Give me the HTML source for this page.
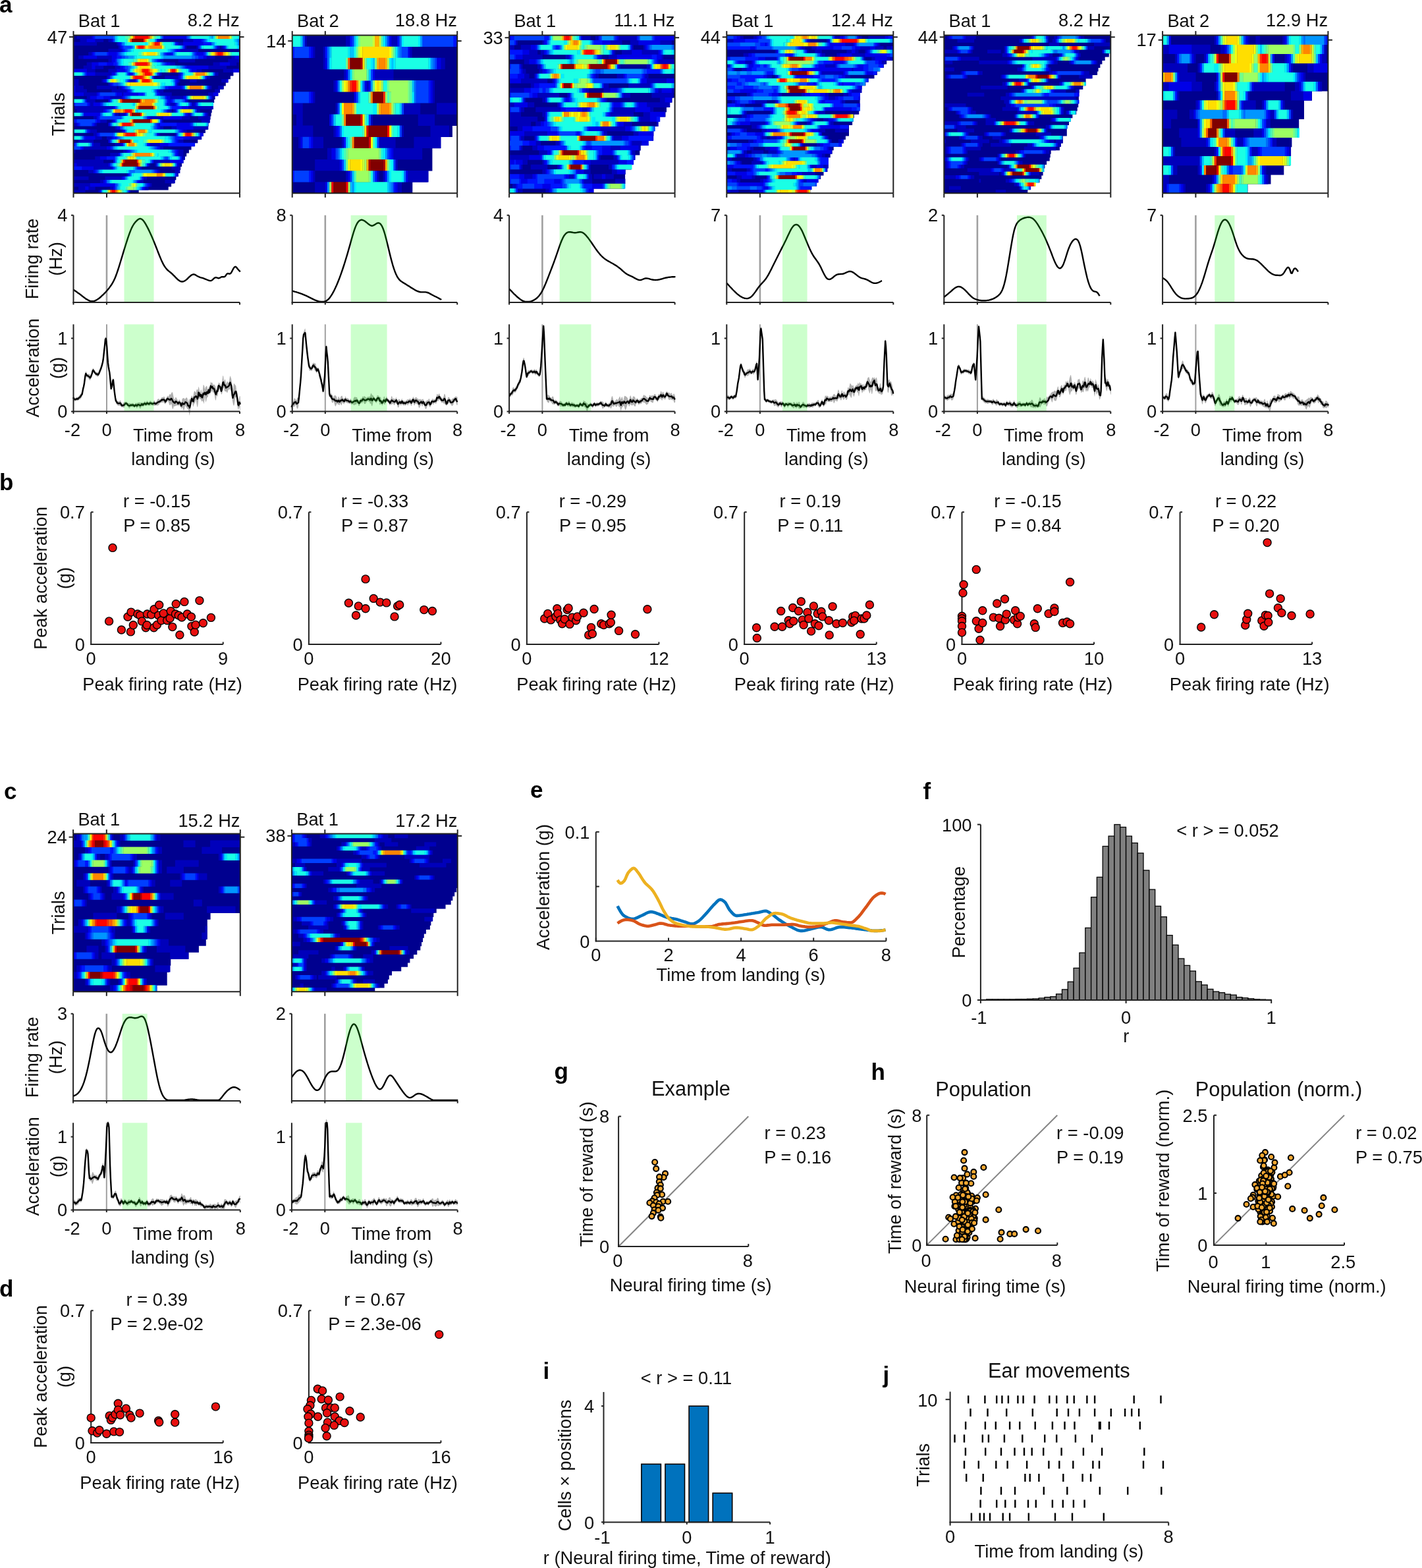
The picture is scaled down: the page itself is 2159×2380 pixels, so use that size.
<!DOCTYPE html>
<html><head><meta charset="utf-8"><title>Figure</title>
<style>
html,body{margin:0;padding:0;background:#fff;}
svg{display:block;}
text{font-family:"Liberation Sans",Arial,Helvetica,sans-serif;font-size:27.3px;fill:#111;}
</style></head>
<body>
<svg xmlns="http://www.w3.org/2000/svg" width="2159" height="2380" viewBox="0 0 2159 2380">
<rect width="2159" height="2380" fill="#fff"/>
<path d="M111.5 53.6H364v5.5H111.5zM111.5 58.7H364v5.5H111.5zM111.5 63.8H364v5.5H111.5zM111.5 68.9H364v5.5H111.5zM111.5 74H364v5.5H111.5zM111.5 79.1H364v5.5H111.5zM111.5 84.2H364v5.5H111.5zM111.5 89.3H364v5.5H111.5zM111.5 94.4H364v5.5H111.5zM111.5 99.5H364v5.5H111.5zM111.5 104.6H364v5.5H111.5zM111.5 109.7H354.4v5.5H111.5zM111.5 114.8H349.9v5.5H111.5zM111.5 119.9H346.3v5.5H111.5zM111.5 125H342.8v5.5H111.5zM111.5 130.1H339.8v5.5H111.5zM111.5 135.2H334v5.5H111.5zM111.5 140.3H330.3v5.5H111.5zM111.5 145.4H326.6v5.5H111.5zM111.5 150.5H325.2v5.5H111.5zM111.5 155.6H323.9v5.5H111.5zM111.5 160.7H322.8v5.5H111.5zM111.5 165.8H321.7v5.5H111.5zM111.5 170.9H320.6v5.5H111.5zM111.5 176H319.6v5.5H111.5zM111.5 181.1H318.1v5.5H111.5zM111.5 186.2H316.7v5.5H111.5zM111.5 191.3H315.3v5.5H111.5zM111.5 196.4H311.9v5.5H111.5zM111.5 201.5H308.5v5.5H111.5zM111.5 206.6H305.2v5.5H111.5zM111.5 211.7H300.3v5.5H111.5zM111.5 216.8H295.4v5.5H111.5zM111.5 221.9H290.5v5.5H111.5zM111.5 227H286.9v5.5H111.5zM111.5 232.1H283.2v5.5H111.5zM111.5 237.2H280.8v5.5H111.5zM111.5 242.3H278.5v5.5H111.5zM111.5 247.4H276.1v5.5H111.5zM111.5 252.5H274.2v5.5H111.5zM111.5 257.6H272.3v5.5H111.5zM111.5 262.7H270.3v5.5H111.5zM111.5 267.8H267.4v5.5H111.5zM111.5 272.9H264.5v5.5H111.5zM111.5 278H260.1v5.5H111.5zM111.5 283.1H255.7v5.5H111.5zM111.5 288.2H210.7v5.5H111.5z" fill="#00008f"/>
<path d="M116.5 53.6h23v5.4h-23zM121.6 58.7h10.4v5.4h-10.4zM144.3 58.7h12.9v5.4h-12.9zM164.5 58.7h5.4v5.4h-5.4zM240.3 58.7h2.8v5.4h-2.8zM278.1 58.7h15.5v5.4h-15.5zM111.5 63.8h35.6v5.4h-35.6zM177.2 63.8h2.8v5.4h-2.8zM270.6 63.8h7.9v5.4h-7.9zM179.7 68.9h2.8v5.4h-2.8zM280.7 68.9h2.8v5.4h-2.8zM298.4 68.9h2.8v5.4h-2.8zM331.2 68.9h2.8v5.4h-2.8zM336.2 68.9h2.8v5.4h-2.8zM164.5 74h20.5v5.4h-20.5zM273.1 74h28.1v5.4h-28.1zM134.2 79.1h5.4v5.4h-5.4zM119.1 84.2h7.9v5.4h-7.9zM146.8 84.2h23v5.4h-23zM313.5 84.2h12.9v5.4h-12.9zM351.4 84.2h5.4v5.4h-5.4zM164.5 89.3h5.4v5.4h-5.4zM242.8 89.3h5.4v5.4h-5.4zM270.6 89.3h25.6v5.4h-25.6zM346.3 89.3h18v5.4h-18zM131.7 94.4h7.9v5.4h-7.9zM258 94.4h7.9v5.4h-7.9zM323.6 94.4h10.4v5.4h-10.4zM348.9 94.4h10.4v5.4h-10.4zM126.7 99.5h12.9v5.4h-12.9zM144.3 99.5h12.9v5.4h-12.9zM174.6 99.5h7.9v5.4h-7.9zM316 99.5h28.1v5.4h-28.1zM131.7 104.6h12.9v5.4h-12.9zM164.5 104.6h12.9v5.4h-12.9zM298.4 104.6h7.9v5.4h-7.9zM338.8 104.6h15.5v5.4h-15.5zM144.3 109.7h25.6v5.4h-25.6zM242.8 109.7h2.8v5.4h-2.8zM270.6 109.7h2.8v5.4h-2.8zM326.1 109.7h5.4v5.4h-5.4zM162 114.8h2.8v5.4h-2.8zM232.7 114.8h2.8v5.4h-2.8zM250.4 114.8h20.5v5.4h-20.5zM313.5 114.8h5.4v5.4h-5.4zM111.5 119.9h7.9v5.4h-7.9zM154.4 119.9h2.8v5.4h-2.8zM197.4 119.9h7.9v5.4h-7.9zM270.6 119.9h2.8v5.4h-2.8zM288.2 119.9h10.4v5.4h-10.4zM336.2 119.9h7.9v5.4h-7.9zM111.5 125h7.9v5.4h-7.9zM164.5 125h2.8v5.4h-2.8zM268.1 125h2.8v5.4h-2.8zM114 130.1h12.9v5.4h-12.9zM146.8 130.1h30.6v5.4h-30.6zM179.7 130.1h5.4v5.4h-5.4zM318.6 130.1h2.8v5.4h-2.8zM331.2 130.1h7.9v5.4h-7.9zM114 135.2h18v5.4h-18zM169.6 135.2h23v5.4h-23zM240.3 135.2h7.9v5.4h-7.9zM326.1 135.2h7.9v5.4h-7.9zM126.7 140.3h20.5v5.4h-20.5zM184.7 140.3h2.8v5.4h-2.8zM242.8 140.3h18v5.4h-18zM316 140.3h7.9v5.4h-7.9zM131.7 145.4h5.4v5.4h-5.4zM167.1 145.4h18v5.4h-18zM258 145.4h20.5v5.4h-20.5zM321.1 145.4h2.8v5.4h-2.8zM131.7 150.5h12.9v5.4h-12.9zM283.2 150.5h2.8v5.4h-2.8zM136.8 155.6h5.4v5.4h-5.4zM258 155.6h7.9v5.4h-7.9zM290.8 155.6h5.4v5.4h-5.4zM114 160.7h58.4v5.4h-58.4zM285.7 160.7h38.2v5.4h-38.2zM116.5 165.8h40.7v5.4h-40.7zM255.4 165.8h5.4v5.4h-5.4zM263 165.8h2.8v5.4h-2.8zM298.4 165.8h5.3v5.4h-5.3zM174.6 170.9h5.4v5.4h-5.4zM182.2 170.9h7.9v5.4h-7.9zM285.7 170.9h2.8v5.4h-2.8zM313.5 170.9h2.8v5.4h-2.8zM141.8 176h5.3v5.4h-5.3zM227.7 176h20.5v5.4h-20.5zM275.6 176h12.9v5.4h-12.9zM300.9 176h18v5.4h-18zM151.9 181.1h10.4v5.4h-10.4zM169.6 181.1h2.8v5.4h-2.8zM245.3 181.1h2.8v5.4h-2.8zM305.9 181.1h12.9v5.4h-12.9zM111.5 186.2h5.3v5.4h-5.3zM144.3 186.2h2.8v5.4h-2.8zM174.6 191.3h2.8v5.4h-2.8zM242.8 191.3h5.4v5.4h-5.4zM260.5 191.3h7.9v5.4h-7.9zM293.3 191.3h23v5.4h-23zM136.8 196.4h10.4v5.4h-10.4zM184.7 196.4h2.8v5.4h-2.8zM278.1 196.4h5.4v5.4h-5.4zM141.8 201.5h5.3v5.4h-5.3zM240.3 201.5h2.8v5.4h-2.8zM265.5 201.5h2.8v5.4h-2.8zM144.3 206.6h10.4v5.4h-10.4zM162 206.6h7.9v5.4h-7.9zM288.2 206.6h18v5.4h-18zM119.1 211.7h23v5.4h-23zM270.6 211.7h7.9v5.4h-7.9zM141.8 216.8h10.4v5.4h-10.4zM174.6 216.8h10.4v5.4h-10.4zM227.7 216.8h15.4v5.4h-15.4zM126.7 221.9h35.6v5.4h-35.6zM242.8 221.9h5.4v5.4h-5.4zM111.5 227h2.8v5.4h-2.8zM187.2 227h5.4v5.4h-5.4zM270.6 227h7.9v5.4h-7.9zM167.1 232.1h12.9v5.4h-12.9zM270.6 232.1h7.9v5.4h-7.9zM144.3 237.2h7.9v5.4h-7.9zM275.6 237.2h5.4v5.4h-5.4zM111.5 242.3h45.7v5.4h-45.7zM232.7 242.3h25.6v5.4h-25.6zM116.5 247.4h48.3v5.4h-48.3zM225.1 247.4h2.8v5.4h-2.8zM235.2 247.4h2.8v5.4h-2.8zM270.6 247.4h2.8v5.4h-2.8zM141.8 252.5h28.1v5.4h-28.1zM212.5 252.5h2.8v5.4h-2.8zM260.5 252.5h12.9v5.4h-12.9zM134.2 257.6h7.9v5.4h-7.9zM240.3 257.6h2.8v5.4h-2.8zM265.5 257.6h7.9v5.4h-7.9zM192.3 262.7h2.8v5.4h-2.8zM268.1 262.7h2.8v5.4h-2.8zM111.5 267.8h23v5.4h-23zM159.5 267.8h25.6v5.4h-25.6zM217.6 267.8h5.4v5.4h-5.4zM151.9 272.9h5.3v5.4h-5.3zM212.5 272.9h5.4v5.4h-5.4zM250.4 272.9h15.4v5.4h-15.4zM111.5 278h25.6v5.4h-25.6zM227.7 278h2.8v5.4h-2.8zM119.1 283.1h10.4v5.4h-10.4zM134.2 283.1h10.4v5.4h-10.4zM167.1 283.1h5.4v5.4h-5.4zM220.1 283.1h5.4v5.4h-5.4zM111.5 288.2h18v5.4h-18zM149.4 288.2h2.8v5.4h-2.8z" fill="#0000bb"/>
<path d="M139.3 53.6h2.8v5.4h-2.8zM247.9 53.6h35.7v5.4h-35.7zM131.7 58.7h12.9v5.4h-12.9zM169.6 58.7h2.8v5.4h-2.8zM237.8 58.7h2.8v5.4h-2.8zM293.3 58.7h12.9v5.4h-12.9zM179.7 63.8h2.8v5.4h-2.8zM268.1 63.8h2.8v5.4h-2.8zM278.1 63.8h30.6v5.4h-30.6zM182.2 68.9h2.8v5.4h-2.8zM328.6 68.9h2.8v5.4h-2.8zM338.8 68.9h2.8v5.4h-2.8zM184.7 74h2.8v5.4h-2.8zM268.1 74h5.4v5.4h-5.4zM139.3 79.1h2.8v5.4h-2.8zM164.5 79.1h12.9v5.4h-12.9zM252.9 79.1h7.9v5.4h-7.9zM298.4 79.1h10.4v5.4h-10.4zM126.7 84.2h20.5v5.4h-20.5zM169.6 84.2h7.9v5.4h-7.9zM308.5 84.2h5.3v5.4h-5.3zM356.4 84.2h7.9v5.4h-7.9zM169.6 89.3h5.3v5.4h-5.3zM240.3 89.3h2.8v5.4h-2.8zM139.3 94.4h10.4v5.4h-10.4zM162 94.4h10.4v5.4h-10.4zM252.9 94.4h5.4v5.4h-5.4zM333.7 94.4h15.4v5.4h-15.4zM139.3 99.5h5.3v5.4h-5.3zM182.2 99.5h5.4v5.4h-5.4zM283.2 99.5h33.1v5.4h-33.1zM111.5 104.6h20.5v5.4h-20.5zM177.2 104.6h12.9v5.4h-12.9zM290.8 104.6h7.9v5.4h-7.9zM353.9 104.6h10.4v5.4h-10.4zM131.7 109.7h12.9v5.4h-12.9zM169.6 109.7h5.3v5.4h-5.3zM194.8 109.7h5.4v5.4h-5.4zM240.3 109.7h2.8v5.4h-2.8zM273.1 109.7h2.8v5.4h-2.8zM164.5 114.8h2.8v5.4h-2.8zM270.6 114.8h2.8v5.4h-2.8zM156.9 119.9h2.8v5.4h-2.8zM194.8 119.9h2.8v5.4h-2.8zM204.9 119.9h2.8v5.4h-2.8zM268.1 119.9h2.8v5.4h-2.8zM343.8 119.9h2.8v5.4h-2.8zM167.1 125h2.8v5.4h-2.8zM111.5 130.1h2.8v5.4h-2.8zM184.7 130.1h2.8v5.4h-2.8zM255.4 130.1h20.5v5.4h-20.5zM316 130.1h2.8v5.4h-2.8zM111.5 135.2h2.8v5.4h-2.8zM192.3 135.2h2.8v5.4h-2.8zM237.8 135.2h2.8v5.4h-2.8zM111.5 140.3h15.5v5.4h-15.5zM146.8 140.3h2.8v5.4h-2.8zM177.2 140.3h7.9v5.4h-7.9zM187.2 140.3h23v5.4h-23zM240.3 140.3h2.8v5.4h-2.8zM323.6 140.3h7.9v5.4h-7.9zM136.8 145.4h10.4v5.4h-10.4zM156.9 145.4h10.4v5.4h-10.4zM184.7 145.4h2.8v5.4h-2.8zM252.9 145.4h5.4v5.4h-5.4zM278.1 145.4h2.8v5.4h-2.8zM129.2 150.5h2.8v5.4h-2.8zM164.5 150.5h2.8v5.4h-2.8zM255.4 150.5h5.4v5.4h-5.4zM280.7 150.5h2.8v5.4h-2.8zM134.2 155.6h2.8v5.4h-2.8zM141.8 155.6h10.4v5.4h-10.4zM252.9 155.6h5.4v5.4h-5.4zM265.5 155.6h2.8v5.4h-2.8zM295.8 155.6h2.8v5.4h-2.8zM172.1 160.7h2.8v5.4h-2.8zM275.6 160.7h10.4v5.4h-10.4zM156.9 165.8h2.8v5.4h-2.8zM252.9 165.8h2.8v5.4h-2.8zM265.5 165.8h2.8v5.4h-2.8zM126.7 170.9h25.6v5.4h-25.6zM189.8 170.9h2.8v5.4h-2.8zM283.2 170.9h2.8v5.4h-2.8zM288.2 170.9h2.8v5.4h-2.8zM311 170.9h2.8v5.4h-2.8zM146.8 176h2.8v5.4h-2.8zM225.1 176h2.8v5.4h-2.8zM247.9 176h28.1v5.4h-28.1zM146.8 181.1h5.4v5.4h-5.4zM172.1 181.1h2.8v5.4h-2.8zM116.5 186.2h2.8v5.4h-2.8zM141.8 186.2h2.8v5.4h-2.8zM164.5 186.2h2.8v5.4h-2.8zM240.3 186.2h2.8v5.4h-2.8zM268.1 186.2h20.5v5.4h-20.5zM177.2 191.3h5.3v5.4h-5.3zM240.3 191.3h2.8v5.4h-2.8zM268.1 191.3h25.6v5.4h-25.6zM134.2 196.4h2.8v5.4h-2.8zM187.2 196.4h2.8v5.4h-2.8zM275.6 196.4h2.8v5.4h-2.8zM146.8 201.5h2.8v5.4h-2.8zM237.8 201.5h2.8v5.4h-2.8zM303.4 201.5h5.4v5.4h-5.4zM129.2 206.6h15.4v5.4h-15.4zM169.6 206.6h2.8v5.4h-2.8zM278.1 206.6h10.4v5.4h-10.4zM164.5 211.7h2.8v5.4h-2.8zM268.1 211.7h2.8v5.4h-2.8zM139.3 216.8h2.8v5.4h-2.8zM184.7 216.8h2.8v5.4h-2.8zM225.1 216.8h2.8v5.4h-2.8zM242.8 216.8h12.9v5.4h-12.9zM124.1 221.9h2.8v5.4h-2.8zM162 221.9h5.4v5.4h-5.4zM240.3 221.9h2.8v5.4h-2.8zM192.3 227h2.8v5.4h-2.8zM268.1 227h2.8v5.4h-2.8zM179.7 232.1h2.8v5.4h-2.8zM268.1 232.1h2.8v5.4h-2.8zM151.9 237.2h10.4v5.4h-10.4zM172.1 242.3h2.8v5.4h-2.8zM258 242.3h20.5v5.4h-20.5zM111.5 247.4h5.3v5.4h-5.3zM164.5 247.4h2.8v5.4h-2.8zM268.1 247.4h2.8v5.4h-2.8zM124.1 252.5h18v5.4h-18zM169.6 252.5h2.8v5.4h-2.8zM210 252.5h2.8v5.4h-2.8zM141.8 257.6h2.8v5.4h-2.8zM237.8 257.6h2.8v5.4h-2.8zM184.7 267.8h2.8v5.4h-2.8zM156.9 272.9h2.8v5.4h-2.8zM210 272.9h2.8v5.4h-2.8zM136.8 278h38.2v5.4h-38.2zM225.1 278h2.8v5.4h-2.8zM129.2 283.1h5.3v5.4h-5.3zM172.1 283.1h2.8v5.4h-2.8zM217.6 283.1h2.8v5.4h-2.8zM194.8 288.2h2.8v5.4h-2.8z" fill="#0000e7"/>
<path d="M141.8 53.6h2.8v5.4h-2.8zM305.9 58.7h2.8v5.4h-2.8zM182.2 63.8h2.8v5.4h-2.8zM265.5 63.8h2.8v5.4h-2.8zM308.5 63.8h12.9v5.4h-12.9zM184.7 68.9h2.8v5.4h-2.8zM278.1 68.9h2.8v5.4h-2.8zM300.9 68.9h2.8v5.4h-2.8zM187.2 74h2.8v5.4h-2.8zM265.5 74h2.8v5.4h-2.8zM141.8 79.1h2.8v5.4h-2.8zM162 79.1h2.8v5.4h-2.8zM177.2 79.1h2.8v5.4h-2.8zM250.4 79.1h2.8v5.4h-2.8zM260.5 79.1h2.8v5.4h-2.8zM295.8 79.1h2.8v5.4h-2.8zM308.5 79.1h2.8v5.4h-2.8zM177.2 84.2h7.9v5.4h-7.9zM300.9 84.2h7.9v5.4h-7.9zM174.6 89.3h2.8v5.4h-2.8zM237.8 89.3h2.8v5.4h-2.8zM149.4 94.4h12.9v5.4h-12.9zM172.1 94.4h5.3v5.4h-5.3zM250.4 94.4h2.8v5.4h-2.8zM187.2 99.5h2.8v5.4h-2.8zM280.7 99.5h2.8v5.4h-2.8zM189.8 104.6h2.8v5.4h-2.8zM288.2 104.6h2.8v5.4h-2.8zM129.2 109.7h2.8v5.4h-2.8zM199.9 109.7h2.8v5.4h-2.8zM273.1 114.8h2.8v5.4h-2.8zM311 114.8h2.8v5.4h-2.8zM159.5 119.9h2.8v5.4h-2.8zM265.5 119.9h2.8v5.4h-2.8zM169.6 125h2.8v5.4h-2.8zM265.5 125h2.8v5.4h-2.8zM187.2 130.1h2.8v5.4h-2.8zM250.4 130.1h5.4v5.4h-5.4zM275.6 130.1h2.8v5.4h-2.8zM194.8 135.2h2.8v5.4h-2.8zM149.4 140.3h2.8v5.4h-2.8zM174.6 140.3h2.8v5.4h-2.8zM210 140.3h7.9v5.4h-7.9zM237.8 140.3h2.8v5.4h-2.8zM146.8 145.4h10.4v5.4h-10.4zM187.2 145.4h2.8v5.4h-2.8zM250.4 145.4h2.8v5.4h-2.8zM280.7 145.4h2.8v5.4h-2.8zM318.6 145.4h2.8v5.4h-2.8zM252.9 150.5h2.8v5.4h-2.8zM260.5 150.5h2.8v5.4h-2.8zM111.5 155.6h2.8v5.4h-2.8zM131.7 155.6h2.8v5.4h-2.8zM151.9 155.6h2.8v5.4h-2.8zM288.2 155.6h2.8v5.4h-2.8zM260.5 160.7h15.4v5.4h-15.4zM159.5 165.8h2.8v5.4h-2.8zM172.1 170.9h2.8v5.4h-2.8zM280.7 170.9h2.8v5.4h-2.8zM149.4 176h2.8v5.4h-2.8zM222.6 176h2.8v5.4h-2.8zM111.5 181.1h5.3v5.4h-5.3zM144.3 181.1h2.8v5.4h-2.8zM242.8 181.1h2.8v5.4h-2.8zM119.1 186.2h2.8v5.4h-2.8zM139.3 186.2h2.8v5.4h-2.8zM237.8 186.2h2.8v5.4h-2.8zM242.8 186.2h25.6v5.4h-25.6zM288.2 186.2h2.8v5.4h-2.8zM237.8 191.3h2.8v5.4h-2.8zM131.7 196.4h2.8v5.4h-2.8zM273.1 196.4h2.8v5.4h-2.8zM149.4 201.5h2.8v5.4h-2.8zM126.7 206.6h2.8v5.4h-2.8zM172.1 206.6h5.3v5.4h-5.3zM265.5 206.6h12.9v5.4h-12.9zM265.5 211.7h2.8v5.4h-2.8zM111.5 216.8h2.8v5.4h-2.8zM222.6 216.8h2.8v5.4h-2.8zM255.4 216.8h40.7v5.4h-40.7zM121.6 221.9h2.8v5.4h-2.8zM167.1 221.9h2.8v5.4h-2.8zM237.8 221.9h2.8v5.4h-2.8zM194.8 227h2.8v5.4h-2.8zM265.5 227h2.8v5.4h-2.8zM265.5 232.1h2.8v5.4h-2.8zM162 237.2h12.9v5.4h-12.9zM273.1 237.2h2.8v5.4h-2.8zM230.2 242.3h2.8v5.4h-2.8zM222.6 247.4h2.8v5.4h-2.8zM111.5 252.5h12.9v5.4h-12.9zM207.4 252.5h2.8v5.4h-2.8zM144.3 257.6h2.8v5.4h-2.8zM235.2 257.6h2.8v5.4h-2.8zM194.8 262.7h2.8v5.4h-2.8zM265.5 262.7h2.8v5.4h-2.8zM187.2 267.8h2.8v5.4h-2.8zM215 267.8h2.8v5.4h-2.8zM159.5 272.9h2.8v5.4h-2.8zM207.4 272.9h2.8v5.4h-2.8zM222.6 278h2.8v5.4h-2.8zM215 283.1h2.8v5.4h-2.8zM151.9 288.2h2.8v5.4h-2.8z" fill="#0013ff"/>
<path d="M144.3 53.6h28.1v5.4h-28.1zM245.3 53.6h2.8v5.4h-2.8zM283.2 53.6h2.8v5.4h-2.8zM172.1 58.7h2.8v5.4h-2.8zM308.5 58.7h2.8v5.4h-2.8zM187.2 68.9h12.9v5.4h-12.9zM326.1 68.9h2.8v5.4h-2.8zM341.3 68.9h2.8v5.4h-2.8zM189.8 74h2.8v5.4h-2.8zM263 74h2.8v5.4h-2.8zM144.3 79.1h18v5.4h-18zM179.7 79.1h2.8v5.4h-2.8zM247.9 79.1h2.8v5.4h-2.8zM293.3 79.1h2.8v5.4h-2.8zM311 79.1h2.8v5.4h-2.8zM184.7 84.2h5.3v5.4h-5.3zM295.8 84.2h5.3v5.4h-5.3zM235.2 89.3h2.8v5.4h-2.8zM177.2 94.4h2.8v5.4h-2.8zM247.9 94.4h2.8v5.4h-2.8zM189.8 99.5h5.3v5.4h-5.3zM278.1 99.5h2.8v5.4h-2.8zM192.3 104.6h2.8v5.4h-2.8zM174.6 109.7h2.8v5.4h-2.8zM192.3 109.7h2.8v5.4h-2.8zM237.8 109.7h2.8v5.4h-2.8zM275.6 109.7h2.8v5.4h-2.8zM323.6 109.7h2.8v5.4h-2.8zM167.1 114.8h2.8v5.4h-2.8zM230.2 114.8h2.8v5.4h-2.8zM192.3 119.9h2.8v5.4h-2.8zM172.1 125h7.9v5.4h-7.9zM189.8 130.1h2.8v5.4h-2.8zM278.1 130.1h2.8v5.4h-2.8zM313.5 130.1h2.8v5.4h-2.8zM197.4 135.2h2.8v5.4h-2.8zM235.2 135.2h2.8v5.4h-2.8zM151.9 140.3h23v5.4h-23zM217.6 140.3h2.8v5.4h-2.8zM189.8 145.4h2.8v5.4h-2.8zM167.1 150.5h2.8v5.4h-2.8zM263 150.5h2.8v5.4h-2.8zM278.1 150.5h2.8v5.4h-2.8zM114 155.6h18v5.4h-18zM154.4 155.6h2.8v5.4h-2.8zM250.4 155.6h2.8v5.4h-2.8zM268.1 155.6h2.8v5.4h-2.8zM298.4 155.6h2.8v5.4h-2.8zM174.6 160.7h2.8v5.4h-2.8zM258 160.7h2.8v5.4h-2.8zM162 165.8h2.8v5.4h-2.8zM250.4 165.8h2.8v5.4h-2.8zM295.8 165.8h2.8v5.4h-2.8zM151.9 170.9h2.8v5.4h-2.8zM308.5 170.9h2.8v5.4h-2.8zM151.9 176h33.1v5.4h-33.1zM116.5 181.1h28.1v5.4h-28.1zM174.6 181.1h2.8v5.4h-2.8zM121.6 186.2h18v5.4h-18zM167.1 186.2h2.8v5.4h-2.8zM235.2 186.2h2.8v5.4h-2.8zM290.8 186.2h2.8v5.4h-2.8zM182.2 191.3h2.8v5.4h-2.8zM235.2 191.3h2.8v5.4h-2.8zM270.6 196.4h2.8v5.4h-2.8zM151.9 201.5h20.5v5.4h-20.5zM268.1 201.5h2.8v5.4h-2.8zM177.2 206.6h2.8v5.4h-2.8zM263 206.6h2.8v5.4h-2.8zM167.1 211.7h2.8v5.4h-2.8zM263 211.7h2.8v5.4h-2.8zM114 216.8h2.8v5.4h-2.8zM111.5 221.9h10.4v5.4h-10.4zM169.6 221.9h2.8v5.4h-2.8zM235.2 221.9h2.8v5.4h-2.8zM197.4 227h2.8v5.4h-2.8zM263 227h2.8v5.4h-2.8zM250.4 237.2h5.4v5.4h-5.4zM167.1 247.4h2.8v5.4h-2.8zM237.8 247.4h2.8v5.4h-2.8zM172.1 252.5h2.8v5.4h-2.8zM146.8 257.6h2.8v5.4h-2.8zM232.7 257.6h2.8v5.4h-2.8zM174.6 278h2.8v5.4h-2.8zM220.1 278h2.8v5.4h-2.8zM174.6 283.1h2.8v5.4h-2.8z" fill="#003fff"/>
<path d="M172.1 53.6h2.8v5.4h-2.8zM285.7 53.6h2.8v5.4h-2.8zM235.2 58.7h2.8v5.4h-2.8zM311 58.7h2.8v5.4h-2.8zM361.5 58.7h2.8v5.4h-2.8zM184.7 63.8h2.8v5.4h-2.8zM321.1 63.8h2.8v5.4h-2.8zM361.5 63.8h2.8v5.4h-2.8zM199.9 68.9h2.8v5.4h-2.8zM275.6 68.9h2.8v5.4h-2.8zM303.4 68.9h2.8v5.4h-2.8zM192.3 74h2.8v5.4h-2.8zM260.5 74h2.8v5.4h-2.8zM182.2 79.1h2.8v5.4h-2.8zM263 79.1h2.8v5.4h-2.8zM189.8 84.2h5.3v5.4h-5.3zM290.8 84.2h5.4v5.4h-5.4zM177.2 89.3h2.8v5.4h-2.8zM232.7 89.3h2.8v5.4h-2.8zM245.3 94.4h2.8v5.4h-2.8zM194.8 99.5h2.8v5.4h-2.8zM275.6 99.5h2.8v5.4h-2.8zM194.8 104.6h2.8v5.4h-2.8zM285.7 104.6h2.8v5.4h-2.8zM126.7 109.7h2.8v5.4h-2.8zM202.4 109.7h2.8v5.4h-2.8zM275.6 114.8h2.8v5.4h-2.8zM207.4 119.9h2.8v5.4h-2.8zM263 119.9h2.8v5.4h-2.8zM179.7 125h2.8v5.4h-2.8zM192.3 130.1h2.8v5.4h-2.8zM247.9 130.1h2.8v5.4h-2.8zM235.2 140.3h2.8v5.4h-2.8zM192.3 145.4h2.8v5.4h-2.8zM247.9 145.4h2.8v5.4h-2.8zM316 145.4h2.8v5.4h-2.8zM126.7 150.5h2.8v5.4h-2.8zM250.4 150.5h2.8v5.4h-2.8zM275.6 150.5h2.8v5.4h-2.8zM285.7 155.6h2.8v5.4h-2.8zM164.5 165.8h2.8v5.4h-2.8zM247.9 165.8h2.8v5.4h-2.8zM268.1 165.8h2.8v5.4h-2.8zM124.1 170.9h2.8v5.4h-2.8zM169.6 170.9h2.8v5.4h-2.8zM192.3 170.9h2.8v5.4h-2.8zM278.1 170.9h2.8v5.4h-2.8zM290.8 170.9h2.8v5.4h-2.8zM220.1 176h2.8v5.4h-2.8zM184.7 191.3h2.8v5.4h-2.8zM232.7 191.3h2.8v5.4h-2.8zM129.2 196.4h2.8v5.4h-2.8zM189.8 196.4h2.8v5.4h-2.8zM172.1 201.5h2.8v5.4h-2.8zM235.2 201.5h2.8v5.4h-2.8zM300.9 201.5h2.8v5.4h-2.8zM124.1 206.6h2.8v5.4h-2.8zM179.7 206.6h2.8v5.4h-2.8zM260.5 206.6h2.8v5.4h-2.8zM260.5 211.7h2.8v5.4h-2.8zM136.8 216.8h2.8v5.4h-2.8zM187.2 216.8h2.8v5.4h-2.8zM232.7 221.9h2.8v5.4h-2.8zM199.9 227h2.8v5.4h-2.8zM260.5 227h2.8v5.4h-2.8zM182.2 232.1h2.8v5.4h-2.8zM263 232.1h2.8v5.4h-2.8zM174.6 237.2h2.8v5.4h-2.8zM247.9 237.2h2.8v5.4h-2.8zM174.6 242.3h2.8v5.4h-2.8zM227.7 242.3h2.8v5.4h-2.8zM265.5 247.4h2.8v5.4h-2.8zM204.9 252.5h2.8v5.4h-2.8zM197.4 257.6h7.9v5.4h-7.9zM230.2 257.6h2.8v5.4h-2.8zM197.4 262.7h2.8v5.4h-2.8zM189.8 267.8h2.8v5.4h-2.8zM212.5 267.8h2.8v5.4h-2.8zM162 272.9h2.8v5.4h-2.8zM204.9 272.9h2.8v5.4h-2.8zM177.2 278h2.8v5.4h-2.8zM212.5 283.1h2.8v5.4h-2.8zM192.3 288.2h2.8v5.4h-2.8z" fill="#006bff"/>
<path d="M242.8 53.6h2.8v5.4h-2.8zM321.1 53.6h2.8v5.4h-2.8zM359 58.7h2.8v5.4h-2.8zM187.2 63.8h2.8v5.4h-2.8zM263 63.8h2.8v5.4h-2.8zM323.6 63.8h2.8v5.4h-2.8zM323.6 68.9h2.8v5.4h-2.8zM194.8 74h2.8v5.4h-2.8zM258 74h2.8v5.4h-2.8zM184.7 79.1h2.8v5.4h-2.8zM245.3 79.1h2.8v5.4h-2.8zM290.8 79.1h2.8v5.4h-2.8zM194.8 84.2h7.9v5.4h-7.9zM247.9 84.2h43.2v5.4h-43.2zM179.7 89.3h2.8v5.4h-2.8zM230.2 89.3h2.8v5.4h-2.8zM179.7 94.4h2.8v5.4h-2.8zM197.4 99.5h2.8v5.4h-2.8zM273.1 99.5h2.8v5.4h-2.8zM169.6 114.8h2.8v5.4h-2.8zM308.5 114.8h2.8v5.4h-2.8zM162 119.9h2.8v5.4h-2.8zM189.8 119.9h2.8v5.4h-2.8zM182.2 125h2.8v5.4h-2.8zM263 125h2.8v5.4h-2.8zM194.8 130.1h2.8v5.4h-2.8zM245.3 130.1h2.8v5.4h-2.8zM199.9 135.2h2.8v5.4h-2.8zM232.7 135.2h2.8v5.4h-2.8zM194.8 145.4h2.8v5.4h-2.8zM245.3 145.4h2.8v5.4h-2.8zM283.2 145.4h2.8v5.4h-2.8zM265.5 150.5h10.4v5.4h-10.4zM156.9 155.6h2.8v5.4h-2.8zM270.6 155.6h2.8v5.4h-2.8zM177.2 160.7h2.8v5.4h-2.8zM255.4 160.7h2.8v5.4h-2.8zM167.1 165.8h2.8v5.4h-2.8zM154.4 170.9h2.8v5.4h-2.8zM184.7 176h2.8v5.4h-2.8zM217.6 176h2.8v5.4h-2.8zM232.7 186.2h2.8v5.4h-2.8zM313.5 186.2h2.8v5.4h-2.8zM268.1 196.4h2.8v5.4h-2.8zM182.2 206.6h2.8v5.4h-2.8zM258 206.6h2.8v5.4h-2.8zM220.1 216.8h2.8v5.4h-2.8zM172.1 221.9h2.8v5.4h-2.8zM230.2 221.9h2.8v5.4h-2.8zM202.4 227h2.8v5.4h-2.8zM255.4 237.2h2.8v5.4h-2.8zM270.6 237.2h2.8v5.4h-2.8zM169.6 247.4h2.8v5.4h-2.8zM220.1 247.4h2.8v5.4h-2.8zM174.6 252.5h2.8v5.4h-2.8zM149.4 257.6h2.8v5.4h-2.8zM194.8 257.6h2.8v5.4h-2.8zM204.9 257.6h25.6v5.4h-25.6zM263 262.7h2.8v5.4h-2.8zM164.5 272.9h2.8v5.4h-2.8zM202.4 272.9h2.8v5.4h-2.8zM217.6 278h2.8v5.4h-2.8zM177.2 283.1h2.8v5.4h-2.8z" fill="#0096ff"/>
<path d="M174.6 53.6h2.8v5.4h-2.8zM288.2 53.6h2.8v5.4h-2.8zM318.6 53.6h2.8v5.4h-2.8zM174.6 58.7h2.8v5.4h-2.8zM313.5 58.7h2.8v5.4h-2.8zM356.4 58.7h2.8v5.4h-2.8zM359 63.8h2.8v5.4h-2.8zM202.4 68.9h2.8v5.4h-2.8zM273.1 68.9h2.8v5.4h-2.8zM343.8 68.9h2.8v5.4h-2.8zM361.5 68.9h2.8v5.4h-2.8zM197.4 74h2.8v5.4h-2.8zM255.4 74h2.8v5.4h-2.8zM187.2 79.1h2.8v5.4h-2.8zM242.8 79.1h2.8v5.4h-2.8zM265.5 79.1h2.8v5.4h-2.8zM313.5 79.1h2.8v5.4h-2.8zM202.4 84.2h2.8v5.4h-2.8zM245.3 84.2h2.8v5.4h-2.8zM182.2 89.3h2.8v5.4h-2.8zM182.2 94.4h2.8v5.4h-2.8zM242.8 94.4h2.8v5.4h-2.8zM199.9 99.5h2.8v5.4h-2.8zM268.1 99.5h5.4v5.4h-5.4zM124.1 109.7h2.8v5.4h-2.8zM177.2 109.7h2.8v5.4h-2.8zM189.8 109.7h2.8v5.4h-2.8zM235.2 109.7h2.8v5.4h-2.8zM278.1 109.7h2.8v5.4h-2.8zM321.1 109.7h2.8v5.4h-2.8zM260.5 119.9h2.8v5.4h-2.8zM184.7 125h2.8v5.4h-2.8zM242.8 130.1h2.8v5.4h-2.8zM311 130.1h2.8v5.4h-2.8zM220.1 140.3h2.8v5.4h-2.8zM242.8 145.4h2.8v5.4h-2.8zM124.1 150.5h2.8v5.4h-2.8zM169.6 150.5h2.8v5.4h-2.8zM247.9 150.5h2.8v5.4h-2.8zM159.5 155.6h2.8v5.4h-2.8zM202.4 155.6h2.8v5.4h-2.8zM247.9 155.6h2.8v5.4h-2.8zM300.9 155.6h2.8v5.4h-2.8zM207.4 165.8h2.8v5.4h-2.8zM245.3 165.8h2.8v5.4h-2.8zM293.3 165.8h2.8v5.4h-2.8zM121.6 170.9h2.8v5.4h-2.8zM293.3 170.9h2.8v5.4h-2.8zM305.9 170.9h2.8v5.4h-2.8zM177.2 181.1h2.8v5.4h-2.8zM240.3 181.1h2.8v5.4h-2.8zM169.6 186.2h2.8v5.4h-2.8zM293.3 186.2h2.8v5.4h-2.8zM187.2 191.3h2.8v5.4h-2.8zM230.2 191.3h2.8v5.4h-2.8zM111.5 196.4h2.8v5.4h-2.8zM265.5 196.4h2.8v5.4h-2.8zM232.7 201.5h2.8v5.4h-2.8zM270.6 201.5h2.8v5.4h-2.8zM121.6 206.6h2.8v5.4h-2.8zM184.7 206.6h2.8v5.4h-2.8zM255.4 206.6h2.8v5.4h-2.8zM169.6 211.7h2.8v5.4h-2.8zM258 211.7h2.8v5.4h-2.8zM116.5 216.8h2.8v5.4h-2.8zM134.2 216.8h2.8v5.4h-2.8zM174.6 221.9h2.8v5.4h-2.8zM227.7 221.9h2.8v5.4h-2.8zM204.9 227h2.8v5.4h-2.8zM258 227h2.8v5.4h-2.8zM184.7 232.1h2.8v5.4h-2.8zM260.5 232.1h2.8v5.4h-2.8zM177.2 237.2h2.8v5.4h-2.8zM245.3 237.2h2.8v5.4h-2.8zM240.3 247.4h2.8v5.4h-2.8zM202.4 252.5h2.8v5.4h-2.8zM151.9 257.6h2.8v5.4h-2.8zM192.3 267.8h2.8v5.4h-2.8zM179.7 278h2.8v5.4h-2.8zM179.7 283.1h2.8v5.4h-2.8zM210 283.1h2.8v5.4h-2.8zM154.4 288.2h2.8v5.4h-2.8z" fill="#00c2ff"/>
<path d="M177.2 53.6h2.8v5.4h-2.8zM316 53.6h2.8v5.4h-2.8zM323.6 53.6h2.8v5.4h-2.8zM361.5 53.6h2.8v5.4h-2.8zM177.2 58.7h2.8v5.4h-2.8zM232.7 58.7h2.8v5.4h-2.8zM316 58.7h2.8v5.4h-2.8zM353.9 58.7h2.8v5.4h-2.8zM189.8 63.8h2.8v5.4h-2.8zM220.1 63.8h2.8v5.4h-2.8zM260.5 63.8h2.8v5.4h-2.8zM326.1 63.8h2.8v5.4h-2.8zM356.4 63.8h2.8v5.4h-2.8zM270.6 68.9h2.8v5.4h-2.8zM305.9 68.9h2.8v5.4h-2.8zM321.1 68.9h2.8v5.4h-2.8zM359 68.9h2.8v5.4h-2.8zM199.9 74h2.8v5.4h-2.8zM252.9 74h2.8v5.4h-2.8zM189.8 79.1h2.8v5.4h-2.8zM288.2 79.1h2.8v5.4h-2.8zM361.5 79.1h2.8v5.4h-2.8zM204.9 84.2h2.8v5.4h-2.8zM242.8 84.2h2.8v5.4h-2.8zM184.7 89.3h2.8v5.4h-2.8zM184.7 94.4h2.8v5.4h-2.8zM237.8 94.4h5.4v5.4h-5.4zM202.4 99.5h2.8v5.4h-2.8zM265.5 99.5h2.8v5.4h-2.8zM197.4 104.6h2.8v5.4h-2.8zM242.8 104.6h2.8v5.4h-2.8zM283.2 104.6h2.8v5.4h-2.8zM204.9 109.7h2.8v5.4h-2.8zM172.1 114.8h2.8v5.4h-2.8zM187.2 119.9h2.8v5.4h-2.8zM258 119.9h2.8v5.4h-2.8zM245.3 125h5.3v5.4h-5.3zM260.5 125h2.8v5.4h-2.8zM197.4 130.1h2.8v5.4h-2.8zM240.3 130.1h2.8v5.4h-2.8zM280.7 130.1h2.8v5.4h-2.8zM202.4 135.2h2.8v5.4h-2.8zM230.2 135.2h2.8v5.4h-2.8zM232.7 140.3h2.8v5.4h-2.8zM197.4 145.4h2.8v5.4h-2.8zM240.3 145.4h2.8v5.4h-2.8zM111.5 150.5h2.8v5.4h-2.8zM162 155.6h2.8v5.4h-2.8zM199.9 155.6h2.8v5.4h-2.8zM273.1 155.6h2.8v5.4h-2.8zM283.2 155.6h2.8v5.4h-2.8zM303.4 155.6h2.8v5.4h-2.8zM321.1 155.6h2.8v5.4h-2.8zM179.7 160.7h2.8v5.4h-2.8zM252.9 160.7h2.8v5.4h-2.8zM204.9 165.8h2.8v5.4h-2.8zM210 165.8h2.8v5.4h-2.8zM242.8 165.8h2.8v5.4h-2.8zM111.5 170.9h2.8v5.4h-2.8zM156.9 170.9h2.8v5.4h-2.8zM167.1 170.9h2.8v5.4h-2.8zM275.6 170.9h2.8v5.4h-2.8zM187.2 176h2.8v5.4h-2.8zM215 176h2.8v5.4h-2.8zM179.7 181.1h2.8v5.4h-2.8zM230.2 186.2h2.8v5.4h-2.8zM295.8 186.2h2.8v5.4h-2.8zM311 186.2h2.8v5.4h-2.8zM189.8 191.3h2.8v5.4h-2.8zM227.7 191.3h2.8v5.4h-2.8zM126.7 196.4h2.8v5.4h-2.8zM192.3 196.4h2.8v5.4h-2.8zM225.1 196.4h5.4v5.4h-5.4zM174.6 201.5h2.8v5.4h-2.8zM298.4 201.5h2.8v5.4h-2.8zM111.5 206.6h2.8v5.4h-2.8zM187.2 206.6h2.8v5.4h-2.8zM250.4 206.6h5.4v5.4h-5.4zM202.4 211.7h7.9v5.4h-7.9zM255.4 211.7h2.8v5.4h-2.8zM217.6 216.8h2.8v5.4h-2.8zM177.2 221.9h2.8v5.4h-2.8zM225.1 221.9h2.8v5.4h-2.8zM207.4 227h2.8v5.4h-2.8zM255.4 227h2.8v5.4h-2.8zM237.8 232.1h2.8v5.4h-2.8zM207.4 237.2h5.4v5.4h-5.4zM242.8 237.2h2.8v5.4h-2.8zM258 237.2h2.8v5.4h-2.8zM268.1 237.2h2.8v5.4h-2.8zM177.2 242.3h2.8v5.4h-2.8zM225.1 242.3h2.8v5.4h-2.8zM172.1 247.4h2.8v5.4h-2.8zM177.2 252.5h2.8v5.4h-2.8zM154.4 257.6h2.8v5.4h-2.8zM192.3 257.6h2.8v5.4h-2.8zM199.9 262.7h2.8v5.4h-2.8zM260.5 262.7h2.8v5.4h-2.8zM210 267.8h2.8v5.4h-2.8zM167.1 272.9h2.8v5.4h-2.8zM199.9 272.9h2.8v5.4h-2.8zM182.2 278h2.8v5.4h-2.8zM215 278h2.8v5.4h-2.8zM207.4 283.1h2.8v5.4h-2.8zM189.8 288.2h2.8v5.4h-2.8z" fill="#00eeff"/>
<path d="M179.7 53.6h10.4v5.4h-10.4zM237.8 53.6h5.4v5.4h-5.4zM290.8 53.6h25.6v5.4h-25.6zM353.9 53.6h7.9v5.4h-7.9zM179.7 58.7h12.9v5.4h-12.9zM227.7 58.7h5.3v5.4h-5.3zM318.6 58.7h35.6v5.4h-35.6zM192.3 63.8h28.1v5.4h-28.1zM222.6 63.8h2.8v5.4h-2.8zM247.9 63.8h12.9v5.4h-12.9zM328.6 63.8h28.1v5.4h-28.1zM250.4 68.9h20.5v5.4h-20.5zM308.5 68.9h12.9v5.4h-12.9zM346.3 68.9h12.9v5.4h-12.9zM202.4 74h50.8v5.4h-50.8zM192.3 79.1h18v5.4h-18zM268.1 79.1h20.5v5.4h-20.5zM351.4 79.1h10.4v5.4h-10.4zM207.4 84.2h35.7v5.4h-35.7zM187.2 89.3h15.5v5.4h-15.5zM227.7 89.3h2.8v5.4h-2.8zM187.2 94.4h7.9v5.4h-7.9zM232.7 94.4h5.3v5.4h-5.3zM235.2 99.5h30.6v5.4h-30.6zM245.3 104.6h5.3v5.4h-5.3zM275.6 104.6h7.9v5.4h-7.9zM111.5 109.7h12.9v5.4h-12.9zM179.7 109.7h10.4v5.4h-10.4zM280.7 109.7h10.4v5.4h-10.4zM318.6 109.7h2.8v5.4h-2.8zM174.6 114.8h23v5.4h-23zM227.7 114.8h2.8v5.4h-2.8zM278.1 114.8h2.8v5.4h-2.8zM305.9 114.8h2.8v5.4h-2.8zM182.2 119.9h5.4v5.4h-5.4zM232.7 119.9h25.6v5.4h-25.6zM187.2 125h2.8v5.4h-2.8zM242.8 125h2.8v5.4h-2.8zM250.4 125h10.4v5.4h-10.4zM199.9 130.1h40.7v5.4h-40.7zM204.9 135.2h25.6v5.4h-25.6zM222.6 140.3h10.4v5.4h-10.4zM199.9 145.4h40.7v5.4h-40.7zM285.7 145.4h2.8v5.4h-2.8zM313.5 145.4h2.8v5.4h-2.8zM114 150.5h10.4v5.4h-10.4zM172.1 150.5h5.3v5.4h-5.3zM240.3 150.5h7.9v5.4h-7.9zM164.5 155.6h35.6v5.4h-35.6zM237.8 155.6h10.4v5.4h-10.4zM275.6 155.6h7.9v5.4h-7.9zM305.9 155.6h15.5v5.4h-15.5zM182.2 160.7h23v5.4h-23zM240.3 160.7h12.9v5.4h-12.9zM212.5 165.8h30.6v5.4h-30.6zM270.6 165.8h2.8v5.4h-2.8zM114 170.9h7.9v5.4h-7.9zM159.5 170.9h7.9v5.4h-7.9zM222.6 170.9h12.9v5.4h-12.9zM260.5 170.9h15.4v5.4h-15.4zM295.8 170.9h10.4v5.4h-10.4zM189.8 176h25.6v5.4h-25.6zM182.2 181.1h12.9v5.4h-12.9zM172.1 186.2h5.3v5.4h-5.3zM204.9 186.2h25.6v5.4h-25.6zM298.4 186.2h12.9v5.4h-12.9zM192.3 191.3h35.7v5.4h-35.7zM114 196.4h12.9v5.4h-12.9zM194.8 196.4h7.9v5.4h-7.9zM230.2 196.4h35.6v5.4h-35.6zM222.6 201.5h10.4v5.4h-10.4zM273.1 201.5h2.8v5.4h-2.8zM114 206.6h7.9v5.4h-7.9zM189.8 206.6h60.9v5.4h-60.9zM172.1 211.7h2.8v5.4h-2.8zM210 211.7h7.9v5.4h-7.9zM250.4 211.7h5.4v5.4h-5.4zM119.1 216.8h15.4v5.4h-15.4zM189.8 216.8h2.8v5.4h-2.8zM210 216.8h7.9v5.4h-7.9zM179.7 221.9h45.7v5.4h-45.7zM210 227h45.7v5.4h-45.7zM187.2 232.1h10.4v5.4h-10.4zM235.2 232.1h2.8v5.4h-2.8zM240.3 232.1h20.5v5.4h-20.5zM179.7 237.2h10.4v5.4h-10.4zM212.5 237.2h30.6v5.4h-30.6zM260.5 237.2h7.9v5.4h-7.9zM179.7 242.3h2.8v5.4h-2.8zM220.1 242.3h5.4v5.4h-5.4zM174.6 247.4h2.8v5.4h-2.8zM217.6 247.4h2.8v5.4h-2.8zM263 247.4h2.8v5.4h-2.8zM179.7 252.5h23v5.4h-23zM156.9 257.6h35.7v5.4h-35.7zM202.4 262.7h12.9v5.4h-12.9zM252.9 262.7h7.9v5.4h-7.9zM194.8 267.8h15.5v5.4h-15.5zM169.6 272.9h30.6v5.4h-30.6zM184.7 278h10.4v5.4h-10.4zM210 278h5.4v5.4h-5.4zM182.2 283.1h7.9v5.4h-7.9zM156.9 288.2h5.4v5.4h-5.4zM187.2 288.2h2.8v5.4h-2.8z" fill="#1affe5"/>
<path d="M189.8 53.6h5.3v5.4h-5.3zM235.2 53.6h2.8v5.4h-2.8zM351.4 53.6h2.8v5.4h-2.8zM192.3 58.7h2.8v5.4h-2.8zM210 79.1h5.4v5.4h-5.4zM240.3 79.1h2.8v5.4h-2.8zM316 79.1h2.8v5.4h-2.8zM348.9 79.1h2.8v5.4h-2.8zM202.4 89.3h5.3v5.4h-5.3zM194.8 94.4h5.4v5.4h-5.4zM230.2 94.4h2.8v5.4h-2.8zM204.9 99.5h2.8v5.4h-2.8zM230.2 99.5h5.4v5.4h-5.4zM199.9 104.6h2.8v5.4h-2.8zM240.3 104.6h2.8v5.4h-2.8zM250.4 104.6h2.8v5.4h-2.8zM273.1 104.6h2.8v5.4h-2.8zM290.8 109.7h2.8v5.4h-2.8zM316 109.7h2.8v5.4h-2.8zM164.5 119.9h2.8v5.4h-2.8zM179.7 119.9h2.8v5.4h-2.8zM210 119.9h2.8v5.4h-2.8zM177.2 150.5h2.8v5.4h-2.8zM204.9 155.6h2.8v5.4h-2.8zM235.2 155.6h2.8v5.4h-2.8zM237.8 160.7h2.8v5.4h-2.8zM169.6 165.8h2.8v5.4h-2.8zM220.1 170.9h2.8v5.4h-2.8zM235.2 170.9h2.8v5.4h-2.8zM194.8 181.1h2.8v5.4h-2.8zM177.2 186.2h2.8v5.4h-2.8zM202.4 196.4h2.8v5.4h-2.8zM220.1 201.5h2.8v5.4h-2.8zM295.8 201.5h2.8v5.4h-2.8zM174.6 211.7h2.8v5.4h-2.8zM217.6 211.7h5.4v5.4h-5.4zM247.9 211.7h2.8v5.4h-2.8zM207.4 216.8h2.8v5.4h-2.8zM197.4 232.1h2.8v5.4h-2.8zM189.8 237.2h2.8v5.4h-2.8zM215 242.3h5.3v5.4h-5.3zM177.2 247.4h2.8v5.4h-2.8zM215 247.4h2.8v5.4h-2.8zM250.4 262.7h2.8v5.4h-2.8zM194.8 278h2.8v5.4h-2.8zM207.4 278h2.8v5.4h-2.8zM189.8 283.1h2.8v5.4h-2.8zM204.9 283.1h2.8v5.4h-2.8zM184.7 288.2h2.8v5.4h-2.8z" fill="#46ffb9"/>
<path d="M194.8 53.6h2.8v5.4h-2.8zM232.7 53.6h2.8v5.4h-2.8zM326.1 53.6h2.8v5.4h-2.8zM225.1 58.7h2.8v5.4h-2.8zM245.3 63.8h2.8v5.4h-2.8zM247.9 68.9h2.8v5.4h-2.8zM225.1 89.3h2.8v5.4h-2.8zM252.9 104.6h2.8v5.4h-2.8zM270.6 104.6h2.8v5.4h-2.8zM207.4 109.7h2.8v5.4h-2.8zM232.7 109.7h2.8v5.4h-2.8zM177.2 119.9h2.8v5.4h-2.8zM189.8 125h2.8v5.4h-2.8zM240.3 125h2.8v5.4h-2.8zM308.5 130.1h2.8v5.4h-2.8zM237.8 150.5h2.8v5.4h-2.8zM290.8 165.8h2.8v5.4h-2.8zM194.8 170.9h2.8v5.4h-2.8zM217.6 170.9h2.8v5.4h-2.8zM222.6 196.4h2.8v5.4h-2.8zM217.6 201.5h2.8v5.4h-2.8zM275.6 201.5h2.8v5.4h-2.8zM232.7 232.1h2.8v5.4h-2.8zM204.9 237.2h2.8v5.4h-2.8zM182.2 242.3h2.8v5.4h-2.8zM179.7 247.4h2.8v5.4h-2.8zM242.8 247.4h2.8v5.4h-2.8zM215 262.7h2.8v5.4h-2.8zM197.4 278h2.8v5.4h-2.8zM192.3 283.1h2.8v5.4h-2.8zM202.4 283.1h2.8v5.4h-2.8zM162 288.2h2.8v5.4h-2.8z" fill="#72ff8d"/>
<path d="M225.1 63.8h2.8v5.4h-2.8zM215 79.1h2.8v5.4h-2.8zM237.8 79.1h2.8v5.4h-2.8zM318.6 79.1h2.8v5.4h-2.8zM346.3 79.1h2.8v5.4h-2.8zM207.4 89.3h2.8v5.4h-2.8zM207.4 99.5h2.8v5.4h-2.8zM227.7 99.5h2.8v5.4h-2.8zM202.4 104.6h2.8v5.4h-2.8zM237.8 104.6h2.8v5.4h-2.8zM313.5 109.7h2.8v5.4h-2.8zM197.4 114.8h2.8v5.4h-2.8zM280.7 114.8h2.8v5.4h-2.8zM303.4 114.8h2.8v5.4h-2.8zM230.2 119.9h2.8v5.4h-2.8zM237.8 125h2.8v5.4h-2.8zM283.2 130.1h2.8v5.4h-2.8zM288.2 145.4h2.8v5.4h-2.8zM311 145.4h2.8v5.4h-2.8zM232.7 155.6h2.8v5.4h-2.8zM204.9 160.7h2.8v5.4h-2.8zM273.1 165.8h2.8v5.4h-2.8zM258 170.9h2.8v5.4h-2.8zM237.8 181.1h2.8v5.4h-2.8zM179.7 186.2h2.8v5.4h-2.8zM202.4 186.2h2.8v5.4h-2.8zM204.9 196.4h2.8v5.4h-2.8zM177.2 201.5h2.8v5.4h-2.8zM293.3 201.5h2.8v5.4h-2.8zM177.2 211.7h2.8v5.4h-2.8zM199.9 211.7h2.8v5.4h-2.8zM222.6 211.7h2.8v5.4h-2.8zM245.3 211.7h2.8v5.4h-2.8zM199.9 232.1h2.8v5.4h-2.8zM192.3 237.2h2.8v5.4h-2.8zM212.5 247.4h2.8v5.4h-2.8zM260.5 247.4h2.8v5.4h-2.8zM204.9 278h2.8v5.4h-2.8zM194.8 283.1h7.9v5.4h-7.9zM182.2 288.2h2.8v5.4h-2.8z" fill="#9dff62"/>
<path d="M197.4 53.6h2.8v5.4h-2.8zM230.2 53.6h2.8v5.4h-2.8zM348.9 53.6h2.8v5.4h-2.8zM194.8 58.7h2.8v5.4h-2.8zM222.6 58.7h2.8v5.4h-2.8zM204.9 68.9h2.8v5.4h-2.8zM199.9 94.4h2.8v5.4h-2.8zM227.7 94.4h2.8v5.4h-2.8zM210 109.7h2.8v5.4h-2.8zM293.3 109.7h2.8v5.4h-2.8zM225.1 114.8h2.8v5.4h-2.8zM167.1 119.9h2.8v5.4h-2.8zM174.6 119.9h2.8v5.4h-2.8zM192.3 125h2.8v5.4h-2.8zM179.7 150.5h2.8v5.4h-2.8zM235.2 150.5h2.8v5.4h-2.8zM207.4 155.6h2.8v5.4h-2.8zM235.2 160.7h2.8v5.4h-2.8zM202.4 165.8h2.8v5.4h-2.8zM288.2 165.8h2.8v5.4h-2.8zM237.8 170.9h2.8v5.4h-2.8zM197.4 181.1h2.8v5.4h-2.8zM215 201.5h2.8v5.4h-2.8zM204.9 216.8h2.8v5.4h-2.8zM202.4 237.2h2.8v5.4h-2.8zM212.5 242.3h2.8v5.4h-2.8zM245.3 247.4h2.8v5.4h-2.8zM199.9 278h2.8v5.4h-2.8z" fill="#c9ff36"/>
<path d="M227.7 63.8h2.8v5.4h-2.8zM245.3 68.9h2.8v5.4h-2.8zM217.6 79.1h5.4v5.4h-5.4zM235.2 79.1h2.8v5.4h-2.8zM321.1 79.1h2.8v5.4h-2.8zM343.8 79.1h2.8v5.4h-2.8zM210 89.3h2.8v5.4h-2.8zM222.6 89.3h2.8v5.4h-2.8zM210 99.5h2.8v5.4h-2.8zM225.1 99.5h2.8v5.4h-2.8zM204.9 104.6h2.8v5.4h-2.8zM232.7 104.6h5.3v5.4h-5.3zM255.4 104.6h2.8v5.4h-2.8zM268.1 104.6h2.8v5.4h-2.8zM222.6 114.8h2.8v5.4h-2.8zM283.2 114.8h2.8v5.4h-2.8zM300.9 114.8h2.8v5.4h-2.8zM172.1 119.9h2.8v5.4h-2.8zM194.8 125h2.8v5.4h-2.8zM232.7 125h5.3v5.4h-5.3zM290.8 145.4h2.8v5.4h-2.8zM308.5 145.4h2.8v5.4h-2.8zM172.1 165.8h2.8v5.4h-2.8zM275.6 165.8h2.8v5.4h-2.8zM215 170.9h2.8v5.4h-2.8zM240.3 170.9h2.8v5.4h-2.8zM255.4 170.9h2.8v5.4h-2.8zM232.7 181.1h5.3v5.4h-5.3zM179.7 201.5h7.9v5.4h-7.9zM212.5 201.5h2.8v5.4h-2.8zM225.1 211.7h2.8v5.4h-2.8zM242.8 211.7h2.8v5.4h-2.8zM192.3 216.8h2.8v5.4h-2.8zM230.2 232.1h2.8v5.4h-2.8zM194.8 237.2h2.8v5.4h-2.8zM247.9 247.4h2.8v5.4h-2.8zM258 247.4h2.8v5.4h-2.8zM217.6 262.7h5.4v5.4h-5.4zM247.9 262.7h2.8v5.4h-2.8zM202.4 278h2.8v5.4h-2.8zM179.7 288.2h2.8v5.4h-2.8z" fill="#f5ff0a"/>
<path d="M199.9 53.6h2.8v5.4h-2.8zM328.6 53.6h2.8v5.4h-2.8zM242.8 63.8h2.8v5.4h-2.8zM220.1 68.9h5.4v5.4h-5.4zM222.6 79.1h12.9v5.4h-12.9zM323.6 79.1h2.8v5.4h-2.8zM341.3 79.1h2.8v5.4h-2.8zM212.5 89.3h10.4v5.4h-10.4zM212.5 99.5h12.9v5.4h-12.9zM207.4 104.6h5.4v5.4h-5.4zM230.2 104.6h2.8v5.4h-2.8zM212.5 109.7h2.8v5.4h-2.8zM311 109.7h2.8v5.4h-2.8zM220.1 114.8h2.8v5.4h-2.8zM285.7 114.8h15.4v5.4h-15.4zM169.6 119.9h2.8v5.4h-2.8zM212.5 119.9h2.8v5.4h-2.8zM197.4 125h35.6v5.4h-35.6zM285.7 130.1h2.8v5.4h-2.8zM305.9 130.1h2.8v5.4h-2.8zM293.3 145.4h15.5v5.4h-15.5zM215 150.5h2.8v5.4h-2.8zM230.2 155.6h2.8v5.4h-2.8zM278.1 165.8h10.4v5.4h-10.4zM242.8 170.9h12.9v5.4h-12.9zM230.2 181.1h2.8v5.4h-2.8zM182.2 186.2h2.8v5.4h-2.8zM207.4 196.4h2.8v5.4h-2.8zM220.1 196.4h2.8v5.4h-2.8zM207.4 201.5h5.4v5.4h-5.4zM278.1 201.5h2.8v5.4h-2.8zM227.7 211.7h15.4v5.4h-15.4zM202.4 232.1h2.8v5.4h-2.8zM197.4 237.2h5.3v5.4h-5.3zM210 242.3h2.8v5.4h-2.8zM182.2 247.4h2.8v5.4h-2.8zM250.4 247.4h7.9v5.4h-7.9zM222.6 262.7h15.4v5.4h-15.4zM164.5 288.2h2.8v5.4h-2.8z" fill="#ffde00"/>
<path d="M227.7 53.6h2.8v5.4h-2.8zM346.3 53.6h2.8v5.4h-2.8zM220.1 58.7h2.8v5.4h-2.8zM230.2 63.8h2.8v5.4h-2.8zM225.1 68.9h2.8v5.4h-2.8zM338.8 79.1h2.8v5.4h-2.8zM202.4 94.4h2.8v5.4h-2.8zM212.5 104.6h2.8v5.4h-2.8zM227.7 104.6h2.8v5.4h-2.8zM215 109.7h2.8v5.4h-2.8zM230.2 109.7h2.8v5.4h-2.8zM295.8 109.7h2.8v5.4h-2.8zM199.9 114.8h2.8v5.4h-2.8zM217.6 150.5h2.8v5.4h-2.8zM232.7 150.5h2.8v5.4h-2.8zM210 155.6h2.8v5.4h-2.8zM182.2 165.8h5.4v5.4h-5.4zM290.8 201.5h2.8v5.4h-2.8zM202.4 216.8h2.8v5.4h-2.8zM227.7 232.1h2.8v5.4h-2.8zM184.7 242.3h2.8v5.4h-2.8zM245.3 262.7h2.8v5.4h-2.8zM177.2 288.2h2.8v5.4h-2.8z" fill="#ffb200"/>
<path d="M331.2 53.6h15.4v5.4h-15.4zM227.7 68.9h18v5.4h-18zM326.1 79.1h2.8v5.4h-2.8zM225.1 94.4h2.8v5.4h-2.8zM298.4 109.7h12.9v5.4h-12.9zM217.6 114.8h2.8v5.4h-2.8zM227.7 119.9h2.8v5.4h-2.8zM288.2 130.1h18v5.4h-18zM220.1 150.5h12.9v5.4h-12.9zM212.5 155.6h18v5.4h-18zM207.4 160.7h2.8v5.4h-2.8zM174.6 165.8h7.9v5.4h-7.9zM199.9 165.8h2.8v5.4h-2.8zM199.9 186.2h2.8v5.4h-2.8zM210 196.4h10.4v5.4h-10.4zM187.2 201.5h2.8v5.4h-2.8zM194.8 216.8h7.9v5.4h-7.9zM204.9 232.1h23v5.4h-23zM210 247.4h2.8v5.4h-2.8zM237.8 262.7h7.9v5.4h-7.9z" fill="#ff8600"/>
<path d="M202.4 53.6h2.8v5.4h-2.8zM225.1 53.6h2.8v5.4h-2.8zM197.4 58.7h2.8v5.4h-2.8zM232.7 63.8h2.8v5.4h-2.8zM207.4 68.9h2.8v5.4h-2.8zM217.6 68.9h2.8v5.4h-2.8zM225.1 104.6h2.8v5.4h-2.8zM258 104.6h2.8v5.4h-2.8zM265.5 104.6h2.8v5.4h-2.8zM217.6 109.7h2.8v5.4h-2.8zM182.2 150.5h2.8v5.4h-2.8zM212.5 150.5h2.8v5.4h-2.8zM232.7 160.7h2.8v5.4h-2.8zM187.2 165.8h2.8v5.4h-2.8zM199.9 181.1h2.8v5.4h-2.8zM204.9 201.5h2.8v5.4h-2.8zM179.7 211.7h2.8v5.4h-2.8zM197.4 211.7h2.8v5.4h-2.8zM167.1 288.2h2.8v5.4h-2.8zM174.6 288.2h2.8v5.4h-2.8z" fill="#ff5b00"/>
<path d="M217.6 58.7h2.8v5.4h-2.8zM240.3 63.8h2.8v5.4h-2.8zM328.6 79.1h2.8v5.4h-2.8zM336.2 79.1h2.8v5.4h-2.8zM204.9 94.4h2.8v5.4h-2.8zM222.6 94.4h2.8v5.4h-2.8zM215 104.6h2.8v5.4h-2.8zM227.7 109.7h2.8v5.4h-2.8zM202.4 114.8h2.8v5.4h-2.8zM215 114.8h2.8v5.4h-2.8zM215 119.9h2.8v5.4h-2.8zM225.1 119.9h2.8v5.4h-2.8zM197.4 170.9h2.8v5.4h-2.8zM227.7 181.1h2.8v5.4h-2.8zM184.7 186.2h2.8v5.4h-2.8zM197.4 186.2h2.8v5.4h-2.8zM189.8 201.5h2.8v5.4h-2.8zM280.7 201.5h2.8v5.4h-2.8zM288.2 201.5h2.8v5.4h-2.8zM207.4 242.3h2.8v5.4h-2.8z" fill="#ff2f00"/>
<path d="M204.9 53.6h20.5v5.4h-20.5zM235.2 63.8h5.3v5.4h-5.3zM210 68.9h7.9v5.4h-7.9zM331.2 79.1h5.3v5.4h-5.3zM207.4 94.4h15.5v5.4h-15.5zM217.6 104.6h7.9v5.4h-7.9zM260.5 104.6h5.3v5.4h-5.3zM220.1 109.7h7.9v5.4h-7.9zM204.9 114.8h10.4v5.4h-10.4zM217.6 119.9h7.9v5.4h-7.9zM189.8 165.8h10.4v5.4h-10.4zM212.5 170.9h2.8v5.4h-2.8zM187.2 186.2h10.4v5.4h-10.4zM192.3 201.5h12.9v5.4h-12.9zM283.2 201.5h5.3v5.4h-5.3zM169.6 288.2h5.3v5.4h-5.3z" fill="#ff0300"/>
<path d="M187.2 242.3h2.8v5.4h-2.8zM184.7 247.4h2.8v5.4h-2.8z" fill="#d70000"/>
<path d="M184.7 150.5h2.8v5.4h-2.8zM210 150.5h2.8v5.4h-2.8zM210 160.7h2.8v5.4h-2.8zM207.4 247.4h2.8v5.4h-2.8z" fill="#ab0000"/>
<path d="M199.9 58.7h18v5.4h-18zM187.2 150.5h23v5.4h-23zM212.5 160.7h20.5v5.4h-20.5zM199.9 170.9h12.9v5.4h-12.9zM202.4 181.1h25.6v5.4h-25.6zM182.2 211.7h15.5v5.4h-15.5zM189.8 242.3h18v5.4h-18zM187.2 247.4h20.5v5.4h-20.5z" fill="#800000"/>
<line x1="111.5" y1="53.6" x2="364" y2="53.6" stroke="#222" stroke-width="2"/>
<line x1="111.5" y1="293.3" x2="364" y2="293.3" stroke="#222" stroke-width="2"/>
<line x1="111.5" y1="53.6" x2="111.5" y2="293.3" stroke="#222" stroke-width="2"/>
<line x1="364" y1="53.6" x2="364" y2="293.3" stroke="#222" stroke-width="2"/>
<line x1="111.5" y1="47.1" x2="111.5" y2="53.6" stroke="#222" stroke-width="2"/>
<line x1="111.5" y1="293.3" x2="111.5" y2="299.8" stroke="#222" stroke-width="2"/>
<line x1="162" y1="47.1" x2="162" y2="53.6" stroke="#222" stroke-width="2"/>
<line x1="162" y1="293.3" x2="162" y2="299.8" stroke="#222" stroke-width="2"/>
<line x1="364" y1="47.1" x2="364" y2="53.6" stroke="#222" stroke-width="2"/>
<line x1="364" y1="293.3" x2="364" y2="299.8" stroke="#222" stroke-width="2"/>
<line x1="105" y1="56.1" x2="111.5" y2="56.1" stroke="#222" stroke-width="2"/>
<line x1="364" y1="56.1" x2="370.5" y2="56.1" stroke="#222" stroke-width="2"/>
<text x="102.2" y="65.5" text-anchor="end">47</text>
<text x="118.8" y="40.5">Bat 1</text>
<text x="363.7" y="40" text-anchor="end">8.2 Hz</text>
<line x1="162" y1="326.7" x2="162" y2="459" stroke="#a0a0a0" stroke-width="2.6"/>
<polyline points="111.5,439.8 113,440.8 114.5,441.8 116,442.8 117.5,443.9 119,444.9 120.5,446 122,447.1 123.5,448.3 125,449.5 126.5,450.6 128,451.8 129.5,452.9 131,453.9 132.5,454.8 134,455.7 135.5,456.3 137,456.9 138.5,457.2 140,457.3 141.5,457.2 143,456.9 144.5,456.4 146,455.7 147.5,454.8 149,453.8 150.5,452.7 152,451.5 153.5,450.1 155,448.7 156.5,447.3 158,445.8 159.5,444.3 161,442.7 162.5,441 164,439.2 165.5,437.4 167,435.4 168.5,433.3 170,431 171.5,428.4 173,425.5 174.5,422.2 176,418.5 177.5,414.4 179,410 180.5,405.3 182,400.5 183.5,395.5 185,390.6 186.5,385.6 188,380.7 189.5,375.8 191,371 192.5,366.3 194,361.7 195.5,357.3 197,353.2 198.5,349.4 200,345.9 201.5,343 203,340.5 204.5,338.4 206,336.6 207.5,335.1 209,333.7 210.5,332.6 212,332 213.5,332 215,332.6 216.5,333.8 218,335.4 219.5,337.5 221,339.9 222.5,342.6 224,345.4 225.5,348.4 227,351.5 228.5,354.7 230,358 231.5,361.5 233,365.1 234.5,368.8 236,372.5 237.5,376.3 239,380.1 240.5,384 242,387.7 243.5,391.4 245,394.9 246.5,398.1 248,401.1 249.5,403.7 251,405.9 252.5,407.9 254,409.5 255.5,410.9 257,412.1 258.5,413.3 260,414.5 261.5,415.8 263,417.3 264.5,418.8 266,420.4 267.5,422 269,423.4 270.5,424.8 272,425.9 273.5,426.8 275,427.3 276.5,427.5 278,427.3 279.5,426.8 281,426 282.5,424.9 284,423.7 285.5,422.2 287,420.7 288.5,419.3 290,418 291.5,417.1 293,416.5 294.5,416.5 296,416.9 297.5,417.8 299,418.7 300.5,419.5 302,420.2 303.5,420.8 305,421.3 306.5,421.7 308,422.2 309.5,422.7 311,423.3 312.5,423.9 314,424.5 315.5,425.1 317,425.6 318.5,426 320,426.1 321.5,425.6 323,424.4 324.5,422.9 326,421.6 327.5,421.1 329,421.4 330.5,422 332,422.3 333.5,421.9 335,421 336.5,420.2 338,420.1 339.5,420.3 341,420.1 342.5,418.7 344,416.3 345.5,415.1 347,415.3 348.5,415.7 350,415.2 351.5,413.1 353,410.2 354.5,407.4 356,405.4 357.5,404.8 359,405.8 360.5,407.7 362,409.5 363.5,411.2 364.8,412.5" fill="none" stroke="#000" stroke-width="2.4" stroke-linejoin="round"/>
<rect x="188.5" y="326.7" width="45.1" height="132.3" fill="#00ff00" fill-opacity="0.2"/>
<line x1="111.5" y1="326.7" x2="111.5" y2="460" stroke="#222" stroke-width="2"/>
<line x1="110.5" y1="459" x2="364" y2="459" stroke="#222" stroke-width="2"/>
<line x1="111.5" y1="459" x2="111.5" y2="462.5" stroke="#222" stroke-width="2"/>
<line x1="162" y1="459" x2="162" y2="462.5" stroke="#222" stroke-width="2"/>
<line x1="364" y1="459" x2="364" y2="462.5" stroke="#222" stroke-width="2"/>
<line x1="108" y1="326.7" x2="111.5" y2="326.7" stroke="#222" stroke-width="2"/>
<text x="102.5" y="336.1" text-anchor="end">4</text>
<line x1="162" y1="492.3" x2="162" y2="624.6" stroke="#a0a0a0" stroke-width="2"/>
<polygon points="111.1,599.8 111.9,601.5 112.7,602.8 113.5,603.4 114.3,603.9 115.1,604 115.9,603.3 116.7,602.5 117.5,602.6 118.3,603 119.1,602.2 119.9,601.1 120.7,599.8 121.5,599.1 122.3,598 123.1,596.3 123.9,595.2 124.7,595.1 125.5,590.7 126.3,585.1 127.1,582.2 127.9,579 128.7,572.9 129.5,566.6 130.3,563.1 131.1,565 131.9,566.8 132.7,568 133.5,567.7 134.3,567.7 135.1,567.6 135.9,567.7 136.7,569.6 137.5,569.6 138.3,568.5 139.1,566 139.9,563.2 140.7,559.6 141.5,558.5 142.3,559.9 143.1,561.7 143.9,563.1 144.7,563.9 145.5,564.6 146.3,565.1 147.1,564.4 147.9,564.7 148.7,565.9 149.5,565.2 150.3,563.7 151.1,560.8 151.9,558.5 152.7,557 153.5,554.9 154.3,552.3 155.1,549.4 155.9,546.5 156.7,543.3 157.5,535.5 158.3,527.4 159.1,520.8 159.9,513 160.7,510.5 161.5,514.9 162.3,522.9 163.1,535.3 163.9,546.5 164.7,553.3 165.5,558.9 166.3,562.3 167.1,569.8 167.9,579 168.7,587.6 169.5,585.4 170.3,581.2 171.1,575.7 171.9,573.6 172.7,580.8 173.5,588.7 174.3,595.1 175.1,600.4 175.9,604.9 176.7,605.7 177.5,607.2 178.3,608.6 179.1,608.9 179.9,609 180.7,609 181.5,608.7 182.3,607.8 183.1,608.1 183.9,610.2 184.7,612.2 185.5,613 186.3,612.7 187.1,611.8 187.9,611.1 188.7,610.6 189.5,610 190.3,609.4 191.1,610 191.9,609.6 192.7,609.8 193.5,611.7 194.3,612.3 195.1,611.9 195.9,611.7 196.7,612 197.5,612.5 198.3,612.4 199.1,612.2 199.9,612.5 200.7,612.2 201.5,611.5 202.3,611.9 203.1,613 203.9,614.3 204.7,613.7 205.5,612 206.3,611.6 207.1,611.7 207.9,612.2 208.7,611.3 209.5,611 210.3,611.1 211.1,610.7 211.9,610.9 212.7,611 213.5,611.3 214.3,611.2 215.1,610.7 215.9,610.5 216.7,611.5 217.5,611.5 218.3,610.9 219.1,609.4 219.9,608.8 220.7,609.8 221.5,611.3 222.3,609.8 223.1,608.2 223.9,608.6 224.7,609.9 225.5,610.6 226.3,610.6 227.1,609.1 227.9,608.2 228.7,608.5 229.5,608.8 230.3,610 231.1,610.4 231.9,610.2 232.7,609.6 233.5,608.6 234.3,608 235.1,608.7 235.9,610.2 236.7,610.5 237.5,609.5 238.3,607.9 239.1,606.3 239.9,605.5 240.7,605.3 241.5,605.5 242.3,606.6 243.1,606.2 243.9,605.5 244.7,604.8 245.5,602.9 246.3,603 247.1,603.2 247.9,602.4 248.7,602.3 249.5,602 250.3,603.5 251.1,606.2 251.9,606.3 252.7,604.3 253.5,602.2 254.3,600.6 255.1,601.4 255.9,602.3 256.7,599.7 257.5,597.9 258.3,598.9 259.1,598.7 259.9,597.2 260.7,595.8 261.5,595.1 262.3,596.4 263.1,600.6 263.9,604.1 264.7,606.5 265.5,606.3 266.3,603.6 267.1,602.8 267.9,604 268.7,605.8 269.5,607.1 270.3,609.1 271.1,608.7 271.9,606.3 272.7,606.7 273.5,608.1 274.3,609.2 275.1,612.3 275.9,609.5 276.7,605.1 277.5,604.8 278.3,604.6 279.1,604 279.9,604.6 280.7,606.6 281.5,604.9 282.3,603.7 283.1,603.4 283.9,603.6 284.7,605.5 285.5,610.9 286.3,608.7 287.1,604.5 287.9,606.7 288.7,606.5 289.5,604.7 290.3,602.1 291.1,599.9 291.9,602.1 292.7,602.9 293.5,601.1 294.3,595.9 295.1,593.3 295.9,594 296.7,594.8 297.5,596.5 298.3,592.2 299.1,590.2 299.9,592.4 300.7,591 301.5,586.6 302.3,589 303.1,594 303.9,597 304.7,592.5 305.5,591.1 306.3,595.6 307.1,598.9 307.9,590.9 308.7,584.1 309.5,584.4 310.3,586.5 311.1,591.3 311.9,587.7 312.7,586.9 313.5,585.4 314.3,586.4 315.1,591 315.9,592.2 316.7,587.3 317.5,587.6 318.3,590.7 319.1,585 319.9,578.9 320.7,581.1 321.5,580.9 322.3,580.5 323.1,583.5 323.9,584.2 324.7,583.4 325.5,583.8 326.3,585 327.1,586.3 327.9,589.8 328.7,590.9 329.5,585.8 330.3,585.7 331.1,584.6 331.9,580.8 332.7,580.8 333.5,581.9 334.3,582.5 335.1,585.1 335.9,589.1 336.7,584.7 337.5,576.3 338.3,570 339.1,570.9 339.9,577.9 340.7,577.4 341.5,575.3 342.3,577.4 343.1,583 343.9,581.6 344.7,579.2 345.5,578.9 346.3,580.6 347.1,581.2 347.9,579 348.7,573.3 349.5,570.2 350.3,572.6 351.1,574.7 351.9,580.7 352.7,593.6 353.5,596.6 354.3,587 355.1,581.8 355.9,582.8 356.7,583.8 357.5,584.7 358.3,586.1 359.1,593.3 359.9,594.7 360.7,597.8 361.5,606.1 362.3,609.6 363.1,604.3 363.9,600.9 364.7,601.7 364.7,626.1 363.9,620.6 363.1,617.6 362.3,621 361.5,622.3 360.7,618.1 359.9,611 359.1,603.2 358.3,602.2 357.5,603.5 356.7,607.2 355.9,613.6 355.1,615.9 354.3,614.9 353.5,611.6 352.7,606.7 351.9,599.2 351.1,595.1 350.3,593.7 349.5,590.9 348.7,590.9 347.9,591.5 347.1,590.9 346.3,592.8 345.5,595.5 344.7,596.5 343.9,594.2 343.1,594.4 342.3,594.2 341.5,594 340.7,592.9 339.9,587.7 339.1,589.3 338.3,592.2 337.5,596.1 336.7,598.7 335.9,598.2 335.1,594.7 334.3,591.5 333.5,591.2 332.7,591 331.9,589.8 331.1,597.2 330.3,602.3 329.5,600.6 328.7,600.8 327.9,607.7 327.1,607.3 326.3,603.9 325.5,598.6 324.7,595.5 323.9,595.8 323.1,595.5 322.3,592.8 321.5,594.3 320.7,595.7 319.9,592.4 319.1,595 318.3,600.5 317.5,597.5 316.7,596.4 315.9,601.9 315.1,603.3 314.3,603.2 313.5,607.3 312.7,611.1 311.9,607.8 311.1,600.1 310.3,608.2 309.5,613.2 308.7,610.1 307.9,608.8 307.1,608.1 306.3,610 305.5,607.5 304.7,605.5 303.9,606 303.1,606.1 302.3,603.5 301.5,604.8 300.7,613.6 299.9,618.6 299.1,616.5 298.3,612 297.5,606.2 296.7,609.5 295.9,612.1 295.1,612.3 294.3,614.7 293.5,617.7 292.7,615.2 291.9,610.2 291.1,610.4 290.3,613.5 289.5,618.3 288.7,625.4 287.9,630.9 287.1,627.5 286.3,623.6 285.5,620.7 284.7,620.9 283.9,619.8 283.1,618.2 282.3,617.4 281.5,615.5 280.7,617 279.9,621.4 279.1,623.2 278.3,622.1 277.5,619.6 276.7,618.3 275.9,620.6 275.1,619.8 274.3,617.5 273.5,614.9 272.7,615.4 271.9,614.6 271.1,615.4 270.3,616.4 269.5,614.9 268.7,615.2 267.9,615.7 267.1,615.8 266.3,616 265.5,617.1 264.7,616.4 263.9,616.6 263.1,619.7 262.3,621.1 261.5,619.4 260.7,615.1 259.9,612.7 259.1,613.9 258.3,615.6 257.5,614.7 256.7,613.1 255.9,610.1 255.1,609 254.3,608.8 253.5,609.2 252.7,610.4 251.9,612 251.1,613.6 250.3,613 249.5,611.9 248.7,611 247.9,610.1 247.1,611 246.3,611 245.5,610.4 244.7,611.5 243.9,611.7 243.1,611.3 242.3,613.1 241.5,613.8 240.7,614.9 239.9,615.5 239.1,615.5 238.3,615.6 237.5,615.4 236.7,615.2 235.9,615.9 235.1,615.4 234.3,615.6 233.5,616 232.7,615.4 231.9,615.4 231.1,616.1 230.3,614.7 229.5,615 228.7,615.5 227.9,615.2 227.1,615.6 226.3,616.1 225.5,615.5 224.7,615.4 223.9,615.2 223.1,615.4 222.3,616.1 221.5,616 220.7,616.3 219.9,615.8 219.1,615.6 218.3,615.5 217.5,617.6 216.7,618 215.9,616.3 215.1,615.8 214.3,618.4 213.5,619.9 212.7,620.1 211.9,619.5 211.1,618 210.3,617.2 209.5,617.2 208.7,618.5 207.9,620 207.1,618.9 206.3,617.6 205.5,617.3 204.7,618.6 203.9,619 203.1,617.8 202.3,617.5 201.5,617.7 200.7,617.9 199.9,617.7 199.1,617.1 198.3,617.4 197.5,619 196.7,619.9 195.9,619.6 195.1,618.7 194.3,617.8 193.5,616.5 192.7,615.4 191.9,615.2 191.1,614.6 190.3,615.5 189.5,617.5 188.7,618.5 187.9,618.5 187.1,618.6 186.3,618.6 185.5,617.7 184.7,618.4 183.9,617.8 183.1,616.2 182.3,615.6 181.5,615.8 180.7,615.9 179.9,615.7 179.1,615.5 178.3,615.3 177.5,614.3 176.7,613 175.9,612.1 175.1,607.3 174.3,601.8 173.5,595.5 172.7,587.2 171.9,579.3 171.1,581.1 170.3,586.5 169.5,590.4 168.7,592.5 167.9,584.5 167.1,575.7 166.3,568 165.5,563.5 164.7,559.7 163.9,554.4 163.1,543.9 162.3,531.5 161.5,522.7 160.7,517 159.9,517.7 159.1,527.2 158.3,534.7 157.5,541.8 156.7,548.4 155.9,553.5 155.1,557.1 154.3,560.1 153.5,562.3 152.7,564.4 151.9,566.2 151.1,568.2 150.3,569.7 149.5,570.3 148.7,572.4 147.9,571.4 147.1,570.7 146.3,571 145.5,570.2 144.7,569 143.9,567.7 143.1,566.6 142.3,565.7 141.5,565 140.7,566.2 139.9,569.3 139.1,571.3 138.3,573.4 137.5,575.9 136.7,577.5 135.9,576.4 135.1,575.9 134.3,574.5 133.5,573.2 132.7,572.8 131.9,572.9 131.1,572.4 130.3,571 129.5,573.9 128.7,579.4 127.9,586.3 127.1,591.1 126.3,593.8 125.5,596.5 124.7,601.8 123.9,603.3 123.1,604.3 122.3,605.6 121.5,606.3 120.7,606.3 119.9,606.7 119.1,607.3 118.3,608.4 117.5,608.3 116.7,607.6 115.9,608 115.1,608.6 114.3,608.7 113.5,608.6 112.7,609.2 111.9,608.4 111.1,606.6" fill="#b0b0b0"/>
<polyline points="111.1,603.2 111.9,604.9 112.7,606 113.5,606 114.3,606.3 115.1,606.3 115.9,605.7 116.7,605.1 117.5,605.5 118.3,605.7 119.1,604.7 119.9,603.9 120.7,603.1 121.5,602.7 122.3,601.8 123.1,600.3 123.9,599.2 124.7,598.4 125.5,593.6 126.3,589.4 127.1,586.6 127.9,582.6 128.7,576.1 129.5,570.2 130.3,567 131.1,568.7 131.9,569.8 132.7,570.4 133.5,570.4 134.3,571.1 135.1,571.7 135.9,572.1 136.7,573.5 137.5,572.8 138.3,571 139.1,568.6 139.9,566.3 140.7,562.9 141.5,561.7 142.3,562.8 143.1,564.2 143.9,565.4 144.7,566.5 145.5,567.4 146.3,568.1 147.1,567.6 147.9,568.1 148.7,569.1 149.5,567.8 150.3,566.7 151.1,564.5 151.9,562.4 152.7,560.7 153.5,558.6 154.3,556.2 155.1,553.2 155.9,550 156.7,545.8 157.5,538.6 158.3,531 159.1,524 159.9,515.3 160.7,513.7 161.5,518.8 162.3,527.2 163.1,539.6 163.9,550.4 164.7,556.5 165.5,561.2 166.3,565.2 167.1,572.7 167.9,581.7 168.7,590.1 169.5,587.9 170.3,583.8 171.1,578.4 171.9,576.5 172.7,584 173.5,592.1 174.3,598.4 175.1,603.9 175.9,608.5 176.7,609.3 177.5,610.8 178.3,611.9 179.1,612.2 179.9,612.3 180.7,612.4 181.5,612.2 182.3,611.7 183.1,612.1 183.9,614 184.7,615.3 185.5,615.4 186.3,615.6 187.1,615.2 187.9,614.8 188.7,614.6 189.5,613.7 190.3,612.4 191.1,612.3 191.9,612.4 192.7,612.6 193.5,614.1 194.3,615 195.1,615.3 195.9,615.7 196.7,616 197.5,615.7 198.3,614.9 199.1,614.7 199.9,615.1 200.7,615 201.5,614.6 202.3,614.7 203.1,615.4 203.9,616.6 204.7,616.1 205.5,614.7 206.3,614.6 207.1,615.3 207.9,616.1 208.7,614.9 209.5,614.1 210.3,614.2 211.1,614.4 211.9,615.2 212.7,615.5 213.5,615.6 214.3,614.8 215.1,613.3 215.9,613.4 216.7,614.8 217.5,614.5 218.3,613.2 219.1,612.5 219.9,612.3 220.7,613.1 221.5,613.7 222.3,613 223.1,611.8 223.9,611.9 224.7,612.7 225.5,613 226.3,613.4 227.1,612.3 227.9,611.7 228.7,612 229.5,611.9 230.3,612.4 231.1,613.2 231.9,612.8 232.7,612.5 233.5,612.3 234.3,611.8 235.1,612.1 235.9,613.1 236.7,612.8 237.5,612.4 238.3,611.7 239.1,610.9 239.9,610.5 240.7,610.1 241.5,609.7 242.3,609.9 243.1,608.8 243.9,608.6 244.7,608.1 245.5,606.7 246.3,607 247.1,607.1 247.9,606.3 248.7,606.6 249.5,607 250.3,608.3 251.1,609.9 251.9,609.1 252.7,607.3 253.5,605.7 254.3,604.7 255.1,605.2 255.9,606.2 256.7,606.4 257.5,606.3 258.3,607.2 259.1,606.3 259.9,604.9 260.7,605.4 261.5,607.2 262.3,608.7 263.1,610.1 263.9,610.4 264.7,611.4 265.5,611.7 266.3,609.8 267.1,609.3 267.9,609.9 268.7,610.5 269.5,611 270.3,612.8 271.1,612.1 271.9,610.4 272.7,611 273.5,611.5 274.3,613.3 275.1,616.1 275.9,615.1 276.7,611.7 277.5,612.2 278.3,613.3 279.1,613.6 279.9,613 280.7,611.8 281.5,610.2 282.3,610.6 283.1,610.8 283.9,611.7 284.7,613.2 285.5,615.8 286.3,616.2 287.1,616 287.9,618.8 288.7,616 289.5,611.5 290.3,607.8 291.1,605.1 291.9,606.1 292.7,609 293.5,609.4 294.3,605.3 295.1,602.8 295.9,603 296.7,602.1 297.5,601.3 298.3,602.1 299.1,603.4 299.9,605.5 300.7,602.3 301.5,595.7 302.3,596.2 303.1,600.1 303.9,601.5 304.7,599 305.5,599.3 306.3,602.8 307.1,603.5 307.9,599.9 308.7,597.1 309.5,598.8 310.3,597.3 311.1,595.7 311.9,597.7 312.7,599 313.5,596.3 314.3,594.8 315.1,597.1 315.9,597.1 316.7,591.8 317.5,592.5 318.3,595.6 319.1,590 319.9,585.7 320.7,588.4 321.5,587.6 322.3,586.7 323.1,589.5 323.9,590 324.7,589.5 325.5,591.2 326.3,594.4 327.1,596.8 327.9,598.7 328.7,595.8 329.5,593.2 330.3,594 331.1,590.9 331.9,585.3 332.7,585.9 333.5,586.5 334.3,587 335.1,589.9 335.9,593.7 336.7,591.7 337.5,586.2 338.3,581.1 339.1,580.1 339.9,582.8 340.7,585.1 341.5,584.6 342.3,585.8 343.1,588.7 343.9,587.9 344.7,587.8 345.5,587.2 346.3,586.7 347.1,586.1 347.9,585.2 348.7,582.1 349.5,580.5 350.3,583.1 351.1,584.9 351.9,590 352.7,600.1 353.5,604.1 354.3,601 355.1,598.9 355.9,598.2 356.7,595.5 357.5,594.1 358.3,594.2 359.1,598.2 359.9,602.9 360.7,608 361.5,614.2 362.3,615.3 363.1,610.9 363.9,610.7 364.7,613.9" fill="none" stroke="#000" stroke-width="2.4" stroke-linejoin="round"/>
<rect x="188.5" y="492.3" width="45.1" height="132.3" fill="#00ff00" fill-opacity="0.2"/>
<line x1="111.5" y1="492.3" x2="111.5" y2="625.6" stroke="#222" stroke-width="2"/>
<line x1="110.5" y1="624.6" x2="364" y2="624.6" stroke="#222" stroke-width="2"/>
<line x1="111.5" y1="624.6" x2="111.5" y2="628.1" stroke="#222" stroke-width="2"/>
<line x1="162" y1="624.6" x2="162" y2="628.1" stroke="#222" stroke-width="2"/>
<line x1="364" y1="624.6" x2="364" y2="628.1" stroke="#222" stroke-width="2"/>
<line x1="108" y1="513.5" x2="111.5" y2="513.5" stroke="#222" stroke-width="2"/>
<text x="102.5" y="522.9" text-anchor="end">1</text>
<line x1="108" y1="624.6" x2="111.5" y2="624.6" stroke="#222" stroke-width="2"/>
<text x="102.5" y="634" text-anchor="end">0</text>
<text x="110" y="661.8" text-anchor="middle">-2</text>
<text x="162" y="661.8" text-anchor="middle">0</text>
<text x="364.5" y="661.8" text-anchor="middle">8</text>
<text x="263" y="669.5" text-anchor="middle">Time from</text>
<text x="263" y="705.6" text-anchor="middle">landing (s)</text>
<text x="98" y="173.5" text-anchor="middle" transform="rotate(-90 98 173.5)">Trials</text>
<text x="58" y="392.9" text-anchor="middle" transform="rotate(-90 58 392.9)">Firing rate</text>
<text x="94.1" y="392.9" text-anchor="middle" transform="rotate(-90 94.1 392.9)">(Hz)</text>
<text x="59.2" y="558.5" text-anchor="middle" transform="rotate(-90 59.2 558.5)">Acceleration</text>
<text x="96.1" y="558.5" text-anchor="middle" transform="rotate(-90 96.1 558.5)">(g)</text>
<path d="M443.7 53.6H694.2v17.5H443.7zM443.7 70.7H694.2v17.5H443.7zM443.7 87.8H694.2v17.5H443.7zM443.7 105H694.2v17.5H443.7zM443.7 122.1H694.2v17.5H443.7zM443.7 139.2H694.2v17.5H443.7zM443.7 156.3H694.2v17.5H443.7zM443.7 173.5H694.2v17.5H443.7zM443.7 190.6H686.9v17.5H443.7zM443.7 207.7H669.2v17.5H443.7zM443.7 224.8H656.4v17.5H443.7zM443.7 241.9H656.4v17.5H443.7zM443.7 259.1H649.4v17.5H443.7zM443.7 276.2H626.3v17.5H443.7z" fill="#00008f"/>
<path d="M462.5 53.6h3.4v17.4h-3.4zM525.1 53.6h6.6v17.4h-6.6zM594 53.6h9.7v17.4h-9.7zM475 70.7h3.4v17.4h-3.4zM490.7 70.7h3.4v17.4h-3.4zM622.2 70.7h3.4v17.4h-3.4zM490.7 87.8h3.4v17.4h-3.4zM669.2 87.8h6.6v17.4h-6.6zM522 105h3.4v17.4h-3.4zM569 105h28.5v17.4h-28.5zM506.3 122.1h3.4v17.4h-3.4zM556.4 122.1h3.4v17.4h-3.4zM656.6 122.1h3.4v17.4h-3.4zM475 139.2h3.4v17.4h-3.4zM656.6 139.2h3.4v17.4h-3.4zM443.7 156.3h16v17.4h-16zM509.5 156.3h3.4v17.4h-3.4zM612.8 156.3h25.4v17.4h-25.4zM662.9 156.3h31.6v17.4h-31.6zM450 173.5h9.7v17.4h-9.7zM562.7 173.5h3.4v17.4h-3.4zM634.7 173.5h25.4v17.4h-25.4zM443.7 190.6h31.6v17.4h-31.6zM506.3 190.6h3.4v17.4h-3.4zM609.7 190.6h3.4v17.4h-3.4zM653.5 190.6h28.5v17.4h-28.5zM453.1 207.7h3.4v17.4h-3.4zM475 207.7h16v17.4h-16zM518.9 207.7h3.4v17.4h-3.4zM575.2 207.7h25.4v17.4h-25.4zM628.4 207.7h41v17.4h-41zM496.9 224.8h6.6v17.4h-6.6zM597.1 224.8h44.1v17.4h-44.1zM478.1 241.9h37.9v17.4h-37.9zM600.3 241.9h3.4v17.4h-3.4zM475 259.1h3.4v17.4h-3.4zM525.1 259.1h3.4v17.4h-3.4zM572.1 259.1h3.4v17.4h-3.4zM581.5 259.1h3.4v17.4h-3.4zM619 259.1h31.6v17.4h-31.6zM478.1 276.2h16v17.4h-16zM603.4 276.2h6.6v17.4h-6.6z" fill="#0000bb"/>
<path d="M590.9 53.6h3.4v17.4h-3.4zM471.9 70.7h3.4v17.4h-3.4zM619 70.7h3.4v17.4h-3.4zM493.8 87.8h3.4v17.4h-3.4zM662.9 87.8h6.6v17.4h-6.6zM525.1 105h3.4v17.4h-3.4zM565.8 105h3.4v17.4h-3.4zM509.5 122.1h3.4v17.4h-3.4zM553.3 122.1h3.4v17.4h-3.4zM559.6 122.1h3.4v17.4h-3.4zM653.5 122.1h3.4v17.4h-3.4zM471.9 139.2h3.4v17.4h-3.4zM537.6 139.2h3.4v17.4h-3.4zM653.5 139.2h3.4v17.4h-3.4zM500.1 173.5h3.4v17.4h-3.4zM509.5 190.6h3.4v17.4h-3.4zM456.2 207.7h3.4v17.4h-3.4zM471.9 207.7h3.4v17.4h-3.4zM503.2 224.8h6.6v17.4h-6.6zM594 224.8h3.4v17.4h-3.4zM515.7 241.9h3.4v17.4h-3.4zM471.9 259.1h3.4v17.4h-3.4zM528.2 259.1h3.4v17.4h-3.4zM615.9 259.1h3.4v17.4h-3.4zM493.8 276.2h3.4v17.4h-3.4zM600.3 276.2h3.4v17.4h-3.4z" fill="#0000e7"/>
<path d="M531.4 53.6h3.4v17.4h-3.4zM603.4 53.6h3.4v17.4h-3.4zM687.9 53.6h6.6v17.4h-6.6zM443.7 70.7h3.4v17.4h-3.4zM468.8 70.7h3.4v17.4h-3.4zM493.8 70.7h3.4v17.4h-3.4zM650.4 122.1h3.4v17.4h-3.4zM443.7 139.2h3.4v17.4h-3.4zM468.8 139.2h3.4v17.4h-3.4zM650.4 139.2h3.4v17.4h-3.4zM512.6 190.6h3.4v17.4h-3.4zM468.8 207.7h3.4v17.4h-3.4zM522 207.7h3.4v17.4h-3.4zM590.9 224.8h3.4v17.4h-3.4zM443.7 259.1h3.4v17.4h-3.4zM468.8 259.1h3.4v17.4h-3.4zM569 259.1h3.4v17.4h-3.4zM584.6 259.1h3.4v17.4h-3.4zM597.1 276.2h3.4v17.4h-3.4z" fill="#0013ff"/>
<path d="M459.4 53.6h3.4v17.4h-3.4zM534.5 53.6h3.4v17.4h-3.4zM587.7 53.6h3.4v17.4h-3.4zM641 53.6h47.3v17.4h-47.3zM446.8 70.7h22.2v17.4h-22.2zM609.7 70.7h9.7v17.4h-9.7zM659.8 87.8h3.4v17.4h-3.4zM562.7 105h3.4v17.4h-3.4zM631.6 122.1h19.1v17.4h-19.1zM446.8 139.2h22.2v17.4h-22.2zM540.8 139.2h3.4v17.4h-3.4zM631.6 139.2h19.1v17.4h-19.1zM512.6 156.3h3.4v17.4h-3.4zM609.7 156.3h3.4v17.4h-3.4zM503.2 173.5h3.4v17.4h-3.4zM559.6 173.5h3.4v17.4h-3.4zM606.5 190.6h3.4v17.4h-3.4zM459.4 207.7h9.7v17.4h-9.7zM572.1 207.7h3.4v17.4h-3.4zM509.5 224.8h3.4v17.4h-3.4zM587.7 224.8h3.4v17.4h-3.4zM518.9 241.9h3.4v17.4h-3.4zM597.1 241.9h3.4v17.4h-3.4zM446.8 259.1h22.2v17.4h-22.2zM531.4 259.1h3.4v17.4h-3.4z" fill="#003fff"/>
<path d="M606.5 53.6h3.4v17.4h-3.4zM496.9 70.7h3.4v17.4h-3.4zM606.5 70.7h3.4v17.4h-3.4zM496.9 87.8h3.4v17.4h-3.4zM656.6 87.8h3.4v17.4h-3.4zM528.2 105h3.4v17.4h-3.4zM512.6 122.1h3.4v17.4h-3.4zM550.2 122.1h3.4v17.4h-3.4zM628.4 122.1h3.4v17.4h-3.4zM628.4 139.2h3.4v17.4h-3.4zM515.7 190.6h3.4v17.4h-3.4zM512.6 224.8h3.4v17.4h-3.4zM565.8 259.1h3.4v17.4h-3.4zM612.8 259.1h3.4v17.4h-3.4zM594 276.2h3.4v17.4h-3.4z" fill="#006bff"/>
<path d="M584.6 53.6h3.4v17.4h-3.4zM637.8 53.6h3.4v17.4h-3.4zM603.4 70.7h3.4v17.4h-3.4zM653.5 87.8h3.4v17.4h-3.4zM562.7 122.1h3.4v17.4h-3.4zM584.6 224.8h3.4v17.4h-3.4zM587.7 259.1h3.4v17.4h-3.4zM496.9 276.2h3.4v17.4h-3.4zM534.5 276.2h3.4v17.4h-3.4zM590.9 276.2h3.4v17.4h-3.4z" fill="#0096ff"/>
<path d="M456.2 53.6h3.4v17.4h-3.4zM537.6 53.6h3.4v17.4h-3.4zM500.1 70.7h3.4v17.4h-3.4zM531.4 70.7h6.6v17.4h-6.6zM565.8 87.8h3.4v17.4h-3.4zM594 87.8h3.4v17.4h-3.4zM559.6 105h3.4v17.4h-3.4zM625.3 122.1h3.4v17.4h-3.4zM543.9 139.2h3.4v17.4h-3.4zM606.5 156.3h3.4v17.4h-3.4zM506.3 173.5h3.4v17.4h-3.4zM525.1 207.7h3.4v17.4h-3.4zM515.7 224.8h3.4v17.4h-3.4zM522 241.9h3.4v17.4h-3.4zM534.5 259.1h3.4v17.4h-3.4zM531.4 276.2h3.4v17.4h-3.4zM587.7 276.2h3.4v17.4h-3.4z" fill="#00c2ff"/>
<path d="M581.5 53.6h3.4v17.4h-3.4zM609.7 53.6h3.4v17.4h-3.4zM634.7 53.6h3.4v17.4h-3.4zM528.2 70.7h3.4v17.4h-3.4zM600.3 70.7h3.4v17.4h-3.4zM500.1 87.8h3.4v17.4h-3.4zM562.7 87.8h3.4v17.4h-3.4zM590.9 87.8h3.4v17.4h-3.4zM597.1 87.8h3.4v17.4h-3.4zM650.4 87.8h3.4v17.4h-3.4zM531.4 105h3.4v17.4h-3.4zM547 122.1h3.4v17.4h-3.4zM625.3 139.2h3.4v17.4h-3.4zM565.8 156.3h6.6v17.4h-6.6zM556.4 173.5h3.4v17.4h-3.4zM518.9 190.6h3.4v17.4h-3.4zM603.4 190.6h3.4v17.4h-3.4zM569 207.7h3.4v17.4h-3.4zM581.5 224.8h3.4v17.4h-3.4zM594 241.9h3.4v17.4h-3.4zM590.9 259.1h3.4v17.4h-3.4zM609.7 259.1h3.4v17.4h-3.4zM537.6 276.2h3.4v17.4h-3.4z" fill="#00eeff"/>
<path d="M443.7 53.6h12.8v17.4h-12.8zM540.8 53.6h3.4v17.4h-3.4zM612.8 53.6h22.2v17.4h-22.2zM503.2 70.7h25.3v17.4h-25.3zM537.6 70.7h3.4v17.4h-3.4zM503.2 87.8h22.2v17.4h-22.2zM556.4 87.8h6.6v17.4h-6.6zM600.3 87.8h50.4v17.4h-50.4zM515.7 122.1h3.4v17.4h-3.4zM581.5 122.1h6.6v17.4h-6.6zM547 139.2h12.8v17.4h-12.8zM515.7 156.3h3.4v17.4h-3.4zM540.8 156.3h25.4v17.4h-25.4zM600.3 156.3h6.6v17.4h-6.6zM509.5 173.5h9.7v17.4h-9.7zM522 190.6h28.5v17.4h-28.5zM597.1 190.6h6.6v17.4h-6.6zM528.2 207.7h3.4v17.4h-3.4zM518.9 224.8h3.4v17.4h-3.4zM578.3 224.8h3.4v17.4h-3.4zM590.9 241.9h3.4v17.4h-3.4zM562.7 259.1h3.4v17.4h-3.4zM594 259.1h16v17.4h-16zM540.8 276.2h47.3v17.4h-47.3z" fill="#1affe5"/>
<path d="M578.3 53.6h3.4v17.4h-3.4zM597.1 70.7h3.4v17.4h-3.4zM556.4 105h3.4v17.4h-3.4zM622.2 122.1h3.4v17.4h-3.4zM587.7 139.2h3.4v17.4h-3.4zM622.2 139.2h3.4v17.4h-3.4zM597.1 156.3h3.4v17.4h-3.4zM553.3 173.5h3.4v17.4h-3.4zM550.2 190.6h3.4v17.4h-3.4zM594 190.6h3.4v17.4h-3.4zM565.8 207.7h3.4v17.4h-3.4zM522 224.8h3.4v17.4h-3.4zM537.6 259.1h3.4v17.4h-3.4z" fill="#46ffb9"/>
<path d="M543.9 53.6h3.4v17.4h-3.4zM540.8 70.7h3.4v17.4h-3.4zM525.1 87.8h3.4v17.4h-3.4zM553.3 87.8h3.4v17.4h-3.4zM569 87.8h3.4v17.4h-3.4zM534.5 105h3.4v17.4h-3.4zM565.8 122.1h3.4v17.4h-3.4zM587.7 122.1h3.4v17.4h-3.4zM619 122.1h3.4v17.4h-3.4zM559.6 139.2h3.4v17.4h-3.4zM590.9 139.2h3.4v17.4h-3.4zM619 139.2h3.4v17.4h-3.4zM518.9 173.5h3.4v17.4h-3.4zM531.4 207.7h3.4v17.4h-3.4zM525.1 224.8h3.4v17.4h-3.4zM575.2 224.8h3.4v17.4h-3.4zM525.1 241.9h3.4v17.4h-3.4zM587.7 241.9h3.4v17.4h-3.4zM559.6 259.1h3.4v17.4h-3.4z" fill="#72ff8d"/>
<path d="M547 53.6h19.1v17.4h-19.1zM594 70.7h3.4v17.4h-3.4zM587.7 87.8h3.4v17.4h-3.4zM537.6 105h19.1v17.4h-19.1zM518.9 122.1h3.4v17.4h-3.4zM578.3 122.1h3.4v17.4h-3.4zM590.9 122.1h28.5v17.4h-28.5zM584.6 139.2h3.4v17.4h-3.4zM594 139.2h25.3v17.4h-25.3zM537.6 156.3h3.4v17.4h-3.4zM572.1 156.3h3.4v17.4h-3.4zM594 156.3h3.4v17.4h-3.4zM528.2 224.8h47.3v17.4h-47.3zM553.3 241.9h3.4v17.4h-3.4zM540.8 259.1h19.1v17.4h-19.1zM500.1 276.2h3.4v17.4h-3.4zM528.2 276.2h3.4v17.4h-3.4z" fill="#9dff62"/>
<path d="M565.8 53.6h3.4v17.4h-3.4zM575.2 53.6h3.4v17.4h-3.4zM543.9 70.7h3.4v17.4h-3.4zM543.9 122.1h3.4v17.4h-3.4zM550.2 241.9h3.4v17.4h-3.4z" fill="#c9ff36"/>
<path d="M547 70.7h3.4v17.4h-3.4zM590.9 70.7h3.4v17.4h-3.4zM522 122.1h3.4v17.4h-3.4zM569 122.1h3.4v17.4h-3.4zM575.2 122.1h3.4v17.4h-3.4zM518.9 156.3h3.4v17.4h-3.4zM550.2 173.5h3.4v17.4h-3.4zM590.9 190.6h3.4v17.4h-3.4zM562.7 207.7h3.4v17.4h-3.4zM528.2 241.9h3.4v17.4h-3.4zM547 241.9h3.4v17.4h-3.4z" fill="#f5ff0a"/>
<path d="M550.2 70.7h41v17.4h-41zM550.2 87.8h3.4v17.4h-3.4zM525.1 122.1h3.4v17.4h-3.4zM572.1 122.1h3.4v17.4h-3.4zM553.3 190.6h3.4v17.4h-3.4zM531.4 241.9h16v17.4h-16z" fill="#ffde00"/>
<path d="M569 53.6h6.6v17.4h-6.6zM572.1 87.8h3.4v17.4h-3.4zM584.6 87.8h3.4v17.4h-3.4zM534.5 156.3h3.4v17.4h-3.4zM575.2 156.3h3.4v17.4h-3.4zM590.9 156.3h3.4v17.4h-3.4zM556.4 241.9h3.4v17.4h-3.4zM584.6 241.9h3.4v17.4h-3.4z" fill="#ffb200"/>
<path d="M575.2 87.8h9.7v17.4h-9.7zM528.2 122.1h3.4v17.4h-3.4zM540.8 122.1h3.4v17.4h-3.4zM562.7 139.2h3.4v17.4h-3.4zM522 156.3h12.8v17.4h-12.8zM578.3 156.3h12.8v17.4h-12.8zM522 173.5h3.4v17.4h-3.4zM534.5 207.7h3.4v17.4h-3.4z" fill="#ff8600"/>
<path d="M528.2 87.8h3.4v17.4h-3.4z" fill="#ff5b00"/>
<path d="M531.4 122.1h3.4v17.4h-3.4zM581.5 139.2h3.4v17.4h-3.4z" fill="#ff2f00"/>
<path d="M534.5 122.1h6.6v17.4h-6.6zM587.7 190.6h3.4v17.4h-3.4zM503.2 276.2h3.4v17.4h-3.4zM525.1 276.2h3.4v17.4h-3.4z" fill="#ff0300"/>
<path d="M547 173.5h3.4v17.4h-3.4zM556.4 190.6h3.4v17.4h-3.4zM559.6 207.7h3.4v17.4h-3.4z" fill="#d70000"/>
<path d="M547 87.8h3.4v17.4h-3.4zM559.6 241.9h3.4v17.4h-3.4zM581.5 241.9h3.4v17.4h-3.4z" fill="#ab0000"/>
<path d="M531.4 87.8h16v17.4h-16zM565.8 139.2h16v17.4h-16zM525.1 173.5h22.2v17.4h-22.2zM559.6 190.6h28.5v17.4h-28.5zM537.6 207.7h22.2v17.4h-22.2zM562.7 241.9h19.1v17.4h-19.1zM506.3 276.2h19.1v17.4h-19.1z" fill="#800000"/>
<line x1="443.7" y1="53.6" x2="694.2" y2="53.6" stroke="#222" stroke-width="2"/>
<line x1="443.7" y1="293.3" x2="694.2" y2="293.3" stroke="#222" stroke-width="2"/>
<line x1="443.7" y1="53.6" x2="443.7" y2="293.3" stroke="#222" stroke-width="2"/>
<line x1="694.2" y1="53.6" x2="694.2" y2="293.3" stroke="#222" stroke-width="2"/>
<line x1="443.7" y1="47.1" x2="443.7" y2="53.6" stroke="#222" stroke-width="2"/>
<line x1="443.7" y1="293.3" x2="443.7" y2="299.8" stroke="#222" stroke-width="2"/>
<line x1="493.8" y1="47.1" x2="493.8" y2="53.6" stroke="#222" stroke-width="2"/>
<line x1="493.8" y1="293.3" x2="493.8" y2="299.8" stroke="#222" stroke-width="2"/>
<line x1="694.2" y1="47.1" x2="694.2" y2="53.6" stroke="#222" stroke-width="2"/>
<line x1="694.2" y1="293.3" x2="694.2" y2="299.8" stroke="#222" stroke-width="2"/>
<line x1="437.2" y1="62.2" x2="443.7" y2="62.2" stroke="#222" stroke-width="2"/>
<line x1="694.2" y1="62.2" x2="700.7" y2="62.2" stroke="#222" stroke-width="2"/>
<text x="434.4" y="71.6" text-anchor="end">14</text>
<text x="451" y="40.5">Bat 2</text>
<text x="693.9" y="40" text-anchor="end">18.8 Hz</text>
<line x1="493.8" y1="326.7" x2="493.8" y2="459" stroke="#a0a0a0" stroke-width="2.6"/>
<polyline points="443.4,441.4 444.9,441.9 446.4,442.3 447.9,442.8 449.4,443.2 450.9,443.7 452.4,444.1 453.9,444.6 455.4,445.1 456.9,445.7 458.4,446.2 459.9,446.8 461.4,447.4 462.9,448.1 464.4,448.7 465.9,449.4 467.4,450.2 468.9,450.9 470.4,451.7 471.9,452.4 473.4,453.2 474.9,453.9 476.4,454.6 477.9,455.3 479.4,455.9 480.9,456.5 482.4,457 483.9,457.4 485.4,457.7 486.9,458 488.4,458 489.9,458 491.4,458 492.9,457.8 494.4,457.2 495.9,456.4 497.4,455.3 498.9,453.9 500.4,452.2 501.9,450.1 503.4,447.9 504.9,445.4 506.4,442.7 507.9,439.7 509.4,436.6 510.9,433.3 512.4,429.7 513.9,426 515.4,422.2 516.9,418.1 518.4,413.9 519.9,409.5 521.4,405 522.9,400.3 524.4,395.5 525.9,390.6 527.4,385.6 528.9,380.4 530.4,375.1 531.9,369.8 533.4,364.4 534.9,359.1 536.4,354 537.9,349.3 539.4,345.1 540.9,341.6 542.4,338.8 543.9,336.7 545.4,335.2 546.9,334.2 548.4,333.8 549.9,333.8 551.4,334.3 552.9,335 554.4,336 555.9,337.2 557.4,338.4 558.9,339.7 560.4,340.8 561.9,341.8 563.4,342.5 564.9,342.7 566.4,342.4 567.9,341.6 569.4,340.7 570.9,339.7 572.4,338.9 573.9,338.4 575.4,338.5 576.9,339.3 578.4,340.9 579.9,343.2 581.4,346.5 582.9,350.6 584.4,355.5 585.9,361.1 587.4,367 588.9,373.1 590.4,379.4 591.9,385.6 593.4,391.6 594.9,397.3 596.4,402.6 597.9,407.4 599.4,411.7 600.9,415.4 602.4,418.6 603.9,421.3 605.4,423.4 606.9,425.1 608.4,426.5 609.9,427.6 611.4,428.6 612.9,429.5 614.4,430.4 615.9,431.3 617.4,432.2 618.9,433.2 620.4,434.1 621.9,435.1 623.4,436.1 624.9,437 626.4,437.9 627.9,438.8 629.4,439.7 630.9,440.6 632.4,441.3 633.9,442 635.4,442.5 636.9,443 638.4,443.3 639.9,443.4 641.4,443.4 642.9,443.4 644.4,443.4 645.9,443.4 647.4,443.6 648.9,444 650.4,444.5 651.9,445.2 653.4,446.1 654.9,446.9 656.4,447.7 657.9,448.5 659.4,449.3 660.9,450 662.4,450.7 663.9,451.5 665.4,452.3 666.9,453.1 668.4,454 669.9,454.8 670.1,455" fill="none" stroke="#000" stroke-width="2.4" stroke-linejoin="round"/>
<rect x="532.6" y="326.7" width="55" height="132.3" fill="#00ff00" fill-opacity="0.2"/>
<line x1="443.7" y1="326.7" x2="443.7" y2="460" stroke="#222" stroke-width="2"/>
<line x1="442.7" y1="459" x2="694.2" y2="459" stroke="#222" stroke-width="2"/>
<line x1="443.7" y1="459" x2="443.7" y2="462.5" stroke="#222" stroke-width="2"/>
<line x1="493.8" y1="459" x2="493.8" y2="462.5" stroke="#222" stroke-width="2"/>
<line x1="694.2" y1="459" x2="694.2" y2="462.5" stroke="#222" stroke-width="2"/>
<line x1="440.2" y1="326.7" x2="443.7" y2="326.7" stroke="#222" stroke-width="2"/>
<text x="434.7" y="336.1" text-anchor="end">8</text>
<line x1="493.8" y1="492.3" x2="493.8" y2="624.6" stroke="#a0a0a0" stroke-width="2"/>
<polygon points="442.6,614.9 443.4,612 444.2,610.3 445,610.3 445.8,608.1 446.6,604.7 447.4,603.9 448.2,605.5 449,606.3 449.8,607.6 450.6,606.3 451.4,603.6 452.2,603.1 453,604.2 453.8,600.2 454.6,593.1 455.4,584.1 456.2,576 457,566.9 457.8,551.6 458.6,538.5 459.4,525.9 460.2,510.3 461,504 461.8,501.9 462.6,499.5 463.4,498.5 464.2,506.2 465,514.7 465.8,522.9 466.6,530.6 467.4,538.2 468.2,545.6 469,550 469.8,551.5 470.6,553.4 471.4,555.7 472.2,556.7 473,555.9 473.8,554.2 474.6,551.5 475.4,551.2 476.2,550.5 477,551.1 477.8,551.7 478.6,551.2 479.4,552.6 480.2,556.6 481,559.4 481.8,557.9 482.6,557 483.4,558.4 484.2,560.4 485,562.2 485.8,565.3 486.6,567.8 487.4,570.3 488.2,574.9 489,578.5 489.8,583.9 490.6,589.6 491.4,583.6 492.2,575.9 493,566.8 493.8,550.1 494.6,532.5 495.4,522 496.2,531.2 497,538.2 497.8,546.9 498.6,563.3 499.4,578.3 500.2,594.1 501,597.8 501.8,598.2 502.6,596.4 503.4,598.1 504.2,599.4 505,599.8 505.8,601.8 506.6,603.3 507.4,600.8 508.2,599.9 509,600.1 509.8,600.8 510.6,601.6 511.4,603.4 512.2,607 513,604.8 513.8,602 514.6,602.1 515.4,604.6 516.2,606.1 517,602.9 517.8,601.2 518.6,601 519.4,600.4 520.2,602.8 521,604.9 521.8,604.3 522.6,605.3 523.4,604.8 524.2,601.8 525,602.2 525.8,604.6 526.6,604.7 527.4,604 528.2,604.5 529,604.9 529.8,606.1 530.6,607.3 531.4,606.3 532.2,605 533,606 533.8,607.2 534.6,608.3 535.4,608 536.2,606.2 537,604.2 537.8,602.8 538.6,602.4 539.4,602.2 540.2,603.2 541,603 541.8,602.8 542.6,604.8 543.4,606.6 544.2,607.2 545,607.3 545.8,608.3 546.6,607.2 547.4,604.3 548.2,604.9 549,605.1 549.8,603.2 550.6,601.3 551.4,602.7 552.2,601.8 553,601.3 553.8,601.6 554.6,602.3 555.4,602.9 556.2,603.4 557,604.1 557.8,602.6 558.6,602.1 559.4,602.4 560.2,602 561,601.9 561.8,601.8 562.6,598.4 563.4,596.4 564.2,598 565,599.2 565.8,600.1 566.6,600.6 567.4,601.4 568.2,603 569,603.9 569.8,604.5 570.6,605 571.4,604.2 572.2,601.3 573,599.8 573.8,600.5 574.6,600.6 575.4,600.9 576.2,602.8 577,602.7 577.8,602.3 578.6,604.8 579.4,608.4 580.2,607.8 581,606.5 581.8,606.3 582.6,602.5 583.4,601.3 584.2,603.3 585,606 585.8,604.5 586.6,602.1 587.4,602.6 588.2,604.6 589,604.7 589.8,605.7 590.6,606.4 591.4,606.8 592.2,607.8 593,607.3 593.8,603.4 594.6,600.8 595.4,602.1 596.2,605.3 597,605.2 597.8,604.6 598.6,605.2 599.4,605.8 600.2,605.9 601,603.8 601.8,603.2 602.6,606.3 603.4,608 604.2,607.9 605,606.2 605.8,605.5 606.6,606.3 607.4,607.2 608.2,608.2 609,607.6 609.8,605.5 610.6,605.3 611.4,608.2 612.2,608.6 613,608 613.8,608.6 614.6,608.6 615.4,609.3 616.2,608.2 617,606.6 617.8,608.1 618.6,606.1 619.4,605.9 620.2,607 621,605.2 621.8,605.6 622.6,605.6 623.4,605.1 624.2,606.9 625,607.1 625.8,605.2 626.6,603.7 627.4,602 628.2,603.3 629,605.6 629.8,605 630.6,603.4 631.4,602.8 632.2,602.8 633,604.4 633.8,605.3 634.6,604.8 635.4,605.9 636.2,606.8 637,605.9 637.8,605.2 638.6,606.3 639.4,607.1 640.2,606 641,606.8 641.8,605.5 642.6,605.7 643.4,607.7 644.2,609.4 645,610 645.8,609.5 646.6,609.2 647.4,608.7 648.2,607.4 649,606.9 649.8,608.3 650.6,606 651.4,604.8 652.2,606.6 653,609.8 653.8,610.7 654.6,609.1 655.4,606.6 656.2,605.5 657,605.2 657.8,605.7 658.6,606.4 659.4,606.1 660.2,606 661,605.8 661.8,604.5 662.6,601.4 663.4,597.9 664.2,598.2 665,599.5 665.8,598.7 666.6,597.3 667.4,597.7 668.2,601 669,602.4 669.8,602 670.6,603.6 671.4,604.1 672.2,605.1 673,603.8 673.8,600.9 674.6,597.7 675.4,597.9 676.2,600.6 677,605.5 677.8,609.8 678.6,609.8 679.4,606.3 680.2,602.8 681,602.8 681.8,603.4 682.6,603.7 683.4,605.9 684.2,607.9 685,606.9 685.8,606.2 686.6,605.2 687.4,604.4 688.2,605 689,603.8 689.8,603 690.6,603.1 691.4,602.2 692.2,600.9 693,602.3 693.8,603.1 694.6,601.9 694.6,614.5 693.8,615.3 693,613.3 692.2,609.7 691.4,608.5 690.6,609.7 689.8,610.3 689,611.5 688.2,614.2 687.4,615.3 686.6,616.2 685.8,615.8 685,614.6 684.2,613.7 683.4,612.4 682.6,610.9 681.8,611.6 681,612.5 680.2,612.6 679.4,614 678.6,615.3 677.8,615.9 677,615 676.2,614.3 675.4,613.5 674.6,612.3 673.8,612.5 673,612.1 672.2,610.7 671.4,611.3 670.6,611.8 669.8,610.1 669,608.5 668.2,608.4 667.4,606.8 666.6,606.7 665.8,608.2 665,609.2 664.2,608.6 663.4,609 662.6,611.9 661.8,612.9 661,612.3 660.2,611.5 659.4,612 658.6,613.4 657.8,614 657,613.5 656.2,612.6 655.4,612.5 654.6,614.6 653.8,617 653,618.4 652.2,617.3 651.4,615.9 650.6,615.2 649.8,613.9 649,615.6 648.2,618.1 647.4,620.2 646.6,621.1 645.8,620.4 645,618.6 644.2,615.9 643.4,614.2 642.6,613.9 641.8,615.6 641,617.5 640.2,615 639.4,612.5 638.6,615.5 637.8,617.1 637,618.9 636.2,619.5 635.4,616.9 634.6,614 633.8,613.9 633,613.4 632.2,612.4 631.4,612.4 630.6,612.8 629.8,614.6 629,615.7 628.2,613.5 627.4,611 626.6,610.1 625.8,612.3 625,615.6 624.2,616.2 623.4,613.9 622.6,612.1 621.8,613 621,612.8 620.2,613.4 619.4,615.5 618.6,615.1 617.8,613.5 617,614.2 616.2,614.8 615.4,615.7 614.6,615.7 613.8,614.3 613,615 612.2,615.9 611.4,613.9 610.6,612.6 609.8,613.9 609,615.8 608.2,615.1 607.4,613.4 606.6,614.3 605.8,616.7 605,618.5 604.2,618.7 603.4,616.2 602.6,611.8 601.8,611.1 601,612.4 600.2,612.3 599.4,613.9 598.6,615.3 597.8,614.2 597,612.5 596.2,612.7 595.4,613.7 594.6,614.1 593.8,614.1 593,613.2 592.2,615.6 591.4,614.4 590.6,613 589.8,612 589,610.6 588.2,610.6 587.4,609.9 586.6,609.4 585.8,611 585,613.6 584.2,613.9 583.4,613.7 582.6,612.6 581.8,611.8 581,614.9 580.2,615.6 579.4,613.9 578.6,613.1 577.8,613.5 577,615.1 576.2,613.6 575.4,608.4 574.6,607.1 573.8,608.8 573,608.9 572.2,610.3 571.4,612 570.6,611.3 569.8,610.2 569,609.6 568.2,608.4 567.4,607.9 566.6,610 565.8,613.9 565,616.5 564.2,616 563.4,613 562.6,612.4 561.8,612.7 561,610.3 560.2,609.4 559.4,609.4 558.6,608.8 557.8,609.1 557,609.6 556.2,610.8 555.4,612.2 554.6,613.1 553.8,613.3 553,612.9 552.2,610.9 551.4,608.8 550.6,610.6 549.8,612.5 549,612.1 548.2,611.3 547.4,611.7 546.6,613.2 545.8,615.7 545,616.3 544.2,615.6 543.4,612.9 542.6,611.8 541.8,612 541,613.8 540.2,614.5 539.4,613.7 538.6,614.6 537.8,615.3 537,614.9 536.2,613.6 535.4,613.6 534.6,613.7 533.8,613.9 533,613.6 532.2,612.6 531.4,612.7 530.6,613.1 529.8,612.7 529,611.9 528.2,612.1 527.4,611.9 526.6,611.5 525.8,611.1 525,610.9 524.2,610.3 523.4,610.5 522.6,613.4 521.8,613.2 521,611.7 520.2,610.9 519.4,612.4 518.6,615.3 517.8,614.8 517,612.6 516.2,612.7 515.4,615.3 514.6,614.4 513.8,613.7 513,614 512.2,612.4 511.4,612.8 510.6,614.4 509.8,616.4 509,616.7 508.2,614.6 507.4,611.2 506.6,608.8 505.8,610.9 505,611.2 504.2,611.5 503.4,609.1 502.6,605.3 501.8,604.8 501,604 500.2,600.9 499.4,584.6 498.6,568.8 497.8,552.6 497,543.8 496.2,538 495.4,530.4 494.6,542.5 493.8,560.4 493,576.6 492.2,582.1 491.4,591.7 490.6,598.1 489.8,592.8 489,589.1 488.2,586.9 487.4,582.5 486.6,579.8 485.8,577 485,572.9 484.2,569 483.4,565.1 482.6,563.4 481.8,564.2 481,566.4 480.2,566 479.4,564 478.6,563.1 477.8,562.6 477,560.5 476.2,558.2 475.4,558.1 474.6,560.6 473.8,562.9 473,562.7 472.2,562.9 471.4,562.3 470.6,562.8 469.8,562.9 469,559.8 468.2,552 467.4,548.4 466.6,543.2 465.8,536.6 465,529.3 464.2,520.9 463.4,512 462.6,511.2 461.8,511.8 461,511.7 460.2,517 459.4,532.4 458.6,546.2 457.8,559.8 457,573.1 456.2,584.2 455.4,591.6 454.6,599.6 453.8,608.9 453,617.8 452.2,620.3 451.4,620.6 450.6,619.7 449.8,616.6 449,613.7 448.2,615.6 447.4,617.2 446.6,617.5 445.8,617.2 445,616.6 444.2,617.7 443.4,618.9 442.6,621.2" fill="#b0b0b0"/>
<polyline points="442.6,618.1 443.4,615.5 444.2,614 445,613.5 445.8,612.7 446.6,611.1 447.4,610.5 448.2,610.5 449,610 449.8,612.1 450.6,613 451.4,612.1 452.2,611.7 453,611 453.8,604.5 454.6,596.4 455.4,587.9 456.2,580.1 457,570 457.8,555.7 458.6,542.3 459.4,529.2 460.2,513.6 461,507.9 461.8,506.8 462.6,505.4 463.4,505.3 464.2,513.6 465,522 465.8,529.7 466.6,536.9 467.4,543.3 468.2,548.8 469,554.9 469.8,557.2 470.6,558.1 471.4,559 472.2,559.8 473,559.3 473.8,558.6 474.6,556.1 475.4,554.7 476.2,554.3 477,555.8 477.8,557.2 478.6,557.2 479.4,558.3 480.2,561.3 481,562.9 481.8,561 482.6,560.2 483.4,561.7 484.2,564.7 485,567.5 485.8,571.2 486.6,573.8 487.4,576.4 488.2,580.9 489,583.8 489.8,588.4 490.6,593.9 491.4,587.7 492.2,579 493,571.7 493.8,555.2 494.6,537.5 495.4,526.2 496.2,534.6 497,541 497.8,549.7 498.6,566.1 499.4,581.5 500.2,597.5 501,600.9 501.8,601.5 502.6,600.8 503.4,603.6 504.2,605.5 505,605.5 505.8,606.3 506.6,606 507.4,606 508.2,607.3 509,608.4 509.8,608.6 510.6,608 511.4,608.1 512.2,609.7 513,609.4 513.8,607.8 514.6,608.2 515.4,609.9 516.2,609.4 517,607.8 517.8,608 518.6,608.1 519.4,606.4 520.2,606.9 521,608.3 521.8,608.8 522.6,609.4 523.4,607.6 524.2,606 525,606.5 525.8,607.9 526.6,608.1 527.4,608 528.2,608.3 529,608.4 529.8,609.4 530.6,610.2 531.4,609.5 532.2,608.8 533,609.8 533.8,610.5 534.6,611 535.4,610.8 536.2,609.9 537,609.6 537.8,609 538.6,608.5 539.4,608 540.2,608.9 541,608.4 541.8,607.4 542.6,608.3 543.4,609.8 544.2,611.4 545,611.8 545.8,612 546.6,610.2 547.4,608 548.2,608.1 549,608.6 549.8,607.8 550.6,606 551.4,605.7 552.2,606.3 553,607.1 553.8,607.5 554.6,607.7 555.4,607.6 556.2,607.1 557,606.8 557.8,605.9 558.6,605.5 559.4,605.9 560.2,605.7 561,606.1 561.8,607.3 562.6,605.4 563.4,604.7 564.2,607 565,607.9 565.8,607 566.6,605.3 567.4,604.6 568.2,605.7 569,606.8 569.8,607.4 570.6,608.2 571.4,608.1 572.2,605.8 573,604.4 573.8,604.7 574.6,603.9 575.4,604.6 576.2,608.2 577,608.9 577.8,607.9 578.6,608.9 579.4,611.2 580.2,611.7 581,610.7 581.8,609 582.6,607.5 583.4,607.5 584.2,608.6 585,609.8 585.8,607.7 586.6,605.8 587.4,606.3 588.2,607.6 589,607.7 589.8,608.9 590.6,609.7 591.4,610.6 592.2,611.7 593,610.2 593.8,608.7 594.6,607.5 595.4,607.9 596.2,609 597,608.9 597.8,609.4 598.6,610.3 599.4,609.9 600.2,609.1 601,608.1 601.8,607.2 602.6,609.1 603.4,612.1 604.2,613.3 605,612.4 605.8,611.1 606.6,610.3 607.4,610.3 608.2,611.7 609,611.7 609.8,609.7 610.6,609 611.4,611 612.2,612.3 613,611.5 613.8,611.4 614.6,612.2 615.4,612.5 616.2,611.5 617,610.4 617.8,610.8 618.6,610.6 619.4,610.7 620.2,610.2 621,609 621.8,609.3 622.6,608.8 623.4,609.5 624.2,611.6 625,611.3 625.8,608.8 626.6,606.9 627.4,606.5 628.2,608.4 629,610.6 629.8,609.8 630.6,608.1 631.4,607.6 632.2,607.6 633,608.9 633.8,609.6 634.6,609.4 635.4,611.4 636.2,613.2 637,612.4 637.8,611.2 638.6,610.9 639.4,609.8 640.2,610.5 641,612.1 641.8,610.6 642.6,609.8 643.4,610.9 644.2,612.7 645,614.3 645.8,615 646.6,615.2 647.4,614.5 648.2,612.7 649,611.2 649.8,611.1 650.6,610.6 651.4,610.4 652.2,611.9 653,614.1 653.8,613.9 654.6,611.8 655.4,609.5 656.2,609 657,609.3 657.8,609.9 658.6,609.9 659.4,609 660.2,608.8 661,609.1 661.8,608.7 662.6,606.6 663.4,603.4 664.2,603.4 665,604.3 665.8,603.5 666.6,602 667.4,602.3 668.2,604.7 669,605.5 669.8,606.1 670.6,607.7 671.4,607.7 672.2,607.9 673,607.9 673.8,606.7 674.6,605 675.4,605.7 676.2,607.5 677,610.3 677.8,612.8 678.6,612.5 679.4,610.1 680.2,607.7 681,607.7 681.8,607.5 682.6,607.3 683.4,609.2 684.2,610.8 685,610.8 685.8,611 686.6,610.7 687.4,609.9 688.2,609.6 689,607.7 689.8,606.6 690.6,606.4 691.4,605.3 692.2,605.3 693,607.8 693.8,609.2 694.6,608.2" fill="none" stroke="#000" stroke-width="2.4" stroke-linejoin="round"/>
<rect x="532.6" y="492.3" width="55" height="132.3" fill="#00ff00" fill-opacity="0.2"/>
<line x1="443.7" y1="492.3" x2="443.7" y2="625.6" stroke="#222" stroke-width="2"/>
<line x1="442.7" y1="624.6" x2="694.2" y2="624.6" stroke="#222" stroke-width="2"/>
<line x1="443.7" y1="624.6" x2="443.7" y2="628.1" stroke="#222" stroke-width="2"/>
<line x1="493.8" y1="624.6" x2="493.8" y2="628.1" stroke="#222" stroke-width="2"/>
<line x1="694.2" y1="624.6" x2="694.2" y2="628.1" stroke="#222" stroke-width="2"/>
<line x1="440.2" y1="513.5" x2="443.7" y2="513.5" stroke="#222" stroke-width="2"/>
<text x="434.7" y="522.9" text-anchor="end">1</text>
<line x1="440.2" y1="624.6" x2="443.7" y2="624.6" stroke="#222" stroke-width="2"/>
<text x="434.7" y="634" text-anchor="end">0</text>
<text x="442.2" y="661.8" text-anchor="middle">-2</text>
<text x="493.8" y="661.8" text-anchor="middle">0</text>
<text x="694.7" y="661.8" text-anchor="middle">8</text>
<text x="595.2" y="669.5" text-anchor="middle">Time from</text>
<text x="595.2" y="705.6" text-anchor="middle">landing (s)</text>
<path d="M773.1 53.6H1024.6v7.7H773.1zM773.1 60.9H1024.6v7.7H773.1zM773.1 68.1H1024.6v7.7H773.1zM773.1 75.4H1024.6v7.7H773.1zM773.1 82.7H1024.6v7.7H773.1zM773.1 89.9H1024.6v7.7H773.1zM773.1 97.2H1024.6v7.7H773.1zM773.1 104.4H1024.6v7.7H773.1zM773.1 111.7H1024.6v7.7H773.1zM773.1 119H1024.6v7.7H773.1zM773.1 126.2H1024.6v7.7H773.1zM773.1 133.5H1024.6v7.7H773.1zM773.1 140.8H1024.6v7.7H773.1zM773.1 148H1020.6v7.7H773.1zM773.1 155.3H1016.3v7.7H773.1zM773.1 162.6H1012v7.7H773.1zM773.1 169.8H1010.5v7.7H773.1zM773.1 177.1H1002v7.7H773.1zM773.1 184.3H998.9v7.7H773.1zM773.1 191.6H993.2v7.7H773.1zM773.1 198.9H992.4v7.7H773.1zM773.1 206.1H991.7v7.7H773.1zM773.1 213.4H984.4v7.7H773.1zM773.1 220.7H972.8v7.7H773.1zM773.1 227.9H971.3v7.7H773.1zM773.1 235.2H964.2v7.7H773.1zM773.1 242.5H961.2v7.7H773.1zM773.1 249.7H958.5v7.7H773.1zM773.1 257H949.7v7.7H773.1zM773.1 264.2H949.1v7.7H773.1zM773.1 271.5H948.6v7.7H773.1zM773.1 278.8H948.1v7.7H773.1zM773.1 286H900.4v7.7H773.1z" fill="#00008f"/>
<path d="M883.8 53.6h12.9v7.6h-12.9zM903.9 53.6h5.3v7.6h-5.3zM939.1 53.6h28v7.6h-28zM783.2 60.9h2.8v7.6h-2.8zM823.4 60.9h2.8v7.6h-2.8zM926.5 60.9h17.9v7.6h-17.9zM956.7 60.9h12.9v7.6h-12.9zM1002 60.9h17.9v7.6h-17.9zM773.1 68.1h7.8v7.6h-7.8zM790.7 68.1h15.4v7.6h-15.4zM959.2 68.1h2.8v7.6h-2.8zM976.8 68.1h2.8v7.6h-2.8zM803.3 75.4h12.9v7.6h-12.9zM820.9 75.4h5.3v7.6h-5.3zM931.5 75.4h2.8v7.6h-2.8zM944.1 75.4h15.4v7.6h-15.4zM974.3 75.4h25.4v7.6h-25.4zM793.2 82.7h30.5v7.6h-30.5zM858.6 82.7h5.3v7.6h-5.3zM911.4 82.7h2.8v7.6h-2.8zM924 82.7h12.9v7.6h-12.9zM1004.5 82.7h2.8v7.6h-2.8zM795.7 89.9h7.8v7.6h-7.8zM999.4 89.9h25.4v7.6h-25.4zM790.7 97.2h2.8v7.6h-2.8zM815.9 97.2h5.3v7.6h-5.3zM939.1 97.2h2.8v7.6h-2.8zM981.8 97.2h5.3v7.6h-5.3zM793.2 104.4h5.3v7.6h-5.3zM818.4 104.4h5.3v7.6h-5.3zM795.7 111.7h7.8v7.6h-7.8zM810.8 111.7h2.8v7.6h-2.8zM903.9 111.7h5.3v7.6h-5.3zM936.6 111.7h10.4v7.6h-10.4zM979.3 111.7h5.3v7.6h-5.3zM790.7 119h40.5v7.6h-40.5zM838.5 119h2.8v7.6h-2.8zM981.8 119h30.5v7.6h-30.5zM805.8 126.2h5.3v7.6h-5.3zM916.5 126.2h7.8v7.6h-7.8zM954.2 126.2h33v7.6h-33zM773.1 133.5h22.9v7.6h-22.9zM888.8 133.5h5.3v7.6h-5.3zM916.5 133.5h10.4v7.6h-10.4zM999.4 133.5h5.3v7.6h-5.3zM1019.6 133.5h5.3v7.6h-5.3zM815.9 140.8h33v7.6h-33zM861.1 140.8h2.8v7.6h-2.8zM946.6 140.8h10.4v7.6h-10.4zM989.4 140.8h33v7.6h-33zM795.7 148h2.8v7.6h-2.8zM823.4 148h5.3v7.6h-5.3zM919 148h2.8v7.6h-2.8zM1002 148h7.8v7.6h-7.8zM773.1 155.3h7.8v7.6h-7.8zM800.8 155.3h10.4v7.6h-10.4zM846 155.3h2.8v7.6h-2.8zM981.8 155.3h35.5v7.6h-35.5zM790.7 162.6h5.3v7.6h-5.3zM813.3 162.6h38v7.6h-38zM883.8 162.6h7.8v7.6h-7.8zM931.5 162.6h33v7.6h-33zM986.9 162.6h5.3v7.6h-5.3zM773.1 169.8h17.9v7.6h-17.9zM823.4 169.8h5.3v7.6h-5.3zM926.5 169.8h35.5v7.6h-35.5zM976.8 169.8h10.4v7.6h-10.4zM773.1 177.1h43.1v7.6h-43.1zM825.9 177.1h2.8v7.6h-2.8zM971.8 177.1h15.4v7.6h-15.4zM773.1 184.3h33v7.6h-33zM813.3 184.3h7.8v7.6h-7.8zM946.6 184.3h12.9v7.6h-12.9zM996.9 184.3h2.8v7.6h-2.8zM785.7 191.6h7.8v7.6h-7.8zM911.4 191.6h38v7.6h-38zM795.7 198.9h35.5v7.6h-35.5zM916.5 198.9h5.3v7.6h-5.3zM961.7 198.9h7.8v7.6h-7.8zM790.7 206.1h5.3v7.6h-5.3zM810.8 206.1h2.8v7.6h-2.8zM931.5 206.1h12.9v7.6h-12.9zM813.3 213.4h7.8v7.6h-7.8zM843.5 213.4h5.3v7.6h-5.3zM959.2 213.4h15.4v7.6h-15.4zM790.7 220.7h2.8v7.6h-2.8zM808.3 220.7h7.8v7.6h-7.8zM926.5 220.7h15.4v7.6h-15.4zM969.3 220.7h2.8v7.6h-2.8zM818.4 227.9h12.9v7.6h-12.9zM959.2 227.9h5.3v7.6h-5.3zM773.1 235.2h30.5v7.6h-30.5zM908.9 235.2h2.8v7.6h-2.8zM931.5 235.2h5.3v7.6h-5.3zM793.2 242.5h7.8v7.6h-7.8zM823.4 242.5h2.8v7.6h-2.8zM896.3 242.5h43.1v7.6h-43.1zM790.7 249.7h2.8v7.6h-2.8zM805.8 249.7h25.5v7.6h-25.5zM846 249.7h2.8v7.6h-2.8zM893.8 249.7h2.8v7.6h-2.8zM924 249.7h5.3v7.6h-5.3zM823.4 257h5.3v7.6h-5.3zM886.3 257h10.4v7.6h-10.4zM929 257h7.8v7.6h-7.8zM795.7 264.2h12.9v7.6h-12.9zM863.6 264.2h7.8v7.6h-7.8zM893.8 264.2h5.3v7.6h-5.3zM901.4 264.2h12.9v7.6h-12.9zM919 264.2h12.9v7.6h-12.9zM886.3 271.5h12.9v7.6h-12.9zM934.1 271.5h15.4v7.6h-15.4zM778.1 278.8h5.3v7.6h-5.3zM785.7 286h7.8v7.6h-7.8zM828.4 286h5.3v7.6h-5.3z" fill="#0000bb"/>
<path d="M773.1 53.6h2.8v7.6h-2.8zM881.2 53.6h2.8v7.6h-2.8zM936.6 53.6h2.8v7.6h-2.8zM994.4 53.6h30.5v7.6h-30.5zM825.9 60.9h2.8v7.6h-2.8zM913.9 60.9h12.9v7.6h-12.9zM969.3 60.9h33v7.6h-33zM805.8 68.1h7.8v7.6h-7.8zM979.3 68.1h2.8v7.6h-2.8zM793.2 75.4h10.4v7.6h-10.4zM825.9 75.4h2.8v7.6h-2.8zM929 75.4h2.8v7.6h-2.8zM959.2 75.4h15.4v7.6h-15.4zM999.4 75.4h2.8v7.6h-2.8zM783.2 82.7h10.4v7.6h-10.4zM863.6 82.7h2.8v7.6h-2.8zM908.9 82.7h2.8v7.6h-2.8zM936.6 82.7h53.1v7.6h-53.1zM996.9 82.7h7.8v7.6h-7.8zM803.3 89.9h10.4v7.6h-10.4zM996.9 89.9h2.8v7.6h-2.8zM788.2 97.2h2.8v7.6h-2.8zM790.7 104.4h2.8v7.6h-2.8zM823.4 104.4h5.3v7.6h-5.3zM785.7 111.7h10.4v7.6h-10.4zM901.4 111.7h2.8v7.6h-2.8zM946.6 111.7h2.8v7.6h-2.8zM976.8 111.7h2.8v7.6h-2.8zM773.1 119h17.9v7.6h-17.9zM841 119h2.8v7.6h-2.8zM974.3 119h7.8v7.6h-7.8zM1012 119h12.9v7.6h-12.9zM810.8 126.2h7.8v7.6h-7.8zM986.9 126.2h2.8v7.6h-2.8zM795.7 133.5h10.4v7.6h-10.4zM886.3 133.5h2.8v7.6h-2.8zM926.5 133.5h10.4v7.6h-10.4zM994.4 133.5h5.3v7.6h-5.3zM1004.5 133.5h15.4v7.6h-15.4zM808.3 140.8h7.8v7.6h-7.8zM863.6 140.8h2.8v7.6h-2.8zM944.1 140.8h2.8v7.6h-2.8zM858.6 148h5.3v7.6h-5.3zM916.5 148h2.8v7.6h-2.8zM1009.5 148h10.4v7.6h-10.4zM780.6 155.3h20.4v7.6h-20.4zM848.5 155.3h2.8v7.6h-2.8zM931.5 155.3h10.4v7.6h-10.4zM969.3 155.3h12.9v7.6h-12.9zM788.2 162.6h2.8v7.6h-2.8zM851.1 162.6h7.8v7.6h-7.8zM876.2 162.6h7.8v7.6h-7.8zM891.3 162.6h2.8v7.6h-2.8zM929 162.6h2.8v7.6h-2.8zM964.2 162.6h22.9v7.6h-22.9zM924 169.8h2.8v7.6h-2.8zM986.9 169.8h22.9v7.6h-22.9zM969.3 177.1h2.8v7.6h-2.8zM986.9 177.1h10.4v7.6h-10.4zM820.9 184.3h5.3v7.6h-5.3zM939.1 184.3h7.8v7.6h-7.8zM793.2 191.6h15.4v7.6h-15.4zM893.8 191.6h17.9v7.6h-17.9zM949.1 191.6h7.8v7.6h-7.8zM773.1 198.9h22.9v7.6h-22.9zM830.9 198.9h15.4v7.6h-15.4zM876.2 198.9h2.8v7.6h-2.8zM969.3 198.9h22.9v7.6h-22.9zM788.2 206.1h2.8v7.6h-2.8zM929 206.1h2.8v7.6h-2.8zM944.1 206.1h10.4v7.6h-10.4zM989.4 206.1h2.8v7.6h-2.8zM803.3 213.4h10.4v7.6h-10.4zM848.5 213.4h2.8v7.6h-2.8zM956.7 213.4h2.8v7.6h-2.8zM974.3 213.4h10.4v7.6h-10.4zM788.2 220.7h2.8v7.6h-2.8zM815.9 220.7h10.4v7.6h-10.4zM888.8 220.7h10.4v7.6h-10.4zM913.9 220.7h12.9v7.6h-12.9zM941.6 220.7h28v7.6h-28zM830.9 227.9h5.3v7.6h-5.3zM913.9 227.9h15.4v7.6h-15.4zM803.3 235.2h17.9v7.6h-17.9zM961.7 235.2h2.8v7.6h-2.8zM773.1 242.5h7.8v7.6h-7.8zM783.2 242.5h10.4v7.6h-10.4zM825.9 242.5h2.8v7.6h-2.8zM886.3 242.5h10.4v7.6h-10.4zM939.1 242.5h12.9v7.6h-12.9zM788.2 249.7h2.8v7.6h-2.8zM848.5 249.7h2.8v7.6h-2.8zM828.4 257h2.8v7.6h-2.8zM876.2 257h10.4v7.6h-10.4zM936.6 257h12.9v7.6h-12.9zM788.2 264.2h7.8v7.6h-7.8zM808.3 264.2h5.3v7.6h-5.3zM858.6 264.2h5.3v7.6h-5.3zM913.9 264.2h5.3v7.6h-5.3zM790.7 271.5h10.4v7.6h-10.4zM841 271.5h10.4v7.6h-10.4zM883.8 271.5h2.8v7.6h-2.8zM783.2 278.8h2.8v7.6h-2.8zM823.4 278.8h12.9v7.6h-12.9zM898.8 278.8h15.4v7.6h-15.4zM833.5 286h2.8v7.6h-2.8zM893.8 286h7.8v7.6h-7.8z" fill="#0000e7"/>
<path d="M775.6 53.6h5.3v7.6h-5.3zM825.9 53.6h7.8v7.6h-7.8zM908.9 53.6h2.8v7.6h-2.8zM934.1 53.6h2.8v7.6h-2.8zM966.8 53.6h2.8v7.6h-2.8zM991.9 53.6h2.8v7.6h-2.8zM780.6 60.9h2.8v7.6h-2.8zM828.4 60.9h2.8v7.6h-2.8zM901.4 60.9h12.9v7.6h-12.9zM813.3 68.1h2.8v7.6h-2.8zM843.5 68.1h5.3v7.6h-5.3zM956.7 68.1h2.8v7.6h-2.8zM981.8 68.1h2.8v7.6h-2.8zM773.1 75.4h20.4v7.6h-20.4zM828.4 75.4h2.8v7.6h-2.8zM1002 75.4h2.8v7.6h-2.8zM780.6 82.7h2.8v7.6h-2.8zM906.4 82.7h2.8v7.6h-2.8zM989.4 82.7h7.8v7.6h-7.8zM813.3 89.9h2.8v7.6h-2.8zM994.4 89.9h2.8v7.6h-2.8zM773.1 97.2h2.8v7.6h-2.8zM820.9 97.2h2.8v7.6h-2.8zM936.6 97.2h2.8v7.6h-2.8zM788.2 104.4h2.8v7.6h-2.8zM828.4 104.4h2.8v7.6h-2.8zM981.8 104.4h20.4v7.6h-20.4zM773.1 111.7h12.9v7.6h-12.9zM813.3 111.7h2.8v7.6h-2.8zM898.8 111.7h2.8v7.6h-2.8zM949.1 111.7h2.8v7.6h-2.8zM974.3 111.7h2.8v7.6h-2.8zM971.8 119h2.8v7.6h-2.8zM818.4 126.2h25.4v7.6h-25.4zM913.9 126.2h2.8v7.6h-2.8zM805.8 133.5h12.9v7.6h-12.9zM823.4 133.5h5.3v7.6h-5.3zM883.8 133.5h2.8v7.6h-2.8zM936.6 133.5h2.8v7.6h-2.8zM773.1 140.8h2.8v7.6h-2.8zM803.3 140.8h5.3v7.6h-5.3zM793.2 148h2.8v7.6h-2.8zM828.4 148h2.8v7.6h-2.8zM856.1 148h2.8v7.6h-2.8zM863.6 148h2.8v7.6h-2.8zM913.9 148h2.8v7.6h-2.8zM929 155.3h2.8v7.6h-2.8zM941.6 155.3h2.8v7.6h-2.8zM966.8 155.3h2.8v7.6h-2.8zM773.1 162.6h2.8v7.6h-2.8zM858.6 162.6h17.9v7.6h-17.9zM893.8 162.6h2.8v7.6h-2.8zM828.4 169.8h2.8v7.6h-2.8zM921.5 169.8h2.8v7.6h-2.8zM828.4 177.1h2.8v7.6h-2.8zM996.9 177.1h5.3v7.6h-5.3zM825.9 184.3h5.3v7.6h-5.3zM936.6 184.3h2.8v7.6h-2.8zM808.3 191.6h28v7.6h-28zM891.3 191.6h2.8v7.6h-2.8zM956.7 191.6h2.8v7.6h-2.8zM846 198.9h2.8v7.6h-2.8zM873.7 198.9h2.8v7.6h-2.8zM878.7 198.9h2.8v7.6h-2.8zM913.9 198.9h2.8v7.6h-2.8zM773.1 206.1h2.8v7.6h-2.8zM813.3 206.1h2.8v7.6h-2.8zM954.2 206.1h35.5v7.6h-35.5zM793.2 213.4h10.4v7.6h-10.4zM954.2 213.4h2.8v7.6h-2.8zM773.1 220.7h2.8v7.6h-2.8zM825.9 220.7h33v7.6h-33zM886.3 220.7h2.8v7.6h-2.8zM898.8 220.7h15.4v7.6h-15.4zM908.9 227.9h5.3v7.6h-5.3zM929 227.9h2.8v7.6h-2.8zM956.7 227.9h2.8v7.6h-2.8zM820.9 235.2h2.8v7.6h-2.8zM906.4 235.2h2.8v7.6h-2.8zM936.6 235.2h2.8v7.6h-2.8zM780.6 242.5h2.8v7.6h-2.8zM828.4 242.5h2.8v7.6h-2.8zM871.2 242.5h15.4v7.6h-15.4zM951.7 242.5h10.4v7.6h-10.4zM773.1 249.7h2.8v7.6h-2.8zM929 249.7h2.8v7.6h-2.8zM830.9 257h2.8v7.6h-2.8zM873.7 257h2.8v7.6h-2.8zM773.1 264.2h15.4v7.6h-15.4zM813.3 264.2h2.8v7.6h-2.8zM856.1 264.2h2.8v7.6h-2.8zM871.2 264.2h2.8v7.6h-2.8zM891.3 264.2h2.8v7.6h-2.8zM773.1 271.5h2.8v7.6h-2.8zM788.2 271.5h2.8v7.6h-2.8zM800.8 271.5h15.4v7.6h-15.4zM825.9 271.5h15.4v7.6h-15.4zM851.1 271.5h2.8v7.6h-2.8zM785.7 278.8h7.8v7.6h-7.8zM810.8 278.8h12.9v7.6h-12.9zM836 278.8h17.9v7.6h-17.9zM886.3 278.8h12.9v7.6h-12.9zM913.9 278.8h2.8v7.6h-2.8zM783.2 286h2.8v7.6h-2.8zM836 286h2.8v7.6h-2.8zM891.3 286h2.8v7.6h-2.8z" fill="#0013ff"/>
<path d="M780.6 53.6h45.6v7.6h-45.6zM911.4 53.6h2.8v7.6h-2.8zM931.5 53.6h2.8v7.6h-2.8zM969.3 53.6h2.8v7.6h-2.8zM989.4 53.6h2.8v7.6h-2.8zM773.1 60.9h7.8v7.6h-7.8zM898.8 60.9h2.8v7.6h-2.8zM841 68.1h2.8v7.6h-2.8zM848.5 68.1h2.8v7.6h-2.8zM984.4 68.1h2.8v7.6h-2.8zM1022.1 68.1h2.8v7.6h-2.8zM830.9 75.4h2.8v7.6h-2.8zM773.1 82.7h7.8v7.6h-7.8zM866.2 82.7h2.8v7.6h-2.8zM815.9 89.9h2.8v7.6h-2.8zM991.9 89.9h2.8v7.6h-2.8zM775.6 97.2h12.9v7.6h-12.9zM986.9 97.2h2.8v7.6h-2.8zM773.1 104.4h15.4v7.6h-15.4zM830.9 104.4h2.8v7.6h-2.8zM903.9 104.4h7.8v7.6h-7.8zM976.8 104.4h5.3v7.6h-5.3zM1002 104.4h2.8v7.6h-2.8zM896.3 111.7h2.8v7.6h-2.8zM951.7 111.7h22.9v7.6h-22.9zM843.5 119h2.8v7.6h-2.8zM901.4 119h50.6v7.6h-50.6zM989.4 126.2h2.8v7.6h-2.8zM818.4 133.5h5.3v7.6h-5.3zM828.4 133.5h5.3v7.6h-5.3zM939.1 133.5h2.8v7.6h-2.8zM991.9 133.5h2.8v7.6h-2.8zM775.6 140.8h28v7.6h-28zM866.2 148h2.8v7.6h-2.8zM911.4 148h2.8v7.6h-2.8zM851.1 155.3h2.8v7.6h-2.8zM944.1 155.3h2.8v7.6h-2.8zM964.2 155.3h2.8v7.6h-2.8zM775.6 162.6h12.9v7.6h-12.9zM926.5 162.6h2.8v7.6h-2.8zM919 169.8h2.8v7.6h-2.8zM830.9 184.3h2.8v7.6h-2.8zM836 191.6h10.4v7.6h-10.4zM959.2 191.6h2.8v7.6h-2.8zM991.9 191.6h2.8v7.6h-2.8zM848.5 198.9h25.4v7.6h-25.4zM775.6 206.1h12.9v7.6h-12.9zM773.1 213.4h20.4v7.6h-20.4zM851.1 213.4h2.8v7.6h-2.8zM891.3 213.4h5.3v7.6h-5.3zM949.1 213.4h5.3v7.6h-5.3zM775.6 220.7h12.9v7.6h-12.9zM858.6 220.7h2.8v7.6h-2.8zM883.8 220.7h2.8v7.6h-2.8zM836 227.9h2.8v7.6h-2.8zM906.4 227.9h2.8v7.6h-2.8zM959.2 235.2h2.8v7.6h-2.8zM868.7 242.5h2.8v7.6h-2.8zM775.6 249.7h12.9v7.6h-12.9zM851.1 249.7h2.8v7.6h-2.8zM891.3 249.7h2.8v7.6h-2.8zM931.5 249.7h2.8v7.6h-2.8zM833.5 257h2.8v7.6h-2.8zM815.9 264.2h40.5v7.6h-40.5zM775.6 271.5h12.9v7.6h-12.9zM815.9 271.5h10.4v7.6h-10.4zM853.6 271.5h2.8v7.6h-2.8zM881.2 271.5h2.8v7.6h-2.8zM793.2 278.8h17.9v7.6h-17.9zM853.6 278.8h5.3v7.6h-5.3zM883.8 278.8h2.8v7.6h-2.8zM888.8 286h2.8v7.6h-2.8z" fill="#003fff"/>
<path d="M833.5 53.6h2.8v7.6h-2.8zM878.7 53.6h2.8v7.6h-2.8zM830.9 60.9h2.8v7.6h-2.8zM815.9 68.1h2.8v7.6h-2.8zM838.5 68.1h2.8v7.6h-2.8zM986.9 68.1h2.8v7.6h-2.8zM1019.6 68.1h2.8v7.6h-2.8zM926.5 75.4h2.8v7.6h-2.8zM1004.5 75.4h2.8v7.6h-2.8zM903.9 82.7h2.8v7.6h-2.8zM818.4 89.9h2.8v7.6h-2.8zM823.4 97.2h2.8v7.6h-2.8zM833.5 104.4h2.8v7.6h-2.8zM901.4 104.4h2.8v7.6h-2.8zM911.4 104.4h5.3v7.6h-5.3zM974.3 104.4h2.8v7.6h-2.8zM815.9 111.7h2.8v7.6h-2.8zM898.8 119h2.8v7.6h-2.8zM951.7 119h2.8v7.6h-2.8zM843.5 126.2h2.8v7.6h-2.8zM881.2 133.5h2.8v7.6h-2.8zM941.6 133.5h2.8v7.6h-2.8zM989.4 133.5h2.8v7.6h-2.8zM866.2 140.8h2.8v7.6h-2.8zM941.6 140.8h2.8v7.6h-2.8zM853.6 148h2.8v7.6h-2.8zM926.5 155.3h2.8v7.6h-2.8zM896.3 162.6h2.8v7.6h-2.8zM833.5 184.3h2.8v7.6h-2.8zM934.1 184.3h2.8v7.6h-2.8zM846 191.6h2.8v7.6h-2.8zM888.8 191.6h2.8v7.6h-2.8zM961.7 191.6h2.8v7.6h-2.8zM881.2 198.9h2.8v7.6h-2.8zM911.4 198.9h2.8v7.6h-2.8zM815.9 206.1h2.8v7.6h-2.8zM926.5 206.1h2.8v7.6h-2.8zM853.6 213.4h2.8v7.6h-2.8zM888.8 213.4h2.8v7.6h-2.8zM896.3 213.4h2.8v7.6h-2.8zM946.6 213.4h2.8v7.6h-2.8zM931.5 227.9h2.8v7.6h-2.8zM939.1 235.2h2.8v7.6h-2.8zM830.9 242.5h2.8v7.6h-2.8zM836 257h2.8v7.6h-2.8zM871.2 257h2.8v7.6h-2.8zM873.7 264.2h2.8v7.6h-2.8zM856.1 271.5h2.8v7.6h-2.8zM878.7 271.5h2.8v7.6h-2.8zM858.6 278.8h2.8v7.6h-2.8zM916.5 278.8h2.8v7.6h-2.8zM838.5 286h2.8v7.6h-2.8z" fill="#006bff"/>
<path d="M913.9 53.6h17.9v7.6h-17.9zM971.8 53.6h17.9v7.6h-17.9zM896.3 60.9h2.8v7.6h-2.8zM851.1 68.1h2.8v7.6h-2.8zM954.2 68.1h2.8v7.6h-2.8zM989.4 68.1h30.5v7.6h-30.5zM833.5 75.4h2.8v7.6h-2.8zM868.7 82.7h2.8v7.6h-2.8zM901.4 82.7h2.8v7.6h-2.8zM866.2 89.9h2.8v7.6h-2.8zM989.4 89.9h2.8v7.6h-2.8zM836 104.4h2.8v7.6h-2.8zM898.8 104.4h2.8v7.6h-2.8zM916.5 104.4h58.1v7.6h-58.1zM1004.5 104.4h2.8v7.6h-2.8zM893.8 111.7h2.8v7.6h-2.8zM846 119h2.8v7.6h-2.8zM969.3 119h2.8v7.6h-2.8zM911.4 126.2h2.8v7.6h-2.8zM991.9 126.2h2.8v7.6h-2.8zM1022.1 126.2h2.8v7.6h-2.8zM833.5 133.5h2.8v7.6h-2.8zM878.7 133.5h2.8v7.6h-2.8zM986.9 133.5h2.8v7.6h-2.8zM790.7 148h2.8v7.6h-2.8zM830.9 148h2.8v7.6h-2.8zM868.7 148h2.8v7.6h-2.8zM908.9 148h2.8v7.6h-2.8zM853.6 155.3h2.8v7.6h-2.8zM946.6 155.3h2.8v7.6h-2.8zM961.7 155.3h2.8v7.6h-2.8zM924 162.6h2.8v7.6h-2.8zM830.9 169.8h2.8v7.6h-2.8zM966.8 177.1h2.8v7.6h-2.8zM836 184.3h2.8v7.6h-2.8zM886.3 191.6h2.8v7.6h-2.8zM989.4 191.6h2.8v7.6h-2.8zM898.8 213.4h48.1v7.6h-48.1zM881.2 220.7h2.8v7.6h-2.8zM903.9 227.9h2.8v7.6h-2.8zM954.2 227.9h2.8v7.6h-2.8zM823.4 235.2h2.8v7.6h-2.8zM903.9 235.2h2.8v7.6h-2.8zM956.7 235.2h2.8v7.6h-2.8zM866.2 242.5h2.8v7.6h-2.8zM934.1 249.7h2.8v7.6h-2.8zM838.5 257h2.8v7.6h-2.8zM868.7 257h2.8v7.6h-2.8zM888.8 264.2h2.8v7.6h-2.8zM858.6 271.5h20.4v7.6h-20.4zM881.2 278.8h2.8v7.6h-2.8zM780.6 286h2.8v7.6h-2.8zM841 286h2.8v7.6h-2.8zM886.3 286h2.8v7.6h-2.8z" fill="#0096ff"/>
<path d="M833.5 60.9h2.8v7.6h-2.8zM818.4 68.1h2.8v7.6h-2.8zM836 75.4h2.8v7.6h-2.8zM924 75.4h2.8v7.6h-2.8zM1022.1 75.4h2.8v7.6h-2.8zM820.9 89.9h2.8v7.6h-2.8zM863.6 89.9h2.8v7.6h-2.8zM868.7 89.9h2.8v7.6h-2.8zM825.9 97.2h2.8v7.6h-2.8zM934.1 97.2h2.8v7.6h-2.8zM838.5 104.4h2.8v7.6h-2.8zM896.3 104.4h2.8v7.6h-2.8zM1022.1 104.4h2.8v7.6h-2.8zM891.3 111.7h2.8v7.6h-2.8zM896.3 119h2.8v7.6h-2.8zM954.2 119h2.8v7.6h-2.8zM1019.6 126.2h2.8v7.6h-2.8zM836 133.5h2.8v7.6h-2.8zM944.1 133.5h2.8v7.6h-2.8zM868.7 140.8h2.8v7.6h-2.8zM939.1 140.8h2.8v7.6h-2.8zM773.1 148h2.8v7.6h-2.8zM851.1 148h2.8v7.6h-2.8zM871.2 148h2.8v7.6h-2.8zM906.4 148h2.8v7.6h-2.8zM924 155.3h2.8v7.6h-2.8zM898.8 162.6h2.8v7.6h-2.8zM916.5 169.8h2.8v7.6h-2.8zM830.9 177.1h2.8v7.6h-2.8zM838.5 184.3h2.8v7.6h-2.8zM903.9 184.3h5.3v7.6h-5.3zM848.5 191.6h2.8v7.6h-2.8zM964.2 191.6h2.8v7.6h-2.8zM883.8 198.9h2.8v7.6h-2.8zM908.9 198.9h2.8v7.6h-2.8zM856.1 213.4h2.8v7.6h-2.8zM886.3 213.4h2.8v7.6h-2.8zM861.1 220.7h2.8v7.6h-2.8zM838.5 227.9h2.8v7.6h-2.8zM934.1 227.9h2.8v7.6h-2.8zM833.5 242.5h2.8v7.6h-2.8zM863.6 242.5h2.8v7.6h-2.8zM853.6 249.7h2.8v7.6h-2.8zM888.8 249.7h2.8v7.6h-2.8zM866.2 257h2.8v7.6h-2.8zM861.1 278.8h2.8v7.6h-2.8zM946.6 278.8h2.8v7.6h-2.8zM843.5 286h2.8v7.6h-2.8zM883.8 286h2.8v7.6h-2.8z" fill="#00c2ff"/>
<path d="M836 53.6h2.8v7.6h-2.8zM876.2 53.6h2.8v7.6h-2.8zM856.1 60.9h5.3v7.6h-5.3zM893.8 60.9h2.8v7.6h-2.8zM836 68.1h2.8v7.6h-2.8zM951.7 68.1h2.8v7.6h-2.8zM838.5 75.4h2.8v7.6h-2.8zM876.2 75.4h5.3v7.6h-5.3zM1007 75.4h2.8v7.6h-2.8zM1019.6 75.4h2.8v7.6h-2.8zM871.2 82.7h2.8v7.6h-2.8zM898.8 82.7h2.8v7.6h-2.8zM823.4 89.9h2.8v7.6h-2.8zM861.1 89.9h2.8v7.6h-2.8zM986.9 89.9h2.8v7.6h-2.8zM989.4 97.2h2.8v7.6h-2.8zM841 104.4h2.8v7.6h-2.8zM893.8 104.4h2.8v7.6h-2.8zM1007 104.4h2.8v7.6h-2.8zM1019.6 104.4h2.8v7.6h-2.8zM818.4 111.7h2.8v7.6h-2.8zM851.1 111.7h5.3v7.6h-5.3zM848.5 119h2.8v7.6h-2.8zM871.2 119h5.3v7.6h-5.3zM956.7 119h2.8v7.6h-2.8zM966.8 119h2.8v7.6h-2.8zM846 126.2h2.8v7.6h-2.8zM908.9 126.2h2.8v7.6h-2.8zM994.4 126.2h2.8v7.6h-2.8zM838.5 133.5h2.8v7.6h-2.8zM876.2 133.5h2.8v7.6h-2.8zM946.6 133.5h2.8v7.6h-2.8zM984.4 133.5h2.8v7.6h-2.8zM775.6 148h2.8v7.6h-2.8zM788.2 148h2.8v7.6h-2.8zM833.5 148h2.8v7.6h-2.8zM873.7 148h2.8v7.6h-2.8zM856.1 155.3h2.8v7.6h-2.8zM873.7 155.3h2.8v7.6h-2.8zM949.1 155.3h2.8v7.6h-2.8zM959.2 155.3h2.8v7.6h-2.8zM921.5 162.6h2.8v7.6h-2.8zM833.5 169.8h2.8v7.6h-2.8zM913.9 169.8h2.8v7.6h-2.8zM898.8 177.1h5.3v7.6h-5.3zM929 177.1h5.3v7.6h-5.3zM964.2 177.1h2.8v7.6h-2.8zM841 184.3h2.8v7.6h-2.8zM898.8 184.3h5.3v7.6h-5.3zM931.5 184.3h2.8v7.6h-2.8zM851.1 191.6h2.8v7.6h-2.8zM883.8 191.6h2.8v7.6h-2.8zM986.9 191.6h2.8v7.6h-2.8zM886.3 198.9h2.8v7.6h-2.8zM906.4 198.9h2.8v7.6h-2.8zM818.4 206.1h2.8v7.6h-2.8zM924 206.1h2.8v7.6h-2.8zM883.8 213.4h2.8v7.6h-2.8zM863.6 220.7h2.8v7.6h-2.8zM878.7 220.7h2.8v7.6h-2.8zM901.4 227.9h2.8v7.6h-2.8zM951.7 227.9h2.8v7.6h-2.8zM825.9 235.2h2.8v7.6h-2.8zM901.4 235.2h2.8v7.6h-2.8zM941.6 235.2h2.8v7.6h-2.8zM954.2 235.2h2.8v7.6h-2.8zM836 242.5h2.8v7.6h-2.8zM936.6 249.7h2.8v7.6h-2.8zM841 257h2.8v7.6h-2.8zM863.6 257h2.8v7.6h-2.8zM876.2 264.2h2.8v7.6h-2.8zM886.3 264.2h2.8v7.6h-2.8zM863.6 278.8h2.8v7.6h-2.8zM878.7 278.8h2.8v7.6h-2.8zM919 278.8h2.8v7.6h-2.8zM773.1 286h2.8v7.6h-2.8zM778.1 286h2.8v7.6h-2.8zM881.2 286h2.8v7.6h-2.8z" fill="#00eeff"/>
<path d="M873.7 53.6h2.8v7.6h-2.8zM836 60.9h20.4v7.6h-20.4zM883.8 60.9h10.4v7.6h-10.4zM820.9 68.1h15.4v7.6h-15.4zM853.6 68.1h2.8v7.6h-2.8zM883.8 68.1h2.8v7.6h-2.8zM916.5 68.1h2.8v7.6h-2.8zM941.6 68.1h10.4v7.6h-10.4zM841 75.4h35.5v7.6h-35.5zM916.5 75.4h7.8v7.6h-7.8zM1009.5 75.4h10.4v7.6h-10.4zM873.7 82.7h25.4v7.6h-25.4zM825.9 89.9h35.5v7.6h-35.5zM871.2 89.9h2.8v7.6h-2.8zM828.4 97.2h17.9v7.6h-17.9zM1019.6 97.2h5.3v7.6h-5.3zM843.5 104.4h50.6v7.6h-50.6zM1009.5 104.4h10.4v7.6h-10.4zM820.9 111.7h12.9v7.6h-12.9zM856.1 111.7h35.5v7.6h-35.5zM851.1 119h20.4v7.6h-20.4zM876.2 119h2.8v7.6h-2.8zM959.2 119h7.8v7.6h-7.8zM901.4 126.2h7.8v7.6h-7.8zM996.9 126.2h22.9v7.6h-22.9zM841 133.5h35.5v7.6h-35.5zM949.1 133.5h35.5v7.6h-35.5zM871.2 140.8h15.4v7.6h-15.4zM778.1 148h10.4v7.6h-10.4zM836 148h15.4v7.6h-15.4zM876.2 148h30.5v7.6h-30.5zM858.6 155.3h15.4v7.6h-15.4zM911.4 155.3h12.9v7.6h-12.9zM951.7 155.3h7.8v7.6h-7.8zM901.4 162.6h20.4v7.6h-20.4zM836 169.8h15.4v7.6h-15.4zM896.3 169.8h17.9v7.6h-17.9zM833.5 177.1h2.8v7.6h-2.8zM856.1 177.1h15.4v7.6h-15.4zM896.3 177.1h2.8v7.6h-2.8zM903.9 177.1h25.4v7.6h-25.4zM961.7 177.1h2.8v7.6h-2.8zM843.5 184.3h55.6v7.6h-55.6zM908.9 184.3h2.8v7.6h-2.8zM929 184.3h2.8v7.6h-2.8zM853.6 191.6h30.5v7.6h-30.5zM966.8 191.6h2.8v7.6h-2.8zM888.8 198.9h17.9v7.6h-17.9zM820.9 206.1h10.4v7.6h-10.4zM851.1 206.1h25.5v7.6h-25.5zM921.5 206.1h2.8v7.6h-2.8zM858.6 213.4h25.4v7.6h-25.4zM866.2 220.7h12.9v7.6h-12.9zM841 227.9h5.3v7.6h-5.3zM893.8 227.9h7.8v7.6h-7.8zM936.6 227.9h15.4v7.6h-15.4zM828.4 235.2h12.9v7.6h-12.9zM893.8 235.2h7.8v7.6h-7.8zM944.1 235.2h10.4v7.6h-10.4zM838.5 242.5h25.4v7.6h-25.4zM856.1 249.7h2.8v7.6h-2.8zM886.3 249.7h2.8v7.6h-2.8zM939.1 249.7h20.4v7.6h-20.4zM843.5 257h20.4v7.6h-20.4zM878.7 264.2h7.8v7.6h-7.8zM866.2 278.8h12.9v7.6h-12.9zM944.1 278.8h2.8v7.6h-2.8zM775.6 286h2.8v7.6h-2.8zM846 286h35.5v7.6h-35.5z" fill="#1affe5"/>
<path d="M871.2 53.6h2.8v7.6h-2.8zM881.2 68.1h2.8v7.6h-2.8zM886.3 68.1h2.8v7.6h-2.8zM913.9 68.1h2.8v7.6h-2.8zM913.9 75.4h2.8v7.6h-2.8zM873.7 89.9h2.8v7.6h-2.8zM908.9 89.9h5.3v7.6h-5.3zM941.6 89.9h5.3v7.6h-5.3zM984.4 89.9h2.8v7.6h-2.8zM846 97.2h2.8v7.6h-2.8zM833.5 111.7h2.8v7.6h-2.8zM893.8 119h2.8v7.6h-2.8zM848.5 126.2h2.8v7.6h-2.8zM936.6 140.8h2.8v7.6h-2.8zM876.2 155.3h2.8v7.6h-2.8zM908.9 155.3h2.8v7.6h-2.8zM851.1 169.8h2.8v7.6h-2.8zM893.8 169.8h2.8v7.6h-2.8zM836 177.1h2.8v7.6h-2.8zM853.6 177.1h2.8v7.6h-2.8zM871.2 177.1h2.8v7.6h-2.8zM959.2 177.1h2.8v7.6h-2.8zM969.3 191.6h2.8v7.6h-2.8zM984.4 191.6h2.8v7.6h-2.8zM830.9 206.1h2.8v7.6h-2.8zM846 227.9h2.8v7.6h-2.8zM891.3 227.9h2.8v7.6h-2.8zM891.3 235.2h2.8v7.6h-2.8zM858.6 249.7h2.8v7.6h-2.8zM921.5 278.8h2.8v7.6h-2.8z" fill="#46ffb9"/>
<path d="M838.5 53.6h2.8v7.6h-2.8zM868.7 53.6h2.8v7.6h-2.8zM861.1 60.9h2.8v7.6h-2.8zM881.2 60.9h2.8v7.6h-2.8zM888.8 68.1h2.8v7.6h-2.8zM911.4 68.1h2.8v7.6h-2.8zM919 68.1h2.8v7.6h-2.8zM939.1 68.1h2.8v7.6h-2.8zM881.2 75.4h2.8v7.6h-2.8zM911.4 75.4h2.8v7.6h-2.8zM876.2 89.9h2.8v7.6h-2.8zM906.4 89.9h2.8v7.6h-2.8zM939.1 89.9h2.8v7.6h-2.8zM946.6 89.9h2.8v7.6h-2.8zM981.8 89.9h2.8v7.6h-2.8zM1017.1 97.2h2.8v7.6h-2.8zM878.7 119h2.8v7.6h-2.8zM891.3 119h2.8v7.6h-2.8zM871.2 126.2h5.3v7.6h-5.3zM886.3 140.8h2.8v7.6h-2.8zM934.1 140.8h2.8v7.6h-2.8zM838.5 177.1h2.8v7.6h-2.8zM934.1 177.1h2.8v7.6h-2.8zM956.7 177.1h2.8v7.6h-2.8zM926.5 184.3h2.8v7.6h-2.8zM848.5 206.1h2.8v7.6h-2.8zM919 206.1h2.8v7.6h-2.8zM841 235.2h2.8v7.6h-2.8zM924 278.8h2.8v7.6h-2.8zM941.6 278.8h2.8v7.6h-2.8z" fill="#72ff8d"/>
<path d="M841 53.6h10.4v7.6h-10.4zM856.1 68.1h2.8v7.6h-2.8zM878.7 68.1h2.8v7.6h-2.8zM891.3 68.1h20.4v7.6h-20.4zM878.7 89.9h28v7.6h-28zM949.1 89.9h33v7.6h-33zM931.5 97.2h2.8v7.6h-2.8zM991.9 97.2h2.8v7.6h-2.8zM848.5 111.7h2.8v7.6h-2.8zM881.2 119h10.4v7.6h-10.4zM876.2 126.2h12.9v7.6h-12.9zM898.8 126.2h2.8v7.6h-2.8zM916.5 140.8h17.9v7.6h-17.9zM878.7 155.3h2.8v7.6h-2.8zM906.4 155.3h2.8v7.6h-2.8zM851.1 177.1h2.8v7.6h-2.8zM893.8 177.1h2.8v7.6h-2.8zM971.8 191.6h2.8v7.6h-2.8zM888.8 227.9h2.8v7.6h-2.8zM868.7 235.2h2.8v7.6h-2.8zM883.8 249.7h2.8v7.6h-2.8zM926.5 278.8h15.4v7.6h-15.4z" fill="#9dff62"/>
<path d="M851.1 53.6h2.8v7.6h-2.8zM863.6 60.9h2.8v7.6h-2.8zM921.5 68.1h2.8v7.6h-2.8zM936.6 68.1h2.8v7.6h-2.8zM908.9 75.4h2.8v7.6h-2.8zM848.5 97.2h2.8v7.6h-2.8zM886.3 97.2h5.3v7.6h-5.3zM836 111.7h2.8v7.6h-2.8zM888.8 126.2h2.8v7.6h-2.8zM891.3 169.8h2.8v7.6h-2.8zM841 177.1h2.8v7.6h-2.8zM873.7 177.1h2.8v7.6h-2.8zM936.6 177.1h2.8v7.6h-2.8zM954.2 177.1h2.8v7.6h-2.8zM911.4 184.3h2.8v7.6h-2.8zM981.8 191.6h2.8v7.6h-2.8zM833.5 206.1h2.8v7.6h-2.8zM876.2 206.1h2.8v7.6h-2.8zM848.5 227.9h2.8v7.6h-2.8zM843.5 235.2h2.8v7.6h-2.8zM866.2 235.2h2.8v7.6h-2.8zM871.2 235.2h2.8v7.6h-2.8zM861.1 249.7h2.8v7.6h-2.8z" fill="#c9ff36"/>
<path d="M878.7 60.9h2.8v7.6h-2.8zM858.6 68.1h2.8v7.6h-2.8zM876.2 68.1h2.8v7.6h-2.8zM924 68.1h2.8v7.6h-2.8zM934.1 68.1h2.8v7.6h-2.8zM906.4 75.4h2.8v7.6h-2.8zM913.9 89.9h2.8v7.6h-2.8zM883.8 97.2h2.8v7.6h-2.8zM929 97.2h2.8v7.6h-2.8zM994.4 97.2h2.8v7.6h-2.8zM851.1 126.2h2.8v7.6h-2.8zM868.7 126.2h2.8v7.6h-2.8zM891.3 126.2h7.8v7.6h-7.8zM881.2 155.3h2.8v7.6h-2.8zM903.9 155.3h2.8v7.6h-2.8zM853.6 169.8h2.8v7.6h-2.8zM866.2 169.8h5.3v7.6h-5.3zM876.2 169.8h5.3v7.6h-5.3zM848.5 177.1h2.8v7.6h-2.8zM876.2 177.1h2.8v7.6h-2.8zM891.3 177.1h2.8v7.6h-2.8zM939.1 177.1h2.8v7.6h-2.8zM951.7 177.1h2.8v7.6h-2.8zM924 184.3h2.8v7.6h-2.8zM974.3 191.6h2.8v7.6h-2.8zM979.3 191.6h2.8v7.6h-2.8zM836 206.1h2.8v7.6h-2.8zM846 206.1h2.8v7.6h-2.8zM886.3 227.9h2.8v7.6h-2.8zM846 235.2h2.8v7.6h-2.8zM863.6 235.2h2.8v7.6h-2.8zM888.8 235.2h2.8v7.6h-2.8z" fill="#f5ff0a"/>
<path d="M866.2 60.9h2.8v7.6h-2.8zM861.1 68.1h15.4v7.6h-15.4zM926.5 68.1h7.8v7.6h-7.8zM903.9 75.4h2.8v7.6h-2.8zM873.7 97.2h10.4v7.6h-10.4zM926.5 97.2h2.8v7.6h-2.8zM996.9 97.2h5.3v7.6h-5.3zM1014.5 97.2h2.8v7.6h-2.8zM888.8 140.8h2.8v7.6h-2.8zM913.9 140.8h2.8v7.6h-2.8zM883.8 155.3h7.8v7.6h-7.8zM863.6 169.8h2.8v7.6h-2.8zM871.2 169.8h5.3v7.6h-5.3zM843.5 177.1h5.3v7.6h-5.3zM878.7 177.1h12.9v7.6h-12.9zM941.6 177.1h10.4v7.6h-10.4zM976.8 191.6h2.8v7.6h-2.8zM838.5 206.1h7.8v7.6h-7.8zM916.5 206.1h2.8v7.6h-2.8zM881.2 227.9h5.3v7.6h-5.3zM848.5 235.2h15.4v7.6h-15.4z" fill="#ffde00"/>
<path d="M853.6 53.6h2.8v7.6h-2.8zM866.2 53.6h2.8v7.6h-2.8zM868.7 60.9h2.8v7.6h-2.8zM876.2 60.9h2.8v7.6h-2.8zM883.8 75.4h2.8v7.6h-2.8zM936.6 89.9h2.8v7.6h-2.8zM891.3 97.2h2.8v7.6h-2.8zM838.5 111.7h2.8v7.6h-2.8zM846 111.7h2.8v7.6h-2.8zM891.3 155.3h2.8v7.6h-2.8zM901.4 155.3h2.8v7.6h-2.8zM881.2 169.8h2.8v7.6h-2.8zM888.8 169.8h2.8v7.6h-2.8zM913.9 184.3h2.8v7.6h-2.8zM873.7 235.2h2.8v7.6h-2.8zM886.3 235.2h2.8v7.6h-2.8z" fill="#ffb200"/>
<path d="M871.2 60.9h5.3v7.6h-5.3zM901.4 75.4h2.8v7.6h-2.8zM1002 97.2h2.8v7.6h-2.8zM841 111.7h5.3v7.6h-5.3zM893.8 155.3h7.8v7.6h-7.8zM856.1 169.8h7.8v7.6h-7.8zM883.8 169.8h5.3v7.6h-5.3zM916.5 184.3h7.8v7.6h-7.8zM906.4 206.1h10.4v7.6h-10.4zM851.1 227.9h2.8v7.6h-2.8zM878.7 227.9h2.8v7.6h-2.8zM876.2 235.2h10.4v7.6h-10.4z" fill="#ff8600"/>
<path d="M871.2 97.2h2.8v7.6h-2.8zM924 97.2h2.8v7.6h-2.8zM878.7 206.1h2.8v7.6h-2.8zM881.2 249.7h2.8v7.6h-2.8z" fill="#ff5b00"/>
<path d="M856.1 53.6h2.8v7.6h-2.8zM863.6 53.6h2.8v7.6h-2.8zM886.3 75.4h2.8v7.6h-2.8zM898.8 75.4h2.8v7.6h-2.8zM916.5 89.9h2.8v7.6h-2.8zM851.1 97.2h2.8v7.6h-2.8zM1004.5 97.2h2.8v7.6h-2.8zM1012 97.2h2.8v7.6h-2.8zM903.9 206.1h2.8v7.6h-2.8zM863.6 249.7h2.8v7.6h-2.8z" fill="#ff2f00"/>
<path d="M858.6 53.6h5.3v7.6h-5.3zM888.8 75.4h10.4v7.6h-10.4zM1007 97.2h5.3v7.6h-5.3zM853.6 126.2h2.8v7.6h-2.8zM866.2 126.2h2.8v7.6h-2.8z" fill="#ff0300"/>
<path d="M893.8 97.2h2.8v7.6h-2.8zM921.5 97.2h2.8v7.6h-2.8zM891.3 140.8h2.8v7.6h-2.8zM911.4 140.8h2.8v7.6h-2.8zM876.2 227.9h2.8v7.6h-2.8z" fill="#d70000"/>
<path d="M934.1 89.9h2.8v7.6h-2.8zM853.6 227.9h2.8v7.6h-2.8z" fill="#ab0000"/>
<path d="M919 89.9h15.4v7.6h-15.4zM853.6 97.2h17.9v7.6h-17.9zM896.3 97.2h25.4v7.6h-25.4zM856.1 126.2h10.4v7.6h-10.4zM893.8 140.8h17.9v7.6h-17.9zM881.2 206.1h22.9v7.6h-22.9zM856.1 227.9h20.4v7.6h-20.4zM866.2 249.7h15.4v7.6h-15.4z" fill="#800000"/>
<line x1="773.1" y1="53.6" x2="1024.6" y2="53.6" stroke="#222" stroke-width="2"/>
<line x1="773.1" y1="293.3" x2="1024.6" y2="293.3" stroke="#222" stroke-width="2"/>
<line x1="773.1" y1="53.6" x2="773.1" y2="293.3" stroke="#222" stroke-width="2"/>
<line x1="1024.6" y1="53.6" x2="1024.6" y2="293.3" stroke="#222" stroke-width="2"/>
<line x1="773.1" y1="47.1" x2="773.1" y2="53.6" stroke="#222" stroke-width="2"/>
<line x1="773.1" y1="293.3" x2="773.1" y2="299.8" stroke="#222" stroke-width="2"/>
<line x1="823.4" y1="47.1" x2="823.4" y2="53.6" stroke="#222" stroke-width="2"/>
<line x1="823.4" y1="293.3" x2="823.4" y2="299.8" stroke="#222" stroke-width="2"/>
<line x1="1024.6" y1="47.1" x2="1024.6" y2="53.6" stroke="#222" stroke-width="2"/>
<line x1="1024.6" y1="293.3" x2="1024.6" y2="299.8" stroke="#222" stroke-width="2"/>
<line x1="766.6" y1="57.2" x2="773.1" y2="57.2" stroke="#222" stroke-width="2"/>
<line x1="1024.6" y1="57.2" x2="1031.1" y2="57.2" stroke="#222" stroke-width="2"/>
<text x="763.8" y="66.6" text-anchor="end">33</text>
<text x="780.4" y="40.5">Bat 1</text>
<text x="1024.3" y="40" text-anchor="end">11.1 Hz</text>
<line x1="823.4" y1="326.7" x2="823.4" y2="459" stroke="#a0a0a0" stroke-width="2.6"/>
<polyline points="773.2,438.6 774.7,440.2 776.2,441.7 777.7,443.2 779.2,444.8 780.7,446.3 782.2,447.7 783.7,449.1 785.2,450.5 786.7,451.8 788.2,453 789.7,454.1 791.2,455.2 792.7,456.1 794.2,456.8 795.7,457.5 797.2,458 798.7,458 800.2,458 801.7,458 803.2,458 804.7,457.8 806.2,457.4 807.7,456.8 809.2,456.2 810.7,455.4 812.2,454.5 813.7,453.5 815.2,452.3 816.7,450.8 818.2,449.2 819.7,447.3 821.2,445.1 822.7,442.6 824.2,439.8 825.7,436.7 827.2,433.3 828.7,429.7 830.2,426 831.7,422.2 833.2,418.4 834.7,414.5 836.2,410.6 837.7,406.7 839.2,402.8 840.7,398.8 842.2,394.7 843.7,390.5 845.2,386.2 846.7,381.8 848.2,377.4 849.7,373.1 851.2,369 852.7,365.2 854.2,361.9 855.7,359 857.2,356.7 858.7,354.9 860.2,353.6 861.7,352.7 863.2,352.3 864.7,352.1 866.2,352.2 867.7,352.5 869.2,352.8 870.7,353.1 872.2,353.3 873.7,353.3 875.2,353.1 876.7,352.8 878.2,352.5 879.7,352.3 881.2,352.2 882.7,352.4 884.2,352.9 885.7,353.8 887.2,354.9 888.7,356.3 890.2,357.9 891.7,359.7 893.2,361.6 894.7,363.6 896.2,365.7 897.7,367.8 899.2,370 900.7,372.2 902.2,374.4 903.7,376.6 905.2,378.7 906.7,380.8 908.2,382.8 909.7,384.6 911.2,386.4 912.7,388 914.2,389.5 915.7,390.8 917.2,392.1 918.7,393.2 920.2,394.2 921.7,395.2 923.2,396.1 924.7,397 926.2,397.8 927.7,398.7 929.2,399.5 930.7,400.3 932.2,401.2 933.7,402.1 935.2,403 936.7,404 938.2,405.1 939.7,406.2 941.2,407.4 942.7,408.7 944.2,410 945.7,411.4 947.2,412.7 948.7,413.9 950.2,415 951.7,416 953.2,416.9 954.7,417.6 956.2,418.3 957.7,419 959.2,419.7 960.7,420.4 962.2,421.2 963.7,422.1 965.2,422.9 966.7,423.7 968.2,424.4 969.7,424.9 971.2,425.1 972.7,425 974.2,424.6 975.7,424 977.2,423.3 978.7,422.8 980.2,422.5 981.7,422.4 983.2,422.6 984.7,422.9 986.2,423.3 987.7,423.8 989.2,424.2 990.7,424.5 992.2,424.8 993.7,424.9 995.2,425 996.7,424.9 998.2,424.8 999.7,424.6 1001.2,424.3 1002.7,423.9 1004.2,423.5 1005.7,423.1 1007.2,422.6 1008.7,422.2 1010.2,421.8 1011.7,421.5 1013.2,421.2 1014.7,420.9 1016.2,420.7 1017.7,420.6 1019.2,420.4 1020.7,420.3 1022.2,420.3 1023.7,420.2 1025.2,420.1 1025.5,420.1" fill="none" stroke="#000" stroke-width="2.4" stroke-linejoin="round"/>
<rect x="849.6" y="326.7" width="47.9" height="132.3" fill="#00ff00" fill-opacity="0.2"/>
<line x1="773.1" y1="326.7" x2="773.1" y2="460" stroke="#222" stroke-width="2"/>
<line x1="772.1" y1="459" x2="1024.6" y2="459" stroke="#222" stroke-width="2"/>
<line x1="773.1" y1="459" x2="773.1" y2="462.5" stroke="#222" stroke-width="2"/>
<line x1="823.4" y1="459" x2="823.4" y2="462.5" stroke="#222" stroke-width="2"/>
<line x1="1024.6" y1="459" x2="1024.6" y2="462.5" stroke="#222" stroke-width="2"/>
<line x1="769.6" y1="326.7" x2="773.1" y2="326.7" stroke="#222" stroke-width="2"/>
<text x="764.1" y="336.1" text-anchor="end">4</text>
<line x1="823.4" y1="492.3" x2="823.4" y2="624.6" stroke="#a0a0a0" stroke-width="2"/>
<polygon points="773.2,598.2 774,597.4 774.8,596.1 775.6,594.5 776.4,594.7 777.2,592.4 778,589.4 778.8,588 779.6,588 780.4,588.6 781.2,590.2 782,588.9 782.8,586.9 783.6,585.9 784.4,585.8 785.2,584.8 786,581.9 786.8,579.5 787.6,577.4 788.4,576.2 789.2,575.6 790,573.6 790.8,570.6 791.6,565.6 792.4,560.1 793.2,552.9 794,546.3 794.8,542.7 795.6,543.3 796.4,547.6 797.2,551.8 798,557.2 798.8,564 799.6,569.5 800.4,566.8 801.2,562.9 802,561.5 802.8,562.5 803.6,562.3 804.4,562 805.2,561.8 806,560.8 806.8,560.8 807.6,560.9 808.4,561.5 809.2,561.9 810,562.2 810.8,560.4 811.6,559.9 812.4,561.6 813.2,562.1 814,560.5 814.8,560.7 815.6,563.2 816.4,564.2 817.2,564.2 818,565.4 818.8,566.7 819.6,565.5 820.4,560.1 821.2,553.5 822,541.3 822.8,528.4 823.6,515 824.4,502.3 825.2,490.8 826,502.9 826.8,525.1 827.6,546.2 828.4,565 829.2,584.1 830,602.7 830.8,601.7 831.6,599.1 832.4,599.1 833.2,600.1 834,600 834.8,601.6 835.6,603.3 836.4,604.1 837.2,603.9 838,602.4 838.8,601.8 839.6,601.5 840.4,603.1 841.2,606.5 842,608.7 842.8,607.4 843.6,606.3 844.4,607.6 845.2,608.1 846,608.3 846.8,610 847.6,611.3 848.4,610.2 849.2,609.2 850,608.8 850.8,608.6 851.6,609 852.4,609.4 853.2,610.2 854,611.4 854.8,612.7 855.6,612.4 856.4,611.4 857.2,611.4 858,612.4 858.8,611.6 859.6,609.4 860.4,609.3 861.2,610.6 862,610.9 862.8,609.8 863.6,608.8 864.4,609.1 865.2,611.2 866,612.4 866.8,612.3 867.6,611.1 868.4,610.1 869.2,610.9 870,612.3 870.8,611.3 871.6,611.5 872.4,612.9 873.2,613.6 874,613.5 874.8,613.1 875.6,613.2 876.4,612.9 877.2,612.8 878,613.8 878.8,613.6 879.6,611.6 880.4,610.1 881.2,610 882,611.3 882.8,612.2 883.6,612.5 884.4,613 885.2,610.4 886,607.5 886.8,608.4 887.6,609 888.4,608.9 889.2,610.3 890,611.3 890.8,611.3 891.6,612 892.4,613.2 893.2,613.4 894,612.8 894.8,613.2 895.6,611.9 896.4,610.7 897.2,611.5 898,612 898.8,612.8 899.6,612.7 900.4,612.2 901.2,611.8 902,610.3 902.8,610.2 903.6,611.5 904.4,612.2 905.2,611.9 906,610.5 906.8,610.5 907.6,611.4 908.4,611.4 909.2,610.4 910,610.5 910.8,610 911.6,608.5 912.4,608.4 913.2,609.2 914,609.3 914.8,609.4 915.6,609.8 916.4,610.9 917.2,612.6 918,613.6 918.8,611.7 919.6,609.6 920.4,610.5 921.2,612.4 922,612.8 922.8,612.6 923.6,612.6 924.4,612.2 925.2,611.6 926,610.6 926.8,608.8 927.6,606.7 928.4,603.2 929.2,600.9 930,601.7 930.8,604.9 931.6,608.2 932.4,609.5 933.2,609.5 934,608.4 934.8,607.5 935.6,606.6 936.4,605.6 937.2,606.3 938,608.1 938.8,606 939.6,604.4 940.4,602.6 941.2,601.4 942,604.5 942.8,606.2 943.6,603.6 944.4,601.9 945.2,604 946,607.7 946.8,607.1 947.6,602.3 948.4,600.7 949.2,601 950,601.8 950.8,601.8 951.6,602.8 952.4,603.5 953.2,604.9 954,607.3 954.8,607.2 955.6,605.4 956.4,601.8 957.2,600.1 958,601.8 958.8,604.7 959.6,605.4 960.4,604 961.2,601.2 962,601.5 962.8,602.2 963.6,601.9 964.4,603.7 965.2,606.4 966,606.2 966.8,604.6 967.6,604.4 968.4,605.2 969.2,607.3 970,607.3 970.8,605.7 971.6,606.5 972.4,606 973.2,603.9 974,604 974.8,604.5 975.6,603.2 976.4,601.1 977.2,599.6 978,599.2 978.8,600.5 979.6,600.8 980.4,600.6 981.2,602.2 982,602.9 982.8,603.1 983.6,604.1 984.4,605.1 985.2,603.5 986,600.6 986.8,599.5 987.6,600.8 988.4,601 989.2,600.5 990,600.1 990.8,600.2 991.6,600.7 992.4,599.9 993.2,599.1 994,597.9 994.8,598.1 995.6,599.8 996.4,601.3 997.2,602.3 998,603.3 998.8,602.1 999.6,598.6 1000.4,597.9 1001.2,599.1 1002,598 1002.8,595.5 1003.6,593.1 1004.4,594.7 1005.2,597.1 1006,595.4 1006.8,594.3 1007.6,596.1 1008.4,598.7 1009.2,598.4 1010,597.1 1010.8,596.1 1011.6,595.2 1012.4,593.3 1013.2,594.7 1014,596.9 1014.8,595.7 1015.6,595.2 1016.4,596.5 1017.2,597.4 1018,597.6 1018.8,596.9 1019.6,596.1 1020.4,598 1021.2,600.4 1022,599.2 1022.8,597.6 1023.6,597.8 1024.4,600 1025.2,602 1025.2,610.1 1024.4,611.5 1023.6,611.2 1022.8,608.7 1022,606.8 1021.2,607.5 1020.4,607.3 1019.6,606.8 1018.8,606.6 1018,606.1 1017.2,606.4 1016.4,607.3 1015.6,606.9 1014.8,605.6 1014,603.8 1013.2,601.4 1012.4,600.8 1011.6,603.4 1010.8,605 1010,606.5 1009.2,606.6 1008.4,605 1007.6,605.3 1006.8,604.6 1006,605.7 1005.2,608.2 1004.4,607.1 1003.6,605.2 1002.8,605.3 1002,605.2 1001.2,605.5 1000.4,605.7 999.6,607 998.8,610.2 998,610 997.2,608.7 996.4,607.7 995.6,606.7 994.8,606.9 994,606.8 993.2,605.7 992.4,608.2 991.6,611.4 990.8,611.5 990,610.9 989.2,610.4 988.4,610.1 987.6,609.5 986.8,608 986,608.5 985.2,609.9 984.4,612.1 983.6,613.2 982.8,613.7 982,614.4 981.2,614.4 980.4,612.9 979.6,612.1 978.8,611.3 978,610.9 977.2,611.2 976.4,610.4 975.6,609.6 974.8,611.8 974,612.6 973.2,612.7 972.4,613.5 971.6,612.7 970.8,613.3 970,614.7 969.2,614 968.4,611.5 967.6,611.2 966.8,612 966,612.5 965.2,615.6 964.4,617.2 963.6,616.8 962.8,616 962,614.4 961.2,613.8 960.4,615.4 959.6,615.2 958.8,615.3 958,614.6 957.2,613.5 956.4,614.5 955.6,617 954.8,616.5 954,613.4 953.2,613.3 952.4,615.1 951.6,617.7 950.8,619.9 950,622.4 949.2,622.1 948.4,619.4 947.6,616.4 946.8,615.5 946,616.7 945.2,617.9 944.4,618.5 943.6,621.1 942.8,623.9 942,621.9 941.2,617.7 940.4,617.7 939.6,617.5 938.8,615.7 938,614.3 937.2,616.2 936.4,617.3 935.6,617.9 934.8,616.7 934,615.2 933.2,615.3 932.4,616.4 931.6,617.5 930.8,616.7 930,615.9 929.2,616.8 928.4,618.8 927.6,620.4 926.8,619.2 926,617.4 925.2,618.6 924.4,619.8 923.6,618.3 922.8,617.8 922,617.9 921.2,618.1 920.4,616.9 919.6,616.3 918.8,617.6 918,618.7 917.2,618.4 916.4,619.1 915.6,620.4 914.8,620.2 914,618.3 913.2,616.2 912.4,614.4 911.6,614.5 910.8,615.8 910,615.6 909.2,615.6 908.4,616.8 907.6,617 906.8,616.5 906,616.5 905.2,616.9 904.4,618.1 903.6,617.5 902.8,615.4 902,615.4 901.2,617.2 900.4,618.7 899.6,619.3 898.8,618.4 898,617 897.2,617 896.4,617.1 895.6,618.1 894.8,618.2 894,618.2 893.2,619.7 892.4,622.9 891.6,624.2 890.8,623.6 890,621.9 889.2,619.4 888.4,617.7 887.6,618.4 886.8,618.1 886,616.2 885.2,616.8 884.4,618.1 883.6,617.9 882.8,617.1 882,616.8 881.2,616.2 880.4,616.9 879.6,618.5 878.8,620 878,619.2 877.2,618 876.4,618.1 875.6,618.2 874.8,618.3 874,618.5 873.2,619.3 872.4,618.4 871.6,617.5 870.8,618.4 870,618 869.2,617.5 868.4,617.5 867.6,617.5 866.8,617.2 866,618.2 865.2,617.7 864.4,616.3 863.6,616.4 862.8,617.2 862,616.9 861.2,616.2 860.4,615.5 859.6,614.8 858.8,616.5 858,617.7 857.2,617.4 856.4,617.2 855.6,617.8 854.8,617.7 854,617.2 853.2,616.9 852.4,616.8 851.6,616.9 850.8,616.8 850,616.4 849.2,615.7 848.4,615.9 847.6,617.2 846.8,616.4 846,615 845.2,614.1 844.4,612.9 843.6,613 842.8,613.8 842,613.8 841.2,614.3 840.4,613.5 839.6,613.4 838.8,613.7 838,612.5 837.2,610.4 836.4,610.5 835.6,609.6 834.8,608 834,609.5 833.2,611.8 832.4,611.6 831.6,610.5 830.8,610.1 830,608.1 829.2,589.5 828.4,569.9 827.6,551.2 826.8,531.1 826,510.6 825.2,499 824.4,509.8 823.6,521.5 822.8,534.1 822,546.3 821.2,558.4 820.4,565.6 819.6,571.6 818.8,572.3 818,571.3 817.2,571.3 816.4,570.4 815.6,569 814.8,567.9 814,567.9 813.2,569.4 812.4,569.2 811.6,567.5 810.8,567 810,567.2 809.2,568.1 808.4,568 807.6,567 806.8,566.3 806,565.9 805.2,566.7 804.4,567.2 803.6,568.5 802.8,570 802,570 801.2,571.2 800.4,573.8 799.6,574.8 798.8,570.3 798,564.9 797.2,559.9 796.4,556 795.6,552.4 794.8,552.6 794,556.8 793.2,563.3 792.4,568.8 791.6,572.3 790.8,576.4 790,580.2 789.2,583.7 788.4,585.1 787.6,586 786.8,586.9 786,588.1 785.2,590.9 784.4,592.9 783.6,594.3 782.8,595.4 782,596.3 781.2,595.6 780.4,595.4 779.6,597.2 778.8,599 778,599.9 777.2,600.5 776.4,600 775.6,600.2 774.8,601.3 774,603.2 773.2,604.9" fill="#b0b0b0"/>
<polyline points="773.2,601.5 774,600.3 774.8,598.7 775.6,597.4 776.4,597.4 777.2,596.4 778,594.6 778.8,593.5 779.6,592.6 780.4,592 781.2,592.9 782,592.6 782.8,591.1 783.6,590.1 784.4,589.3 785.2,587.8 786,585 786.8,583.2 787.6,581.7 788.4,580.7 789.2,579.7 790,576.9 790.8,573.5 791.6,569 792.4,564.5 793.2,558.1 794,551.5 794.8,547.6 795.6,547.9 796.4,551.8 797.2,555.9 798,561 798.8,567.2 799.6,572.1 800.4,570.3 801.2,567 802,565.8 802.8,566.2 803.6,565.4 804.4,564.6 805.2,564.2 806,563.3 806.8,563.5 807.6,564 808.4,564.8 809.2,565 810,564.7 810.8,563.7 811.6,563.7 812.4,565.4 813.2,565.7 814,564.2 814.8,564.3 815.6,566.1 816.4,567.3 817.2,567.7 818,568.4 818.8,569.5 819.6,568.5 820.4,562.8 821.2,555.9 822,543.8 822.8,531.3 823.6,518.3 824.4,506 825.2,494.9 826,506.8 826.8,528.1 827.6,548.7 828.4,567.4 829.2,586.8 830,605.4 830.8,605.9 831.6,604.8 832.4,605.3 833.2,605.9 834,604.8 834.8,604.8 835.6,606.4 836.4,607.3 837.2,607.1 838,607.5 838.8,607.8 839.6,607.5 840.4,608.3 841.2,610.4 842,611.3 842.8,610.6 843.6,609.7 844.4,610.2 845.2,611.1 846,611.6 846.8,613.2 847.6,614.2 848.4,613.1 849.2,612.5 850,612.6 850.8,612.7 851.6,612.9 852.4,613.1 853.2,613.6 854,614.3 854.8,615.2 855.6,615.1 856.4,614.3 857.2,614.4 858,615.1 858.8,614.1 859.6,612.1 860.4,612.4 861.2,613.4 862,613.9 862.8,613.5 863.6,612.6 864.4,612.7 865.2,614.4 866,615.3 866.8,614.8 867.6,614.3 868.4,613.8 869.2,614.2 870,615.1 870.8,614.9 871.6,614.5 872.4,615.6 873.2,616.4 874,616 874.8,615.7 875.6,615.7 876.4,615.5 877.2,615.4 878,616.5 878.8,616.8 879.6,615.1 880.4,613.5 881.2,613.1 882,614 882.8,614.6 883.6,615.2 884.4,615.5 885.2,613.6 886,611.9 886.8,613.2 887.6,613.7 888.4,613.3 889.2,614.8 890,616.6 890.8,617.4 891.6,618.1 892.4,618.1 893.2,616.6 894,615.5 894.8,615.7 895.6,615 896.4,613.9 897.2,614.3 898,614.5 898.8,615.6 899.6,616 900.4,615.4 901.2,614.5 902,612.9 902.8,612.8 903.6,614.5 904.4,615.1 905.2,614.4 906,613.5 906.8,613.5 907.6,614.2 908.4,614.1 909.2,613 910,613 910.8,612.9 911.6,611.5 912.4,611.4 913.2,612.7 914,613.8 914.8,614.8 915.6,615.1 916.4,615 917.2,615.5 918,616.1 918.8,614.6 919.6,613 920.4,613.7 921.2,615.3 922,615.3 922.8,615.2 923.6,615.5 924.4,616 925.2,615.1 926,614 926.8,614 927.6,613.5 928.4,611 929.2,608.8 930,608.8 930.8,610.8 931.6,612.9 932.4,612.9 933.2,612.4 934,611.8 934.8,612.1 935.6,612.2 936.4,611.5 937.2,611.3 938,611.2 938.8,610.9 939.6,610.9 940.4,610.1 941.2,609.5 942,613.2 942.8,615.1 943.6,612.4 944.4,610.2 945.2,610.9 946,612.2 946.8,611.3 947.6,609.4 948.4,610.1 949.2,611.6 950,612.1 950.8,610.9 951.6,610.2 952.4,609.3 953.2,609.1 954,610.3 954.8,611.9 955.6,611.2 956.4,608.2 957.2,606.8 958,608.2 958.8,610 959.6,610.3 960.4,609.7 961.2,607.5 962,608 962.8,609.1 963.6,609.4 964.4,610.4 965.2,611 966,609.3 966.8,608.3 967.6,607.8 968.4,608.3 969.2,610.7 970,611 970.8,609.5 971.6,609.6 972.4,609.8 973.2,608.3 974,608.3 974.8,608.1 975.6,606.4 976.4,605.7 977.2,605.4 978,605.1 978.8,605.9 979.6,606.4 980.4,606.8 981.2,608.3 982,608.6 982.8,608.4 983.6,608.7 984.4,608.6 985.2,606.7 986,604.6 986.8,603.8 987.6,605.2 988.4,605.6 989.2,605.5 990,605.5 990.8,605.8 991.6,606.1 992.4,604.1 993.2,602.4 994,602.4 994.8,602.5 995.6,603.3 996.4,604.5 997.2,605.5 998,606.7 998.8,606.2 999.6,602.8 1000.4,601.8 1001.2,602.3 1002,601.6 1002.8,600.4 1003.6,599.2 1004.4,600.9 1005.2,602.6 1006,600.6 1006.8,599.5 1007.6,600.7 1008.4,601.9 1009.2,602.5 1010,601.8 1010.8,600.6 1011.6,599.3 1012.4,597 1013.2,598 1014,600.4 1014.8,600.7 1015.6,601 1016.4,601.9 1017.2,601.9 1018,601.9 1018.8,601.8 1019.6,601.4 1020.4,602.7 1021.2,603.9 1022,603 1022.8,603.2 1023.6,604.5 1024.4,605.7 1025.2,606.1" fill="none" stroke="#000" stroke-width="2.4" stroke-linejoin="round"/>
<rect x="849.6" y="492.3" width="47.9" height="132.3" fill="#00ff00" fill-opacity="0.2"/>
<line x1="773.1" y1="492.3" x2="773.1" y2="625.6" stroke="#222" stroke-width="2"/>
<line x1="772.1" y1="624.6" x2="1024.6" y2="624.6" stroke="#222" stroke-width="2"/>
<line x1="773.1" y1="624.6" x2="773.1" y2="628.1" stroke="#222" stroke-width="2"/>
<line x1="823.4" y1="624.6" x2="823.4" y2="628.1" stroke="#222" stroke-width="2"/>
<line x1="1024.6" y1="624.6" x2="1024.6" y2="628.1" stroke="#222" stroke-width="2"/>
<line x1="769.6" y1="513.5" x2="773.1" y2="513.5" stroke="#222" stroke-width="2"/>
<text x="764.1" y="522.9" text-anchor="end">1</text>
<line x1="769.6" y1="624.6" x2="773.1" y2="624.6" stroke="#222" stroke-width="2"/>
<text x="764.1" y="634" text-anchor="end">0</text>
<text x="771.6" y="661.8" text-anchor="middle">-2</text>
<text x="823.4" y="661.8" text-anchor="middle">0</text>
<text x="1025.1" y="661.8" text-anchor="middle">8</text>
<text x="924.6" y="669.5" text-anchor="middle">Time from</text>
<text x="924.6" y="705.6" text-anchor="middle">landing (s)</text>
<path d="M1103.3 53.6H1356.3v5.8H1103.3zM1103.3 59H1356.3v5.8H1103.3zM1103.3 64.5H1356.3v5.8H1103.3zM1103.3 69.9H1356.3v5.8H1103.3zM1103.3 75.4H1356.3v5.8H1103.3zM1103.3 80.8H1356.3v5.8H1103.3zM1103.3 86.3H1356.3v5.8H1103.3zM1103.3 91.7H1346.2v5.8H1103.3zM1103.3 97.2H1341.9v5.8H1103.3zM1103.3 102.6H1336.1v5.8H1103.3zM1103.3 108.1H1331.8v5.8H1103.3zM1103.3 113.5H1327.5v5.8H1103.3zM1103.3 119H1318.6v5.8H1103.3zM1103.3 124.4H1314.3v5.8H1103.3zM1103.3 129.9H1308.5v5.8H1103.3zM1103.3 135.3H1307.1v5.8H1103.3zM1103.3 140.8H1305.7v5.8H1103.3zM1103.3 146.2H1305.7v5.8H1103.3zM1103.3 151.7H1305.7v5.8H1103.3zM1103.3 157.1H1305.7v5.8H1103.3zM1103.3 162.6H1305.7v5.8H1103.3zM1103.3 168H1304.2v5.8H1103.3zM1103.3 173.5H1296.8v5.8H1103.3zM1103.3 178.9H1295.5v5.8H1103.3zM1103.3 184.3H1294.1v5.8H1103.3zM1103.3 189.8H1289v5.8H1103.3zM1103.3 195.2H1289v5.8H1103.3zM1103.3 200.7H1289v5.8H1103.3zM1103.3 206.1H1283.9v5.8H1103.3zM1103.3 211.6H1280.9v5.8H1103.3zM1103.3 217H1278.1v5.8H1103.3zM1103.3 222.5H1265.7v5.8H1103.3zM1103.3 227.9H1263.7v5.8H1103.3zM1103.3 233.4H1260.7v5.8H1103.3zM1103.3 238.8H1257.6v5.8H1103.3zM1103.3 244.3H1257.2v5.8H1103.3zM1103.3 249.7H1256.8v5.8H1103.3zM1103.3 255.2H1256.4v5.8H1103.3zM1103.3 260.6H1250.5v5.8H1103.3zM1103.3 266.1H1246.2v5.8H1103.3zM1103.3 271.5H1241.9v5.8H1103.3zM1103.3 277H1239.9v5.8H1103.3zM1103.3 282.4H1231.8v5.8H1103.3zM1103.3 287.9H1230.3v5.8H1103.3z" fill="#00008f"/>
<path d="M1123.5 53.6h5.4v5.7h-5.4zM1143.8 53.6h5.4v5.7h-5.4zM1267.8 53.6h7.9v5.7h-7.9zM1303.2 53.6h5.4v5.7h-5.4zM1318.3 53.6h25.6v5.7h-25.6zM1103.3 59h10.4v5.7h-10.4zM1227.3 59h2.8v5.7h-2.8zM1255.1 59h2.8v5.7h-2.8zM1282.9 64.5h12.9v5.7h-12.9zM1333.5 64.5h2.8v5.7h-2.8zM1217.1 69.9h5.4v5.7h-5.4zM1232.3 69.9h7.9v5.7h-7.9zM1305.7 69.9h15.5v5.7h-15.5zM1328.5 69.9h12.9v5.7h-12.9zM1346.2 69.9h7.9v5.7h-7.9zM1176.7 75.4h2.8v5.7h-2.8zM1224.7 75.4h2.8v5.7h-2.8zM1237.4 75.4h10.4v5.7h-10.4zM1285.5 75.4h7.9v5.7h-7.9zM1298.1 75.4h5.4v5.7h-5.4zM1313.3 75.4h2.8v5.7h-2.8zM1128.6 80.8h7.9v5.7h-7.9zM1247.5 80.8h5.4v5.7h-5.4zM1270.3 80.8h5.4v5.7h-5.4zM1293 80.8h20.5v5.7h-20.5zM1161.5 86.3h18v5.7h-18zM1310.8 86.3h2.8v5.7h-2.8zM1323.4 86.3h5.4v5.7h-5.4zM1346.2 86.3h10.4v5.7h-10.4zM1131.1 91.7h10.4v5.7h-10.4zM1338.6 91.7h5.4v5.7h-5.4zM1103.3 97.2h2.8v5.7h-2.8zM1252.6 97.2h15.5v5.7h-15.5zM1113.4 102.6h2.8v5.7h-2.8zM1126.1 102.6h7.9v5.7h-7.9zM1293 102.6h2.8v5.7h-2.8zM1247.5 108.1h33.2v5.7h-33.2zM1164 113.5h7.9v5.7h-7.9zM1176.7 113.5h2.8v5.7h-2.8zM1282.9 113.5h7.9v5.7h-7.9zM1293 135.3h15.5v5.7h-15.5zM1133.7 140.8h5.4v5.7h-5.4zM1181.7 140.8h5.4v5.7h-5.4zM1217.1 140.8h5.4v5.7h-5.4zM1252.6 140.8h5.4v5.7h-5.4zM1280.4 140.8h7.9v5.7h-7.9zM1257.6 146.2h10.4v5.7h-10.4zM1110.9 151.7h5.4v5.7h-5.4zM1146.3 151.7h18v5.7h-18zM1176.7 151.7h2.8v5.7h-2.8zM1277.9 151.7h5.4v5.7h-5.4zM1123.5 157.1h7.9v5.7h-7.9zM1131.1 168h2.8v5.7h-2.8zM1169.1 168h2.8v5.7h-2.8zM1242.5 168h10.4v5.7h-10.4zM1126.1 173.5h7.9v5.7h-7.9zM1234.9 178.9h5.4v5.7h-5.4zM1250 178.9h7.9v5.7h-7.9zM1138.7 184.3h23.1v5.7h-23.1zM1212.1 184.3h2.8v5.7h-2.8zM1224.7 184.3h5.4v5.7h-5.4zM1260.2 184.3h5.4v5.7h-5.4zM1141.2 189.8h7.9v5.7h-7.9zM1128.6 195.2h5.4v5.7h-5.4zM1156.4 195.2h7.9v5.7h-7.9zM1242.5 195.2h10.4v5.7h-10.4zM1267.8 195.2h20.5v5.7h-20.5zM1108.4 200.7h2.8v5.7h-2.8zM1156.4 206.1h7.9v5.7h-7.9zM1169.1 206.1h10.4v5.7h-10.4zM1255.1 206.1h2.8v5.7h-2.8zM1136.2 211.6h7.9v5.7h-7.9zM1260.2 211.6h2.8v5.7h-2.8zM1272.8 211.6h5.4v5.7h-5.4zM1217.1 217h2.8v5.7h-2.8zM1239.9 217h5.4v5.7h-5.4zM1103.3 222.5h5.4v5.7h-5.4zM1138.7 222.5h5.4v5.7h-5.4zM1161.5 222.5h7.9v5.7h-7.9zM1257.6 222.5h5.4v5.7h-5.4zM1128.6 227.9h5.4v5.7h-5.4zM1141.2 227.9h18v5.7h-18zM1166.5 227.9h13v5.7h-13zM1118.5 233.4h12.9v5.7h-12.9zM1247.5 233.4h5.4v5.7h-5.4zM1105.8 238.8h5.4v5.7h-5.4zM1143.8 238.8h5.4v5.7h-5.4zM1204.5 238.8h2.8v5.7h-2.8zM1123.5 244.3h2.8v5.7h-2.8zM1141.2 244.3h15.5v5.7h-15.5zM1232.3 249.7h7.9v5.7h-7.9zM1250 249.7h7.9v5.7h-7.9zM1103.3 255.2h7.9v5.7h-7.9zM1133.7 255.2h5.4v5.7h-5.4zM1217.1 260.6h20.5v5.7h-20.5zM1118.5 266.1h7.9v5.7h-7.9zM1141.2 266.1h5.4v5.7h-5.4zM1118.5 271.5h5.4v5.7h-5.4zM1153.9 271.5h5.4v5.7h-5.4zM1219.7 271.5h5.4v5.7h-5.4zM1108.4 287.9h13v5.7h-13zM1138.7 287.9h12.9v5.7h-12.9z" fill="#0000bb"/>
<path d="M1118.5 53.6h5.4v5.7h-5.4zM1148.8 53.6h2.8v5.7h-2.8zM1275.3 53.6h5.4v5.7h-5.4zM1343.6 53.6h5.4v5.7h-5.4zM1113.4 59h18v5.7h-18zM1224.7 59h2.8v5.7h-2.8zM1257.6 59h2.8v5.7h-2.8zM1161.5 64.5h2.8v5.7h-2.8zM1260.2 64.5h23.1v5.7h-23.1zM1295.6 64.5h2.8v5.7h-2.8zM1331 64.5h2.8v5.7h-2.8zM1138.7 69.9h7.9v5.7h-7.9zM1214.6 69.9h2.8v5.7h-2.8zM1239.9 69.9h25.6v5.7h-25.6zM1298.1 69.9h7.9v5.7h-7.9zM1320.9 69.9h7.9v5.7h-7.9zM1353.8 69.9h2.8v5.7h-2.8zM1179.2 75.4h2.8v5.7h-2.8zM1293 75.4h5.4v5.7h-5.4zM1315.8 75.4h2.8v5.7h-2.8zM1136.2 80.8h5.4v5.7h-5.4zM1196.9 80.8h5.4v5.7h-5.4zM1245 80.8h2.8v5.7h-2.8zM1275.3 80.8h18v5.7h-18zM1313.3 80.8h33.2v5.7h-33.2zM1151.4 86.3h10.4v5.7h-10.4zM1328.5 86.3h18v5.7h-18zM1121 91.7h10.4v5.7h-10.4zM1141.2 91.7h2.8v5.7h-2.8zM1265.2 91.7h15.5v5.7h-15.5zM1333.5 91.7h5.4v5.7h-5.4zM1105.8 97.2h2.8v5.7h-2.8zM1136.2 97.2h7.9v5.7h-7.9zM1242.5 97.2h10.4v5.7h-10.4zM1267.8 97.2h2.8v5.7h-2.8zM1303.2 97.2h7.9v5.7h-7.9zM1133.7 102.6h7.9v5.7h-7.9zM1217.1 102.6h76.2v5.7h-76.2zM1295.6 102.6h15.5v5.7h-15.5zM1245 108.1h2.8v5.7h-2.8zM1280.4 108.1h2.8v5.7h-2.8zM1315.8 108.1h10.4v5.7h-10.4zM1159 113.5h5.4v5.7h-5.4zM1179.2 113.5h2.8v5.7h-2.8zM1209.6 113.5h25.6v5.7h-25.6zM1277.9 113.5h5.4v5.7h-5.4zM1103.3 119h7.9v5.7h-7.9zM1234.9 124.4h2.8v5.7h-2.8zM1277.9 124.4h2.8v5.7h-2.8zM1303.2 129.9h5.4v5.7h-5.4zM1123.5 135.3h25.6v5.7h-25.6zM1290.5 135.3h2.8v5.7h-2.8zM1138.7 140.8h2.8v5.7h-2.8zM1171.6 140.8h10.4v5.7h-10.4zM1222.2 140.8h7.9v5.7h-7.9zM1245 140.8h7.9v5.7h-7.9zM1288 140.8h5.4v5.7h-5.4zM1252.6 146.2h5.4v5.7h-5.4zM1267.8 146.2h5.4v5.7h-5.4zM1303.2 146.2h2.8v5.7h-2.8zM1116 151.7h2.8v5.7h-2.8zM1141.2 151.7h5.4v5.7h-5.4zM1179.2 151.7h2.8v5.7h-2.8zM1247.5 151.7h5.4v5.7h-5.4zM1275.3 151.7h2.8v5.7h-2.8zM1116 157.1h7.9v5.7h-7.9zM1156.4 157.1h2.8v5.7h-2.8zM1303.2 157.1h2.8v5.7h-2.8zM1252.6 162.6h40.8v5.7h-40.8zM1128.6 168h2.8v5.7h-2.8zM1171.6 168h2.8v5.7h-2.8zM1239.9 168h2.8v5.7h-2.8zM1133.7 173.5h5.4v5.7h-5.4zM1232.3 178.9h2.8v5.7h-2.8zM1257.6 178.9h7.9v5.7h-7.9zM1123.5 184.3h15.5v5.7h-15.5zM1161.5 184.3h2.8v5.7h-2.8zM1209.6 184.3h2.8v5.7h-2.8zM1229.8 184.3h2.8v5.7h-2.8zM1148.8 189.8h2.8v5.7h-2.8zM1245 189.8h30.7v5.7h-30.7zM1126.1 195.2h2.8v5.7h-2.8zM1164 195.2h15.5v5.7h-15.5zM1232.3 195.2h10.4v5.7h-10.4zM1110.9 200.7h5.4v5.7h-5.4zM1146.3 200.7h13v5.7h-13zM1245 200.7h2.8v5.7h-2.8zM1103.3 206.1h2.8v5.7h-2.8zM1153.9 206.1h2.8v5.7h-2.8zM1179.2 206.1h7.9v5.7h-7.9zM1252.6 206.1h2.8v5.7h-2.8zM1143.8 211.6h5.4v5.7h-5.4zM1277.9 211.6h2.8v5.7h-2.8zM1245 217h5.4v5.7h-5.4zM1108.4 222.5h10.4v5.7h-10.4zM1133.7 222.5h5.4v5.7h-5.4zM1169.1 222.5h10.4v5.7h-10.4zM1255.1 222.5h2.8v5.7h-2.8zM1179.2 227.9h2.8v5.7h-2.8zM1229.8 227.9h33.2v5.7h-33.2zM1131.1 233.4h5.4v5.7h-5.4zM1242.5 233.4h5.4v5.7h-5.4zM1103.3 238.8h2.8v5.7h-2.8zM1148.8 238.8h2.8v5.7h-2.8zM1202 238.8h2.8v5.7h-2.8zM1207 238.8h2.8v5.7h-2.8zM1118.5 244.3h5.4v5.7h-5.4zM1156.4 244.3h2.8v5.7h-2.8zM1103.3 249.7h10.4v5.7h-10.4zM1229.8 249.7h2.8v5.7h-2.8zM1239.9 249.7h10.4v5.7h-10.4zM1138.7 255.2h2.8v5.7h-2.8zM1116 260.6h18v5.7h-18zM1209.6 260.6h7.9v5.7h-7.9zM1126.1 266.1h15.5v5.7h-15.5zM1164 266.1h2.8v5.7h-2.8zM1110.9 271.5h7.9v5.7h-7.9zM1159 271.5h5.4v5.7h-5.4zM1217.1 271.5h2.8v5.7h-2.8zM1224.7 271.5h18v5.7h-18zM1121 277h38.3v5.7h-38.3zM1159 282.4h7.9v5.7h-7.9zM1103.3 287.9h5.4v5.7h-5.4zM1151.4 287.9h7.9v5.7h-7.9z" fill="#0000e7"/>
<path d="M1113.4 53.6h5.4v5.7h-5.4zM1151.4 53.6h5.4v5.7h-5.4zM1265.2 53.6h2.8v5.7h-2.8zM1280.4 53.6h2.8v5.7h-2.8zM1300.6 53.6h2.8v5.7h-2.8zM1348.7 53.6h7.9v5.7h-7.9zM1131.1 59h20.5v5.7h-20.5zM1153.9 64.5h7.9v5.7h-7.9zM1164 64.5h2.8v5.7h-2.8zM1257.6 64.5h2.8v5.7h-2.8zM1298.1 64.5h2.8v5.7h-2.8zM1328.5 64.5h2.8v5.7h-2.8zM1103.3 69.9h35.7v5.7h-35.7zM1146.3 69.9h2.8v5.7h-2.8zM1212.1 69.9h2.8v5.7h-2.8zM1265.2 69.9h12.9v5.7h-12.9zM1293 69.9h5.4v5.7h-5.4zM1222.2 75.4h2.8v5.7h-2.8zM1318.3 75.4h2.8v5.7h-2.8zM1141.2 80.8h5.4v5.7h-5.4zM1191.8 80.8h5.4v5.7h-5.4zM1202 80.8h2.8v5.7h-2.8zM1346.2 80.8h5.4v5.7h-5.4zM1103.3 86.3h5.4v5.7h-5.4zM1131.1 86.3h20.5v5.7h-20.5zM1179.2 86.3h2.8v5.7h-2.8zM1118.5 91.7h2.8v5.7h-2.8zM1143.8 91.7h2.8v5.7h-2.8zM1250 91.7h15.5v5.7h-15.5zM1280.4 91.7h2.8v5.7h-2.8zM1328.5 91.7h5.4v5.7h-5.4zM1143.8 97.2h10.4v5.7h-10.4zM1159 97.2h5.4v5.7h-5.4zM1237.4 97.2h5.4v5.7h-5.4zM1300.6 97.2h2.8v5.7h-2.8zM1310.8 97.2h7.9v5.7h-7.9zM1333.5 97.2h7.9v5.7h-7.9zM1110.9 102.6h2.8v5.7h-2.8zM1141.2 102.6h7.9v5.7h-7.9zM1212.1 102.6h5.4v5.7h-5.4zM1310.8 102.6h7.9v5.7h-7.9zM1164 108.1h10.4v5.7h-10.4zM1282.9 108.1h2.8v5.7h-2.8zM1313.3 108.1h2.8v5.7h-2.8zM1325.9 108.1h5.4v5.7h-5.4zM1123.5 113.5h35.7v5.7h-35.7zM1207 113.5h2.8v5.7h-2.8zM1234.9 113.5h10.4v5.7h-10.4zM1272.8 113.5h5.4v5.7h-5.4zM1110.9 119h10.4v5.7h-10.4zM1131.1 119h15.5v5.7h-15.5zM1247.5 119h20.5v5.7h-20.5zM1315.8 119h2.8v5.7h-2.8zM1118.5 124.4h7.9v5.7h-7.9zM1224.7 124.4h10.4v5.7h-10.4zM1237.4 124.4h2.8v5.7h-2.8zM1272.8 124.4h5.4v5.7h-5.4zM1280.4 124.4h18v5.7h-18zM1103.3 129.9h13v5.7h-13zM1128.6 129.9h15.5v5.7h-15.5zM1300.6 129.9h2.8v5.7h-2.8zM1113.4 135.3h10.4v5.7h-10.4zM1148.8 135.3h10.4v5.7h-10.4zM1174.1 135.3h5.4v5.7h-5.4zM1288 135.3h2.8v5.7h-2.8zM1141.2 140.8h2.8v5.7h-2.8zM1166.5 140.8h5.4v5.7h-5.4zM1229.8 140.8h15.5v5.7h-15.5zM1293 140.8h13v5.7h-13zM1103.3 146.2h13v5.7h-13zM1250 146.2h2.8v5.7h-2.8zM1272.8 146.2h7.9v5.7h-7.9zM1295.6 146.2h7.9v5.7h-7.9zM1118.5 151.7h5.4v5.7h-5.4zM1136.2 151.7h5.4v5.7h-5.4zM1245 151.7h2.8v5.7h-2.8zM1252.6 151.7h23.1v5.7h-23.1zM1103.3 157.1h13v5.7h-13zM1265.2 157.1h15.5v5.7h-15.5zM1300.6 157.1h2.8v5.7h-2.8zM1159 162.6h15.5v5.7h-15.5zM1293 162.6h7.9v5.7h-7.9zM1237.4 168h2.8v5.7h-2.8zM1138.7 173.5h5.4v5.7h-5.4zM1131.1 178.9h7.9v5.7h-7.9zM1229.8 178.9h2.8v5.7h-2.8zM1265.2 178.9h2.8v5.7h-2.8zM1118.5 184.3h5.4v5.7h-5.4zM1164 184.3h2.8v5.7h-2.8zM1257.6 184.3h2.8v5.7h-2.8zM1151.4 189.8h2.8v5.7h-2.8zM1275.3 189.8h13v5.7h-13zM1123.5 195.2h2.8v5.7h-2.8zM1179.2 195.2h2.8v5.7h-2.8zM1229.8 195.2h2.8v5.7h-2.8zM1116 200.7h7.9v5.7h-7.9zM1133.7 200.7h13v5.7h-13zM1105.8 206.1h5.4v5.7h-5.4zM1148.8 206.1h5.4v5.7h-5.4zM1148.8 211.6h10.4v5.7h-10.4zM1257.6 211.6h2.8v5.7h-2.8zM1126.1 217h13v5.7h-13zM1214.6 217h2.8v5.7h-2.8zM1250 217h10.4v5.7h-10.4zM1272.8 217h5.4v5.7h-5.4zM1118.5 222.5h15.5v5.7h-15.5zM1179.2 222.5h2.8v5.7h-2.8zM1250 222.5h5.4v5.7h-5.4zM1126.1 227.9h2.8v5.7h-2.8zM1181.7 227.9h2.8v5.7h-2.8zM1227.3 227.9h2.8v5.7h-2.8zM1116 233.4h2.8v5.7h-2.8zM1136.2 233.4h5.4v5.7h-5.4zM1239.9 233.4h2.8v5.7h-2.8zM1151.4 238.8h2.8v5.7h-2.8zM1199.4 238.8h2.8v5.7h-2.8zM1209.6 238.8h2.8v5.7h-2.8zM1245 238.8h12.9v5.7h-12.9zM1116 244.3h2.8v5.7h-2.8zM1245 244.3h12.9v5.7h-12.9zM1113.4 249.7h30.7v5.7h-30.7zM1141.2 255.2h2.8v5.7h-2.8zM1161.5 255.2h5.4v5.7h-5.4zM1252.6 255.2h2.8v5.7h-2.8zM1103.3 260.6h13v5.7h-13zM1133.7 260.6h10.4v5.7h-10.4zM1202 260.6h7.9v5.7h-7.9zM1103.3 271.5h7.9v5.7h-7.9zM1164 271.5h2.8v5.7h-2.8zM1214.6 271.5h2.8v5.7h-2.8zM1118.5 277h2.8v5.7h-2.8zM1159 277h2.8v5.7h-2.8zM1156.4 282.4h2.8v5.7h-2.8zM1214.6 282.4h18v5.7h-18z" fill="#0013ff"/>
<path d="M1103.3 53.6h10.4v5.7h-10.4zM1156.4 53.6h5.4v5.7h-5.4zM1282.9 53.6h2.8v5.7h-2.8zM1151.4 59h18v5.7h-18zM1222.2 59h2.8v5.7h-2.8zM1103.3 64.5h20.5v5.7h-20.5zM1146.3 64.5h7.9v5.7h-7.9zM1166.5 64.5h2.8v5.7h-2.8zM1255.1 64.5h2.8v5.7h-2.8zM1325.9 64.5h2.8v5.7h-2.8zM1148.8 69.9h23.1v5.7h-23.1zM1209.6 69.9h2.8v5.7h-2.8zM1277.9 69.9h15.5v5.7h-15.5zM1146.3 80.8h45.8v5.7h-45.8zM1242.5 80.8h2.8v5.7h-2.8zM1351.2 80.8h5.4v5.7h-5.4zM1108.4 86.3h23.1v5.7h-23.1zM1308.2 86.3h2.8v5.7h-2.8zM1116 91.7h2.8v5.7h-2.8zM1242.5 91.7h7.9v5.7h-7.9zM1282.9 91.7h2.8v5.7h-2.8zM1315.8 91.7h13v5.7h-13zM1108.4 97.2h2.8v5.7h-2.8zM1133.7 97.2h2.8v5.7h-2.8zM1153.9 97.2h5.4v5.7h-5.4zM1164 97.2h2.8v5.7h-2.8zM1270.3 97.2h2.8v5.7h-2.8zM1298.1 97.2h2.8v5.7h-2.8zM1318.3 97.2h15.5v5.7h-15.5zM1103.3 102.6h7.9v5.7h-7.9zM1148.8 102.6h25.6v5.7h-25.6zM1202 102.6h10.4v5.7h-10.4zM1318.3 102.6h7.9v5.7h-7.9zM1161.5 108.1h2.8v5.7h-2.8zM1242.5 108.1h2.8v5.7h-2.8zM1285.5 108.1h2.8v5.7h-2.8zM1103.3 113.5h20.5v5.7h-20.5zM1245 113.5h7.9v5.7h-7.9zM1265.2 113.5h7.9v5.7h-7.9zM1121 119h10.4v5.7h-10.4zM1245 119h2.8v5.7h-2.8zM1267.8 119h2.8v5.7h-2.8zM1313.3 119h2.8v5.7h-2.8zM1103.3 124.4h15.5v5.7h-15.5zM1126.1 124.4h5.4v5.7h-5.4zM1159 124.4h2.8v5.7h-2.8zM1212.1 124.4h13v5.7h-13zM1298.1 124.4h7.9v5.7h-7.9zM1116 129.9h12.9v5.7h-12.9zM1143.8 129.9h7.9v5.7h-7.9zM1171.6 129.9h10.4v5.7h-10.4zM1298.1 129.9h2.8v5.7h-2.8zM1103.3 135.3h10.4v5.7h-10.4zM1159 135.3h15.5v5.7h-15.5zM1179.2 135.3h2.8v5.7h-2.8zM1143.8 140.8h23.1v5.7h-23.1zM1116 146.2h7.9v5.7h-7.9zM1247.5 146.2h2.8v5.7h-2.8zM1280.4 146.2h15.5v5.7h-15.5zM1123.5 151.7h13v5.7h-13zM1242.5 151.7h2.8v5.7h-2.8zM1159 157.1h2.8v5.7h-2.8zM1280.4 157.1h20.5v5.7h-20.5zM1143.8 162.6h15.5v5.7h-15.5zM1250 162.6h2.8v5.7h-2.8zM1300.6 162.6h5.4v5.7h-5.4zM1126.1 168h2.8v5.7h-2.8zM1143.8 173.5h23.1v5.7h-23.1zM1121 178.9h10.4v5.7h-10.4zM1138.7 178.9h23.1v5.7h-23.1zM1227.3 178.9h2.8v5.7h-2.8zM1267.8 178.9h2.8v5.7h-2.8zM1116 184.3h2.8v5.7h-2.8zM1207 184.3h2.8v5.7h-2.8zM1153.9 189.8h2.8v5.7h-2.8zM1242.5 189.8h2.8v5.7h-2.8zM1103.3 195.2h20.5v5.7h-20.5zM1181.7 195.2h2.8v5.7h-2.8zM1227.3 195.2h2.8v5.7h-2.8zM1123.5 200.7h10.4v5.7h-10.4zM1159 200.7h2.8v5.7h-2.8zM1242.5 200.7h2.8v5.7h-2.8zM1110.9 206.1h38.3v5.7h-38.3zM1186.8 206.1h2.8v5.7h-2.8zM1250 206.1h2.8v5.7h-2.8zM1159 211.6h20.5v5.7h-20.5zM1118.5 217h7.9v5.7h-7.9zM1138.7 217h12.9v5.7h-12.9zM1260.2 217h13v5.7h-13zM1245 222.5h5.4v5.7h-5.4zM1184.3 227.9h2.8v5.7h-2.8zM1224.7 227.9h2.8v5.7h-2.8zM1141.2 233.4h5.4v5.7h-5.4zM1171.6 233.4h10.4v5.7h-10.4zM1237.4 233.4h2.8v5.7h-2.8zM1242.5 238.8h2.8v5.7h-2.8zM1113.4 244.3h2.8v5.7h-2.8zM1159 244.3h2.8v5.7h-2.8zM1143.8 249.7h2.8v5.7h-2.8zM1143.8 255.2h18v5.7h-18zM1166.5 255.2h2.8v5.7h-2.8zM1143.8 260.6h2.8v5.7h-2.8zM1191.8 260.6h10.4v5.7h-10.4zM1166.5 266.1h2.8v5.7h-2.8zM1242.5 266.1h2.8v5.7h-2.8zM1166.5 271.5h2.8v5.7h-2.8zM1212.1 271.5h2.8v5.7h-2.8zM1103.3 277h15.5v5.7h-15.5zM1212.1 277h7.9v5.7h-7.9zM1237.4 277h2.8v5.7h-2.8zM1118.5 282.4h20.5v5.7h-20.5zM1148.8 282.4h7.9v5.7h-7.9zM1166.5 282.4h2.8v5.7h-2.8zM1212.1 282.4h2.8v5.7h-2.8zM1159 287.9h2.8v5.7h-2.8z" fill="#003fff"/>
<path d="M1161.5 53.6h2.8v5.7h-2.8zM1262.7 53.6h2.8v5.7h-2.8zM1285.5 53.6h2.8v5.7h-2.8zM1298.1 53.6h2.8v5.7h-2.8zM1353.8 59h2.8v5.7h-2.8zM1123.5 64.5h23.1v5.7h-23.1zM1300.6 64.5h2.8v5.7h-2.8zM1171.6 69.9h2.8v5.7h-2.8zM1207 69.9h2.8v5.7h-2.8zM1219.7 75.4h2.8v5.7h-2.8zM1320.9 75.4h2.8v5.7h-2.8zM1353.8 75.4h2.8v5.7h-2.8zM1204.5 80.8h2.8v5.7h-2.8zM1239.9 80.8h2.8v5.7h-2.8zM1181.7 86.3h2.8v5.7h-2.8zM1146.3 91.7h2.8v5.7h-2.8zM1313.3 91.7h2.8v5.7h-2.8zM1166.5 97.2h2.8v5.7h-2.8zM1234.9 97.2h2.8v5.7h-2.8zM1272.8 97.2h2.8v5.7h-2.8zM1295.6 97.2h2.8v5.7h-2.8zM1174.1 102.6h2.8v5.7h-2.8zM1199.4 102.6h2.8v5.7h-2.8zM1325.9 102.6h7.9v5.7h-7.9zM1103.3 108.1h2.8v5.7h-2.8zM1118.5 108.1h5.4v5.7h-5.4zM1133.7 108.1h7.9v5.7h-7.9zM1159 108.1h2.8v5.7h-2.8zM1174.1 108.1h2.8v5.7h-2.8zM1310.8 108.1h2.8v5.7h-2.8zM1181.7 113.5h2.8v5.7h-2.8zM1204.5 113.5h2.8v5.7h-2.8zM1252.6 113.5h13v5.7h-13zM1146.3 119h2.8v5.7h-2.8zM1242.5 119h2.8v5.7h-2.8zM1270.3 119h2.8v5.7h-2.8zM1131.1 124.4h5.4v5.7h-5.4zM1153.9 124.4h5.4v5.7h-5.4zM1161.5 124.4h2.8v5.7h-2.8zM1239.9 124.4h2.8v5.7h-2.8zM1270.3 124.4h2.8v5.7h-2.8zM1305.7 124.4h5.4v5.7h-5.4zM1151.4 129.9h20.5v5.7h-20.5zM1285.5 135.3h2.8v5.7h-2.8zM1123.5 146.2h20.5v5.7h-20.5zM1171.6 146.2h7.9v5.7h-7.9zM1245 146.2h2.8v5.7h-2.8zM1181.7 151.7h2.8v5.7h-2.8zM1262.7 157.1h2.8v5.7h-2.8zM1128.6 162.6h15.5v5.7h-15.5zM1174.1 162.6h2.8v5.7h-2.8zM1174.1 168h2.8v5.7h-2.8zM1234.9 168h2.8v5.7h-2.8zM1166.5 173.5h2.8v5.7h-2.8zM1118.5 178.9h2.8v5.7h-2.8zM1161.5 178.9h2.8v5.7h-2.8zM1224.7 178.9h2.8v5.7h-2.8zM1113.4 184.3h2.8v5.7h-2.8zM1166.5 184.3h2.8v5.7h-2.8zM1232.3 184.3h2.8v5.7h-2.8zM1224.7 195.2h2.8v5.7h-2.8zM1179.2 211.6h2.8v5.7h-2.8zM1108.4 217h10.4v5.7h-10.4zM1151.4 217h5.4v5.7h-5.4zM1181.7 222.5h2.8v5.7h-2.8zM1237.4 222.5h7.9v5.7h-7.9zM1103.3 227.9h2.8v5.7h-2.8zM1123.5 227.9h2.8v5.7h-2.8zM1186.8 227.9h2.8v5.7h-2.8zM1222.2 227.9h2.8v5.7h-2.8zM1146.3 233.4h10.4v5.7h-10.4zM1164 233.4h7.9v5.7h-7.9zM1181.7 233.4h2.8v5.7h-2.8zM1232.3 233.4h5.4v5.7h-5.4zM1153.9 238.8h2.8v5.7h-2.8zM1196.9 238.8h2.8v5.7h-2.8zM1108.4 244.3h5.4v5.7h-5.4zM1242.5 244.3h2.8v5.7h-2.8zM1227.3 249.7h2.8v5.7h-2.8zM1169.1 255.2h2.8v5.7h-2.8zM1146.3 260.6h2.8v5.7h-2.8zM1184.3 260.6h7.9v5.7h-7.9zM1169.1 271.5h2.8v5.7h-2.8zM1161.5 277h2.8v5.7h-2.8zM1219.7 277h18v5.7h-18zM1110.9 282.4h7.9v5.7h-7.9zM1138.7 282.4h10.4v5.7h-10.4zM1169.1 282.4h2.8v5.7h-2.8z" fill="#006bff"/>
<path d="M1288 53.6h10.4v5.7h-10.4zM1169.1 59h2.8v5.7h-2.8zM1260.2 59h2.8v5.7h-2.8zM1351.2 59h2.8v5.7h-2.8zM1169.1 64.5h2.8v5.7h-2.8zM1252.6 64.5h2.8v5.7h-2.8zM1303.2 64.5h23.1v5.7h-23.1zM1174.1 69.9h33.2v5.7h-33.2zM1181.7 75.4h2.8v5.7h-2.8zM1113.4 91.7h2.8v5.7h-2.8zM1181.7 91.7h2.8v5.7h-2.8zM1239.9 91.7h2.8v5.7h-2.8zM1285.5 91.7h2.8v5.7h-2.8zM1110.9 97.2h2.8v5.7h-2.8zM1131.1 97.2h2.8v5.7h-2.8zM1275.3 97.2h20.5v5.7h-20.5zM1196.9 102.6h2.8v5.7h-2.8zM1333.5 102.6h2.8v5.7h-2.8zM1105.8 108.1h13v5.7h-13zM1123.5 108.1h10.4v5.7h-10.4zM1141.2 108.1h18v5.7h-18zM1288 108.1h23.1v5.7h-23.1zM1310.8 119h2.8v5.7h-2.8zM1136.2 124.4h18v5.7h-18zM1164 124.4h2.8v5.7h-2.8zM1209.6 124.4h2.8v5.7h-2.8zM1310.8 124.4h2.8v5.7h-2.8zM1181.7 129.9h2.8v5.7h-2.8zM1295.6 129.9h2.8v5.7h-2.8zM1181.7 135.3h2.8v5.7h-2.8zM1143.8 146.2h28.1v5.7h-28.1zM1179.2 146.2h2.8v5.7h-2.8zM1242.5 146.2h2.8v5.7h-2.8zM1126.1 162.6h2.8v5.7h-2.8zM1116 178.9h2.8v5.7h-2.8zM1164 178.9h2.8v5.7h-2.8zM1222.2 178.9h2.8v5.7h-2.8zM1270.3 178.9h2.8v5.7h-2.8zM1110.9 184.3h2.8v5.7h-2.8zM1204.5 184.3h2.8v5.7h-2.8zM1255.1 184.3h2.8v5.7h-2.8zM1156.4 189.8h2.8v5.7h-2.8zM1239.9 189.8h2.8v5.7h-2.8zM1184.3 195.2h2.8v5.7h-2.8zM1189.3 206.1h2.8v5.7h-2.8zM1247.5 206.1h2.8v5.7h-2.8zM1181.7 211.6h2.8v5.7h-2.8zM1255.1 211.6h2.8v5.7h-2.8zM1103.3 217h5.4v5.7h-5.4zM1156.4 217h2.8v5.7h-2.8zM1212.1 217h2.8v5.7h-2.8zM1234.9 222.5h2.8v5.7h-2.8zM1105.8 227.9h18v5.7h-18zM1189.3 227.9h33.2v5.7h-33.2zM1113.4 233.4h2.8v5.7h-2.8zM1156.4 233.4h7.9v5.7h-7.9zM1184.3 233.4h48.4v5.7h-48.4zM1156.4 238.8h2.8v5.7h-2.8zM1194.4 238.8h2.8v5.7h-2.8zM1212.1 238.8h2.8v5.7h-2.8zM1239.9 238.8h2.8v5.7h-2.8zM1103.3 244.3h5.4v5.7h-5.4zM1161.5 244.3h2.8v5.7h-2.8zM1146.3 249.7h2.8v5.7h-2.8zM1171.6 255.2h2.8v5.7h-2.8zM1181.7 260.6h2.8v5.7h-2.8zM1239.9 266.1h2.8v5.7h-2.8zM1209.6 271.5h2.8v5.7h-2.8zM1164 277h2.8v5.7h-2.8zM1209.6 277h2.8v5.7h-2.8zM1103.3 282.4h7.9v5.7h-7.9zM1209.6 282.4h2.8v5.7h-2.8z" fill="#0096ff"/>
<path d="M1164 53.6h2.8v5.7h-2.8zM1219.7 59h2.8v5.7h-2.8zM1323.4 75.4h2.8v5.7h-2.8zM1351.2 75.4h2.8v5.7h-2.8zM1207 80.8h2.8v5.7h-2.8zM1237.4 80.8h2.8v5.7h-2.8zM1305.7 86.3h2.8v5.7h-2.8zM1148.8 91.7h2.8v5.7h-2.8zM1179.2 91.7h2.8v5.7h-2.8zM1184.3 91.7h2.8v5.7h-2.8zM1310.8 91.7h2.8v5.7h-2.8zM1169.1 97.2h2.8v5.7h-2.8zM1232.3 97.2h2.8v5.7h-2.8zM1176.7 102.6h2.8v5.7h-2.8zM1176.7 108.1h2.8v5.7h-2.8zM1184.3 113.5h2.8v5.7h-2.8zM1148.8 119h2.8v5.7h-2.8zM1239.9 119h2.8v5.7h-2.8zM1272.8 119h2.8v5.7h-2.8zM1207 124.4h2.8v5.7h-2.8zM1242.5 124.4h2.8v5.7h-2.8zM1267.8 124.4h2.8v5.7h-2.8zM1242.5 129.9h5.4v5.7h-5.4zM1293 129.9h2.8v5.7h-2.8zM1181.7 146.2h2.8v5.7h-2.8zM1239.9 146.2h2.8v5.7h-2.8zM1184.3 151.7h2.8v5.7h-2.8zM1239.9 151.7h2.8v5.7h-2.8zM1161.5 157.1h2.8v5.7h-2.8zM1260.2 157.1h2.8v5.7h-2.8zM1103.3 162.6h2.8v5.7h-2.8zM1123.5 162.6h2.8v5.7h-2.8zM1176.7 162.6h2.8v5.7h-2.8zM1247.5 162.6h2.8v5.7h-2.8zM1103.3 168h2.8v5.7h-2.8zM1123.5 168h2.8v5.7h-2.8zM1176.7 168h2.8v5.7h-2.8zM1169.1 173.5h2.8v5.7h-2.8zM1113.4 178.9h2.8v5.7h-2.8zM1166.5 178.9h2.8v5.7h-2.8zM1219.7 178.9h2.8v5.7h-2.8zM1293 178.9h2.8v5.7h-2.8zM1169.1 184.3h2.8v5.7h-2.8zM1234.9 184.3h2.8v5.7h-2.8zM1159 189.8h2.8v5.7h-2.8zM1186.8 195.2h2.8v5.7h-2.8zM1222.2 195.2h2.8v5.7h-2.8zM1161.5 200.7h2.8v5.7h-2.8zM1239.9 244.3h2.8v5.7h-2.8zM1224.7 249.7h2.8v5.7h-2.8zM1174.1 255.2h2.8v5.7h-2.8zM1227.3 255.2h5.4v5.7h-5.4zM1250 255.2h2.8v5.7h-2.8zM1148.8 260.6h2.8v5.7h-2.8zM1179.2 260.6h2.8v5.7h-2.8zM1169.1 266.1h2.8v5.7h-2.8zM1171.6 271.5h2.8v5.7h-2.8zM1207 277h2.8v5.7h-2.8zM1171.6 282.4h2.8v5.7h-2.8zM1161.5 287.9h2.8v5.7h-2.8z" fill="#00c2ff"/>
<path d="M1166.5 53.6h2.8v5.7h-2.8zM1199.4 53.6h5.4v5.7h-5.4zM1260.2 53.6h2.8v5.7h-2.8zM1171.6 59h2.8v5.7h-2.8zM1194.4 59h2.8v5.7h-2.8zM1318.3 59h2.8v5.7h-2.8zM1348.7 59h2.8v5.7h-2.8zM1171.6 64.5h2.8v5.7h-2.8zM1189.3 64.5h2.8v5.7h-2.8zM1250 64.5h2.8v5.7h-2.8zM1184.3 75.4h2.8v5.7h-2.8zM1217.1 75.4h2.8v5.7h-2.8zM1209.6 80.8h2.8v5.7h-2.8zM1184.3 86.3h2.8v5.7h-2.8zM1103.3 91.7h2.8v5.7h-2.8zM1110.9 91.7h2.8v5.7h-2.8zM1151.4 91.7h2.8v5.7h-2.8zM1186.8 91.7h2.8v5.7h-2.8zM1237.4 91.7h2.8v5.7h-2.8zM1288 91.7h2.8v5.7h-2.8zM1113.4 97.2h2.8v5.7h-2.8zM1128.6 97.2h2.8v5.7h-2.8zM1194.4 102.6h2.8v5.7h-2.8zM1239.9 108.1h2.8v5.7h-2.8zM1202 113.5h2.8v5.7h-2.8zM1151.4 119h2.8v5.7h-2.8zM1275.3 119h2.8v5.7h-2.8zM1308.2 119h2.8v5.7h-2.8zM1166.5 124.4h2.8v5.7h-2.8zM1204.5 124.4h2.8v5.7h-2.8zM1245 124.4h2.8v5.7h-2.8zM1265.2 124.4h2.8v5.7h-2.8zM1184.3 129.9h2.8v5.7h-2.8zM1247.5 129.9h2.8v5.7h-2.8zM1290.5 129.9h2.8v5.7h-2.8zM1184.3 135.3h2.8v5.7h-2.8zM1282.9 135.3h2.8v5.7h-2.8zM1184.3 146.2h2.8v5.7h-2.8zM1237.4 146.2h2.8v5.7h-2.8zM1105.8 162.6h2.8v5.7h-2.8zM1105.8 168h2.8v5.7h-2.8zM1121 168h2.8v5.7h-2.8zM1232.3 168h2.8v5.7h-2.8zM1171.6 173.5h2.8v5.7h-2.8zM1103.3 178.9h2.8v5.7h-2.8zM1169.1 178.9h2.8v5.7h-2.8zM1217.1 178.9h2.8v5.7h-2.8zM1272.8 178.9h2.8v5.7h-2.8zM1290.5 178.9h2.8v5.7h-2.8zM1108.4 184.3h2.8v5.7h-2.8zM1202 184.3h2.8v5.7h-2.8zM1252.6 184.3h2.8v5.7h-2.8zM1161.5 189.8h2.8v5.7h-2.8zM1237.4 189.8h2.8v5.7h-2.8zM1189.3 195.2h2.8v5.7h-2.8zM1219.7 195.2h2.8v5.7h-2.8zM1239.9 200.7h2.8v5.7h-2.8zM1191.8 206.1h2.8v5.7h-2.8zM1245 206.1h2.8v5.7h-2.8zM1184.3 211.6h2.8v5.7h-2.8zM1252.6 211.6h2.8v5.7h-2.8zM1159 217h2.8v5.7h-2.8zM1209.6 217h2.8v5.7h-2.8zM1184.3 222.5h2.8v5.7h-2.8zM1232.3 222.5h2.8v5.7h-2.8zM1103.3 233.4h2.8v5.7h-2.8zM1110.9 233.4h2.8v5.7h-2.8zM1159 238.8h2.8v5.7h-2.8zM1191.8 238.8h2.8v5.7h-2.8zM1214.6 238.8h2.8v5.7h-2.8zM1237.4 238.8h2.8v5.7h-2.8zM1164 244.3h2.8v5.7h-2.8zM1181.7 244.3h2.8v5.7h-2.8zM1148.8 249.7h2.8v5.7h-2.8zM1212.1 249.7h2.8v5.7h-2.8zM1176.7 255.2h2.8v5.7h-2.8zM1224.7 255.2h2.8v5.7h-2.8zM1151.4 260.6h2.8v5.7h-2.8zM1237.4 266.1h2.8v5.7h-2.8zM1174.1 271.5h2.8v5.7h-2.8zM1207 271.5h2.8v5.7h-2.8zM1166.5 277h2.8v5.7h-2.8zM1204.5 277h2.8v5.7h-2.8zM1174.1 282.4h2.8v5.7h-2.8zM1207 282.4h2.8v5.7h-2.8z" fill="#00eeff"/>
<path d="M1169.1 53.6h30.7v5.7h-30.7zM1242.5 53.6h18v5.7h-18zM1174.1 59h20.5v5.7h-20.5zM1196.9 59h2.8v5.7h-2.8zM1315.8 59h2.8v5.7h-2.8zM1320.9 59h28.1v5.7h-28.1zM1174.1 64.5h15.5v5.7h-15.5zM1247.5 64.5h2.8v5.7h-2.8zM1186.8 75.4h2.8v5.7h-2.8zM1209.6 75.4h7.9v5.7h-7.9zM1325.9 75.4h5.4v5.7h-5.4zM1348.7 75.4h2.8v5.7h-2.8zM1212.1 80.8h25.6v5.7h-25.6zM1186.8 86.3h2.8v5.7h-2.8zM1237.4 86.3h20.5v5.7h-20.5zM1300.6 86.3h5.4v5.7h-5.4zM1105.8 91.7h5.4v5.7h-5.4zM1153.9 91.7h25.6v5.7h-25.6zM1234.9 91.7h2.8v5.7h-2.8zM1290.5 91.7h20.5v5.7h-20.5zM1116 97.2h12.9v5.7h-12.9zM1171.6 97.2h13v5.7h-13zM1219.7 97.2h12.9v5.7h-12.9zM1179.2 102.6h15.5v5.7h-15.5zM1179.2 108.1h15.5v5.7h-15.5zM1237.4 108.1h2.8v5.7h-2.8zM1186.8 113.5h15.5v5.7h-15.5zM1153.9 119h25.6v5.7h-25.6zM1229.8 119h10.4v5.7h-10.4zM1277.9 119h30.7v5.7h-30.7zM1169.1 124.4h35.7v5.7h-35.7zM1247.5 124.4h18v5.7h-18zM1186.8 129.9h2.8v5.7h-2.8zM1239.9 129.9h2.8v5.7h-2.8zM1250 129.9h40.8v5.7h-40.8zM1186.8 135.3h5.4v5.7h-5.4zM1280.4 135.3h2.8v5.7h-2.8zM1186.8 146.2h50.9v5.7h-50.9zM1186.8 151.7h18v5.7h-18zM1227.3 151.7h13v5.7h-13zM1164 157.1h10.4v5.7h-10.4zM1234.9 157.1h25.6v5.7h-25.6zM1108.4 162.6h15.5v5.7h-15.5zM1179.2 162.6h10.4v5.7h-10.4zM1237.4 162.6h10.4v5.7h-10.4zM1108.4 168h13v5.7h-13zM1179.2 168h7.9v5.7h-7.9zM1229.8 168h2.8v5.7h-2.8zM1174.1 173.5h15.5v5.7h-15.5zM1242.5 173.5h18v5.7h-18zM1105.8 178.9h7.9v5.7h-7.9zM1171.6 178.9h15.5v5.7h-15.5zM1209.6 178.9h7.9v5.7h-7.9zM1275.3 178.9h15.5v5.7h-15.5zM1103.3 184.3h5.4v5.7h-5.4zM1171.6 184.3h2.8v5.7h-2.8zM1237.4 184.3h15.5v5.7h-15.5zM1164 189.8h15.5v5.7h-15.5zM1222.2 189.8h15.5v5.7h-15.5zM1191.8 195.2h28.1v5.7h-28.1zM1164 200.7h2.8v5.7h-2.8zM1237.4 200.7h2.8v5.7h-2.8zM1227.3 206.1h18v5.7h-18zM1186.8 211.6h2.8v5.7h-2.8zM1239.9 211.6h12.9v5.7h-12.9zM1161.5 217h25.6v5.7h-25.6zM1204.5 217h5.4v5.7h-5.4zM1186.8 222.5h10.4v5.7h-10.4zM1229.8 222.5h2.8v5.7h-2.8zM1105.8 233.4h5.4v5.7h-5.4zM1161.5 238.8h30.7v5.7h-30.7zM1217.1 238.8h20.5v5.7h-20.5zM1166.5 244.3h15.5v5.7h-15.5zM1184.3 244.3h2.8v5.7h-2.8zM1224.7 244.3h15.5v5.7h-15.5zM1151.4 249.7h13v5.7h-13zM1209.6 249.7h2.8v5.7h-2.8zM1214.6 249.7h10.4v5.7h-10.4zM1179.2 255.2h45.8v5.7h-45.8zM1153.9 260.6h25.6v5.7h-25.6zM1171.6 266.1h2.8v5.7h-2.8zM1222.2 266.1h15.5v5.7h-15.5zM1176.7 271.5h30.7v5.7h-30.7zM1169.1 277h35.7v5.7h-35.7zM1176.7 282.4h30.7v5.7h-30.7zM1164 287.9h13v5.7h-13z" fill="#1affe5"/>
<path d="M1191.8 64.5h2.8v5.7h-2.8zM1242.5 64.5h5.4v5.7h-5.4zM1189.3 75.4h2.8v5.7h-2.8zM1207 75.4h2.8v5.7h-2.8zM1331 75.4h2.8v5.7h-2.8zM1346.2 75.4h2.8v5.7h-2.8zM1189.3 86.3h2.8v5.7h-2.8zM1298.1 86.3h2.8v5.7h-2.8zM1189.3 91.7h2.8v5.7h-2.8zM1184.3 97.2h2.8v5.7h-2.8zM1217.1 97.2h2.8v5.7h-2.8zM1194.4 108.1h2.8v5.7h-2.8zM1189.3 129.9h2.8v5.7h-2.8zM1191.8 135.3h2.8v5.7h-2.8zM1204.5 151.7h2.8v5.7h-2.8zM1174.1 157.1h2.8v5.7h-2.8zM1189.3 162.6h2.8v5.7h-2.8zM1234.9 162.6h2.8v5.7h-2.8zM1186.8 168h2.8v5.7h-2.8zM1227.3 168h2.8v5.7h-2.8zM1189.3 173.5h2.8v5.7h-2.8zM1260.2 173.5h2.8v5.7h-2.8zM1186.8 178.9h2.8v5.7h-2.8zM1207 178.9h2.8v5.7h-2.8zM1199.4 184.3h2.8v5.7h-2.8zM1179.2 189.8h5.4v5.7h-5.4zM1166.5 200.7h2.8v5.7h-2.8zM1234.9 200.7h2.8v5.7h-2.8zM1194.4 206.1h2.8v5.7h-2.8zM1189.3 211.6h2.8v5.7h-2.8zM1186.8 217h2.8v5.7h-2.8zM1202 217h2.8v5.7h-2.8zM1196.9 222.5h2.8v5.7h-2.8zM1227.3 222.5h2.8v5.7h-2.8zM1164 249.7h2.8v5.7h-2.8zM1232.3 255.2h2.8v5.7h-2.8zM1174.1 266.1h2.8v5.7h-2.8zM1219.7 266.1h2.8v5.7h-2.8zM1176.7 287.9h2.8v5.7h-2.8z" fill="#46ffb9"/>
<path d="M1204.5 53.6h2.8v5.7h-2.8zM1239.9 53.6h2.8v5.7h-2.8zM1217.1 59h2.8v5.7h-2.8zM1262.7 59h2.8v5.7h-2.8zM1313.3 59h2.8v5.7h-2.8zM1204.5 75.4h2.8v5.7h-2.8zM1333.5 75.4h2.8v5.7h-2.8zM1191.8 86.3h2.8v5.7h-2.8zM1234.9 86.3h2.8v5.7h-2.8zM1191.8 91.7h2.8v5.7h-2.8zM1229.8 91.7h5.4v5.7h-5.4zM1234.9 108.1h2.8v5.7h-2.8zM1227.3 119h2.8v5.7h-2.8zM1277.9 135.3h2.8v5.7h-2.8zM1224.7 151.7h2.8v5.7h-2.8zM1239.9 173.5h2.8v5.7h-2.8zM1189.3 178.9h2.8v5.7h-2.8zM1204.5 178.9h2.8v5.7h-2.8zM1174.1 184.3h2.8v5.7h-2.8zM1219.7 189.8h2.8v5.7h-2.8zM1196.9 206.1h2.8v5.7h-2.8zM1224.7 206.1h2.8v5.7h-2.8zM1191.8 211.6h2.8v5.7h-2.8zM1237.4 211.6h2.8v5.7h-2.8zM1189.3 217h2.8v5.7h-2.8zM1186.8 244.3h2.8v5.7h-2.8zM1222.2 244.3h2.8v5.7h-2.8zM1207 249.7h2.8v5.7h-2.8z" fill="#72ff8d"/>
<path d="M1199.4 59h2.8v5.7h-2.8zM1194.4 64.5h2.8v5.7h-2.8zM1257.6 86.3h2.8v5.7h-2.8zM1295.6 86.3h2.8v5.7h-2.8zM1194.4 91.7h35.7v5.7h-35.7zM1186.8 97.2h2.8v5.7h-2.8zM1214.6 97.2h2.8v5.7h-2.8zM1191.8 129.9h2.8v5.7h-2.8zM1237.4 129.9h2.8v5.7h-2.8zM1227.3 135.3h2.8v5.7h-2.8zM1260.2 135.3h2.8v5.7h-2.8zM1207 151.7h2.8v5.7h-2.8zM1219.7 157.1h5.4v5.7h-5.4zM1232.3 157.1h2.8v5.7h-2.8zM1232.3 162.6h2.8v5.7h-2.8zM1189.3 168h2.8v5.7h-2.8zM1224.7 168h2.8v5.7h-2.8zM1219.7 173.5h2.8v5.7h-2.8zM1262.7 173.5h2.8v5.7h-2.8zM1176.7 184.3h23.1v5.7h-23.1zM1184.3 189.8h2.8v5.7h-2.8zM1169.1 200.7h2.8v5.7h-2.8zM1199.4 206.1h7.9v5.7h-7.9zM1222.2 211.6h15.5v5.7h-15.5zM1199.4 217h2.8v5.7h-2.8zM1166.5 249.7h2.8v5.7h-2.8zM1247.5 255.2h2.8v5.7h-2.8zM1176.7 266.1h2.8v5.7h-2.8z" fill="#9dff62"/>
<path d="M1239.9 64.5h2.8v5.7h-2.8zM1191.8 75.4h2.8v5.7h-2.8zM1202 75.4h2.8v5.7h-2.8zM1336.1 75.4h2.8v5.7h-2.8zM1343.6 75.4h2.8v5.7h-2.8zM1232.3 108.1h2.8v5.7h-2.8zM1179.2 119h2.8v5.7h-2.8zM1196.9 119h2.8v5.7h-2.8zM1194.4 135.3h2.8v5.7h-2.8zM1224.7 135.3h2.8v5.7h-2.8zM1257.6 135.3h2.8v5.7h-2.8zM1262.7 135.3h2.8v5.7h-2.8zM1176.7 157.1h2.8v5.7h-2.8zM1224.7 157.1h2.8v5.7h-2.8zM1191.8 162.6h2.8v5.7h-2.8zM1219.7 162.6h2.8v5.7h-2.8zM1191.8 173.5h2.8v5.7h-2.8zM1217.1 173.5h2.8v5.7h-2.8zM1222.2 173.5h2.8v5.7h-2.8zM1237.4 173.5h2.8v5.7h-2.8zM1191.8 178.9h2.8v5.7h-2.8zM1202 178.9h2.8v5.7h-2.8zM1199.4 189.8h2.8v5.7h-2.8zM1232.3 200.7h2.8v5.7h-2.8zM1207 206.1h2.8v5.7h-2.8zM1222.2 206.1h2.8v5.7h-2.8zM1191.8 217h2.8v5.7h-2.8zM1224.7 222.5h2.8v5.7h-2.8zM1189.3 244.3h2.8v5.7h-2.8zM1219.7 244.3h2.8v5.7h-2.8zM1169.1 249.7h2.8v5.7h-2.8zM1204.5 249.7h2.8v5.7h-2.8zM1217.1 266.1h2.8v5.7h-2.8zM1179.2 287.9h2.8v5.7h-2.8zM1202 287.9h5.4v5.7h-5.4z" fill="#c9ff36"/>
<path d="M1207 53.6h2.8v5.7h-2.8zM1212.1 53.6h2.8v5.7h-2.8zM1227.3 53.6h5.4v5.7h-5.4zM1237.4 53.6h2.8v5.7h-2.8zM1202 59h2.8v5.7h-2.8zM1214.6 59h2.8v5.7h-2.8zM1265.2 59h7.9v5.7h-7.9zM1305.7 59h7.9v5.7h-7.9zM1196.9 64.5h2.8v5.7h-2.8zM1219.7 64.5h5.4v5.7h-5.4zM1194.4 75.4h2.8v5.7h-2.8zM1199.4 75.4h2.8v5.7h-2.8zM1338.6 75.4h5.4v5.7h-5.4zM1232.3 86.3h2.8v5.7h-2.8zM1260.2 86.3h2.8v5.7h-2.8zM1189.3 97.2h2.8v5.7h-2.8zM1212.1 97.2h2.8v5.7h-2.8zM1196.9 108.1h2.8v5.7h-2.8zM1199.4 119h5.4v5.7h-5.4zM1224.7 119h2.8v5.7h-2.8zM1214.6 129.9h5.4v5.7h-5.4zM1234.9 129.9h2.8v5.7h-2.8zM1229.8 135.3h5.4v5.7h-5.4zM1255.1 135.3h2.8v5.7h-2.8zM1275.3 135.3h2.8v5.7h-2.8zM1209.6 151.7h2.8v5.7h-2.8zM1222.2 151.7h2.8v5.7h-2.8zM1227.3 157.1h5.4v5.7h-5.4zM1222.2 162.6h2.8v5.7h-2.8zM1229.8 162.6h2.8v5.7h-2.8zM1212.1 168h5.4v5.7h-5.4zM1222.2 168h2.8v5.7h-2.8zM1224.7 173.5h2.8v5.7h-2.8zM1234.9 173.5h2.8v5.7h-2.8zM1293 173.5h2.8v5.7h-2.8zM1194.4 178.9h2.8v5.7h-2.8zM1199.4 178.9h2.8v5.7h-2.8zM1186.8 189.8h2.8v5.7h-2.8zM1196.9 189.8h2.8v5.7h-2.8zM1217.1 189.8h2.8v5.7h-2.8zM1229.8 200.7h2.8v5.7h-2.8zM1209.6 206.1h2.8v5.7h-2.8zM1194.4 217h5.4v5.7h-5.4zM1199.4 222.5h2.8v5.7h-2.8zM1191.8 244.3h2.8v5.7h-2.8zM1217.1 244.3h2.8v5.7h-2.8zM1171.6 249.7h2.8v5.7h-2.8zM1202 249.7h2.8v5.7h-2.8zM1234.9 255.2h2.8v5.7h-2.8zM1212.1 266.1h5.4v5.7h-5.4zM1181.7 287.9h2.8v5.7h-2.8zM1196.9 287.9h5.4v5.7h-5.4z" fill="#f5ff0a"/>
<path d="M1209.6 53.6h2.8v5.7h-2.8zM1214.6 53.6h2.8v5.7h-2.8zM1232.3 53.6h5.4v5.7h-5.4zM1204.5 59h10.4v5.7h-10.4zM1303.2 59h2.8v5.7h-2.8zM1199.4 64.5h20.5v5.7h-20.5zM1224.7 64.5h2.8v5.7h-2.8zM1196.9 75.4h2.8v5.7h-2.8zM1194.4 86.3h2.8v5.7h-2.8zM1293 86.3h2.8v5.7h-2.8zM1191.8 97.2h7.9v5.7h-7.9zM1229.8 108.1h2.8v5.7h-2.8zM1194.4 119h2.8v5.7h-2.8zM1204.5 119h10.4v5.7h-10.4zM1219.7 129.9h15.5v5.7h-15.5zM1234.9 135.3h20.5v5.7h-20.5zM1212.1 151.7h10.4v5.7h-10.4zM1179.2 157.1h2.8v5.7h-2.8zM1217.1 157.1h2.8v5.7h-2.8zM1217.1 162.6h2.8v5.7h-2.8zM1224.7 162.6h5.4v5.7h-5.4zM1217.1 168h5.4v5.7h-5.4zM1214.6 173.5h2.8v5.7h-2.8zM1227.3 173.5h7.9v5.7h-7.9zM1290.5 173.5h2.8v5.7h-2.8zM1196.9 178.9h2.8v5.7h-2.8zM1189.3 189.8h7.9v5.7h-7.9zM1202 189.8h2.8v5.7h-2.8zM1171.6 200.7h2.8v5.7h-2.8zM1194.4 200.7h2.8v5.7h-2.8zM1224.7 200.7h5.4v5.7h-5.4zM1212.1 206.1h10.4v5.7h-10.4zM1219.7 211.6h2.8v5.7h-2.8zM1194.4 244.3h23.1v5.7h-23.1zM1174.1 249.7h28.1v5.7h-28.1zM1209.6 266.1h2.8v5.7h-2.8zM1184.3 287.9h12.9v5.7h-12.9zM1227.3 287.9h2.8v5.7h-2.8z" fill="#ffde00"/>
<path d="M1217.1 53.6h2.8v5.7h-2.8zM1224.7 53.6h2.8v5.7h-2.8zM1272.8 59h2.8v5.7h-2.8zM1237.4 64.5h2.8v5.7h-2.8zM1199.4 97.2h2.8v5.7h-2.8zM1209.6 97.2h2.8v5.7h-2.8zM1227.3 108.1h2.8v5.7h-2.8zM1265.2 135.3h2.8v5.7h-2.8zM1194.4 162.6h2.8v5.7h-2.8zM1191.8 168h2.8v5.7h-2.8zM1209.6 168h2.8v5.7h-2.8zM1194.4 173.5h2.8v5.7h-2.8zM1265.2 173.5h2.8v5.7h-2.8zM1191.8 200.7h2.8v5.7h-2.8zM1222.2 200.7h2.8v5.7h-2.8zM1194.4 211.6h2.8v5.7h-2.8zM1245 255.2h2.8v5.7h-2.8zM1179.2 266.1h2.8v5.7h-2.8z" fill="#ffb200"/>
<path d="M1219.7 53.6h5.4v5.7h-5.4zM1227.3 64.5h10.4v5.7h-10.4zM1222.2 86.3h10.4v5.7h-10.4zM1262.7 86.3h2.8v5.7h-2.8zM1288 86.3h5.4v5.7h-5.4zM1202 97.2h7.9v5.7h-7.9zM1181.7 119h2.8v5.7h-2.8zM1214.6 119h10.4v5.7h-10.4zM1194.4 129.9h2.8v5.7h-2.8zM1212.1 129.9h2.8v5.7h-2.8zM1222.2 135.3h2.8v5.7h-2.8zM1267.8 135.3h7.9v5.7h-7.9zM1181.7 157.1h10.4v5.7h-10.4zM1196.9 173.5h18v5.7h-18zM1288 173.5h2.8v5.7h-2.8zM1204.5 189.8h12.9v5.7h-12.9zM1174.1 200.7h18v5.7h-18zM1196.9 200.7h2.8v5.7h-2.8zM1237.4 255.2h7.9v5.7h-7.9zM1207 287.9h2.8v5.7h-2.8z" fill="#ff8600"/>
<path d="M1275.3 59h2.8v5.7h-2.8zM1300.6 59h2.8v5.7h-2.8zM1265.2 86.3h2.8v5.7h-2.8zM1282.9 86.3h5.4v5.7h-5.4zM1191.8 119h2.8v5.7h-2.8zM1196.9 135.3h2.8v5.7h-2.8zM1191.8 157.1h2.8v5.7h-2.8zM1214.6 157.1h2.8v5.7h-2.8zM1222.2 222.5h2.8v5.7h-2.8zM1224.7 287.9h2.8v5.7h-2.8z" fill="#ff5b00"/>
<path d="M1280.4 86.3h2.8v5.7h-2.8zM1224.7 108.1h2.8v5.7h-2.8zM1194.4 157.1h2.8v5.7h-2.8zM1196.9 162.6h2.8v5.7h-2.8zM1194.4 168h2.8v5.7h-2.8zM1207 168h2.8v5.7h-2.8zM1267.8 173.5h2.8v5.7h-2.8zM1285.5 173.5h2.8v5.7h-2.8zM1207 266.1h2.8v5.7h-2.8zM1209.6 287.9h2.8v5.7h-2.8z" fill="#ff2f00"/>
<path d="M1277.9 59h23.1v5.7h-23.1zM1219.7 86.3h2.8v5.7h-2.8zM1267.8 86.3h12.9v5.7h-12.9zM1199.4 108.1h2.8v5.7h-2.8zM1184.3 119h7.9v5.7h-7.9zM1214.6 162.6h2.8v5.7h-2.8zM1196.9 168h10.4v5.7h-10.4zM1270.3 173.5h15.5v5.7h-15.5zM1217.1 211.6h2.8v5.7h-2.8zM1202 222.5h2.8v5.7h-2.8zM1212.1 287.9h13v5.7h-13z" fill="#ff0300"/>
<path d="M1196.9 86.3h2.8v5.7h-2.8zM1199.4 200.7h2.8v5.7h-2.8zM1219.7 200.7h2.8v5.7h-2.8zM1196.9 211.6h2.8v5.7h-2.8z" fill="#d70000"/>
<path d="M1209.6 129.9h2.8v5.7h-2.8zM1219.7 135.3h2.8v5.7h-2.8zM1212.1 157.1h2.8v5.7h-2.8zM1181.7 266.1h2.8v5.7h-2.8z" fill="#ab0000"/>
<path d="M1199.4 86.3h20.5v5.7h-20.5zM1202 108.1h23.1v5.7h-23.1zM1196.9 129.9h13v5.7h-13zM1199.4 135.3h20.5v5.7h-20.5zM1196.9 157.1h15.5v5.7h-15.5zM1199.4 162.6h15.5v5.7h-15.5zM1202 200.7h18v5.7h-18zM1199.4 211.6h18v5.7h-18zM1204.5 222.5h18v5.7h-18zM1184.3 266.1h23.1v5.7h-23.1z" fill="#800000"/>
<line x1="1103.3" y1="53.6" x2="1356.3" y2="53.6" stroke="#222" stroke-width="2"/>
<line x1="1103.3" y1="293.3" x2="1356.3" y2="293.3" stroke="#222" stroke-width="2"/>
<line x1="1103.3" y1="53.6" x2="1103.3" y2="293.3" stroke="#222" stroke-width="2"/>
<line x1="1356.3" y1="53.6" x2="1356.3" y2="293.3" stroke="#222" stroke-width="2"/>
<line x1="1103.3" y1="47.1" x2="1103.3" y2="53.6" stroke="#222" stroke-width="2"/>
<line x1="1103.3" y1="293.3" x2="1103.3" y2="299.8" stroke="#222" stroke-width="2"/>
<line x1="1153.9" y1="47.1" x2="1153.9" y2="53.6" stroke="#222" stroke-width="2"/>
<line x1="1153.9" y1="293.3" x2="1153.9" y2="299.8" stroke="#222" stroke-width="2"/>
<line x1="1356.3" y1="47.1" x2="1356.3" y2="53.6" stroke="#222" stroke-width="2"/>
<line x1="1356.3" y1="293.3" x2="1356.3" y2="299.8" stroke="#222" stroke-width="2"/>
<line x1="1096.8" y1="56.3" x2="1103.3" y2="56.3" stroke="#222" stroke-width="2"/>
<line x1="1356.3" y1="56.3" x2="1362.8" y2="56.3" stroke="#222" stroke-width="2"/>
<text x="1094" y="65.7" text-anchor="end">44</text>
<text x="1110.6" y="40.5">Bat 1</text>
<text x="1356" y="40" text-anchor="end">12.4 Hz</text>
<line x1="1153.9" y1="326.7" x2="1153.9" y2="459" stroke="#a0a0a0" stroke-width="2.6"/>
<polyline points="1103.4,429.7 1104.9,431.4 1106.4,433 1107.9,434.7 1109.4,436.3 1110.9,437.9 1112.4,439.5 1113.9,441 1115.4,442.5 1116.9,443.9 1118.4,445.3 1119.9,446.6 1121.4,447.8 1122.9,448.9 1124.4,449.9 1125.9,450.8 1127.4,451.6 1128.9,452.2 1130.4,452.7 1131.9,452.9 1133.4,453.1 1134.9,453 1136.4,452.6 1137.9,452.1 1139.4,451.2 1140.9,450.1 1142.4,448.6 1143.9,446.9 1145.4,444.9 1146.9,442.9 1148.4,440.7 1149.9,438.5 1151.4,436.4 1152.9,434.5 1154.4,432.7 1155.9,431 1157.4,429.4 1158.9,427.8 1160.4,426.1 1161.9,424.2 1163.4,422.2 1164.9,419.9 1166.4,417.4 1167.9,414.6 1169.4,411.8 1170.9,408.9 1172.4,405.8 1173.9,402.8 1175.4,399.8 1176.9,396.7 1178.4,393.7 1179.9,390.7 1181.4,387.7 1182.9,384.7 1184.4,381.8 1185.9,378.9 1187.4,375.9 1188.9,373 1190.4,370.1 1191.9,367 1193.4,364 1194.9,360.8 1196.4,357.6 1197.9,354.4 1199.4,351.3 1200.9,348.4 1202.4,345.9 1203.9,343.9 1205.4,342.3 1206.9,341.3 1208.4,340.9 1209.9,341 1211.4,341.7 1212.9,343 1214.4,344.8 1215.9,347.1 1217.4,349.8 1218.9,353 1220.4,356.4 1221.9,360 1223.4,363.7 1224.9,367.3 1226.4,370.9 1227.9,374.4 1229.4,377.8 1230.9,380.9 1232.4,383.9 1233.9,386.6 1235.4,389 1236.9,391.2 1238.4,393.3 1239.9,395.4 1241.4,397.5 1242.9,399.7 1244.4,402.3 1245.9,405.1 1247.4,408.2 1248.9,411.4 1250.4,414.5 1251.9,417.4 1253.4,420 1254.9,422 1256.4,423.3 1257.9,423.9 1259.4,424 1260.9,423.6 1262.4,422.8 1263.9,421.7 1265.4,420.5 1266.9,419.2 1268.4,418.1 1269.9,417.2 1271.4,416.6 1272.9,416.3 1274.4,416.1 1275.9,416 1277.4,415.9 1278.9,415.8 1280.4,415.5 1281.9,415 1283.4,414.4 1284.9,413.7 1286.4,413 1287.9,412.4 1289.4,412 1290.9,411.9 1292.4,412.2 1293.9,412.7 1295.4,413.6 1296.9,414.6 1298.4,415.7 1299.9,416.9 1301.4,418.1 1302.9,419.3 1304.4,420.3 1305.9,421.2 1307.4,421.8 1308.9,422.3 1310.4,422.7 1311.9,423.1 1313.4,423.5 1314.9,424 1316.4,424.6 1317.9,425.4 1319.4,426.2 1320.9,427.1 1322.4,428 1323.9,428.8 1325.4,429.4 1326.9,429.8 1328.4,429.9 1329.9,429.8 1331.4,429.5 1332.9,429.1 1334.4,428.5 1335.9,427.8 1337.4,427 1338.9,426.2 1339,426.2" fill="none" stroke="#000" stroke-width="2.4" stroke-linejoin="round"/>
<rect x="1188" y="326.7" width="37.6" height="132.3" fill="#00ff00" fill-opacity="0.2"/>
<line x1="1103.3" y1="326.7" x2="1103.3" y2="460" stroke="#222" stroke-width="2"/>
<line x1="1102.3" y1="459" x2="1356.3" y2="459" stroke="#222" stroke-width="2"/>
<line x1="1103.3" y1="459" x2="1103.3" y2="462.5" stroke="#222" stroke-width="2"/>
<line x1="1153.9" y1="459" x2="1153.9" y2="462.5" stroke="#222" stroke-width="2"/>
<line x1="1356.3" y1="459" x2="1356.3" y2="462.5" stroke="#222" stroke-width="2"/>
<line x1="1099.8" y1="326.7" x2="1103.3" y2="326.7" stroke="#222" stroke-width="2"/>
<text x="1094.3" y="336.1" text-anchor="end">7</text>
<line x1="1153.9" y1="492.3" x2="1153.9" y2="624.6" stroke="#a0a0a0" stroke-width="2"/>
<polygon points="1103.4,598.1 1104.2,599.4 1105,600.3 1105.8,599.8 1106.6,600.3 1107.4,602.2 1108.2,602.3 1109,600.9 1109.8,599.7 1110.6,599.5 1111.4,600.1 1112.2,600.4 1113,601 1113.8,600.6 1114.6,598.7 1115.4,598.4 1116.2,599.7 1117,599.4 1117.8,594.9 1118.6,590.7 1119.4,585.4 1120.2,579.5 1121,575.6 1121.8,571.6 1122.6,565.1 1123.4,558.2 1124.2,552.5 1125,550.4 1125.8,553.5 1126.6,556.2 1127.4,558.4 1128.2,559.5 1129,559.7 1129.8,560.9 1130.6,563.7 1131.4,564.7 1132.2,564.4 1133,564.7 1133.8,562.9 1134.6,561.1 1135.4,560.6 1136.2,560.8 1137,560.7 1137.8,560 1138.6,559.5 1139.4,560.6 1140.2,562.6 1141,563.5 1141.8,562.2 1142.6,560.3 1143.4,559.8 1144.2,560 1145,560.8 1145.8,560.5 1146.6,557.9 1147.4,554 1148.2,549.7 1149,547.7 1149.8,559.2 1150.6,571.9 1151.4,563.3 1152.2,551.9 1153,540.4 1153.8,521.5 1154.6,501 1155.4,495.3 1156.2,500.1 1157,505.4 1157.8,511.2 1158.6,537.2 1159.4,563.2 1160.2,589.7 1161,603.4 1161.8,603.3 1162.6,604.3 1163.4,606 1164.2,605.9 1165,604.9 1165.8,605.2 1166.6,606 1167.4,606.6 1168.2,606.8 1169,606.6 1169.8,607.2 1170.6,608 1171.4,608 1172.2,607.3 1173,606.6 1173.8,606.3 1174.6,606.7 1175.4,606.7 1176.2,606.4 1177,606.3 1177.8,605.9 1178.6,606.5 1179.4,607.5 1180.2,608.8 1181,609.6 1181.8,610.7 1182.6,611 1183.4,610.1 1184.2,609.3 1185,609 1185.8,609.5 1186.6,609.8 1187.4,609.3 1188.2,609.2 1189,609.7 1189.8,610.9 1190.6,611.8 1191.4,612 1192.2,610.9 1193,610.4 1193.8,610.9 1194.6,611.2 1195.4,610.9 1196.2,610.6 1197,610.5 1197.8,610.6 1198.6,610.6 1199.4,610.6 1200.2,610.9 1201,610.8 1201.8,610.9 1202.6,612.4 1203.4,612.7 1204.2,610.6 1205,610.2 1205.8,610.5 1206.6,610.6 1207.4,612 1208.2,613.5 1209,612.1 1209.8,609.8 1210.6,610.7 1211.4,612.7 1212.2,610.8 1213,609.4 1213.8,610.3 1214.6,612.8 1215.4,615.4 1216.2,614.4 1217,613.2 1217.8,611.9 1218.6,610.6 1219.4,609.6 1220.2,610.4 1221,611.4 1221.8,611.9 1222.6,613.1 1223.4,613.5 1224.2,613.5 1225,613.4 1225.8,612.3 1226.6,612.2 1227.4,612.5 1228.2,612.2 1229,611.9 1229.8,611.9 1230.6,613 1231.4,613.7 1232.2,611.6 1233,610.7 1233.8,611.2 1234.6,611.4 1235.4,611.3 1236.2,610.8 1237,611.1 1237.8,612 1238.6,610.9 1239.4,609.5 1240.2,609 1241,608 1241.8,607.1 1242.6,607.1 1243.4,609 1244.2,611.6 1245,613.4 1245.8,612.2 1246.6,610.1 1247.4,606.7 1248.2,606.2 1249,608.2 1249.8,610.8 1250.6,610.3 1251.4,607.1 1252.2,602.4 1253,600 1253.8,601.1 1254.6,601.4 1255.4,600.3 1256.2,601.1 1257,601.3 1257.8,602 1258.6,604.4 1259.4,603.1 1260.2,601.6 1261,602.3 1261.8,603.4 1262.6,601.7 1263.4,601.1 1264.2,601.6 1265,599 1265.8,598.5 1266.6,597.7 1267.4,598.3 1268.2,600.6 1269,600.6 1269.8,600.4 1270.6,599.6 1271.4,597.1 1272.2,592.5 1273,591.1 1273.8,593.6 1274.6,596.6 1275.4,598.4 1276.2,598 1277,595.9 1277.8,592.8 1278.6,592.3 1279.4,596.7 1280.2,596.6 1281,593.8 1281.8,594.7 1282.6,596.1 1283.4,596.7 1284.2,598.2 1285,595.7 1285.8,593.6 1286.6,592.3 1287.4,587.7 1288.2,587.9 1289,589.9 1289.8,585.2 1290.6,581.7 1291.4,582.2 1292.2,583.4 1293,585 1293.8,585.6 1294.6,585.2 1295.4,584.4 1296.2,587.4 1297,589 1297.8,588 1298.6,586.1 1299.4,585.5 1300.2,584.2 1301,584.5 1301.8,583.8 1302.6,580.4 1303.4,582.8 1304.2,582.7 1305,579.5 1305.8,581.6 1306.6,582.5 1307.4,581.6 1308.2,583.6 1309,584.9 1309.8,583.2 1310.6,582.6 1311.4,585.4 1312.2,586.1 1313,583 1313.8,581.8 1314.6,582.9 1315.4,581.9 1316.2,577.7 1317,574.5 1317.8,573 1318.6,572.6 1319.4,572.2 1320.2,575.1 1321,577.7 1321.8,580.2 1322.6,578.2 1323.4,575.2 1324.2,573.3 1325,572.7 1325.8,573.2 1326.6,574.6 1327.4,572.3 1328.2,573.9 1329,575.9 1329.8,573.6 1330.6,572.8 1331.4,574.7 1332.2,580.7 1333,586 1333.8,588.9 1334.6,587.9 1335.4,585.5 1336.2,582.3 1337,581.7 1337.8,587.3 1338.6,590.3 1339.4,587.6 1340.2,584.9 1341,580.7 1341.8,562.7 1342.6,543.7 1343.4,528.4 1344.2,513.7 1345,520.5 1345.8,532.8 1346.6,553.5 1347.4,573.8 1348.2,576.3 1349,577.9 1349.8,576.3 1350.6,575.6 1351.4,579.2 1352.2,578.9 1353,578.9 1353.8,581.2 1354.6,584 1355.4,587.8 1356.2,593.2 1356.2,602 1355.4,598.7 1354.6,599.5 1353.8,601.2 1353,599 1352.2,593.9 1351.4,587.3 1350.6,587.8 1349.8,591.8 1349,595.8 1348.2,596.3 1347.4,594 1346.6,571.4 1345.8,546.8 1345,530.7 1344.2,521.4 1343.4,536 1342.6,551.5 1341.8,571.9 1341,593 1340.2,598.2 1339.4,598.6 1338.6,598.4 1337.8,600.2 1337,597.6 1336.2,597.4 1335.4,597.8 1334.6,597.6 1333.8,596.7 1333,595.8 1332.2,594.7 1331.4,592.9 1330.6,593 1329.8,593.6 1329,594.3 1328.2,588.8 1327.4,582.5 1326.6,583.3 1325.8,586.4 1325,592.9 1324.2,597.8 1323.4,598.1 1322.6,593.4 1321.8,590.3 1321,596.1 1320.2,597.2 1319.4,594.4 1318.6,592.2 1317.8,587.9 1317,584.2 1316.2,585.8 1315.4,590.8 1314.6,592.3 1313.8,591.7 1313,592.1 1312.2,594 1311.4,593.9 1310.6,593.1 1309.8,595.1 1309,596.9 1308.2,594.2 1307.4,590 1306.6,590.4 1305.8,592.8 1305,595.7 1304.2,601.4 1303.4,600.3 1302.6,595.1 1301.8,596.3 1301,594.9 1300.2,592.5 1299.4,593 1298.6,594.1 1297.8,597.9 1297,601.2 1296.2,602.3 1295.4,599.9 1294.6,596.1 1293.8,597.4 1293,603.2 1292.2,603.9 1291.4,602.5 1290.6,600.5 1289.8,599.9 1289,598.6 1288.2,598.2 1287.4,599.9 1286.6,604.9 1285.8,606.5 1285,607.3 1284.2,606.6 1283.4,604 1282.6,604.1 1281.8,606.3 1281,606.6 1280.2,606.8 1279.4,604 1278.6,603.8 1277.8,606.1 1277,607.9 1276.2,606.9 1275.4,605.1 1274.6,604.5 1273.8,605 1273,605.2 1272.2,606.6 1271.4,609.2 1270.6,609.4 1269.8,608.7 1269,607.7 1268.2,608.1 1267.4,609.8 1266.6,612.1 1265.8,612 1265,608.6 1264.2,608.1 1263.4,609.9 1262.6,609.9 1261.8,609.4 1261,610.2 1260.2,609.6 1259.4,610.2 1258.6,610.3 1257.8,609.8 1257,609.9 1256.2,609.3 1255.4,608.9 1254.6,612.3 1253.8,614.5 1253,613.5 1252.2,613.7 1251.4,616.1 1250.6,617.8 1249.8,617 1249,613.9 1248.2,613.4 1247.4,614.1 1246.6,615.9 1245.8,617.9 1245,618.6 1244.2,619.2 1243.4,619.1 1242.6,617.6 1241.8,616.3 1241,615.2 1240.2,614.4 1239.4,614.8 1238.6,616.3 1237.8,616.8 1237,616.8 1236.2,616.4 1235.4,616.5 1234.6,618.5 1233.8,619.1 1233,618.1 1232.2,617.8 1231.4,618.5 1230.6,618.6 1229.8,618.4 1229,618.9 1228.2,619.1 1227.4,618.5 1226.6,617.7 1225.8,618.3 1225,619.8 1224.2,619.5 1223.4,618.8 1222.6,618.6 1221.8,618.6 1221,619.3 1220.2,619.1 1219.4,618.3 1218.6,618.6 1217.8,618.3 1217,618 1216.2,620.5 1215.4,620.3 1214.6,620.2 1213.8,620.7 1213,620.3 1212.2,619.5 1211.4,617.9 1210.6,618 1209.8,618.8 1209,620.3 1208.2,619.5 1207.4,617.2 1206.6,617.5 1205.8,619.3 1205,620 1204.2,619.2 1203.4,618.4 1202.6,618.4 1201.8,617.6 1201,616.5 1200.2,615.8 1199.4,615.9 1198.6,615.6 1197.8,616.3 1197,617.9 1196.2,618.7 1195.4,617.7 1194.6,616.3 1193.8,615.5 1193,616 1192.2,617.8 1191.4,619.7 1190.6,619 1189.8,617 1189,614.9 1188.2,615.1 1187.4,616.7 1186.6,618.4 1185.8,617.7 1185,615.7 1184.2,614.4 1183.4,615.3 1182.6,617.6 1181.8,618.4 1181,618 1180.2,617.6 1179.4,616.6 1178.6,615.6 1177.8,615 1177,615.8 1176.2,616.5 1175.4,616.2 1174.6,614.7 1173.8,612.7 1173,611.9 1172.2,611.9 1171.4,612.9 1170.6,612.7 1169.8,611.9 1169,611.6 1168.2,611.7 1167.4,611.3 1166.6,610.9 1165.8,609.9 1165,609.6 1164.2,610.9 1163.4,611.7 1162.6,610.5 1161.8,609.4 1161,609.6 1160.2,596.4 1159.4,570.4 1158.6,544.5 1157.8,519.1 1157,513.9 1156.2,508.5 1155.4,502.4 1154.6,506.6 1153.8,526.1 1153,545.3 1152.2,557.9 1151.4,570.7 1150.6,580.4 1149.8,568.1 1149,556.2 1148.2,557.4 1147.4,560.3 1146.6,562.8 1145.8,565.5 1145,567.6 1144.2,568.6 1143.4,568.2 1142.6,566.6 1141.8,567 1141,568.4 1140.2,568.2 1139.4,567.7 1138.6,567.4 1137.8,568 1137,569 1136.2,570.1 1135.4,570.9 1134.6,570.7 1133.8,570 1133,569.9 1132.2,571.7 1131.4,573.6 1130.6,573.3 1129.8,570.9 1129,569.1 1128.2,567.4 1127.4,564.4 1126.6,561.3 1125.8,559 1125,556.5 1124.2,558.6 1123.4,564 1122.6,570.3 1121.8,576.2 1121,580.4 1120.2,584.4 1119.4,590.7 1118.6,596.7 1117.8,601 1117,605.1 1116.2,605.1 1115.4,604 1114.6,604.6 1113.8,606.6 1113,606.9 1112.2,606.2 1111.4,605.8 1110.6,605 1109.8,604.8 1109,605.8 1108.2,606.9 1107.4,607.6 1106.6,606.7 1105.8,606.3 1105,606.7 1104.2,606.7 1103.4,606.4" fill="#b0b0b0"/>
<polyline points="1103.4,602.2 1104.2,603.1 1105,603.5 1105.8,603.1 1106.6,603.5 1107.4,604.9 1108.2,604.6 1109,603.3 1109.8,602.2 1110.6,602.3 1111.4,602.9 1112.2,603.3 1113,604 1113.8,603.6 1114.6,601.7 1115.4,601.2 1116.2,602.4 1117,602.2 1117.8,598 1118.6,593.7 1119.4,588 1120.2,581.9 1121,578 1121.8,573.9 1122.6,567.7 1123.4,561.1 1124.2,555.6 1125,553.4 1125.8,556.2 1126.6,558.7 1127.4,561.4 1128.2,563.4 1129,564.4 1129.8,565.9 1130.6,568.5 1131.4,569.2 1132.2,568 1133,567.3 1133.8,566.4 1134.6,565.9 1135.4,565.8 1136.2,565.4 1137,564.9 1137.8,564 1138.6,563.5 1139.4,564.1 1140.2,565.4 1141,566 1141.8,564.6 1142.6,563.4 1143.4,564 1144.2,564.3 1145,564.2 1145.8,563 1146.6,560.4 1147.4,557.1 1148.2,553.5 1149,552 1149.8,563.7 1150.6,576.2 1151.4,567 1152.2,554.9 1153,542.8 1153.8,523.8 1154.6,503.8 1155.4,498.8 1156.2,504.3 1157,509.6 1157.8,515.2 1158.6,540.9 1159.4,566.8 1160.2,593.1 1161,606.5 1161.8,606.4 1162.6,607.4 1163.4,608.9 1164.2,608.4 1165,607.3 1165.8,607.5 1166.6,608.4 1167.4,608.9 1168.2,609.2 1169,609.1 1169.8,609.5 1170.6,610.3 1171.4,610.4 1172.2,609.6 1173,609.2 1173.8,609.5 1174.6,610.7 1175.4,611.5 1176.2,611.5 1177,611 1177.8,610.4 1178.6,611.1 1179.4,612 1180.2,613.2 1181,613.8 1181.8,614.6 1182.6,614.3 1183.4,612.7 1184.2,611.9 1185,612.3 1185.8,613.6 1186.6,614.1 1187.4,613 1188.2,612.1 1189,612.3 1189.8,613.9 1190.6,615.4 1191.4,615.9 1192.2,614.3 1193,613.2 1193.8,613.2 1194.6,613.7 1195.4,614.3 1196.2,614.7 1197,614.2 1197.8,613.4 1198.6,613.1 1199.4,613.2 1200.2,613.4 1201,613.6 1201.8,614.3 1202.6,615.4 1203.4,615.6 1204.2,614.9 1205,615.1 1205.8,614.9 1206.6,614 1207.4,614.6 1208.2,616.5 1209,616.2 1209.8,614.3 1210.6,614.3 1211.4,615.3 1212.2,615.1 1213,614.8 1213.8,615.5 1214.6,616.5 1215.4,617.8 1216.2,617.4 1217,615.6 1217.8,615.1 1218.6,614.6 1219.4,614 1220.2,614.7 1221,615.4 1221.8,615.3 1222.6,615.8 1223.4,616.1 1224.2,616.5 1225,616.6 1225.8,615.3 1226.6,614.9 1227.4,615.5 1228.2,615.6 1229,615.4 1229.8,615.1 1230.6,615.8 1231.4,616.1 1232.2,614.7 1233,614.4 1233.8,615.2 1234.6,614.9 1235.4,613.9 1236.2,613.6 1237,613.9 1237.8,614.4 1238.6,613.6 1239.4,612.2 1240.2,611.7 1241,611.6 1241.8,611.7 1242.6,612.4 1243.4,614 1244.2,615.4 1245,616 1245.8,615 1246.6,613 1247.4,610.4 1248.2,609.8 1249,611.1 1249.8,613.9 1250.6,614.1 1251.4,611.6 1252.2,608.1 1253,606.8 1253.8,607.8 1254.6,606.9 1255.4,604.6 1256.2,605.2 1257,605.6 1257.8,605.9 1258.6,607.3 1259.4,606.7 1260.2,605.6 1261,606.2 1261.8,606.4 1262.6,605.8 1263.4,605.5 1264.2,604.8 1265,603.8 1265.8,605.2 1266.6,604.9 1267.4,604.1 1268.2,604.3 1269,604.2 1269.8,604.6 1270.6,604.5 1271.4,603.2 1272.2,599.6 1273,598.1 1273.8,599.3 1274.6,600.5 1275.4,601.8 1276.2,602.4 1277,601.9 1277.8,599.4 1278.6,598 1279.4,600.3 1280.2,601.7 1281,600.2 1281.8,600.5 1282.6,600.1 1283.4,600.3 1284.2,602.4 1285,601.5 1285.8,600.1 1286.6,598.6 1287.4,593.8 1288.2,593.1 1289,594.3 1289.8,592.6 1290.6,591.1 1291.4,592.4 1292.2,593.6 1293,594.1 1293.8,591.5 1294.6,590.7 1295.4,592.2 1296.2,594.9 1297,595.1 1297.8,593 1298.6,590.1 1299.4,589.2 1300.2,588.3 1301,589.7 1301.8,590 1302.6,587.8 1303.4,591.6 1304.2,592 1305,587.6 1305.8,587.2 1306.6,586.4 1307.4,585.8 1308.2,588.9 1309,590.9 1309.8,589.2 1310.6,587.9 1311.4,589.7 1312.2,590 1313,587.6 1313.8,586.7 1314.6,587.6 1315.4,586.4 1316.2,581.7 1317,579.4 1317.8,580.5 1318.6,582.4 1319.4,583.3 1320.2,586.2 1321,586.9 1321.8,585.2 1322.6,585.8 1323.4,586.7 1324.2,585.5 1325,582.8 1325.8,579.8 1326.6,579 1327.4,577.4 1328.2,581.4 1329,585.1 1329.8,583.6 1330.6,582.9 1331.4,583.8 1332.2,587.7 1333,590.9 1333.8,592.8 1334.6,592.8 1335.4,591.7 1336.2,589.9 1337,589.7 1337.8,593.7 1338.6,594.3 1339.4,593.1 1340.2,591.5 1341,586.9 1341.8,567.3 1342.6,547.6 1343.4,532.2 1344.2,517.6 1345,525.6 1345.8,539.8 1346.6,562.5 1347.4,583.9 1348.2,586.3 1349,586.8 1349.8,584.1 1350.6,581.7 1351.4,583.3 1352.2,586.4 1353,588.9 1353.8,591.2 1354.6,591.8 1355.4,593.3 1356.2,597.6" fill="none" stroke="#000" stroke-width="2.4" stroke-linejoin="round"/>
<rect x="1188" y="492.3" width="37.6" height="132.3" fill="#00ff00" fill-opacity="0.2"/>
<line x1="1103.3" y1="492.3" x2="1103.3" y2="625.6" stroke="#222" stroke-width="2"/>
<line x1="1102.3" y1="624.6" x2="1356.3" y2="624.6" stroke="#222" stroke-width="2"/>
<line x1="1103.3" y1="624.6" x2="1103.3" y2="628.1" stroke="#222" stroke-width="2"/>
<line x1="1153.9" y1="624.6" x2="1153.9" y2="628.1" stroke="#222" stroke-width="2"/>
<line x1="1356.3" y1="624.6" x2="1356.3" y2="628.1" stroke="#222" stroke-width="2"/>
<line x1="1099.8" y1="513.5" x2="1103.3" y2="513.5" stroke="#222" stroke-width="2"/>
<text x="1094.3" y="522.9" text-anchor="end">1</text>
<line x1="1099.8" y1="624.6" x2="1103.3" y2="624.6" stroke="#222" stroke-width="2"/>
<text x="1094.3" y="634" text-anchor="end">0</text>
<text x="1101.8" y="661.8" text-anchor="middle">-2</text>
<text x="1153.9" y="661.8" text-anchor="middle">0</text>
<text x="1356.8" y="661.8" text-anchor="middle">8</text>
<text x="1254.8" y="669.5" text-anchor="middle">Time from</text>
<text x="1254.8" y="705.6" text-anchor="middle">landing (s)</text>
<path d="M1433.3 53.6H1686.3v5.8H1433.3zM1433.3 59H1686.3v5.8H1433.3zM1433.3 64.5H1686.3v5.8H1433.3zM1433.3 69.9H1686.3v5.8H1433.3zM1433.3 75.4H1686.3v5.8H1433.3zM1433.3 80.8H1683.8v5.8H1433.3zM1433.3 86.3H1677.7v5.8H1433.3zM1433.3 91.7H1673.4v5.8H1433.3zM1433.3 97.2H1670.4v5.8H1433.3zM1433.3 102.6H1667.6v5.8H1433.3zM1433.3 108.1H1666.1v5.8H1433.3zM1433.3 113.5H1657.5v5.8H1433.3zM1433.3 119H1648.6v5.8H1433.3zM1433.3 124.4H1648.6v5.8H1433.3zM1433.3 129.9H1644.3v5.8H1433.3zM1433.3 135.3H1638.5v5.8H1433.3zM1433.3 140.8H1638.2v5.8H1433.3zM1433.3 146.2H1637.9v5.8H1433.3zM1433.3 151.7H1637.5v5.8H1433.3zM1433.3 157.1H1637.2v5.8H1433.3zM1433.3 162.6H1635.7v5.8H1433.3zM1433.3 168H1634.2v5.8H1433.3zM1433.3 173.5H1628.4v5.8H1433.3zM1433.3 178.9H1625.6v5.8H1433.3zM1433.3 184.3H1623v5.8H1433.3zM1433.3 189.8H1619.8v5.8H1433.3zM1433.3 195.2H1619.8v5.8H1433.3zM1433.3 200.7H1619.8v5.8H1433.3zM1433.3 206.1H1613.9v5.8H1433.3zM1433.3 211.6H1613.9v5.8H1433.3zM1433.3 217H1610.9v5.8H1433.3zM1433.3 222.5H1608.9v5.8H1433.3zM1433.3 227.9H1595.7v5.8H1433.3zM1433.3 233.4H1594.7v5.8H1433.3zM1433.3 238.8H1593.7v5.8H1433.3zM1433.3 244.3H1589.1v5.8H1433.3zM1433.3 249.7H1586.4v5.8H1433.3zM1433.3 255.2H1585.1v5.8H1433.3zM1433.3 260.6H1583.6v5.8H1433.3zM1433.3 266.1H1581.3v5.8H1433.3zM1433.3 271.5H1578.5v5.8H1433.3zM1433.3 277H1571.9v5.8H1433.3zM1433.3 282.4H1564.6v5.8H1433.3zM1433.3 287.9H1560.3v5.8H1433.3z" fill="#00008f"/>
<path d="M1438.4 53.6h2.8v5.7h-2.8zM1466.2 53.6h15.5v5.7h-15.5zM1564.9 53.6h2.8v5.7h-2.8zM1590.2 53.6h2.8v5.7h-2.8zM1600.3 53.6h5.4v5.7h-5.4zM1640.8 53.6h5.4v5.7h-5.4zM1453.5 59h25.6v5.7h-25.6zM1547.1 59h2.8v5.7h-2.8zM1590.2 59h2.8v5.7h-2.8zM1597.8 59h5.4v5.7h-5.4zM1676.2 59h2.8v5.7h-2.8zM1592.7 64.5h15.5v5.7h-15.5zM1661 64.5h25.6v5.7h-25.6zM1446 69.9h2.8v5.7h-2.8zM1476.3 69.9h2.8v5.7h-2.8zM1524.4 69.9h2.8v5.7h-2.8zM1650.9 69.9h10.4v5.7h-10.4zM1433.3 75.4h20.5v5.7h-20.5zM1473.8 75.4h2.8v5.7h-2.8zM1499.1 75.4h20.5v5.7h-20.5zM1524.4 75.4h2.8v5.7h-2.8zM1633.2 75.4h5.4v5.7h-5.4zM1521.8 80.8h7.9v5.7h-7.9zM1592.7 80.8h5.4v5.7h-5.4zM1607.9 80.8h2.8v5.7h-2.8zM1638.2 80.8h2.8v5.7h-2.8zM1458.6 86.3h28.1v5.7h-28.1zM1567.4 86.3h35.7v5.7h-35.7zM1635.7 86.3h2.8v5.7h-2.8zM1433.3 91.7h13v5.7h-13zM1486.4 91.7h43.3v5.7h-43.3zM1600.3 91.7h5.4v5.7h-5.4zM1623 91.7h2.8v5.7h-2.8zM1663.5 91.7h2.8v5.7h-2.8zM1590.2 97.2h2.8v5.7h-2.8zM1433.3 102.6h15.5v5.7h-15.5zM1544.6 102.6h5.4v5.7h-5.4zM1592.7 102.6h2.8v5.7h-2.8zM1458.6 108.1h2.8v5.7h-2.8zM1486.4 108.1h5.4v5.7h-5.4zM1592.7 108.1h5.4v5.7h-5.4zM1645.8 108.1h7.9v5.7h-7.9zM1435.8 113.5h2.8v5.7h-2.8zM1466.2 113.5h2.8v5.7h-2.8zM1519.3 113.5h2.8v5.7h-2.8zM1607.9 113.5h2.8v5.7h-2.8zM1638.2 113.5h20.5v5.7h-20.5zM1547.1 119h10.4v5.7h-10.4zM1590.2 119h2.8v5.7h-2.8zM1521.8 124.4h5.4v5.7h-5.4zM1607.9 124.4h2.8v5.7h-2.8zM1489 129.9h40.8v5.7h-40.8zM1564.9 129.9h2.8v5.7h-2.8zM1628.1 129.9h2.8v5.7h-2.8zM1549.7 135.3h2.8v5.7h-2.8zM1600.3 135.3h18v5.7h-18zM1633.2 135.3h5.4v5.7h-5.4zM1468.7 140.8h25.6v5.7h-25.6zM1526.9 140.8h5.4v5.7h-5.4zM1519.3 146.2h114.2v5.7h-114.2zM1524.4 151.7h7.9v5.7h-7.9zM1433.3 157.1h33.2v5.7h-33.2zM1526.9 157.1h7.9v5.7h-7.9zM1602.8 157.1h7.9v5.7h-7.9zM1438.4 162.6h2.8v5.7h-2.8zM1473.8 162.6h2.8v5.7h-2.8zM1521.8 162.6h23.1v5.7h-23.1zM1612.9 162.6h2.8v5.7h-2.8zM1451 168h2.8v5.7h-2.8zM1473.8 168h7.9v5.7h-7.9zM1544.6 168h28.1v5.7h-28.1zM1612.9 168h2.8v5.7h-2.8zM1618 168h2.8v5.7h-2.8zM1456.1 173.5h2.8v5.7h-2.8zM1501.6 173.5h2.8v5.7h-2.8zM1539.6 173.5h2.8v5.7h-2.8zM1496.5 178.9h15.5v5.7h-15.5zM1595.2 178.9h2.8v5.7h-2.8zM1433.3 184.3h20.5v5.7h-20.5zM1481.4 184.3h2.8v5.7h-2.8zM1496.5 184.3h13v5.7h-13zM1562.3 184.3h7.9v5.7h-7.9zM1451 189.8h15.5v5.7h-15.5zM1587.6 189.8h5.4v5.7h-5.4zM1453.5 195.2h25.6v5.7h-25.6zM1532 195.2h2.8v5.7h-2.8zM1587.6 195.2h2.8v5.7h-2.8zM1468.7 200.7h2.8v5.7h-2.8zM1494 200.7h2.8v5.7h-2.8zM1524.4 200.7h2.8v5.7h-2.8zM1572.5 200.7h23.1v5.7h-23.1zM1456.1 206.1h5.4v5.7h-5.4zM1486.4 206.1h5.4v5.7h-5.4zM1506.7 206.1h12.9v5.7h-12.9zM1577.5 206.1h2.8v5.7h-2.8zM1433.3 211.6h2.8v5.7h-2.8zM1473.8 211.6h28.1v5.7h-28.1zM1516.8 211.6h5.4v5.7h-5.4zM1592.7 211.6h7.9v5.7h-7.9zM1602.8 211.6h10.4v5.7h-10.4zM1458.6 217h2.8v5.7h-2.8zM1486.4 217h5.4v5.7h-5.4zM1504.1 217h30.7v5.7h-30.7zM1559.8 217h7.9v5.7h-7.9zM1605.3 217h5.4v5.7h-5.4zM1435.8 222.5h2.8v5.7h-2.8zM1466.2 222.5h23.1v5.7h-23.1zM1554.7 222.5h48.4v5.7h-48.4zM1435.8 227.9h2.8v5.7h-2.8zM1466.2 227.9h2.8v5.7h-2.8zM1542.1 227.9h5.4v5.7h-5.4zM1587.6 227.9h5.4v5.7h-5.4zM1514.3 233.4h2.8v5.7h-2.8zM1554.7 233.4h2.8v5.7h-2.8zM1433.3 238.8h2.8v5.7h-2.8zM1468.7 238.8h2.8v5.7h-2.8zM1486.4 238.8h2.8v5.7h-2.8zM1516.8 238.8h2.8v5.7h-2.8zM1435.8 244.3h2.8v5.7h-2.8zM1466.2 244.3h2.8v5.7h-2.8zM1514.3 244.3h2.8v5.7h-2.8zM1547.1 244.3h5.4v5.7h-5.4zM1435.8 249.7h2.8v5.7h-2.8zM1458.6 249.7h5.4v5.7h-5.4zM1529.4 249.7h2.8v5.7h-2.8zM1468.7 255.2h35.7v5.7h-35.7zM1524.4 255.2h13v5.7h-13zM1486.4 260.6h30.7v5.7h-30.7zM1519.3 260.6h2.8v5.7h-2.8zM1564.9 260.6h13v5.7h-13zM1433.3 266.1h18v5.7h-18zM1473.8 266.1h5.4v5.7h-5.4zM1486.4 271.5h2.8v5.7h-2.8zM1526.9 271.5h5.4v5.7h-5.4zM1539.6 277h5.4v5.7h-5.4zM1440.9 282.4h18v5.7h-18zM1547.1 282.4h2.8v5.7h-2.8zM1511.7 287.9h15.5v5.7h-15.5z" fill="#0000bb"/>
<path d="M1440.9 53.6h2.8v5.7h-2.8zM1463.7 53.6h2.8v5.7h-2.8zM1638.2 53.6h2.8v5.7h-2.8zM1549.7 59h2.8v5.7h-2.8zM1673.6 59h2.8v5.7h-2.8zM1448.5 69.9h2.8v5.7h-2.8zM1453.5 75.4h2.8v5.7h-2.8zM1471.2 75.4h2.8v5.7h-2.8zM1630.6 75.4h2.8v5.7h-2.8zM1673.6 75.4h2.8v5.7h-2.8zM1529.4 80.8h2.8v5.7h-2.8zM1590.2 80.8h2.8v5.7h-2.8zM1610.4 80.8h2.8v5.7h-2.8zM1635.7 80.8h2.8v5.7h-2.8zM1456.1 86.3h2.8v5.7h-2.8zM1602.8 86.3h2.8v5.7h-2.8zM1633.2 86.3h2.8v5.7h-2.8zM1529.4 91.7h2.8v5.7h-2.8zM1597.8 91.7h2.8v5.7h-2.8zM1625.6 91.7h2.8v5.7h-2.8zM1661 91.7h2.8v5.7h-2.8zM1552.2 97.2h2.8v5.7h-2.8zM1549.7 102.6h2.8v5.7h-2.8zM1590.2 102.6h2.8v5.7h-2.8zM1461.1 108.1h2.8v5.7h-2.8zM1483.9 108.1h2.8v5.7h-2.8zM1597.8 108.1h5.4v5.7h-5.4zM1643.3 108.1h2.8v5.7h-2.8zM1438.4 113.5h2.8v5.7h-2.8zM1463.7 113.5h2.8v5.7h-2.8zM1521.8 113.5h2.8v5.7h-2.8zM1557.3 119h2.8v5.7h-2.8zM1559.8 124.4h2.8v5.7h-2.8zM1610.4 124.4h2.8v5.7h-2.8zM1625.6 129.9h2.8v5.7h-2.8zM1552.2 135.3h2.8v5.7h-2.8zM1597.8 135.3h2.8v5.7h-2.8zM1532 140.8h2.8v5.7h-2.8zM1635.7 140.8h2.8v5.7h-2.8zM1534.5 157.1h5.4v5.7h-5.4zM1597.8 157.1h5.4v5.7h-5.4zM1440.9 162.6h2.8v5.7h-2.8zM1471.2 162.6h2.8v5.7h-2.8zM1544.6 162.6h2.8v5.7h-2.8zM1610.4 162.6h2.8v5.7h-2.8zM1453.5 168h2.8v5.7h-2.8zM1471.2 168h2.8v5.7h-2.8zM1572.5 168h2.8v5.7h-2.8zM1610.4 168h2.8v5.7h-2.8zM1620.5 168h2.8v5.7h-2.8zM1458.6 173.5h2.8v5.7h-2.8zM1499.1 173.5h2.8v5.7h-2.8zM1575 173.5h2.8v5.7h-2.8zM1597.8 178.9h2.8v5.7h-2.8zM1453.5 184.3h2.8v5.7h-2.8zM1478.8 184.3h2.8v5.7h-2.8zM1559.8 184.3h2.8v5.7h-2.8zM1448.5 189.8h2.8v5.7h-2.8zM1433.3 200.7h2.8v5.7h-2.8zM1466.2 200.7h2.8v5.7h-2.8zM1496.5 200.7h2.8v5.7h-2.8zM1521.8 200.7h2.8v5.7h-2.8zM1461.1 206.1h2.8v5.7h-2.8zM1483.9 206.1h2.8v5.7h-2.8zM1580 206.1h2.8v5.7h-2.8zM1521.8 211.6h2.8v5.7h-2.8zM1590.2 211.6h2.8v5.7h-2.8zM1461.1 217h2.8v5.7h-2.8zM1483.9 217h2.8v5.7h-2.8zM1438.4 222.5h2.8v5.7h-2.8zM1463.7 222.5h2.8v5.7h-2.8zM1438.4 227.9h2.8v5.7h-2.8zM1463.7 227.9h2.8v5.7h-2.8zM1547.1 227.9h2.8v5.7h-2.8zM1585.1 227.9h2.8v5.7h-2.8zM1435.8 238.8h2.8v5.7h-2.8zM1466.2 238.8h2.8v5.7h-2.8zM1489 238.8h2.8v5.7h-2.8zM1514.3 238.8h2.8v5.7h-2.8zM1438.4 244.3h2.8v5.7h-2.8zM1463.7 244.3h2.8v5.7h-2.8zM1438.4 249.7h2.8v5.7h-2.8zM1456.1 249.7h2.8v5.7h-2.8zM1504.1 255.2h2.8v5.7h-2.8zM1521.8 255.2h2.8v5.7h-2.8zM1537 255.2h2.8v5.7h-2.8zM1521.8 260.6h2.8v5.7h-2.8zM1451 266.1h5.4v5.7h-5.4zM1471.2 266.1h2.8v5.7h-2.8zM1532 271.5h2.8v5.7h-2.8zM1544.6 277h2.8v5.7h-2.8z" fill="#0000e7"/>
<path d="M1443.4 53.6h2.8v5.7h-2.8zM1461.1 53.6h2.8v5.7h-2.8zM1567.4 53.6h2.8v5.7h-2.8zM1587.6 53.6h2.8v5.7h-2.8zM1605.3 53.6h2.8v5.7h-2.8zM1602.8 59h2.8v5.7h-2.8zM1671.1 59h2.8v5.7h-2.8zM1451 69.9h2.8v5.7h-2.8zM1473.8 69.9h2.8v5.7h-2.8zM1526.9 69.9h2.8v5.7h-2.8zM1456.1 75.4h2.8v5.7h-2.8zM1468.7 75.4h2.8v5.7h-2.8zM1526.9 75.4h2.8v5.7h-2.8zM1532 80.8h2.8v5.7h-2.8zM1587.6 80.8h2.8v5.7h-2.8zM1433.3 86.3h2.8v5.7h-2.8zM1453.5 86.3h2.8v5.7h-2.8zM1532 91.7h2.8v5.7h-2.8zM1595.2 91.7h2.8v5.7h-2.8zM1628.1 91.7h2.8v5.7h-2.8zM1658.5 91.7h2.8v5.7h-2.8zM1587.6 102.6h2.8v5.7h-2.8zM1463.7 108.1h2.8v5.7h-2.8zM1602.8 108.1h2.8v5.7h-2.8zM1640.8 108.1h2.8v5.7h-2.8zM1440.9 113.5h2.8v5.7h-2.8zM1461.1 113.5h2.8v5.7h-2.8zM1524.4 113.5h2.8v5.7h-2.8zM1605.3 113.5h2.8v5.7h-2.8zM1526.9 124.4h2.8v5.7h-2.8zM1567.4 129.9h2.8v5.7h-2.8zM1595.2 135.3h2.8v5.7h-2.8zM1534.5 140.8h2.8v5.7h-2.8zM1585.1 140.8h7.9v5.7h-7.9zM1630.6 140.8h5.4v5.7h-5.4zM1635.7 151.7h2.8v5.7h-2.8zM1539.6 157.1h2.8v5.7h-2.8zM1592.7 157.1h5.4v5.7h-5.4zM1443.4 162.6h2.8v5.7h-2.8zM1468.7 162.6h2.8v5.7h-2.8zM1456.1 168h2.8v5.7h-2.8zM1468.7 168h2.8v5.7h-2.8zM1461.1 173.5h2.8v5.7h-2.8zM1496.5 173.5h2.8v5.7h-2.8zM1600.3 178.9h2.8v5.7h-2.8zM1456.1 184.3h2.8v5.7h-2.8zM1476.3 184.3h2.8v5.7h-2.8zM1509.2 184.3h2.8v5.7h-2.8zM1592.7 189.8h2.8v5.7h-2.8zM1534.5 195.2h2.8v5.7h-2.8zM1585.1 195.2h2.8v5.7h-2.8zM1499.1 200.7h2.8v5.7h-2.8zM1519.3 200.7h2.8v5.7h-2.8zM1463.7 206.1h2.8v5.7h-2.8zM1582.6 206.1h2.8v5.7h-2.8zM1524.4 211.6h2.8v5.7h-2.8zM1587.6 211.6h2.8v5.7h-2.8zM1463.7 217h2.8v5.7h-2.8zM1567.4 217h2.8v5.7h-2.8zM1602.8 217h2.8v5.7h-2.8zM1440.9 222.5h2.8v5.7h-2.8zM1461.1 222.5h2.8v5.7h-2.8zM1440.9 227.9h2.8v5.7h-2.8zM1461.1 227.9h2.8v5.7h-2.8zM1549.7 227.9h5.4v5.7h-5.4zM1582.6 227.9h2.8v5.7h-2.8zM1516.8 233.4h2.8v5.7h-2.8zM1552.2 233.4h2.8v5.7h-2.8zM1491.5 238.8h2.8v5.7h-2.8zM1511.7 238.8h2.8v5.7h-2.8zM1440.9 244.3h2.8v5.7h-2.8zM1461.1 244.3h2.8v5.7h-2.8zM1516.8 244.3h2.8v5.7h-2.8zM1544.6 244.3h2.8v5.7h-2.8zM1440.9 249.7h2.8v5.7h-2.8zM1453.5 249.7h2.8v5.7h-2.8zM1506.7 255.2h2.8v5.7h-2.8zM1519.3 255.2h2.8v5.7h-2.8zM1562.3 260.6h2.8v5.7h-2.8zM1456.1 266.1h2.8v5.7h-2.8zM1468.7 266.1h2.8v5.7h-2.8zM1534.5 271.5h2.8v5.7h-2.8zM1562.3 282.4h2.8v5.7h-2.8z" fill="#0013ff"/>
<path d="M1446 53.6h15.5v5.7h-15.5zM1607.9 53.6h2.8v5.7h-2.8zM1635.7 53.6h2.8v5.7h-2.8zM1587.6 59h2.8v5.7h-2.8zM1655.9 59h15.5v5.7h-15.5zM1471.2 69.9h2.8v5.7h-2.8zM1648.3 69.9h2.8v5.7h-2.8zM1458.6 75.4h10.4v5.7h-10.4zM1628.1 75.4h2.8v5.7h-2.8zM1534.5 80.8h2.8v5.7h-2.8zM1585.1 80.8h2.8v5.7h-2.8zM1633.2 80.8h2.8v5.7h-2.8zM1435.8 86.3h18v5.7h-18zM1605.3 86.3h2.8v5.7h-2.8zM1630.6 86.3h2.8v5.7h-2.8zM1534.5 91.7h2.8v5.7h-2.8zM1592.7 91.7h2.8v5.7h-2.8zM1655.9 91.7h2.8v5.7h-2.8zM1587.6 97.2h2.8v5.7h-2.8zM1552.2 102.6h2.8v5.7h-2.8zM1466.2 108.1h18v5.7h-18zM1605.3 108.1h35.7v5.7h-35.7zM1443.4 113.5h18v5.7h-18zM1559.8 119h2.8v5.7h-2.8zM1587.6 119h2.8v5.7h-2.8zM1623 129.9h2.8v5.7h-2.8zM1537 140.8h2.8v5.7h-2.8zM1582.6 140.8h2.8v5.7h-2.8zM1592.7 140.8h38.2v5.7h-38.2zM1532 151.7h2.8v5.7h-2.8zM1590.2 151.7h15.5v5.7h-15.5zM1542.1 157.1h50.9v5.7h-50.9zM1446 162.6h23.1v5.7h-23.1zM1458.6 168h10.4v5.7h-10.4zM1463.7 173.5h2.8v5.7h-2.8zM1494 173.5h2.8v5.7h-2.8zM1542.1 173.5h2.8v5.7h-2.8zM1572.5 173.5h2.8v5.7h-2.8zM1458.6 184.3h18v5.7h-18zM1433.3 189.8h15.5v5.7h-15.5zM1435.8 200.7h2.8v5.7h-2.8zM1463.7 200.7h2.8v5.7h-2.8zM1501.6 200.7h18v5.7h-18zM1466.2 206.1h18v5.7h-18zM1526.9 211.6h2.8v5.7h-2.8zM1585.1 211.6h2.8v5.7h-2.8zM1466.2 217h18v5.7h-18zM1443.4 222.5h18v5.7h-18zM1443.4 227.9h18v5.7h-18zM1554.7 227.9h28.1v5.7h-28.1zM1438.4 238.8h2.8v5.7h-2.8zM1463.7 238.8h2.8v5.7h-2.8zM1494 238.8h18v5.7h-18zM1443.4 244.3h18v5.7h-18zM1443.4 249.7h10.4v5.7h-10.4zM1532 249.7h2.8v5.7h-2.8zM1509.2 255.2h10.4v5.7h-10.4zM1539.6 255.2h2.8v5.7h-2.8zM1458.6 266.1h10.4v5.7h-10.4zM1537 271.5h2.8v5.7h-2.8zM1549.7 282.4h2.8v5.7h-2.8z" fill="#003fff"/>
<path d="M1569.9 53.6h2.8v5.7h-2.8zM1610.4 53.6h2.8v5.7h-2.8zM1633.2 53.6h2.8v5.7h-2.8zM1552.2 59h2.8v5.7h-2.8zM1605.3 59h2.8v5.7h-2.8zM1653.4 59h2.8v5.7h-2.8zM1453.5 69.9h2.8v5.7h-2.8zM1600.3 75.4h5.4v5.7h-5.4zM1625.6 75.4h2.8v5.7h-2.8zM1676.2 75.4h2.8v5.7h-2.8zM1612.9 80.8h2.8v5.7h-2.8zM1590.2 91.7h2.8v5.7h-2.8zM1630.6 91.7h2.8v5.7h-2.8zM1554.7 97.2h2.8v5.7h-2.8zM1585.1 102.6h2.8v5.7h-2.8zM1526.9 113.5h2.8v5.7h-2.8zM1612.9 124.4h2.8v5.7h-2.8zM1554.7 135.3h2.8v5.7h-2.8zM1539.6 140.8h2.8v5.7h-2.8zM1580 140.8h2.8v5.7h-2.8zM1587.6 151.7h2.8v5.7h-2.8zM1605.3 151.7h2.8v5.7h-2.8zM1633.2 151.7h2.8v5.7h-2.8zM1547.1 162.6h2.8v5.7h-2.8zM1607.9 162.6h2.8v5.7h-2.8zM1575 168h2.8v5.7h-2.8zM1607.9 168h2.8v5.7h-2.8zM1623 168h2.8v5.7h-2.8zM1466.2 173.5h2.8v5.7h-2.8zM1491.5 173.5h2.8v5.7h-2.8zM1557.3 184.3h2.8v5.7h-2.8zM1618 189.8h2.8v5.7h-2.8zM1585.1 206.1h2.8v5.7h-2.8zM1529.4 211.6h2.8v5.7h-2.8zM1569.9 217h2.8v5.7h-2.8zM1600.3 217h2.8v5.7h-2.8zM1519.3 244.3h2.8v5.7h-2.8zM1542.1 244.3h2.8v5.7h-2.8zM1524.4 260.6h2.8v5.7h-2.8zM1547.1 277h2.8v5.7h-2.8z" fill="#006bff"/>
<path d="M1585.1 53.6h2.8v5.7h-2.8zM1612.9 53.6h20.5v5.7h-20.5zM1650.9 59h2.8v5.7h-2.8zM1456.1 69.9h15.5v5.7h-15.5zM1529.4 69.9h2.8v5.7h-2.8zM1612.9 69.9h2.8v5.7h-2.8zM1529.4 75.4h2.8v5.7h-2.8zM1597.8 75.4h2.8v5.7h-2.8zM1605.3 75.4h20.5v5.7h-20.5zM1537 80.8h2.8v5.7h-2.8zM1582.6 80.8h2.8v5.7h-2.8zM1628.1 86.3h2.8v5.7h-2.8zM1537 91.7h2.8v5.7h-2.8zM1633.2 91.7h23.1v5.7h-23.1zM1554.7 102.6h2.8v5.7h-2.8zM1529.4 124.4h2.8v5.7h-2.8zM1557.3 124.4h2.8v5.7h-2.8zM1569.9 129.9h2.8v5.7h-2.8zM1620.5 129.9h2.8v5.7h-2.8zM1592.7 135.3h2.8v5.7h-2.8zM1542.1 140.8h38.3v5.7h-38.3zM1585.1 151.7h2.8v5.7h-2.8zM1607.9 151.7h2.8v5.7h-2.8zM1468.7 173.5h23.1v5.7h-23.1zM1602.8 178.9h2.8v5.7h-2.8zM1511.7 184.3h2.8v5.7h-2.8zM1595.2 189.8h2.8v5.7h-2.8zM1537 195.2h2.8v5.7h-2.8zM1438.4 200.7h2.8v5.7h-2.8zM1461.1 200.7h2.8v5.7h-2.8zM1610.4 206.1h2.8v5.7h-2.8zM1582.6 211.6h2.8v5.7h-2.8zM1519.3 233.4h2.8v5.7h-2.8zM1549.7 233.4h2.8v5.7h-2.8zM1440.9 238.8h2.8v5.7h-2.8zM1461.1 238.8h2.8v5.7h-2.8zM1582.6 249.7h2.8v5.7h-2.8zM1559.8 260.6h2.8v5.7h-2.8zM1539.6 271.5h2.8v5.7h-2.8zM1559.8 282.4h2.8v5.7h-2.8z" fill="#0096ff"/>
<path d="M1585.1 59h2.8v5.7h-2.8zM1615.5 69.9h2.8v5.7h-2.8zM1645.8 69.9h2.8v5.7h-2.8zM1580 80.8h2.8v5.7h-2.8zM1615.5 80.8h2.8v5.7h-2.8zM1630.6 80.8h2.8v5.7h-2.8zM1607.9 86.3h2.8v5.7h-2.8zM1539.6 91.7h2.8v5.7h-2.8zM1587.6 91.7h2.8v5.7h-2.8zM1585.1 97.2h2.8v5.7h-2.8zM1582.6 102.6h2.8v5.7h-2.8zM1529.4 113.5h2.8v5.7h-2.8zM1602.8 113.5h2.8v5.7h-2.8zM1585.1 119h2.8v5.7h-2.8zM1557.3 135.3h2.8v5.7h-2.8zM1534.5 151.7h2.8v5.7h-2.8zM1630.6 151.7h2.8v5.7h-2.8zM1544.6 173.5h2.8v5.7h-2.8zM1615.5 189.8h2.8v5.7h-2.8zM1582.6 195.2h2.8v5.7h-2.8zM1587.6 206.1h2.8v5.7h-2.8zM1532 211.6h2.8v5.7h-2.8zM1580 211.6h2.8v5.7h-2.8zM1572.5 217h2.8v5.7h-2.8zM1597.8 217h2.8v5.7h-2.8zM1521.8 244.3h2.8v5.7h-2.8zM1539.6 244.3h2.8v5.7h-2.8zM1534.5 249.7h2.8v5.7h-2.8zM1542.1 255.2h2.8v5.7h-2.8zM1582.6 255.2h2.8v5.7h-2.8zM1575 271.5h2.8v5.7h-2.8zM1552.2 282.4h2.8v5.7h-2.8z" fill="#00c2ff"/>
<path d="M1572.5 53.6h2.8v5.7h-2.8zM1582.6 53.6h2.8v5.7h-2.8zM1554.7 59h2.8v5.7h-2.8zM1607.9 59h2.8v5.7h-2.8zM1635.7 59h2.8v5.7h-2.8zM1648.3 59h2.8v5.7h-2.8zM1532 69.9h2.8v5.7h-2.8zM1587.6 69.9h2.8v5.7h-2.8zM1610.4 69.9h2.8v5.7h-2.8zM1564.9 75.4h2.8v5.7h-2.8zM1595.2 75.4h2.8v5.7h-2.8zM1678.7 75.4h2.8v5.7h-2.8zM1683.8 75.4h2.8v5.7h-2.8zM1539.6 80.8h2.8v5.7h-2.8zM1577.5 80.8h2.8v5.7h-2.8zM1625.6 86.3h2.8v5.7h-2.8zM1542.1 91.7h2.8v5.7h-2.8zM1585.1 91.7h2.8v5.7h-2.8zM1557.3 97.2h2.8v5.7h-2.8zM1557.3 102.6h2.8v5.7h-2.8zM1580 102.6h2.8v5.7h-2.8zM1562.3 119h2.8v5.7h-2.8zM1615.5 124.4h2.8v5.7h-2.8zM1645.8 124.4h2.8v5.7h-2.8zM1572.5 129.9h2.8v5.7h-2.8zM1618 129.9h2.8v5.7h-2.8zM1590.2 135.3h2.8v5.7h-2.8zM1610.4 151.7h2.8v5.7h-2.8zM1549.7 162.6h2.8v5.7h-2.8zM1605.3 162.6h2.8v5.7h-2.8zM1577.5 168h2.8v5.7h-2.8zM1605.3 168h2.8v5.7h-2.8zM1625.6 168h2.8v5.7h-2.8zM1630.6 168h2.8v5.7h-2.8zM1569.9 173.5h2.8v5.7h-2.8zM1605.3 178.9h2.8v5.7h-2.8zM1623 178.9h2.8v5.7h-2.8zM1514.3 184.3h2.8v5.7h-2.8zM1554.7 184.3h2.8v5.7h-2.8zM1597.8 189.8h2.8v5.7h-2.8zM1539.6 195.2h2.8v5.7h-2.8zM1440.9 200.7h2.8v5.7h-2.8zM1458.6 200.7h2.8v5.7h-2.8zM1607.9 206.1h2.8v5.7h-2.8zM1534.5 211.6h2.8v5.7h-2.8zM1577.5 211.6h2.8v5.7h-2.8zM1575 217h2.8v5.7h-2.8zM1595.2 217h2.8v5.7h-2.8zM1547.1 233.4h2.8v5.7h-2.8zM1443.4 238.8h2.8v5.7h-2.8zM1458.6 238.8h2.8v5.7h-2.8zM1580 249.7h2.8v5.7h-2.8zM1542.1 271.5h2.8v5.7h-2.8zM1572.5 271.5h2.8v5.7h-2.8zM1549.7 277h2.8v5.7h-2.8zM1557.3 282.4h2.8v5.7h-2.8z" fill="#00eeff"/>
<path d="M1575 53.6h7.9v5.7h-7.9zM1557.3 59h2.8v5.7h-2.8zM1582.6 59h2.8v5.7h-2.8zM1638.2 59h10.4v5.7h-10.4zM1534.5 69.9h2.8v5.7h-2.8zM1590.2 69.9h20.5v5.7h-20.5zM1532 75.4h2.8v5.7h-2.8zM1562.3 75.4h2.8v5.7h-2.8zM1567.4 75.4h28.1v5.7h-28.1zM1681.2 75.4h2.8v5.7h-2.8zM1562.3 80.8h15.5v5.7h-15.5zM1618 80.8h12.9v5.7h-12.9zM1610.4 86.3h2.8v5.7h-2.8zM1544.6 91.7h40.8v5.7h-40.8zM1559.8 97.2h2.8v5.7h-2.8zM1582.6 97.2h2.8v5.7h-2.8zM1559.8 102.6h20.5v5.7h-20.5zM1532 113.5h23.1v5.7h-23.1zM1582.6 119h2.8v5.7h-2.8zM1532 124.4h2.8v5.7h-2.8zM1554.7 124.4h2.8v5.7h-2.8zM1618 124.4h5.4v5.7h-5.4zM1575 129.9h5.4v5.7h-5.4zM1602.8 129.9h15.5v5.7h-15.5zM1559.8 135.3h7.9v5.7h-7.9zM1582.6 135.3h7.9v5.7h-7.9zM1537 151.7h2.8v5.7h-2.8zM1582.6 151.7h2.8v5.7h-2.8zM1628.1 151.7h2.8v5.7h-2.8zM1552.2 162.6h2.8v5.7h-2.8zM1602.8 162.6h2.8v5.7h-2.8zM1602.8 168h2.8v5.7h-2.8zM1628.1 168h2.8v5.7h-2.8zM1547.1 173.5h2.8v5.7h-2.8zM1607.9 178.9h15.5v5.7h-15.5zM1549.7 184.3h5.4v5.7h-5.4zM1600.3 189.8h15.5v5.7h-15.5zM1542.1 195.2h2.8v5.7h-2.8zM1443.4 200.7h15.5v5.7h-15.5zM1590.2 206.1h18v5.7h-18zM1537 211.6h40.8v5.7h-40.8zM1577.5 217h18v5.7h-18zM1521.8 233.4h2.8v5.7h-2.8zM1446 238.8h12.9v5.7h-12.9zM1524.4 244.3h15.5v5.7h-15.5zM1537 249.7h2.8v5.7h-2.8zM1577.5 249.7h2.8v5.7h-2.8zM1544.6 255.2h5.4v5.7h-5.4zM1557.3 260.6h2.8v5.7h-2.8zM1544.6 271.5h2.8v5.7h-2.8zM1562.3 271.5h10.4v5.7h-10.4zM1552.2 277h2.8v5.7h-2.8zM1554.7 282.4h2.8v5.7h-2.8z" fill="#1affe5"/>
<path d="M1559.8 59h2.8v5.7h-2.8zM1580 59h2.8v5.7h-2.8zM1610.4 59h2.8v5.7h-2.8zM1633.2 59h2.8v5.7h-2.8zM1537 69.9h2.8v5.7h-2.8zM1585.1 69.9h2.8v5.7h-2.8zM1618 69.9h2.8v5.7h-2.8zM1643.3 69.9h2.8v5.7h-2.8zM1557.3 80.8h5.4v5.7h-5.4zM1623 86.3h2.8v5.7h-2.8zM1562.3 97.2h2.8v5.7h-2.8zM1580 97.2h2.8v5.7h-2.8zM1554.7 113.5h2.8v5.7h-2.8zM1580 119h2.8v5.7h-2.8zM1623 124.4h2.8v5.7h-2.8zM1580 129.9h2.8v5.7h-2.8zM1600.3 129.9h2.8v5.7h-2.8zM1567.4 135.3h2.8v5.7h-2.8zM1580 135.3h2.8v5.7h-2.8zM1612.9 151.7h2.8v5.7h-2.8zM1625.6 151.7h2.8v5.7h-2.8zM1600.3 162.6h2.8v5.7h-2.8zM1600.3 168h2.8v5.7h-2.8zM1549.7 173.5h2.8v5.7h-2.8zM1567.4 173.5h2.8v5.7h-2.8zM1516.8 184.3h2.8v5.7h-2.8zM1547.1 184.3h2.8v5.7h-2.8zM1544.6 195.2h2.8v5.7h-2.8zM1580 195.2h2.8v5.7h-2.8zM1544.6 233.4h2.8v5.7h-2.8zM1575 249.7h2.8v5.7h-2.8zM1549.7 255.2h2.8v5.7h-2.8zM1526.9 260.6h2.8v5.7h-2.8zM1547.1 271.5h2.8v5.7h-2.8zM1557.3 271.5h5.4v5.7h-5.4z" fill="#46ffb9"/>
<path d="M1577.5 59h2.8v5.7h-2.8zM1559.8 75.4h2.8v5.7h-2.8zM1542.1 80.8h2.8v5.7h-2.8zM1612.9 86.3h2.8v5.7h-2.8zM1620.5 86.3h2.8v5.7h-2.8zM1600.3 113.5h2.8v5.7h-2.8zM1534.5 124.4h2.8v5.7h-2.8zM1582.6 129.9h2.8v5.7h-2.8zM1569.9 135.3h2.8v5.7h-2.8zM1539.6 151.7h2.8v5.7h-2.8zM1554.7 151.7h5.4v5.7h-5.4zM1580 151.7h2.8v5.7h-2.8zM1615.5 151.7h2.8v5.7h-2.8zM1623 151.7h2.8v5.7h-2.8zM1597.8 162.6h2.8v5.7h-2.8zM1552.2 173.5h2.8v5.7h-2.8zM1547.1 195.2h2.8v5.7h-2.8zM1524.4 233.4h2.8v5.7h-2.8zM1572.5 249.7h2.8v5.7h-2.8zM1580 255.2h2.8v5.7h-2.8zM1549.7 271.5h2.8v5.7h-2.8zM1554.7 271.5h2.8v5.7h-2.8z" fill="#72ff8d"/>
<path d="M1562.3 59h2.8v5.7h-2.8zM1612.9 59h2.8v5.7h-2.8zM1630.6 59h2.8v5.7h-2.8zM1539.6 69.9h2.8v5.7h-2.8zM1582.6 69.9h2.8v5.7h-2.8zM1640.8 69.9h2.8v5.7h-2.8zM1534.5 75.4h2.8v5.7h-2.8zM1554.7 80.8h2.8v5.7h-2.8zM1615.5 86.3h5.4v5.7h-5.4zM1564.9 97.2h2.8v5.7h-2.8zM1577.5 97.2h2.8v5.7h-2.8zM1564.9 119h2.8v5.7h-2.8zM1577.5 119h2.8v5.7h-2.8zM1625.6 124.4h2.8v5.7h-2.8zM1643.3 124.4h2.8v5.7h-2.8zM1597.8 129.9h2.8v5.7h-2.8zM1577.5 135.3h2.8v5.7h-2.8zM1559.8 151.7h20.5v5.7h-20.5zM1618 151.7h5.4v5.7h-5.4zM1554.7 162.6h2.8v5.7h-2.8zM1580 168h2.8v5.7h-2.8zM1597.8 168h2.8v5.7h-2.8zM1519.3 184.3h2.8v5.7h-2.8zM1539.6 249.7h2.8v5.7h-2.8zM1552.2 271.5h2.8v5.7h-2.8zM1554.7 277h2.8v5.7h-2.8z" fill="#9dff62"/>
<path d="M1575 59h2.8v5.7h-2.8zM1615.5 59h2.8v5.7h-2.8zM1597.8 113.5h2.8v5.7h-2.8zM1552.2 124.4h2.8v5.7h-2.8zM1585.1 129.9h2.8v5.7h-2.8zM1572.5 135.3h2.8v5.7h-2.8zM1552.2 151.7h2.8v5.7h-2.8zM1572.5 162.6h5.4v5.7h-5.4zM1595.2 162.6h2.8v5.7h-2.8zM1564.9 173.5h2.8v5.7h-2.8zM1544.6 184.3h2.8v5.7h-2.8zM1549.7 195.2h2.8v5.7h-2.8zM1577.5 195.2h2.8v5.7h-2.8zM1542.1 233.4h2.8v5.7h-2.8zM1569.9 249.7h2.8v5.7h-2.8zM1554.7 260.6h2.8v5.7h-2.8z" fill="#c9ff36"/>
<path d="M1564.9 59h2.8v5.7h-2.8zM1572.5 59h2.8v5.7h-2.8zM1618 59h2.8v5.7h-2.8zM1628.1 59h2.8v5.7h-2.8zM1567.4 69.9h2.8v5.7h-2.8zM1580 69.9h2.8v5.7h-2.8zM1620.5 69.9h2.8v5.7h-2.8zM1638.2 69.9h2.8v5.7h-2.8zM1557.3 75.4h2.8v5.7h-2.8zM1544.6 80.8h2.8v5.7h-2.8zM1552.2 80.8h2.8v5.7h-2.8zM1567.4 97.2h2.8v5.7h-2.8zM1575 97.2h2.8v5.7h-2.8zM1557.3 113.5h2.8v5.7h-2.8zM1567.4 119h2.8v5.7h-2.8zM1575 119h2.8v5.7h-2.8zM1537 124.4h2.8v5.7h-2.8zM1587.6 129.9h2.8v5.7h-2.8zM1595.2 129.9h2.8v5.7h-2.8zM1575 135.3h2.8v5.7h-2.8zM1542.1 151.7h2.8v5.7h-2.8zM1577.5 162.6h2.8v5.7h-2.8zM1592.7 162.6h2.8v5.7h-2.8zM1582.6 168h2.8v5.7h-2.8zM1595.2 168h2.8v5.7h-2.8zM1526.9 233.4h2.8v5.7h-2.8zM1567.4 249.7h2.8v5.7h-2.8zM1552.2 255.2h2.8v5.7h-2.8zM1529.4 260.6h2.8v5.7h-2.8z" fill="#f5ff0a"/>
<path d="M1567.4 59h5.4v5.7h-5.4zM1620.5 59h7.9v5.7h-7.9zM1564.9 69.9h2.8v5.7h-2.8zM1569.9 69.9h10.4v5.7h-10.4zM1547.1 80.8h5.4v5.7h-5.4zM1569.9 97.2h5.4v5.7h-5.4zM1595.2 113.5h2.8v5.7h-2.8zM1569.9 119h5.4v5.7h-5.4zM1628.1 124.4h2.8v5.7h-2.8zM1640.8 124.4h2.8v5.7h-2.8zM1590.2 129.9h5.4v5.7h-5.4zM1580 162.6h13v5.7h-13zM1585.1 168h10.4v5.7h-10.4zM1554.7 173.5h2.8v5.7h-2.8zM1521.8 184.3h2.8v5.7h-2.8zM1552.2 195.2h2.8v5.7h-2.8zM1532 260.6h2.8v5.7h-2.8zM1569.9 277h2.8v5.7h-2.8z" fill="#ffde00"/>
<path d="M1623 69.9h2.8v5.7h-2.8zM1635.7 69.9h2.8v5.7h-2.8zM1559.8 113.5h2.8v5.7h-2.8zM1544.6 151.7h2.8v5.7h-2.8zM1549.7 151.7h2.8v5.7h-2.8zM1557.3 162.6h2.8v5.7h-2.8zM1569.9 162.6h2.8v5.7h-2.8zM1562.3 173.5h2.8v5.7h-2.8zM1542.1 184.3h2.8v5.7h-2.8zM1575 195.2h2.8v5.7h-2.8zM1564.9 249.7h2.8v5.7h-2.8zM1577.5 255.2h2.8v5.7h-2.8zM1557.3 277h2.8v5.7h-2.8z" fill="#ffb200"/>
<path d="M1542.1 69.9h2.8v5.7h-2.8zM1537 75.4h2.8v5.7h-2.8zM1554.7 75.4h2.8v5.7h-2.8zM1562.3 113.5h10.4v5.7h-10.4zM1592.7 113.5h2.8v5.7h-2.8zM1549.7 124.4h2.8v5.7h-2.8zM1630.6 124.4h10.4v5.7h-10.4zM1547.1 151.7h2.8v5.7h-2.8zM1557.3 173.5h5.4v5.7h-5.4zM1554.7 195.2h2.8v5.7h-2.8zM1539.6 233.4h2.8v5.7h-2.8zM1542.1 249.7h2.8v5.7h-2.8z" fill="#ff8600"/>
<path d="M1625.6 69.9h2.8v5.7h-2.8zM1539.6 124.4h2.8v5.7h-2.8zM1529.4 233.4h2.8v5.7h-2.8zM1534.5 260.6h2.8v5.7h-2.8z" fill="#ff5b00"/>
<path d="M1562.3 69.9h2.8v5.7h-2.8zM1633.2 69.9h2.8v5.7h-2.8zM1559.8 162.6h2.8v5.7h-2.8zM1567.4 162.6h2.8v5.7h-2.8zM1524.4 184.3h2.8v5.7h-2.8zM1539.6 184.3h2.8v5.7h-2.8zM1554.7 255.2h2.8v5.7h-2.8zM1552.2 260.6h2.8v5.7h-2.8zM1559.8 277h2.8v5.7h-2.8zM1567.4 277h2.8v5.7h-2.8z" fill="#ff2f00"/>
<path d="M1628.1 69.9h5.4v5.7h-5.4zM1542.1 124.4h7.9v5.7h-7.9zM1562.3 162.6h5.4v5.7h-5.4zM1526.9 184.3h13v5.7h-13zM1532 233.4h7.9v5.7h-7.9zM1562.3 249.7h2.8v5.7h-2.8zM1562.3 277h5.4v5.7h-5.4z" fill="#ff0300"/>
<path d="M1552.2 75.4h2.8v5.7h-2.8zM1572.5 113.5h2.8v5.7h-2.8zM1590.2 113.5h2.8v5.7h-2.8zM1557.3 195.2h2.8v5.7h-2.8zM1572.5 195.2h2.8v5.7h-2.8z" fill="#d70000"/>
<path d="M1575 255.2h2.8v5.7h-2.8z" fill="#ab0000"/>
<path d="M1544.6 69.9h18v5.7h-18zM1539.6 75.4h13v5.7h-13zM1575 113.5h15.5v5.7h-15.5zM1559.8 195.2h13v5.7h-13zM1544.6 249.7h18v5.7h-18zM1557.3 255.2h18v5.7h-18zM1537 260.6h15.5v5.7h-15.5z" fill="#800000"/>
<line x1="1433.3" y1="53.6" x2="1686.3" y2="53.6" stroke="#222" stroke-width="2"/>
<line x1="1433.3" y1="293.3" x2="1686.3" y2="293.3" stroke="#222" stroke-width="2"/>
<line x1="1433.3" y1="53.6" x2="1433.3" y2="293.3" stroke="#222" stroke-width="2"/>
<line x1="1686.3" y1="53.6" x2="1686.3" y2="293.3" stroke="#222" stroke-width="2"/>
<line x1="1433.3" y1="47.1" x2="1433.3" y2="53.6" stroke="#222" stroke-width="2"/>
<line x1="1433.3" y1="293.3" x2="1433.3" y2="299.8" stroke="#222" stroke-width="2"/>
<line x1="1483.9" y1="47.1" x2="1483.9" y2="53.6" stroke="#222" stroke-width="2"/>
<line x1="1483.9" y1="293.3" x2="1483.9" y2="299.8" stroke="#222" stroke-width="2"/>
<line x1="1686.3" y1="47.1" x2="1686.3" y2="53.6" stroke="#222" stroke-width="2"/>
<line x1="1686.3" y1="293.3" x2="1686.3" y2="299.8" stroke="#222" stroke-width="2"/>
<line x1="1426.8" y1="56.3" x2="1433.3" y2="56.3" stroke="#222" stroke-width="2"/>
<line x1="1686.3" y1="56.3" x2="1692.8" y2="56.3" stroke="#222" stroke-width="2"/>
<text x="1424" y="65.7" text-anchor="end">44</text>
<text x="1440.6" y="40.5">Bat 1</text>
<text x="1686" y="40" text-anchor="end">8.2 Hz</text>
<line x1="1483.9" y1="326.7" x2="1483.9" y2="459" stroke="#a0a0a0" stroke-width="2.6"/>
<polyline points="1433.2,451 1434.7,449.8 1436.2,448.6 1437.7,447.4 1439.2,446.2 1440.7,444.9 1442.2,443.6 1443.7,442.3 1445.2,441 1446.7,439.6 1448.2,438.4 1449.7,437.2 1451.2,436.3 1452.7,435.6 1454.2,435.1 1455.7,435 1457.2,435.2 1458.7,435.7 1460.2,436.4 1461.7,437.4 1463.2,438.6 1464.7,439.9 1466.2,441.4 1467.7,442.9 1469.2,444.5 1470.7,446.1 1472.2,447.7 1473.7,449.2 1475.2,450.5 1476.7,451.7 1478.2,452.7 1479.7,453.5 1481.2,454.2 1482.7,454.7 1484.2,455.1 1485.7,455.5 1487.2,455.8 1488.7,456 1490.2,456.2 1491.7,456.3 1493.2,456.3 1494.7,456.3 1496.2,456.2 1497.7,456.1 1499.2,455.9 1500.7,455.7 1502.2,455.4 1503.7,455 1505.2,454.5 1506.7,454 1508.2,453.4 1509.7,452.6 1511.2,451.8 1512.7,450.9 1514.2,449.8 1515.7,448.6 1517.2,447.2 1518.7,445.5 1520.2,443.2 1521.7,440.2 1523.2,436.3 1524.7,431.4 1526.2,425.4 1527.7,418.2 1529.2,410.1 1530.7,401.3 1532.2,392 1533.7,382.6 1535.2,373.4 1536.7,364.7 1538.2,356.8 1539.7,350.2 1541.2,345.1 1542.7,341.4 1544.2,338.7 1545.7,336.8 1547.2,335.3 1548.7,334.1 1550.2,333.1 1551.7,332.2 1553.2,331.5 1554.7,331 1556.2,330.5 1557.7,330.2 1559.2,329.9 1560.7,329.8 1562.2,329.8 1563.7,329.9 1565.2,330.3 1566.7,331 1568.2,331.9 1569.7,333.2 1571.2,334.8 1572.7,336.6 1574.2,338.6 1575.7,340.9 1577.2,343.3 1578.7,345.8 1580.2,348.5 1581.7,351.2 1583.2,354 1584.7,357 1586.2,360.1 1587.7,363.3 1589.2,366.7 1590.7,370.2 1592.2,373.8 1593.7,377.6 1595.2,381.4 1596.7,385.3 1598.2,389.3 1599.7,393.1 1601.2,396.7 1602.7,400 1604.2,402.8 1605.7,405 1607.2,406.5 1608.7,407.2 1610.2,407 1611.7,405.8 1613.2,403.8 1614.7,400.7 1616.2,396.7 1617.7,392.2 1619.2,387.3 1620.7,382.5 1622.2,378.2 1623.7,374.4 1625.2,371.1 1626.7,368.5 1628.2,366.3 1629.7,364.6 1631.2,363.4 1632.7,362.8 1634.2,362.9 1635.7,363.9 1637.2,365.9 1638.7,369.3 1640.2,374 1641.7,380.1 1643.2,387 1644.7,394.4 1646.2,401.9 1647.7,409.1 1649.2,415.8 1650.7,422 1652.2,427.4 1653.7,431.9 1655.2,435.6 1656.7,438.4 1658.2,440.4 1659.7,441.7 1661.2,442.3 1662.7,442.6 1664.2,442.9 1665.7,443.7 1667.2,445.4 1668.7,447.8 1669.5,449.3" fill="none" stroke="#000" stroke-width="2.4" stroke-linejoin="round"/>
<rect x="1544" y="326.7" width="44.8" height="132.3" fill="#00ff00" fill-opacity="0.2"/>
<line x1="1433.3" y1="326.7" x2="1433.3" y2="460" stroke="#222" stroke-width="2"/>
<line x1="1432.3" y1="459" x2="1686.3" y2="459" stroke="#222" stroke-width="2"/>
<line x1="1433.3" y1="459" x2="1433.3" y2="462.5" stroke="#222" stroke-width="2"/>
<line x1="1483.9" y1="459" x2="1483.9" y2="462.5" stroke="#222" stroke-width="2"/>
<line x1="1686.3" y1="459" x2="1686.3" y2="462.5" stroke="#222" stroke-width="2"/>
<line x1="1429.8" y1="326.7" x2="1433.3" y2="326.7" stroke="#222" stroke-width="2"/>
<text x="1424.3" y="336.1" text-anchor="end">2</text>
<line x1="1483.9" y1="492.3" x2="1483.9" y2="624.6" stroke="#a0a0a0" stroke-width="2"/>
<polygon points="1433.2,598.9 1434,599.2 1434.8,600.1 1435.6,601.5 1436.4,601.6 1437.2,600.8 1438,600.8 1438.8,599.6 1439.6,598.9 1440.4,599.6 1441.2,599.9 1442,598.7 1442.8,597.5 1443.6,597.8 1444.4,598.1 1445.2,597.7 1446,597.4 1446.8,597.2 1447.6,596.2 1448.4,592.2 1449.2,589.2 1450,584.6 1450.8,577.6 1451.6,572.4 1452.4,568.2 1453.2,563.4 1454,557.9 1454.8,553.9 1455.6,552.5 1456.4,554.6 1457.2,556.6 1458,557.3 1458.8,559.7 1459.6,562.2 1460.4,562.4 1461.2,561.9 1462,562 1462.8,560.8 1463.6,559.5 1464.4,559.8 1465.2,560.6 1466,560.1 1466.8,560 1467.6,560.6 1468.4,561.2 1469.2,560.7 1470,560.7 1470.8,561.1 1471.6,561.5 1472.4,561.8 1473.2,561.8 1474,563.6 1474.8,562.6 1475.6,558.3 1476.4,553.7 1477.2,551.2 1478,550 1478.8,550.2 1479.6,557.8 1480.4,565.5 1481.2,573.5 1482,562.6 1482.8,551.1 1483.6,539.2 1484.4,521.8 1485.2,504.2 1486,492.2 1486.8,500.1 1487.6,506.6 1488.4,515 1489.2,543.9 1490,573.9 1490.8,602.8 1491.6,602.6 1492.4,601.7 1493.2,602 1494,603.3 1494.8,604.3 1495.6,604.9 1496.4,605.5 1497.2,606.3 1498,606.4 1498.8,605.9 1499.6,605.5 1500.4,606.1 1501.2,606.6 1502,606.5 1502.8,606.8 1503.6,607.3 1504.4,606.7 1505.2,606.9 1506,607.4 1506.8,606.7 1507.6,605.8 1508.4,605.5 1509.2,606.5 1510,607.9 1510.8,608.4 1511.6,608.2 1512.4,606.8 1513.2,606 1514,607 1514.8,607.6 1515.6,608.1 1516.4,609.6 1517.2,611.1 1518,611 1518.8,610.5 1519.6,610.4 1520.4,610.7 1521.2,611.1 1522,611.3 1522.8,611.2 1523.6,611 1524.4,610.3 1525.2,610.1 1526,611.6 1526.8,613.2 1527.6,610.8 1528.4,608.1 1529.2,608.4 1530,610.3 1530.8,610.7 1531.6,609.4 1532.4,608.6 1533.2,608.1 1534,608.7 1534.8,610.4 1535.6,610.7 1536.4,610.5 1537.2,611.5 1538,611.9 1538.8,609.5 1539.6,607.6 1540.4,609 1541.2,611.7 1542,612.4 1542.8,612.1 1543.6,611.5 1544.4,611.3 1545.2,610.7 1546,609.8 1546.8,609.7 1547.6,609.7 1548.4,608.9 1549.2,609.3 1550,611.2 1550.8,612.6 1551.6,612 1552.4,610.9 1553.2,611.3 1554,611.5 1554.8,610.9 1555.6,611.6 1556.4,612.5 1557.2,611.4 1558,609.9 1558.8,609 1559.6,610 1560.4,611.6 1561.2,611 1562,610.3 1562.8,610 1563.6,609.4 1564.4,609.6 1565.2,608.5 1566,606.9 1566.8,606.5 1567.6,607.3 1568.4,608.9 1569.2,611.2 1570,612.9 1570.8,612.8 1571.6,612.1 1572.4,611.7 1573.2,612.2 1574,612.7 1574.8,612.6 1575.6,613.8 1576.4,612.6 1577.2,608.6 1578,604.2 1578.8,602.7 1579.6,603.5 1580.4,604.9 1581.2,607.5 1582,608.4 1582.8,606.5 1583.6,605.7 1584.4,605.9 1585.2,605.1 1586,604.4 1586.8,605.2 1587.6,607.7 1588.4,605.2 1589.2,602.3 1590,602.3 1590.8,602.6 1591.6,603.7 1592.4,602.6 1593.2,599.3 1594,599.4 1594.8,598.5 1595.6,596.7 1596.4,595.8 1597.2,595.5 1598,594.6 1598.8,594.6 1599.6,594.8 1600.4,593.6 1601.2,592.7 1602,592.9 1602.8,594.1 1603.6,593.9 1604.4,591.9 1605.2,589.4 1606,586.6 1606.8,587.1 1607.6,592.4 1608.4,593 1609.2,590.2 1610,587.2 1610.8,585.7 1611.6,584.5 1612.4,584.6 1613.2,589.6 1614,590.8 1614.8,585.6 1615.6,583.2 1616.4,584.9 1617.2,582.9 1618,578.5 1618.8,579.1 1619.6,580.6 1620.4,577.9 1621.2,578.1 1622,582.8 1622.8,579.9 1623.6,575 1624.4,571.9 1625.2,569.4 1626,569.2 1626.8,573.9 1627.6,580.7 1628.4,582.8 1629.2,581.2 1630,584 1630.8,581.6 1631.6,579.5 1632.4,580.9 1633.2,584 1634,587.3 1634.8,585.4 1635.6,580.6 1636.4,576.3 1637.2,576 1638,575.4 1638.8,574.7 1639.6,577.1 1640.4,582.3 1641.2,587 1642,585.9 1642.8,580.6 1643.6,577.2 1644.4,578.5 1645.2,579.1 1646,575.4 1646.8,572.4 1647.6,571.9 1648.4,576.1 1649.2,579.9 1650,583.1 1650.8,578.5 1651.6,573.8 1652.4,572.7 1653.2,575 1654,578.5 1654.8,578.2 1655.6,574 1656.4,575.3 1657.2,579.8 1658,578.8 1658.8,577.1 1659.6,578.4 1660.4,579.2 1661.2,582.2 1662,584.6 1662.8,579.4 1663.6,575.3 1664.4,578.4 1665.2,581.1 1666,583.5 1666.8,587.1 1667.6,582.9 1668.4,584.3 1669.2,591 1670,594.1 1670.8,596.6 1671.6,589.4 1672.4,565.8 1673.2,538.9 1674,521.4 1674.8,509.5 1675.6,525.6 1676.4,540.3 1677.2,563.3 1678,575.8 1678.8,572.4 1679.6,574.4 1680.4,576.9 1681.2,576 1682,574.4 1682.8,577.9 1683.6,580.4 1684.4,579.5 1685.2,584 1686,586.1 1686.8,585 1686.8,599.6 1686,597.8 1685.2,591.8 1684.4,590.6 1683.6,591.4 1682.8,587.9 1682,585.7 1681.2,590.8 1680.4,594.2 1679.6,592 1678.8,587.8 1678,587 1677.2,571.7 1676.4,550.5 1675.6,533.4 1674.8,521.3 1674,533.1 1673.2,547.8 1672.4,573.8 1671.6,598 1670.8,604.2 1670,605.4 1669.2,607.2 1668.4,601.8 1667.6,596.4 1666.8,594.6 1666,597.2 1665.2,598.9 1664.4,597 1663.6,592.8 1662.8,596.9 1662,602.6 1661.2,598.2 1660.4,591.4 1659.6,588.5 1658.8,587.7 1658,589.3 1657.2,587.7 1656.4,585.4 1655.6,584.8 1654.8,587.6 1654,588.1 1653.2,589.2 1652.4,592.5 1651.6,594.4 1650.8,593 1650,592.1 1649.2,595 1648.4,593.5 1647.6,589.2 1646.8,588.6 1646,590.8 1645.2,594.9 1644.4,595.5 1643.6,594 1642.8,594.7 1642,596.2 1641.2,595.6 1640.4,592.6 1639.6,590.2 1638.8,589.2 1638,590 1637.2,590 1636.4,589.6 1635.6,592.2 1634.8,596.2 1634,599.7 1633.2,598.2 1632.4,593.9 1631.6,589.3 1630.8,589.9 1630,593.3 1629.2,591.4 1628.4,590.3 1627.6,594 1626.8,594 1626,594.2 1625.2,597.3 1624.4,599.8 1623.6,598.3 1622.8,594.9 1622,590.7 1621.2,587.4 1620.4,586.5 1619.6,589.9 1618.8,593.2 1618,593.3 1617.2,593.2 1616.4,593.6 1615.6,594.4 1614.8,596.8 1614,600 1613.2,596.8 1612.4,595.1 1611.6,597.7 1610.8,600.3 1610,601.8 1609.2,603.3 1608.4,603 1607.6,599.9 1606.8,598.7 1606,600 1605.2,603.3 1604.4,606 1603.6,608.2 1602.8,608.8 1602,608.3 1601.2,608.3 1600.4,607.4 1599.6,603.5 1598.8,605 1598,609.8 1597.2,611 1596.4,608.3 1595.6,606.2 1594.8,606 1594,605.5 1593.2,606.5 1592.4,609 1591.6,611.7 1590.8,614 1590,616.5 1589.2,616.8 1588.4,616.4 1587.6,614.2 1586.8,613.3 1586,614 1585.2,614.8 1584.4,613.9 1583.6,611.6 1582.8,612.3 1582,614.2 1581.2,614.7 1580.4,615.9 1579.6,618.3 1578.8,618.3 1578,617.2 1577.2,618 1576.4,619.1 1575.6,619.3 1574.8,618.9 1574,618.2 1573.2,618.6 1572.4,619.5 1571.6,619.6 1570.8,618.8 1570,618.8 1569.2,619.4 1568.4,618.9 1567.6,618.5 1566.8,618.3 1566,618.3 1565.2,618.3 1564.4,617.7 1563.6,616.1 1562.8,615.2 1562,615.6 1561.2,617.1 1560.4,617.9 1559.6,616.2 1558.8,614.9 1558,615.6 1557.2,617.1 1556.4,618.2 1555.6,616.8 1554.8,615.8 1554,616.7 1553.2,617 1552.4,616.6 1551.6,617 1550.8,617.8 1550,617.9 1549.2,617.4 1548.4,617.2 1547.6,617.1 1546.8,616.8 1546,617.5 1545.2,618.8 1544.4,618.9 1543.6,618.4 1542.8,618.5 1542,618.3 1541.2,616.4 1540.4,615.9 1539.6,615.5 1538.8,615.8 1538,617.4 1537.2,618.4 1536.4,617.8 1535.6,618.3 1534.8,618.3 1534,616.6 1533.2,615.9 1532.4,616.2 1531.6,616.1 1530.8,615.8 1530,615.9 1529.2,614.9 1528.4,614.7 1527.6,617 1526.8,618.3 1526,617 1525.2,616.1 1524.4,616.1 1523.6,615.9 1522.8,616.5 1522,616.9 1521.2,616.2 1520.4,615.5 1519.6,615 1518.8,615.7 1518,616.4 1517.2,616.4 1516.4,614.9 1515.6,612.7 1514.8,613.9 1514,615.3 1513.2,615.2 1512.4,615.5 1511.6,615.1 1510.8,613.6 1510,613 1509.2,612.5 1508.4,612.7 1507.6,614 1506.8,614.8 1506,614.3 1505.2,612.7 1504.4,611.9 1503.6,612 1502.8,612 1502,611.8 1501.2,612.2 1500.4,612.7 1499.6,613 1498.8,613.1 1498,611.9 1497.2,612.1 1496.4,612.4 1495.6,611.9 1494.8,611.4 1494,610.9 1493.2,610 1492.4,609.1 1491.6,608.2 1490.8,608.3 1490,580.5 1489.2,551 1488.4,522.1 1487.6,512.6 1486.8,505.3 1486,499.2 1485.2,511.3 1484.4,527.8 1483.6,544 1482.8,556.3 1482,568.2 1481.2,579.5 1480.4,572 1479.6,563.8 1478.8,554.9 1478,556 1477.2,557.5 1476.4,559.7 1475.6,563.9 1474.8,567.2 1474,569.2 1473.2,567.9 1472.4,568.1 1471.6,568.2 1470.8,567.8 1470,567.1 1469.2,566.3 1468.4,565.8 1467.6,566 1466.8,565.5 1466,565.5 1465.2,565.4 1464.4,565.4 1463.6,565.9 1462.8,567.2 1462,567.4 1461.2,566.9 1460.4,567.1 1459.6,568.9 1458.8,568.2 1458,564.9 1457.2,561.3 1456.4,561 1455.6,558.7 1454.8,558.6 1454,563.2 1453.2,568.1 1452.4,573.8 1451.6,578.9 1450.8,584.1 1450,589.9 1449.2,595.4 1448.4,600.2 1447.6,605.2 1446.8,606.7 1446,607.4 1445.2,607.7 1444.4,607.4 1443.6,606 1442.8,604.8 1442,605.5 1441.2,606.7 1440.4,607 1439.6,607 1438.8,607.9 1438,608.5 1437.2,607.3 1436.4,606.7 1435.6,607 1434.8,606.6 1434,606.6 1433.2,607.1" fill="#b0b0b0"/>
<polyline points="1433.2,603 1434,602.9 1434.8,603.3 1435.6,604.2 1436.4,604.1 1437.2,604.1 1438,604.7 1438.8,603.8 1439.6,603 1440.4,603.3 1441.2,603.3 1442,602.1 1442.8,601.2 1443.6,601.9 1444.4,602.8 1445.2,602.7 1446,602.4 1446.8,602 1447.6,600.7 1448.4,596.2 1449.2,592.3 1450,587.3 1450.8,580.8 1451.6,575.6 1452.4,571 1453.2,565.7 1454,560.5 1454.8,556.2 1455.6,555.6 1456.4,557.8 1457.2,558.9 1458,561.1 1458.8,563.9 1459.6,565.5 1460.4,564.7 1461.2,564.4 1462,564.7 1462.8,564 1463.6,562.7 1464.4,562.6 1465.2,563 1466,562.8 1466.8,562.7 1467.6,563.3 1468.4,563.5 1469.2,563.5 1470,563.9 1470.8,564.5 1471.6,564.9 1472.4,564.9 1473.2,564.8 1474,566.4 1474.8,564.9 1475.6,561.1 1476.4,556.7 1477.2,554.3 1478,553 1478.8,552.5 1479.6,560.8 1480.4,568.7 1481.2,576.5 1482,565.4 1482.8,553.7 1483.6,541.6 1484.4,524.8 1485.2,507.7 1486,495.7 1486.8,502.7 1487.6,509.6 1488.4,518.5 1489.2,547.5 1490,577.2 1490.8,605.6 1491.6,605.4 1492.4,605.4 1493.2,606 1494,607.1 1494.8,607.8 1495.6,608.4 1496.4,608.9 1497.2,609.2 1498,609.2 1498.8,609.5 1499.6,609.2 1500.4,609.4 1501.2,609.4 1502,609.1 1502.8,609.4 1503.6,609.6 1504.4,609.3 1505.2,609.8 1506,610.9 1506.8,610.7 1507.6,609.9 1508.4,609.1 1509.2,609.5 1510,610.5 1510.8,611 1511.6,611.6 1512.4,611.2 1513.2,610.6 1514,611.1 1514.8,610.8 1515.6,610.4 1516.4,612.3 1517.2,613.8 1518,613.7 1518.8,613.1 1519.6,612.7 1520.4,613.1 1521.2,613.6 1522,614.1 1522.8,613.9 1523.6,613.5 1524.4,613.2 1525.2,613.1 1526,614.3 1526.8,615.7 1527.6,613.9 1528.4,611.4 1529.2,611.6 1530,613.1 1530.8,613.2 1531.6,612.8 1532.4,612.4 1533.2,612 1534,612.7 1534.8,614.3 1535.6,614.5 1536.4,614.2 1537.2,615 1538,614.7 1538.8,612.6 1539.6,611.6 1540.4,612.5 1541.2,614.1 1542,615.3 1542.8,615.3 1543.6,615 1544.4,615.1 1545.2,614.8 1546,613.6 1546.8,613.3 1547.6,613.4 1548.4,613 1549.2,613.3 1550,614.6 1550.8,615.2 1551.6,614.5 1552.4,613.8 1553.2,614.2 1554,614.1 1554.8,613.4 1555.6,614.2 1556.4,615.3 1557.2,614.2 1558,612.8 1558.8,612 1559.6,613.1 1560.4,614.7 1561.2,614.1 1562,613 1562.8,612.6 1563.6,612.8 1564.4,613.6 1565.2,613.4 1566,612.6 1566.8,612.4 1567.6,612.9 1568.4,613.9 1569.2,615.3 1570,615.8 1570.8,615.8 1571.6,615.9 1572.4,615.6 1573.2,615.4 1574,615.4 1574.8,615.8 1575.6,616.6 1576.4,615.8 1577.2,613.3 1578,610.7 1578.8,610.5 1579.6,610.9 1580.4,610.4 1581.2,611.1 1582,611.3 1582.8,609.4 1583.6,608.7 1584.4,609.9 1585.2,609.9 1586,609.2 1586.8,609.2 1587.6,611 1588.4,610.8 1589.2,609.6 1590,609.4 1590.8,608.3 1591.6,607.7 1592.4,605.8 1593.2,602.9 1594,602.5 1594.8,602.2 1595.6,601.4 1596.4,602.1 1597.2,603.2 1598,602.2 1598.8,599.8 1599.6,599.1 1600.4,600.5 1601.2,600.5 1602,600.6 1602.8,601.5 1603.6,601 1604.4,599 1605.2,596.3 1606,593.3 1606.8,592.9 1607.6,596.1 1608.4,598 1609.2,596.8 1610,594.5 1610.8,593 1611.6,591.1 1612.4,589.8 1613.2,593.2 1614,595.4 1614.8,591.2 1615.6,588.8 1616.4,589.2 1617.2,588 1618,585.9 1618.8,586.1 1619.6,585.3 1620.4,582.2 1621.2,582.8 1622,586.7 1622.8,587.4 1623.6,586.7 1624.4,585.8 1625.2,583.4 1626,581.7 1626.8,584 1627.6,587.4 1628.4,586.6 1629.2,586.3 1630,588.6 1630.8,585.8 1631.6,584.4 1632.4,587.4 1633.2,591.1 1634,593.5 1634.8,590.8 1635.6,586.4 1636.4,583 1637.2,583 1638,582.7 1638.8,581.9 1639.6,583.7 1640.4,587.4 1641.2,591.3 1642,591.1 1642.8,587.7 1643.6,585.6 1644.4,587 1645.2,587 1646,583.1 1646.8,580.5 1647.6,580.5 1648.4,584.8 1649.2,587.5 1650,587.6 1650.8,585.8 1651.6,584.1 1652.4,582.6 1653.2,582.1 1654,583.3 1654.8,582.9 1655.6,579.4 1656.4,580.4 1657.2,583.8 1658,584.1 1658.8,582.4 1659.6,583.4 1660.4,585.3 1661.2,590.2 1662,593.6 1662.8,588.1 1663.6,584.1 1664.4,587.7 1665.2,590 1666,590.4 1666.8,590.8 1667.6,589.7 1668.4,593.1 1669.2,599.1 1670,599.8 1670.8,600.4 1671.6,593.7 1672.4,569.8 1673.2,543.4 1674,527.3 1674.8,515.4 1675.6,529.5 1676.4,545.4 1677.2,567.5 1678,581.4 1678.8,580.1 1679.6,583.2 1680.4,585.6 1681.2,583.4 1682,580 1682.8,582.9 1683.6,585.9 1684.4,585 1685.2,587.9 1686,592 1686.8,592.3" fill="none" stroke="#000" stroke-width="2.4" stroke-linejoin="round"/>
<rect x="1544" y="492.3" width="44.8" height="132.3" fill="#00ff00" fill-opacity="0.2"/>
<line x1="1433.3" y1="492.3" x2="1433.3" y2="625.6" stroke="#222" stroke-width="2"/>
<line x1="1432.3" y1="624.6" x2="1686.3" y2="624.6" stroke="#222" stroke-width="2"/>
<line x1="1433.3" y1="624.6" x2="1433.3" y2="628.1" stroke="#222" stroke-width="2"/>
<line x1="1483.9" y1="624.6" x2="1483.9" y2="628.1" stroke="#222" stroke-width="2"/>
<line x1="1686.3" y1="624.6" x2="1686.3" y2="628.1" stroke="#222" stroke-width="2"/>
<line x1="1429.8" y1="513.5" x2="1433.3" y2="513.5" stroke="#222" stroke-width="2"/>
<text x="1424.3" y="522.9" text-anchor="end">1</text>
<line x1="1429.8" y1="624.6" x2="1433.3" y2="624.6" stroke="#222" stroke-width="2"/>
<text x="1424.3" y="634" text-anchor="end">0</text>
<text x="1431.8" y="661.8" text-anchor="middle">-2</text>
<text x="1483.9" y="661.8" text-anchor="middle">0</text>
<text x="1686.8" y="661.8" text-anchor="middle">8</text>
<text x="1584.8" y="669.5" text-anchor="middle">Time from</text>
<text x="1584.8" y="705.6" text-anchor="middle">landing (s)</text>
<path d="M1765.1 53.6H2016.4v14.5H1765.1zM1765.1 67.7H2016.4v14.5H1765.1zM1765.1 81.8H2016.4v14.5H1765.1zM1765.1 95.9H2016.4v14.5H1765.1zM1765.1 110H2016.4v14.5H1765.1zM1765.1 124.1H2016.4v14.5H1765.1zM1765.1 138.2H1992v14.5H1765.1zM1765.1 152.3H1980v14.5H1765.1zM1765.1 166.4H1980v14.5H1765.1zM1765.1 180.5H1972.2v14.5H1765.1zM1765.1 194.6H1972.2v14.5H1765.1zM1765.1 208.7H1961.4v14.5H1765.1zM1765.1 222.8H1959.1v14.5H1765.1zM1765.1 236.9H1959.1v14.5H1765.1zM1765.1 251H1949.3v14.5H1765.1zM1765.1 265.1H1929.5v14.5H1765.1zM1765.1 279.2H1894.5v14.5H1765.1z" fill="#00008f"/>
<path d="M1843.6 53.6h3.4v14.4h-3.4zM1893.9 53.6h3.4v14.4h-3.4zM1906.5 53.6h6.6v14.4h-6.6zM1947.3 53.6h3.4v14.4h-3.4zM1765.1 67.7h9.7v14.4h-9.7zM1809.1 67.7h28.6v14.4h-28.6zM1853.1 67.7h6.6v14.4h-6.6zM2010.1 67.7h3.4v14.4h-3.4zM1783.9 81.8h3.4v14.4h-3.4zM1812.2 81.8h3.4v14.4h-3.4zM1827.9 81.8h3.4v14.4h-3.4zM1950.4 81.8h3.4v14.4h-3.4zM2007 81.8h6.6v14.4h-6.6zM1765.1 95.9h38v14.4h-38zM1818.5 95.9h3.4v14.4h-3.4zM1959.9 95.9h3.4v14.4h-3.4zM1985 95.9h9.7v14.4h-9.7zM1790.2 110h25.4v14.4h-25.4zM1978.7 110h3.4v14.4h-3.4zM1765.1 124.1h9.7v14.4h-9.7zM1809.1 124.1h16v14.4h-16zM1843.6 124.1h3.4v14.4h-3.4zM1903.3 124.1h47.4v14.4h-47.4zM1966.1 124.1h6.6v14.4h-6.6zM2003.8 124.1h3.4v14.4h-3.4zM1787.1 138.2h3.4v14.4h-3.4zM1846.8 138.2h3.4v14.4h-3.4zM1893.9 138.2h3.4v14.4h-3.4zM1959.9 138.2h19.1v14.4h-19.1zM1815.4 152.3h3.4v14.4h-3.4zM1887.6 152.3h19.1v14.4h-19.1zM1915.9 152.3h3.4v14.4h-3.4zM1947.3 152.3h3.4v14.4h-3.4zM1765.1 166.4h22.3v14.4h-22.3zM1805.9 166.4h6.6v14.4h-6.6zM1928.4 166.4h6.6v14.4h-6.6zM1959.9 166.4h3.4v14.4h-3.4zM1765.1 180.5h12.9v14.4h-12.9zM1922.2 180.5h6.6v14.4h-6.6zM1790.2 194.6h28.6v14.4h-28.6zM1859.3 194.6h16v14.4h-16zM1903.3 194.6h12.9v14.4h-12.9zM1793.4 208.7h38v14.4h-38zM1878.2 208.7h9.7v14.4h-9.7zM1931.6 208.7h6.6v14.4h-6.6zM1780.8 222.8h3.4v14.4h-3.4zM1843.6 222.8h3.4v14.4h-3.4zM1900.2 222.8h9.7v14.4h-9.7zM1956.7 222.8h3.4v14.4h-3.4zM1765.1 236.9h56.8v14.4h-56.8zM1780.8 251h6.6v14.4h-6.6zM1818.5 251h3.4v14.4h-3.4zM1919 251h3.4v14.4h-3.4zM1765.1 265.1h9.7v14.4h-9.7zM1840.5 265.1h3.4v14.4h-3.4zM1922.2 265.1h3.4v14.4h-3.4zM1765.1 279.2h6.6v14.4h-6.6zM1796.5 279.2h3.4v14.4h-3.4zM1831.1 279.2h3.4v14.4h-3.4z" fill="#0000bb"/>
<path d="M1774.5 53.6h3.4v14.4h-3.4zM1890.8 53.6h3.4v14.4h-3.4zM1950.4 53.6h3.4v14.4h-3.4zM1774.5 67.7h34.9v14.4h-34.9zM1859.3 67.7h3.4v14.4h-3.4zM1809.1 81.8h3.4v14.4h-3.4zM1931.6 81.8h3.4v14.4h-3.4zM1953.6 81.8h3.4v14.4h-3.4zM2003.8 81.8h3.4v14.4h-3.4zM1994.4 95.9h22.3v14.4h-22.3zM1787.1 110h3.4v14.4h-3.4zM1846.8 110h3.4v14.4h-3.4zM1975.6 110h3.4v14.4h-3.4zM1774.5 124.1h34.9v14.4h-34.9zM1900.2 124.1h3.4v14.4h-3.4zM1972.4 124.1h3.4v14.4h-3.4zM2000.7 124.1h3.4v14.4h-3.4zM1978.7 138.2h12.9v14.4h-12.9zM1818.5 152.3h3.4v14.4h-3.4zM1884.5 152.3h3.4v14.4h-3.4zM1812.2 166.4h3.4v14.4h-3.4zM1925.3 166.4h3.4v14.4h-3.4zM1818.5 180.5h3.4v14.4h-3.4zM1818.5 194.6h3.4v14.4h-3.4zM1915.9 194.6h3.4v14.4h-3.4zM1831.1 208.7h3.4v14.4h-3.4zM1909.6 222.8h3.4v14.4h-3.4zM1953.6 222.8h3.4v14.4h-3.4zM1915.9 251h3.4v14.4h-3.4zM1919 265.1h3.4v14.4h-3.4zM1793.4 279.2h3.4v14.4h-3.4zM1834.2 279.2h3.4v14.4h-3.4z" fill="#0000e7"/>
<path d="M1846.8 53.6h3.4v14.4h-3.4zM2013.3 53.6h3.4v14.4h-3.4zM1787.1 81.8h3.4v14.4h-3.4zM1831.1 81.8h3.4v14.4h-3.4zM1956.7 81.8h3.4v14.4h-3.4zM1821.6 95.9h3.4v14.4h-3.4zM1956.7 95.9h3.4v14.4h-3.4zM1972.4 110h3.4v14.4h-3.4zM1846.8 124.1h3.4v14.4h-3.4zM1783.9 138.2h3.4v14.4h-3.4zM1919 152.3h3.4v14.4h-3.4zM1944.2 152.3h3.4v14.4h-3.4zM1922.2 166.4h3.4v14.4h-3.4zM1919 180.5h3.4v14.4h-3.4zM1875 208.7h3.4v14.4h-3.4zM1887.6 208.7h3.4v14.4h-3.4zM1928.4 208.7h3.4v14.4h-3.4zM1846.8 222.8h3.4v14.4h-3.4zM1897 222.8h3.4v14.4h-3.4zM1912.7 222.8h3.4v14.4h-3.4zM1950.4 222.8h3.4v14.4h-3.4zM1821.6 251h3.4v14.4h-3.4zM1865.6 251h6.6v14.4h-6.6zM1843.6 265.1h3.4v14.4h-3.4zM1771.4 279.2h3.4v14.4h-3.4zM1790.2 279.2h3.4v14.4h-3.4z" fill="#0013ff"/>
<path d="M1887.6 53.6h3.4v14.4h-3.4zM2010.1 53.6h3.4v14.4h-3.4zM1862.5 67.7h3.4v14.4h-3.4zM2007 67.7h3.4v14.4h-3.4zM1805.9 81.8h3.4v14.4h-3.4zM2000.7 81.8h3.4v14.4h-3.4zM1969.3 110h3.4v14.4h-3.4zM1975.6 124.1h3.4v14.4h-3.4zM1849.9 138.2h3.4v14.4h-3.4zM1890.8 138.2h3.4v14.4h-3.4zM1815.4 166.4h3.4v14.4h-3.4zM1934.7 166.4h3.4v14.4h-3.4zM1956.7 166.4h3.4v14.4h-3.4zM1915.9 180.5h3.4v14.4h-3.4zM1856.2 194.6h3.4v14.4h-3.4zM1919 194.6h3.4v14.4h-3.4zM1834.2 208.7h3.4v14.4h-3.4zM1890.8 208.7h3.4v14.4h-3.4zM1925.3 208.7h3.4v14.4h-3.4zM1777.7 222.8h3.4v14.4h-3.4zM1915.9 222.8h34.9v14.4h-34.9zM1821.6 236.9h3.4v14.4h-3.4zM1777.7 251h3.4v14.4h-3.4zM1871.9 251h12.9v14.4h-12.9zM1774.5 279.2h16v14.4h-16zM1837.3 279.2h3.4v14.4h-3.4z" fill="#003fff"/>
<path d="M1953.6 53.6h3.4v14.4h-3.4zM1978.7 53.6h3.4v14.4h-3.4zM1790.2 81.8h3.4v14.4h-3.4zM1897 124.1h3.4v14.4h-3.4zM1997.6 124.1h3.4v14.4h-3.4zM1821.6 152.3h3.4v14.4h-3.4zM1881.3 152.3h3.4v14.4h-3.4zM1818.5 166.4h3.4v14.4h-3.4zM1856.2 166.4h6.6v14.4h-6.6zM1887.6 166.4h3.4v14.4h-3.4zM1919 166.4h3.4v14.4h-3.4zM1893.9 208.7h3.4v14.4h-3.4zM1922.2 208.7h3.4v14.4h-3.4zM1862.5 251h3.4v14.4h-3.4zM1884.5 251h3.4v14.4h-3.4zM1915.9 265.1h3.4v14.4h-3.4z" fill="#006bff"/>
<path d="M1771.4 53.6h3.4v14.4h-3.4zM1849.9 53.6h3.4v14.4h-3.4zM1975.6 53.6h3.4v14.4h-3.4zM1981.8 53.6h28.6v14.4h-28.6zM1865.6 67.7h3.4v14.4h-3.4zM1793.4 81.8h12.9v14.4h-12.9zM1928.4 81.8h3.4v14.4h-3.4zM1959.9 81.8h3.4v14.4h-3.4zM1824.8 95.9h3.4v14.4h-3.4zM1953.6 95.9h3.4v14.4h-3.4zM1783.9 110h3.4v14.4h-3.4zM1849.9 110h3.4v14.4h-3.4zM1915.9 110h3.4v14.4h-3.4zM1966.1 110h3.4v14.4h-3.4zM1849.9 124.1h3.4v14.4h-3.4zM1780.8 138.2h3.4v14.4h-3.4zM1922.2 152.3h3.4v14.4h-3.4zM1821.6 166.4h34.9v14.4h-34.9zM1884.5 166.4h3.4v14.4h-3.4zM1890.8 166.4h28.6v14.4h-28.6zM1821.6 180.5h3.4v14.4h-3.4zM1821.6 194.6h3.4v14.4h-3.4zM1922.2 194.6h3.4v14.4h-3.4zM1897 208.7h25.4v14.4h-25.4zM1893.9 222.8h3.4v14.4h-3.4zM1893.9 236.9h6.6v14.4h-6.6zM1912.7 251h3.4v14.4h-3.4zM1846.8 265.1h3.4v14.4h-3.4z" fill="#0096ff"/>
<path d="M1884.5 53.6h3.4v14.4h-3.4zM1912.7 67.7h3.4v14.4h-3.4zM2003.8 67.7h3.4v14.4h-3.4zM1834.2 81.8h3.4v14.4h-3.4zM1997.6 81.8h3.4v14.4h-3.4zM1919 110h3.4v14.4h-3.4zM1978.7 124.1h3.4v14.4h-3.4zM1941 152.3h3.4v14.4h-3.4zM1862.5 166.4h3.4v14.4h-3.4zM1937.9 166.4h3.4v14.4h-3.4zM1953.6 166.4h3.4v14.4h-3.4zM1912.7 180.5h3.4v14.4h-3.4zM1871.9 208.7h3.4v14.4h-3.4zM1824.8 236.9h3.4v14.4h-3.4zM1900.2 236.9h3.4v14.4h-3.4z" fill="#00c2ff"/>
<path d="M1956.7 53.6h3.4v14.4h-3.4zM1972.4 53.6h3.4v14.4h-3.4zM1843.6 95.9h6.6v14.4h-6.6zM1950.4 95.9h3.4v14.4h-3.4zM1912.7 110h3.4v14.4h-3.4zM1922.2 110h3.4v14.4h-3.4zM1963 110h3.4v14.4h-3.4zM1893.9 124.1h3.4v14.4h-3.4zM1994.4 124.1h3.4v14.4h-3.4zM1765.1 138.2h3.4v14.4h-3.4zM1853.1 138.2h3.4v14.4h-3.4zM1887.6 138.2h3.4v14.4h-3.4zM1881.3 166.4h3.4v14.4h-3.4zM1853.1 194.6h3.4v14.4h-3.4zM1925.3 194.6h3.4v14.4h-3.4zM1969.3 194.6h3.4v14.4h-3.4zM1837.3 208.7h3.4v14.4h-3.4zM1774.5 222.8h3.4v14.4h-3.4zM1890.8 222.8h3.4v14.4h-3.4zM1890.8 236.9h3.4v14.4h-3.4zM1774.5 251h3.4v14.4h-3.4zM1824.8 251h3.4v14.4h-3.4zM1859.3 251h3.4v14.4h-3.4zM1887.6 251h3.4v14.4h-3.4zM1912.7 265.1h3.4v14.4h-3.4zM1840.5 279.2h3.4v14.4h-3.4z" fill="#00eeff"/>
<path d="M1765.1 53.6h6.6v14.4h-6.6zM1959.9 53.6h12.9v14.4h-12.9zM1868.8 67.7h3.4v14.4h-3.4zM1909.6 67.7h3.4v14.4h-3.4zM1915.9 67.7h3.4v14.4h-3.4zM1966.1 67.7h6.6v14.4h-6.6zM1997.6 67.7h6.6v14.4h-6.6zM1837.3 81.8h3.4v14.4h-3.4zM1827.9 95.9h16v14.4h-16zM1931.6 95.9h19.1v14.4h-19.1zM1925.3 110h38v14.4h-38zM1878.2 124.1h16v14.4h-16zM1981.8 124.1h12.9v14.4h-12.9zM1768.2 138.2h12.9v14.4h-12.9zM1881.3 138.2h6.6v14.4h-6.6zM1824.8 152.3h3.4v14.4h-3.4zM1925.3 152.3h16v14.4h-16zM1865.6 166.4h16v14.4h-16zM1941 166.4h12.9v14.4h-12.9zM1909.6 180.5h3.4v14.4h-3.4zM1840.5 208.7h3.4v14.4h-3.4zM1765.1 222.8h9.7v14.4h-9.7zM1849.9 222.8h3.4v14.4h-3.4zM1878.2 222.8h12.9v14.4h-12.9zM1827.9 236.9h9.7v14.4h-9.7zM1878.2 236.9h12.9v14.4h-12.9zM1956.7 236.9h3.4v14.4h-3.4zM1765.1 251h9.7v14.4h-9.7zM1856.2 251h3.4v14.4h-3.4zM1878.2 279.2h16v14.4h-16z" fill="#1affe5"/>
<path d="M1853.1 53.6h3.4v14.4h-3.4zM1919 67.7h3.4v14.4h-3.4zM1994.4 67.7h3.4v14.4h-3.4zM1840.5 81.8h3.4v14.4h-3.4zM1963 81.8h3.4v14.4h-3.4zM1849.9 95.9h3.4v14.4h-3.4zM1903.3 95.9h6.6v14.4h-6.6zM1909.6 110h3.4v14.4h-3.4zM1868.8 180.5h3.4v14.4h-3.4zM1928.4 194.6h3.4v14.4h-3.4zM1966.1 194.6h3.4v14.4h-3.4zM1843.6 208.7h3.4v14.4h-3.4zM1868.8 208.7h3.4v14.4h-3.4zM1875 222.8h3.4v14.4h-3.4zM1837.3 236.9h3.4v14.4h-3.4zM1875 236.9h3.4v14.4h-3.4zM1903.3 236.9h3.4v14.4h-3.4zM1853.1 251h3.4v14.4h-3.4zM1881.3 265.1h3.4v14.4h-3.4zM1909.6 265.1h3.4v14.4h-3.4zM1875 279.2h3.4v14.4h-3.4z" fill="#46ffb9"/>
<path d="M1881.3 53.6h3.4v14.4h-3.4zM1906.5 67.7h3.4v14.4h-3.4zM1922.2 67.7h3.4v14.4h-3.4zM1963 67.7h3.4v14.4h-3.4zM1994.4 81.8h3.4v14.4h-3.4zM1928.4 95.9h3.4v14.4h-3.4zM1780.8 110h3.4v14.4h-3.4zM1881.3 110h6.6v14.4h-6.6zM1853.1 124.1h3.4v14.4h-3.4zM1875 124.1h3.4v14.4h-3.4zM1878.2 138.2h3.4v14.4h-3.4zM1878.2 152.3h3.4v14.4h-3.4zM1824.8 180.5h3.4v14.4h-3.4zM1871.9 180.5h3.4v14.4h-3.4zM1906.5 180.5h3.4v14.4h-3.4zM1849.9 194.6h3.4v14.4h-3.4zM1931.6 194.6h3.4v14.4h-3.4zM1963 194.6h3.4v14.4h-3.4zM1953.6 236.9h3.4v14.4h-3.4zM1849.9 265.1h3.4v14.4h-3.4zM1884.5 265.1h3.4v14.4h-3.4z" fill="#72ff8d"/>
<path d="M1871.9 67.7h3.4v14.4h-3.4zM1925.3 67.7h38v14.4h-38zM1972.4 67.7h3.4v14.4h-3.4zM1903.3 81.8h6.6v14.4h-6.6zM1853.1 95.9h3.4v14.4h-3.4zM1900.2 95.9h3.4v14.4h-3.4zM1887.6 110h22.3v14.4h-22.3zM1853.1 152.3h3.4v14.4h-3.4zM1865.6 180.5h3.4v14.4h-3.4zM1875 180.5h31.7v14.4h-31.7zM1824.8 194.6h3.4v14.4h-3.4zM1934.7 194.6h28.6v14.4h-28.6zM1906.5 236.9h3.4v14.4h-3.4zM1909.6 251h3.4v14.4h-3.4zM1878.2 265.1h3.4v14.4h-3.4zM1887.6 265.1h22.3v14.4h-22.3zM1843.6 279.2h3.4v14.4h-3.4z" fill="#9dff62"/>
<path d="M1856.2 53.6h3.4v14.4h-3.4zM1991.3 67.7h3.4v14.4h-3.4zM1843.6 81.8h3.4v14.4h-3.4zM1868.8 81.8h6.6v14.4h-6.6zM1925.3 81.8h3.4v14.4h-3.4zM1966.1 81.8h3.4v14.4h-3.4zM1991.3 81.8h3.4v14.4h-3.4zM1909.6 95.9h3.4v14.4h-3.4zM1853.1 110h3.4v14.4h-3.4zM1827.9 152.3h3.4v14.4h-3.4zM1849.9 152.3h3.4v14.4h-3.4zM1865.6 208.7h3.4v14.4h-3.4zM1871.9 222.8h3.4v14.4h-3.4zM1840.5 236.9h3.4v14.4h-3.4zM1950.4 236.9h3.4v14.4h-3.4zM1890.8 251h3.4v14.4h-3.4z" fill="#c9ff36"/>
<path d="M1859.3 53.6h3.4v14.4h-3.4zM1878.2 53.6h3.4v14.4h-3.4zM1875 67.7h3.4v14.4h-3.4zM1903.3 67.7h3.4v14.4h-3.4zM1875 81.8h3.4v14.4h-3.4zM1900.2 81.8h3.4v14.4h-3.4zM1969.3 81.8h3.4v14.4h-3.4zM1856.2 95.9h3.4v14.4h-3.4zM1897 95.9h3.4v14.4h-3.4zM1856.2 124.1h3.4v14.4h-3.4zM1871.9 124.1h3.4v14.4h-3.4zM1856.2 138.2h3.4v14.4h-3.4zM1831.1 152.3h3.4v14.4h-3.4zM1846.8 152.3h3.4v14.4h-3.4zM1827.9 180.5h3.4v14.4h-3.4zM1846.8 208.7h3.4v14.4h-3.4zM1871.9 236.9h3.4v14.4h-3.4zM1909.6 236.9h3.4v14.4h-3.4zM1947.3 236.9h3.4v14.4h-3.4zM1849.9 251h3.4v14.4h-3.4zM1871.9 279.2h3.4v14.4h-3.4z" fill="#f5ff0a"/>
<path d="M1862.5 53.6h16v14.4h-16zM1878.2 67.7h25.4v14.4h-25.4zM1878.2 81.8h22.3v14.4h-22.3zM1972.4 81.8h19.1v14.4h-19.1zM1859.3 95.9h38v14.4h-38zM1925.3 95.9h3.4v14.4h-3.4zM1765.1 110h3.4v14.4h-3.4zM1859.3 124.1h12.9v14.4h-12.9zM1875 138.2h3.4v14.4h-3.4zM1834.2 152.3h12.9v14.4h-12.9zM1831.1 180.5h6.6v14.4h-6.6zM1827.9 194.6h3.4v14.4h-3.4zM1853.1 222.8h3.4v14.4h-3.4zM1912.7 236.9h34.9v14.4h-34.9zM1853.1 265.1h3.4v14.4h-3.4zM1875 265.1h3.4v14.4h-3.4z" fill="#ffde00"/>
<path d="M1975.6 67.7h3.4v14.4h-3.4zM1988.1 67.7h3.4v14.4h-3.4zM1909.6 81.8h3.4v14.4h-3.4zM1777.7 110h3.4v14.4h-3.4zM1856.2 152.3h3.4v14.4h-3.4zM1862.5 208.7h3.4v14.4h-3.4zM1906.5 251h3.4v14.4h-3.4zM1846.8 279.2h3.4v14.4h-3.4z" fill="#ffb200"/>
<path d="M1978.7 67.7h9.7v14.4h-9.7zM1912.7 95.9h12.9v14.4h-12.9zM1768.2 110h9.7v14.4h-9.7zM1878.2 110h3.4v14.4h-3.4zM1859.3 138.2h16v14.4h-16zM1875 152.3h3.4v14.4h-3.4zM1846.8 194.6h3.4v14.4h-3.4zM1849.9 208.7h12.9v14.4h-12.9zM1868.8 222.8h3.4v14.4h-3.4zM1827.9 251h3.4v14.4h-3.4zM1893.9 251h12.9v14.4h-12.9zM1856.2 265.1h19.1v14.4h-19.1zM1849.9 279.2h3.4v14.4h-3.4zM1868.8 279.2h3.4v14.4h-3.4z" fill="#ff8600"/>
<path d="M1865.6 81.8h3.4v14.4h-3.4zM1837.3 180.5h3.4v14.4h-3.4zM1862.5 180.5h3.4v14.4h-3.4zM1831.1 194.6h3.4v14.4h-3.4zM1853.1 279.2h3.4v14.4h-3.4zM1865.6 279.2h3.4v14.4h-3.4z" fill="#ff5b00"/>
<path d="M1912.7 81.8h3.4v14.4h-3.4zM1922.2 81.8h3.4v14.4h-3.4zM1859.3 152.3h3.4v14.4h-3.4zM1856.2 222.8h3.4v14.4h-3.4zM1843.6 236.9h3.4v14.4h-3.4z" fill="#ff2f00"/>
<path d="M1846.8 81.8h3.4v14.4h-3.4zM1915.9 81.8h6.6v14.4h-6.6zM1856.2 110h3.4v14.4h-3.4zM1862.5 152.3h12.9v14.4h-12.9zM1859.3 222.8h9.7v14.4h-9.7zM1856.2 279.2h9.7v14.4h-9.7z" fill="#ff0300"/>
<path d="M1868.8 236.9h3.4v14.4h-3.4zM1846.8 251h3.4v14.4h-3.4z" fill="#d70000"/>
<path d="M1849.9 81.8h16v14.4h-16zM1859.3 110h19.1v14.4h-19.1zM1840.5 180.5h22.3v14.4h-22.3zM1834.2 194.6h12.9v14.4h-12.9zM1846.8 236.9h22.3v14.4h-22.3zM1831.1 251h16v14.4h-16z" fill="#800000"/>
<line x1="1765.1" y1="53.6" x2="2016.4" y2="53.6" stroke="#222" stroke-width="2"/>
<line x1="1765.1" y1="293.3" x2="2016.4" y2="293.3" stroke="#222" stroke-width="2"/>
<line x1="1765.1" y1="53.6" x2="1765.1" y2="293.3" stroke="#222" stroke-width="2"/>
<line x1="2016.4" y1="53.6" x2="2016.4" y2="293.3" stroke="#222" stroke-width="2"/>
<line x1="1765.1" y1="47.1" x2="1765.1" y2="53.6" stroke="#222" stroke-width="2"/>
<line x1="1765.1" y1="293.3" x2="1765.1" y2="299.8" stroke="#222" stroke-width="2"/>
<line x1="1815.4" y1="47.1" x2="1815.4" y2="53.6" stroke="#222" stroke-width="2"/>
<line x1="1815.4" y1="293.3" x2="1815.4" y2="299.8" stroke="#222" stroke-width="2"/>
<line x1="2016.4" y1="47.1" x2="2016.4" y2="53.6" stroke="#222" stroke-width="2"/>
<line x1="2016.4" y1="293.3" x2="2016.4" y2="299.8" stroke="#222" stroke-width="2"/>
<line x1="1758.6" y1="60.7" x2="1765.1" y2="60.7" stroke="#222" stroke-width="2"/>
<line x1="2016.4" y1="60.7" x2="2022.9" y2="60.7" stroke="#222" stroke-width="2"/>
<text x="1755.8" y="70.1" text-anchor="end">17</text>
<text x="1772.4" y="40.5">Bat 2</text>
<text x="2016.1" y="40" text-anchor="end">12.9 Hz</text>
<line x1="1815.4" y1="326.7" x2="1815.4" y2="459" stroke="#a0a0a0" stroke-width="2.6"/>
<polyline points="1765.2,421.7 1766.7,422.7 1768.2,423.7 1769.7,424.9 1771.2,426.3 1772.7,427.9 1774.2,429.9 1775.7,432.1 1777.2,434.4 1778.7,436.8 1780.2,439.2 1781.7,441.5 1783.2,443.6 1784.7,445.5 1786.2,447.2 1787.7,448.6 1789.2,449.8 1790.7,450.8 1792.2,451.6 1793.7,452.3 1795.2,452.8 1796.7,453.1 1798.2,453.3 1799.7,453.4 1801.2,453.4 1802.7,453.3 1804.2,453.2 1805.7,453 1807.2,452.8 1808.7,452.5 1810.2,452 1811.7,451.3 1813.2,450.3 1814.7,449 1816.2,447.3 1817.7,445.3 1819.2,442.8 1820.7,439.9 1822.2,436.6 1823.7,432.9 1825.2,428.8 1826.7,424.3 1828.2,419.6 1829.7,414.6 1831.2,409.5 1832.7,404.4 1834.2,399.4 1835.7,394.6 1837.2,390.1 1838.7,385.7 1840.2,381.3 1841.7,376.8 1843.2,372.1 1844.7,367.1 1846.2,361.9 1847.7,356.7 1849.2,351.7 1850.7,347.2 1852.2,343.1 1853.7,339.7 1855.2,337 1856.7,335 1858.2,333.8 1859.7,333.4 1861.2,333.7 1862.7,334.8 1864.2,336.5 1865.7,338.8 1867.2,341.7 1868.7,345.2 1870.2,349.1 1871.7,353.4 1873.2,358 1874.7,362.8 1876.2,367.3 1877.7,371.6 1879.2,375.5 1880.7,378.7 1882.2,381.6 1883.7,384 1885.2,386 1886.7,387.7 1888.2,389.2 1889.7,390.4 1891.2,391.3 1892.7,392 1894.2,392.5 1895.7,392.9 1897.2,393 1898.7,393.1 1900.2,393.2 1901.7,393.3 1903.2,393.5 1904.7,393.8 1906.2,394.3 1907.7,395 1909.2,395.9 1910.7,397 1912.2,398.3 1913.7,399.6 1915.2,401.1 1916.7,402.6 1918.2,404.1 1919.7,405.7 1921.2,407.2 1922.7,408.7 1924.2,410.2 1925.7,411.6 1927.2,412.9 1928.7,414 1930.2,415.1 1931.7,415.9 1933.2,416.6 1934.7,417.1 1936.2,417.5 1937.7,417.7 1939.2,417.8 1940.7,417.9 1942.2,418 1943.7,418 1945.2,417.7 1946.7,417 1948.2,415.6 1949.7,413.6 1951.2,411.1 1952.7,408.6 1954.2,406.6 1955.7,405.7 1957.2,406.7 1958.7,410 1960.2,414.5 1961.7,414.8 1963.2,411 1964.7,408.1 1966.2,407.3 1967.7,407.9 1969.2,409.7 1970.7,412 1971,412.4" fill="none" stroke="#000" stroke-width="2.4" stroke-linejoin="round"/>
<rect x="1844.3" y="326.7" width="30.1" height="132.3" fill="#00ff00" fill-opacity="0.2"/>
<line x1="1765.1" y1="326.7" x2="1765.1" y2="460" stroke="#222" stroke-width="2"/>
<line x1="1764.1" y1="459" x2="2016.4" y2="459" stroke="#222" stroke-width="2"/>
<line x1="1765.1" y1="459" x2="1765.1" y2="462.5" stroke="#222" stroke-width="2"/>
<line x1="1815.4" y1="459" x2="1815.4" y2="462.5" stroke="#222" stroke-width="2"/>
<line x1="2016.4" y1="459" x2="2016.4" y2="462.5" stroke="#222" stroke-width="2"/>
<line x1="1761.6" y1="326.7" x2="1765.1" y2="326.7" stroke="#222" stroke-width="2"/>
<text x="1756.1" y="336.1" text-anchor="end">7</text>
<line x1="1815.4" y1="492.3" x2="1815.4" y2="624.6" stroke="#a0a0a0" stroke-width="2"/>
<polygon points="1765.2,600.6 1766,600.2 1766.8,600.3 1767.6,601.3 1768.4,601.7 1769.2,599.6 1770,597.6 1770.8,597.3 1771.6,596.8 1772.4,598 1773.2,601.7 1774,603 1774.8,599.9 1775.6,595.3 1776.4,589.1 1777.2,583.9 1778,577.3 1778.8,572.8 1779.6,564.1 1780.4,551.1 1781.2,537.8 1782,528.8 1782.8,519.9 1783.6,509.5 1784.4,501.9 1785.2,510 1786,519.2 1786.8,528.7 1787.6,541.6 1788.4,555.9 1789.2,568.8 1790,566.7 1790.8,561.7 1791.6,559.6 1792.4,558.5 1793.2,555.1 1794,550.9 1794.8,548.3 1795.6,547 1796.4,548.2 1797.2,551.5 1798,554.1 1798.8,554.7 1799.6,557 1800.4,558.8 1801.2,558.8 1802,560.6 1802.8,561.5 1803.6,561.2 1804.4,562.5 1805.2,565 1806,567.4 1806.8,569.6 1807.6,571.4 1808.4,573.5 1809.2,574.5 1810,575.5 1810.8,579.2 1811.6,579.8 1812.4,578.7 1813.2,579.3 1814,578.1 1814.8,567.3 1815.6,556.1 1816.4,546.3 1817.2,537.4 1818,531.5 1818.8,530.1 1819.6,546.2 1820.4,561.8 1821.2,573.3 1822,583.7 1822.8,594.3 1823.6,595.8 1824.4,596.3 1825.2,599.6 1826,601.2 1826.8,599.5 1827.6,598.6 1828.4,600.3 1829.2,602.5 1830,602.8 1830.8,601.8 1831.6,600.1 1832.4,598.8 1833.2,598.4 1834,598.2 1834.8,597.9 1835.6,596.8 1836.4,596 1837.2,597.1 1838,599.1 1838.8,598.5 1839.6,596.1 1840.4,594.4 1841.2,595.6 1842,597 1842.8,598.6 1843.6,601.6 1844.4,605.5 1845.2,607.8 1846,607.5 1846.8,605.2 1847.6,604 1848.4,602.8 1849.2,600.7 1850,598.7 1850.8,597.6 1851.6,599.1 1852.4,601.4 1853.2,603.9 1854,607.3 1854.8,609.4 1855.6,610.9 1856.4,611.7 1857.2,611.1 1858,609.6 1858.8,608.5 1859.6,609.8 1860.4,610.5 1861.2,608.3 1862,605.8 1862.8,605.6 1863.6,608.9 1864.4,609 1865.2,607.1 1866,604.1 1866.8,601.3 1867.6,600.4 1868.4,601.7 1869.2,602.2 1870,601 1870.8,600 1871.6,602.3 1872.4,603.7 1873.2,604.3 1874,605.6 1874.8,606.9 1875.6,606.2 1876.4,605.2 1877.2,605.9 1878,605.4 1878.8,605.2 1879.6,604.5 1880.4,602.5 1881.2,601.2 1882,601.2 1882.8,603.2 1883.6,603 1884.4,603.6 1885.2,602.9 1886,600.2 1886.8,598.7 1887.6,600.5 1888.4,602.9 1889.2,604.1 1890,604.4 1890.8,604.3 1891.6,604 1892.4,604.1 1893.2,605.5 1894,607.2 1894.8,607.7 1895.6,605.8 1896.4,603.7 1897.2,603.3 1898,604.1 1898.8,605.4 1899.6,607.5 1900.4,608.6 1901.2,607.4 1902,604.7 1902.8,603.7 1903.6,604 1904.4,603.8 1905.2,603.3 1906,604.1 1906.8,603.3 1907.6,602.6 1908.4,604.4 1909.2,605.8 1910,604.7 1910.8,605.9 1911.6,608.4 1912.4,608.3 1913.2,607.1 1914,607.9 1914.8,608.9 1915.6,607.4 1916.4,608 1917.2,609.8 1918,609.4 1918.8,607.6 1919.6,606 1920.4,605.3 1921.2,608 1922,612.1 1922.8,611.9 1923.6,608.2 1924.4,607.7 1925.2,611.6 1926,613.9 1926.8,611.1 1927.6,608.7 1928.4,606.3 1929.2,605 1930,605.9 1930.8,606.5 1931.6,605.1 1932.4,604.2 1933.2,601.2 1934,600.6 1934.8,600.9 1935.6,600.1 1936.4,600.9 1937.2,603.2 1938,605 1938.8,602 1939.6,598.7 1940.4,597.8 1941.2,598.7 1942,599.2 1942.8,599.2 1943.6,600.3 1944.4,602.1 1945.2,602.6 1946,600.9 1946.8,598.9 1947.6,598.5 1948.4,599.4 1949.2,599.8 1950,598.7 1950.8,597.5 1951.6,597.1 1952.4,596.5 1953.2,597.1 1954,598.8 1954.8,597.7 1955.6,595.4 1956.4,594.9 1957.2,596.1 1958,596 1958.8,594.1 1959.6,593.5 1960.4,594.2 1961.2,594.8 1962,595.5 1962.8,596.4 1963.6,596.2 1964.4,597 1965.2,597.7 1966,597.9 1966.8,599.2 1967.6,601.1 1968.4,602.6 1969.2,602.1 1970,602 1970.8,602.5 1971.6,601.4 1972.4,601.8 1973.2,605.3 1974,609.3 1974.8,608 1975.6,606.2 1976.4,606.7 1977.2,606.5 1978,606 1978.8,608.5 1979.6,611 1980.4,608.7 1981.2,608.1 1982,608 1982.8,607 1983.6,606.5 1984.4,605.7 1985.2,605.3 1986,605.1 1986.8,603.4 1987.6,603.6 1988.4,604.8 1989.2,603.7 1990,602.1 1990.8,602.7 1991.6,603.3 1992.4,603.1 1993.2,604.2 1994,605.7 1994.8,606.2 1995.6,604.5 1996.4,602.6 1997.2,603 1998,602.9 1998.8,601.4 1999.6,600.8 2000.4,598.6 2001.2,599.1 2002,600.6 2002.8,601.4 2003.6,602.8 2004.4,604.3 2005.2,604.7 2006,605.3 2006.8,607.5 2007.6,609 2008.4,609.3 2009.2,609.3 2010,610.4 2010.8,612.8 2011.6,611.5 2012.4,608.4 2013.2,607.9 2014,608.6 2014.8,609 2015.6,610.5 2016.4,611.2 2017.2,611.7 2017.2,619.1 2016.4,617.9 2015.6,617.3 2014.8,618.7 2014,619.8 2013.2,619.2 2012.4,618.6 2011.6,619.4 2010.8,619.1 2010,619.6 2009.2,619.8 2008.4,618.8 2007.6,616.7 2006.8,614.8 2006,614.1 2005.2,614.7 2004.4,613.2 2003.6,608.9 2002.8,609.9 2002,612.3 2001.2,611.6 2000.4,608.6 1999.6,606.9 1998.8,608.2 1998,610.3 1997.2,611.3 1996.4,611.7 1995.6,612.5 1994.8,611.9 1994,612.4 1993.2,611.1 1992.4,609.1 1991.6,610.4 1990.8,612.7 1990,614.3 1989.2,617.3 1988.4,619.2 1987.6,617.9 1986.8,616.6 1986,617 1985.2,617.2 1984.4,619.4 1983.6,621.9 1982.8,621.4 1982,619.3 1981.2,616.9 1980.4,616.2 1979.6,616.9 1978.8,615.5 1978,614.8 1977.2,616.2 1976.4,616.1 1975.6,615 1974.8,615.8 1974,615.1 1973.2,615.5 1972.4,615.4 1971.6,615.4 1970.8,615 1970,612.5 1969.2,609.8 1968.4,608.6 1967.6,608.3 1966.8,606.1 1966,604.6 1965.2,605.2 1964.4,605.2 1963.6,604.8 1962.8,604.8 1962,603.4 1961.2,602.5 1960.4,602.9 1959.6,603.2 1958.8,603.8 1958,605.4 1957.2,605 1956.4,603.2 1955.6,602.9 1954.8,604.6 1954,605.2 1953.2,603.9 1952.4,605.1 1951.6,607.6 1950.8,608.1 1950,607.4 1949.2,606.7 1948.4,605.7 1947.6,604.3 1946.8,605 1946,607.6 1945.2,608.7 1944.4,608.4 1943.6,608.7 1942.8,609.7 1942,610.9 1941.2,610 1940.4,608 1939.6,607.9 1938.8,609.4 1938,611.2 1937.2,612 1936.4,611.2 1935.6,611 1934.8,611.5 1934,610 1933.2,608.9 1932.4,609.9 1931.6,611.3 1930.8,613.2 1930,617.6 1929.2,621.7 1928.4,624.6 1927.6,625.1 1926.8,623.3 1926,620.7 1925.2,620.7 1924.4,619.2 1923.6,618.6 1922.8,619.7 1922,619.7 1921.2,618.4 1920.4,618.2 1919.6,618.5 1918.8,618 1918,616.9 1917.2,616.4 1916.4,616.5 1915.6,615.3 1914.8,614.5 1914,615.2 1913.2,614.5 1912.4,614.3 1911.6,614.2 1910.8,611.5 1910,610.5 1909.2,614.4 1908.4,616.9 1907.6,616.6 1906.8,614.8 1906,611.3 1905.2,609.3 1904.4,609.6 1903.6,610.5 1902.8,611.1 1902,611.8 1901.2,613 1900.4,614.3 1899.6,615.4 1898.8,617.4 1898,617.6 1897.2,614.4 1896.4,611.3 1895.6,611.9 1894.8,613.4 1894,613.8 1893.2,614.2 1892.4,613.7 1891.6,613.9 1890.8,614.8 1890,615.5 1889.2,614 1888.4,610.1 1887.6,607.5 1886.8,608.6 1886,611.7 1885.2,614.6 1884.4,614.1 1883.6,611.2 1882.8,609.3 1882,611 1881.2,613.3 1880.4,614.5 1879.6,615 1878.8,614 1878,612.9 1877.2,612.3 1876.4,610.9 1875.6,611.6 1874.8,612.7 1874,611.9 1873.2,611.1 1872.4,610.3 1871.6,607.8 1870.8,607 1870,608.9 1869.2,610.6 1868.4,610.7 1867.6,610 1866.8,610.6 1866,613.1 1865.2,616.2 1864.4,617.4 1863.6,614.6 1862.8,613.6 1862,614.6 1861.2,616.4 1860.4,617.8 1859.6,617.4 1858.8,616.9 1858,617.8 1857.2,618.3 1856.4,618 1855.6,617.2 1854.8,616.7 1854,616.5 1853.2,615.8 1852.4,615.9 1851.6,614.7 1850.8,611.4 1850,609.1 1849.2,608.4 1848.4,609.5 1847.6,610.9 1846.8,611.3 1846,614.4 1845.2,616.8 1844.4,615.7 1843.6,612.2 1842.8,609.1 1842,607.4 1841.2,605.8 1840.4,604.4 1839.6,605.2 1838.8,605.5 1838,605.3 1837.2,604.2 1836.4,602.6 1835.6,602.3 1834.8,603.7 1834,604.3 1833.2,605.4 1832.4,607.3 1831.6,609.7 1830.8,611.7 1830,612.2 1829.2,610.6 1828.4,607.4 1827.6,605.8 1826.8,608.5 1826,613.2 1825.2,613.7 1824.4,610.1 1823.6,607.2 1822.8,602.6 1822,589.3 1821.2,579.6 1820.4,567.6 1819.6,552.5 1818.8,536.6 1818,537.2 1817.2,545.1 1816.4,555.5 1815.6,565 1814.8,574.1 1814,584 1813.2,585.1 1812.4,584.8 1811.6,585.3 1810.8,586.4 1810,583.3 1809.2,580.4 1808.4,582 1807.6,582.1 1806.8,579.4 1806,574.6 1805.2,570.7 1804.4,569 1803.6,569.3 1802.8,569.8 1802,566.8 1801.2,565.8 1800.4,566.9 1799.6,564.9 1798.8,562.1 1798,560.2 1797.2,559.4 1796.4,559.7 1795.6,559.9 1794.8,560.4 1794,561.4 1793.2,564.2 1792.4,567.1 1791.6,568.7 1790.8,570.9 1790,574 1789.2,576.1 1788.4,566.5 1787.6,553.4 1786.8,540 1786,528.9 1785.2,517.5 1784.4,507.5 1783.6,515.8 1782.8,526.7 1782,536 1781.2,544.8 1780.4,557.2 1779.6,570.9 1778.8,581.7 1778,586.9 1777.2,592.4 1776.4,597.2 1775.6,604.1 1774.8,608.6 1774,609.5 1773.2,609.3 1772.4,608 1771.6,607.3 1770.8,606.7 1770,605.5 1769.2,606.3 1768.4,607.5 1767.6,607 1766.8,605.9 1766,606.2 1765.2,607.2" fill="#b0b0b0"/>
<polyline points="1765.2,603.9 1766,603.2 1766.8,603.1 1767.6,604.2 1768.4,604.6 1769.2,602.9 1770,601.5 1770.8,602 1771.6,602 1772.4,603 1773.2,605.5 1774,606.2 1774.8,604.3 1775.6,599.7 1776.4,593.2 1777.2,588.1 1778,582.1 1778.8,577.3 1779.6,567.5 1780.4,554.2 1781.2,541.3 1782,532.4 1782.8,523.3 1783.6,512.6 1784.4,504.7 1785.2,513.7 1786,524.1 1786.8,534.4 1787.6,547.5 1788.4,561.2 1789.2,572.5 1790,570.3 1790.8,566.3 1791.6,564.2 1792.4,562.8 1793.2,559.7 1794,556.1 1794.8,554.3 1795.6,553.4 1796.4,554 1797.2,555.5 1798,557.2 1798.8,558.4 1799.6,560.9 1800.4,562.8 1801.2,562.3 1802,563.7 1802.8,565.6 1803.6,565.2 1804.4,565.7 1805.2,567.8 1806,571 1806.8,574.5 1807.6,576.7 1808.4,577.8 1809.2,577.4 1810,579.4 1810.8,582.8 1811.6,582.5 1812.4,581.8 1813.2,582.2 1814,581.1 1814.8,570.7 1815.6,560.5 1816.4,550.9 1817.2,541.2 1818,534.3 1818.8,533.4 1819.6,549.3 1820.4,564.7 1821.2,576.4 1822,586.5 1822.8,598.5 1823.6,601.5 1824.4,603.2 1825.2,606.6 1826,607.2 1826.8,604 1827.6,602.2 1828.4,603.9 1829.2,606.6 1830,607.5 1830.8,606.8 1831.6,604.9 1832.4,603.1 1833.2,601.9 1834,601.2 1834.8,600.8 1835.6,599.5 1836.4,599.3 1837.2,600.7 1838,602.2 1838.8,602 1839.6,600.6 1840.4,599.4 1841.2,600.7 1842,602.2 1842.8,603.8 1843.6,606.9 1844.4,610.6 1845.2,612.3 1846,611 1846.8,608.3 1847.6,607.4 1848.4,606.1 1849.2,604.6 1850,603.9 1850.8,604.5 1851.6,606.9 1852.4,608.7 1853.2,609.8 1854,611.9 1854.8,613 1855.6,614 1856.4,614.8 1857.2,614.7 1858,613.7 1858.8,612.7 1859.6,613.6 1860.4,614.2 1861.2,612.3 1862,610.2 1862.8,609.6 1863.6,611.7 1864.4,613.2 1865.2,611.7 1866,608.6 1866.8,606 1867.6,605.2 1868.4,606.2 1869.2,606.4 1870,605 1870.8,603.5 1871.6,605.1 1872.4,607 1873.2,607.7 1874,608.7 1874.8,609.8 1875.6,608.9 1876.4,608.1 1877.2,609.1 1878,609.2 1878.8,609.6 1879.6,609.8 1880.4,608.5 1881.2,607.3 1882,606.1 1882.8,606.2 1883.6,607.1 1884.4,608.9 1885.2,608.8 1886,605.9 1886.8,603.7 1887.6,604 1888.4,606.5 1889.2,609.1 1890,610 1890.8,609.5 1891.6,608.9 1892.4,608.9 1893.2,609.9 1894,610.5 1894.8,610.5 1895.6,608.8 1896.4,607.5 1897.2,608.9 1898,610.8 1898.8,611.4 1899.6,611.5 1900.4,611.5 1901.2,610.2 1902,608.2 1902.8,607.4 1903.6,607.2 1904.4,606.7 1905.2,606.3 1906,607.7 1906.8,609.1 1907.6,609.6 1908.4,610.7 1909.2,610.1 1910,607.6 1910.8,608.7 1911.6,611.3 1912.4,611.3 1913.2,610.8 1914,611.5 1914.8,611.7 1915.6,611.3 1916.4,612.3 1917.2,613.1 1918,613.2 1918.8,612.8 1919.6,612.3 1920.4,611.7 1921.2,613.2 1922,615.9 1922.8,615.8 1923.6,613.4 1924.4,613.4 1925.2,616.2 1926,617.3 1926.8,617.2 1927.6,616.9 1928.4,615.4 1929.2,613.3 1930,611.8 1930.8,609.9 1931.6,608.2 1932.4,607.1 1933.2,605.1 1934,605.3 1934.8,606.2 1935.6,605.5 1936.4,606.1 1937.2,607.6 1938,608.1 1938.8,605.7 1939.6,603.3 1940.4,602.9 1941.2,604.4 1942,605.1 1942.8,604.4 1943.6,604.5 1944.4,605.2 1945.2,605.6 1946,604.3 1946.8,601.9 1947.6,601.4 1948.4,602.6 1949.2,603.2 1950,603 1950.8,602.8 1951.6,602.4 1952.4,600.8 1953.2,600.5 1954,602 1954.8,601.1 1955.6,599.1 1956.4,599 1957.2,600.6 1958,600.7 1958.8,599 1959.6,598.4 1960.4,598.6 1961.2,598.6 1962,599.5 1962.8,600.6 1963.6,600.5 1964.4,601.1 1965.2,601.4 1966,601.3 1966.8,602.6 1967.6,604.7 1968.4,605.6 1969.2,605.9 1970,607.3 1970.8,608.8 1971.6,608.4 1972.4,608.6 1973.2,610.4 1974,612.2 1974.8,611.9 1975.6,610.6 1976.4,611.4 1977.2,611.4 1978,610.4 1978.8,612 1979.6,614 1980.4,612.5 1981.2,612.5 1982,613.6 1982.8,614.2 1983.6,614.2 1984.4,612.6 1985.2,611.2 1986,611.1 1986.8,610 1987.6,610.7 1988.4,612 1989.2,610.5 1990,608.2 1990.8,607.7 1991.6,606.8 1992.4,606.1 1993.2,607.7 1994,609 1994.8,609 1995.6,608.5 1996.4,607.2 1997.2,607.1 1998,606.6 1998.8,604.8 1999.6,603.9 2000.4,603.6 2001.2,605.4 2002,606.4 2002.8,605.6 2003.6,605.9 2004.4,608.7 2005.2,609.7 2006,609.7 2006.8,611.2 2007.6,612.9 2008.4,614.1 2009.2,614.5 2010,615 2010.8,615.9 2011.6,615.5 2012.4,613.5 2013.2,613.5 2014,614.2 2014.8,613.8 2015.6,613.9 2016.4,614.5 2017.2,615.4" fill="none" stroke="#000" stroke-width="2.4" stroke-linejoin="round"/>
<rect x="1844.3" y="492.3" width="30.1" height="132.3" fill="#00ff00" fill-opacity="0.2"/>
<line x1="1765.1" y1="492.3" x2="1765.1" y2="625.6" stroke="#222" stroke-width="2"/>
<line x1="1764.1" y1="624.6" x2="2016.4" y2="624.6" stroke="#222" stroke-width="2"/>
<line x1="1765.1" y1="624.6" x2="1765.1" y2="628.1" stroke="#222" stroke-width="2"/>
<line x1="1815.4" y1="624.6" x2="1815.4" y2="628.1" stroke="#222" stroke-width="2"/>
<line x1="2016.4" y1="624.6" x2="2016.4" y2="628.1" stroke="#222" stroke-width="2"/>
<line x1="1761.6" y1="513.5" x2="1765.1" y2="513.5" stroke="#222" stroke-width="2"/>
<text x="1756.1" y="522.9" text-anchor="end">1</text>
<line x1="1761.6" y1="624.6" x2="1765.1" y2="624.6" stroke="#222" stroke-width="2"/>
<text x="1756.1" y="634" text-anchor="end">0</text>
<text x="1763.6" y="661.8" text-anchor="middle">-2</text>
<text x="1815.4" y="661.8" text-anchor="middle">0</text>
<text x="2016.9" y="661.8" text-anchor="middle">8</text>
<text x="1916.6" y="669.5" text-anchor="middle">Time from</text>
<text x="1916.6" y="705.6" text-anchor="middle">landing (s)</text>
<path d="M111.1 1265.6H364.8v10.4H111.1zM111.1 1275.6H364.8v10.4H111.1zM111.1 1285.6H364.8v10.4H111.1zM111.1 1295.6H364.8v10.4H111.1zM111.1 1305.5H364.8v10.4H111.1zM111.1 1315.5H364.8v10.4H111.1zM111.1 1325.5H364.8v10.4H111.1zM111.1 1335.5H364.8v10.4H111.1zM111.1 1345.5H364.8v10.4H111.1zM111.1 1355.5H364.8v10.4H111.1zM111.1 1365.5H364.8v10.4H111.1zM111.1 1375.5H364.8v10.4H111.1zM111.1 1385.4H319.6v10.4H111.1zM111.1 1395.4H314.8v10.4H111.1zM111.1 1405.4H314.8v10.4H111.1zM111.1 1415.4H314.8v10.4H111.1zM111.1 1425.4H312.8v10.4H111.1zM111.1 1435.4H301.9v10.4H111.1zM111.1 1445.4H286.4v10.4H111.1zM111.1 1455.4H259.3v10.4H111.1zM111.1 1465.3H257v10.4H111.1zM111.1 1475.3H253.7v10.4H111.1zM111.1 1485.3H253.7v10.4H111.1zM111.1 1495.3H238.5v10.4H111.1z" fill="#00008f"/>
<path d="M116.2 1265.6h5.4v10.3h-5.4zM169.5 1265.6h2.8v10.3h-2.8zM182.1 1265.6h5.4v10.3h-5.4zM237.9 1265.6h5.4v10.3h-5.4zM111.1 1275.6h13v10.3h-13zM179.6 1275.6h2.8v10.3h-2.8zM278.5 1275.6h18.1v10.3h-18.1zM319.1 1275.6h46v10.3h-46zM128.9 1285.6h5.4v10.3h-5.4zM240.5 1285.6h5.4v10.3h-5.4zM306.4 1285.6h30.7v10.3h-30.7zM118.7 1295.6h2.8v10.3h-2.8zM146.6 1295.6h5.4v10.3h-5.4zM159.3 1295.6h5.4v10.3h-5.4zM202.4 1295.6h5.4v10.3h-5.4zM331.8 1295.6h2.8v10.3h-2.8zM111.1 1305.5h2.8v10.3h-2.8zM166.9 1305.5h2.8v10.3h-2.8zM202.4 1305.5h2.8v10.3h-2.8zM240.5 1305.5h5.4v10.3h-5.4zM265.9 1305.5h35.8v10.3h-35.8zM164.4 1315.5h2.8v10.3h-2.8zM194.8 1315.5h5.4v10.3h-5.4zM240.5 1315.5h5.4v10.3h-5.4zM253.2 1315.5h25.7v10.3h-25.7zM126.3 1325.5h2.8v10.3h-2.8zM169.5 1325.5h2.8v10.3h-2.8zM273.5 1325.5h2.8v10.3h-2.8zM301.4 1325.5h13v10.3h-13zM116.2 1335.5h20.6v10.3h-20.6zM161.8 1335.5h2.8v10.3h-2.8zM230.3 1335.5h5.4v10.3h-5.4zM258.2 1335.5h18.1v10.3h-18.1zM126.3 1345.5h2.8v10.3h-2.8zM151.7 1345.5h2.8v10.3h-2.8zM172 1345.5h5.4v10.3h-5.4zM215.1 1345.5h2.8v10.3h-2.8zM331.8 1345.5h2.8v10.3h-2.8zM133.9 1355.5h2.8v10.3h-2.8zM156.8 1355.5h2.8v10.3h-2.8zM169.5 1355.5h18.1v10.3h-18.1zM243 1355.5h20.6v10.3h-20.6zM128.9 1365.5h2.8v10.3h-2.8zM293.8 1365.5h13v10.3h-13zM177.1 1375.5h5.4v10.3h-5.4zM243 1375.5h5.4v10.3h-5.4zM314.1 1375.5h43.4v10.3h-43.4zM141.5 1385.4h35.8v10.3h-35.8zM194.8 1385.4h2.8v10.3h-2.8zM227.8 1385.4h2.8v10.3h-2.8zM250.6 1385.4h28.2v10.3h-28.2zM118.7 1395.4h5.4v10.3h-5.4zM192.3 1395.4h5.4v10.3h-5.4zM237.9 1395.4h2.8v10.3h-2.8zM111.1 1405.4h23.1v10.3h-23.1zM169.5 1405.4h5.4v10.3h-5.4zM199.9 1405.4h2.8v10.3h-2.8zM225.3 1405.4h2.8v10.3h-2.8zM311.5 1405.4h2.8v10.3h-2.8zM128.9 1415.4h2.8v10.3h-2.8zM172 1415.4h2.8v10.3h-2.8zM306.4 1415.4h7.9v10.3h-7.9zM154.2 1425.4h5.4v10.3h-5.4zM243 1425.4h13v10.3h-13zM131.4 1435.4h18.1v10.3h-18.1zM159.3 1435.4h2.8v10.3h-2.8zM220.2 1435.4h2.8v10.3h-2.8zM237.9 1435.4h43.4v10.3h-43.4zM144.1 1445.4h5.4v10.3h-5.4zM154.2 1445.4h20.6v10.3h-20.6zM258.2 1445.4h28.2v10.3h-28.2zM169.5 1455.4h5.4v10.3h-5.4zM230.3 1455.4h2.8v10.3h-2.8zM116.2 1465.3h5.4v10.3h-5.4zM164.4 1465.3h5.4v10.3h-5.4zM235.4 1465.3h23.1v10.3h-23.1zM111.1 1475.3h5.4v10.3h-5.4zM192.3 1475.3h5.4v10.3h-5.4zM128.9 1485.3h2.8v10.3h-2.8zM164.4 1485.3h2.8v10.3h-2.8zM179.6 1485.3h2.8v10.3h-2.8zM220.2 1485.3h2.8v10.3h-2.8zM166.9 1495.3h5.4v10.3h-5.4z" fill="#0000bb"/>
<path d="M187.2 1265.6h2.8v10.3h-2.8zM235.4 1265.6h2.8v10.3h-2.8zM177.1 1275.6h2.8v10.3h-2.8zM133.9 1285.6h2.8v10.3h-2.8zM237.9 1285.6h2.8v10.3h-2.8zM121.2 1295.6h2.8v10.3h-2.8zM164.4 1295.6h2.8v10.3h-2.8zM199.9 1295.6h2.8v10.3h-2.8zM334.4 1295.6h2.8v10.3h-2.8zM113.6 1305.5h2.8v10.3h-2.8zM166.9 1315.5h2.8v10.3h-2.8zM192.3 1315.5h2.8v10.3h-2.8zM199.9 1315.5h2.8v10.3h-2.8zM128.9 1325.5h2.8v10.3h-2.8zM166.9 1325.5h2.8v10.3h-2.8zM276 1325.5h2.8v10.3h-2.8zM298.8 1325.5h2.8v10.3h-2.8zM164.4 1335.5h2.8v10.3h-2.8zM189.7 1335.5h2.8v10.3h-2.8zM227.8 1335.5h2.8v10.3h-2.8zM128.9 1345.5h2.8v10.3h-2.8zM149.2 1345.5h2.8v10.3h-2.8zM177.1 1345.5h2.8v10.3h-2.8zM212.6 1345.5h2.8v10.3h-2.8zM334.4 1345.5h2.8v10.3h-2.8zM136.5 1355.5h2.8v10.3h-2.8zM154.2 1355.5h2.8v10.3h-2.8zM187.2 1355.5h2.8v10.3h-2.8zM126.3 1365.5h2.8v10.3h-2.8zM182.1 1375.5h2.8v10.3h-2.8zM240.5 1375.5h2.8v10.3h-2.8zM197.4 1385.4h2.8v10.3h-2.8zM225.3 1385.4h2.8v10.3h-2.8zM123.8 1395.4h2.8v10.3h-2.8zM189.7 1395.4h2.8v10.3h-2.8zM197.4 1395.4h2.8v10.3h-2.8zM235.4 1395.4h2.8v10.3h-2.8zM133.9 1405.4h2.8v10.3h-2.8zM166.9 1405.4h2.8v10.3h-2.8zM222.7 1405.4h2.8v10.3h-2.8zM131.4 1415.4h2.8v10.3h-2.8zM169.5 1415.4h2.8v10.3h-2.8zM159.3 1425.4h2.8v10.3h-2.8zM240.5 1425.4h2.8v10.3h-2.8zM161.8 1435.4h2.8v10.3h-2.8zM217.7 1435.4h2.8v10.3h-2.8zM111.1 1445.4h2.8v10.3h-2.8zM141.5 1445.4h2.8v10.3h-2.8zM174.5 1455.4h2.8v10.3h-2.8zM227.8 1455.4h2.8v10.3h-2.8zM121.2 1465.3h2.8v10.3h-2.8zM161.8 1465.3h2.8v10.3h-2.8zM116.2 1475.3h2.8v10.3h-2.8zM189.7 1475.3h2.8v10.3h-2.8zM131.4 1485.3h2.8v10.3h-2.8zM161.8 1485.3h2.8v10.3h-2.8zM182.1 1485.3h2.8v10.3h-2.8zM217.7 1485.3h2.8v10.3h-2.8zM172 1495.3h2.8v10.3h-2.8z" fill="#0000e7"/>
<path d="M121.2 1265.6h2.8v10.3h-2.8zM166.9 1265.6h2.8v10.3h-2.8zM123.8 1275.6h2.8v10.3h-2.8zM136.5 1285.6h2.8v10.3h-2.8zM166.9 1285.6h5.4v10.3h-5.4zM235.4 1285.6h2.8v10.3h-2.8zM144.1 1295.6h2.8v10.3h-2.8zM166.9 1295.6h2.8v10.3h-2.8zM197.4 1295.6h2.8v10.3h-2.8zM116.2 1305.5h2.8v10.3h-2.8zM128.9 1305.5h5.4v10.3h-5.4zM164.4 1305.5h2.8v10.3h-2.8zM205 1305.5h2.8v10.3h-2.8zM237.9 1305.5h2.8v10.3h-2.8zM169.5 1315.5h2.8v10.3h-2.8zM189.7 1315.5h2.8v10.3h-2.8zM237.9 1315.5h2.8v10.3h-2.8zM278.5 1325.5h2.8v10.3h-2.8zM296.3 1325.5h2.8v10.3h-2.8zM192.3 1335.5h2.8v10.3h-2.8zM225.3 1335.5h2.8v10.3h-2.8zM131.4 1345.5h2.8v10.3h-2.8zM146.6 1345.5h2.8v10.3h-2.8zM336.9 1345.5h2.8v10.3h-2.8zM362.3 1345.5h2.8v10.3h-2.8zM139 1355.5h2.8v10.3h-2.8zM151.7 1355.5h2.8v10.3h-2.8zM240.5 1355.5h2.8v10.3h-2.8zM111.1 1365.5h2.8v10.3h-2.8zM123.8 1365.5h2.8v10.3h-2.8zM199.9 1385.4h2.8v10.3h-2.8zM222.7 1385.4h2.8v10.3h-2.8zM187.2 1395.4h2.8v10.3h-2.8zM136.5 1405.4h2.8v10.3h-2.8zM164.4 1405.4h2.8v10.3h-2.8zM202.4 1405.4h2.8v10.3h-2.8zM133.9 1415.4h2.8v10.3h-2.8zM166.9 1415.4h2.8v10.3h-2.8zM161.8 1425.4h2.8v10.3h-2.8zM237.9 1425.4h2.8v10.3h-2.8zM113.6 1445.4h2.8v10.3h-2.8zM139 1445.4h2.8v10.3h-2.8zM123.8 1465.3h5.4v10.3h-5.4zM156.8 1465.3h5.4v10.3h-5.4zM118.7 1475.3h2.8v10.3h-2.8zM187.2 1475.3h2.8v10.3h-2.8zM174.5 1495.3h2.8v10.3h-2.8z" fill="#0013ff"/>
<path d="M189.7 1265.6h2.8v10.3h-2.8zM232.9 1265.6h2.8v10.3h-2.8zM174.5 1275.6h2.8v10.3h-2.8zM139 1285.6h28.2v10.3h-28.2zM172 1285.6h2.8v10.3h-2.8zM169.5 1295.6h28.2v10.3h-28.2zM336.9 1295.6h2.8v10.3h-2.8zM118.7 1305.5h10.4v10.3h-10.4zM172 1315.5h18.1v10.3h-18.1zM202.4 1315.5h2.8v10.3h-2.8zM131.4 1325.5h2.8v10.3h-2.8zM164.4 1325.5h2.8v10.3h-2.8zM281.1 1325.5h15.5v10.3h-15.5zM187.2 1335.5h2.8v10.3h-2.8zM194.8 1335.5h30.7v10.3h-30.7zM133.9 1345.5h13v10.3h-13zM179.6 1345.5h2.8v10.3h-2.8zM210 1345.5h2.8v10.3h-2.8zM141.5 1355.5h10.4v10.3h-10.4zM189.7 1355.5h2.8v10.3h-2.8zM113.6 1365.5h10.4v10.3h-10.4zM184.7 1375.5h2.8v10.3h-2.8zM237.9 1375.5h2.8v10.3h-2.8zM202.4 1385.4h20.6v10.3h-20.6zM126.3 1395.4h2.8v10.3h-2.8zM199.9 1395.4h2.8v10.3h-2.8zM232.9 1395.4h2.8v10.3h-2.8zM139 1405.4h25.7v10.3h-25.7zM136.5 1415.4h2.8v10.3h-2.8zM164.4 1415.4h2.8v10.3h-2.8zM164.4 1425.4h2.8v10.3h-2.8zM235.4 1425.4h2.8v10.3h-2.8zM164.4 1435.4h2.8v10.3h-2.8zM215.1 1435.4h2.8v10.3h-2.8zM116.2 1445.4h23.1v10.3h-23.1zM177.1 1455.4h2.8v10.3h-2.8zM225.3 1455.4h2.8v10.3h-2.8zM128.9 1465.3h28.2v10.3h-28.2zM121.2 1475.3h2.8v10.3h-2.8zM133.9 1485.3h2.8v10.3h-2.8zM159.3 1485.3h2.8v10.3h-2.8z" fill="#003fff"/>
<path d="M123.8 1265.6h2.8v10.3h-2.8zM126.3 1275.6h2.8v10.3h-2.8zM174.5 1285.6h2.8v10.3h-2.8zM232.9 1285.6h2.8v10.3h-2.8zM123.8 1295.6h2.8v10.3h-2.8zM362.3 1295.6h2.8v10.3h-2.8zM133.9 1305.5h2.8v10.3h-2.8zM161.8 1305.5h2.8v10.3h-2.8zM207.5 1305.5h2.8v10.3h-2.8zM235.4 1305.5h2.8v10.3h-2.8zM235.4 1315.5h2.8v10.3h-2.8zM166.9 1335.5h2.8v10.3h-2.8zM339.4 1345.5h2.8v10.3h-2.8zM359.7 1345.5h2.8v10.3h-2.8zM237.9 1355.5h2.8v10.3h-2.8zM184.7 1395.4h2.8v10.3h-2.8zM220.2 1405.4h2.8v10.3h-2.8zM139 1415.4h2.8v10.3h-2.8zM161.8 1415.4h2.8v10.3h-2.8zM166.9 1425.4h2.8v10.3h-2.8zM232.9 1425.4h2.8v10.3h-2.8zM184.7 1475.3h2.8v10.3h-2.8zM184.7 1485.3h2.8v10.3h-2.8zM215.1 1485.3h2.8v10.3h-2.8zM177.1 1495.3h2.8v10.3h-2.8zM235.4 1495.3h2.8v10.3h-2.8z" fill="#006bff"/>
<path d="M126.3 1265.6h5.4v10.3h-5.4zM192.3 1265.6h2.8v10.3h-2.8zM230.3 1265.6h2.8v10.3h-2.8zM230.3 1285.6h2.8v10.3h-2.8zM141.5 1295.6h2.8v10.3h-2.8zM184.7 1335.5h2.8v10.3h-2.8zM182.1 1345.5h2.8v10.3h-2.8zM207.5 1345.5h2.8v10.3h-2.8zM342 1345.5h18.1v10.3h-18.1zM187.2 1375.5h2.8v10.3h-2.8zM235.4 1375.5h2.8v10.3h-2.8zM128.9 1395.4h2.8v10.3h-2.8zM202.4 1395.4h2.8v10.3h-2.8zM230.3 1395.4h2.8v10.3h-2.8zM205 1405.4h2.8v10.3h-2.8zM141.5 1415.4h20.6v10.3h-20.6zM169.5 1425.4h2.8v10.3h-2.8zM230.3 1425.4h2.8v10.3h-2.8zM179.6 1455.4h2.8v10.3h-2.8zM222.7 1455.4h2.8v10.3h-2.8z" fill="#0096ff"/>
<path d="M131.4 1265.6h2.8v10.3h-2.8zM164.4 1265.6h2.8v10.3h-2.8zM194.8 1265.6h2.8v10.3h-2.8zM227.8 1265.6h2.8v10.3h-2.8zM172 1275.6h2.8v10.3h-2.8zM177.1 1285.6h2.8v10.3h-2.8zM126.3 1295.6h2.8v10.3h-2.8zM339.4 1295.6h2.8v10.3h-2.8zM359.7 1295.6h2.8v10.3h-2.8zM205 1315.5h2.8v10.3h-2.8zM169.5 1335.5h2.8v10.3h-2.8zM192.3 1355.5h2.8v10.3h-2.8zM182.1 1395.4h2.8v10.3h-2.8zM217.7 1405.4h2.8v10.3h-2.8zM172 1425.4h2.8v10.3h-2.8zM227.8 1425.4h2.8v10.3h-2.8zM166.9 1435.4h2.8v10.3h-2.8zM212.6 1435.4h2.8v10.3h-2.8zM123.8 1475.3h2.8v10.3h-2.8zM136.5 1485.3h2.8v10.3h-2.8zM156.8 1485.3h2.8v10.3h-2.8z" fill="#00c2ff"/>
<path d="M128.9 1275.6h2.8v10.3h-2.8zM227.8 1285.6h2.8v10.3h-2.8zM139 1295.6h2.8v10.3h-2.8zM342 1295.6h2.8v10.3h-2.8zM357.2 1295.6h2.8v10.3h-2.8zM136.5 1305.5h2.8v10.3h-2.8zM159.3 1305.5h2.8v10.3h-2.8zM210 1305.5h2.8v10.3h-2.8zM232.9 1305.5h2.8v10.3h-2.8zM232.9 1315.5h2.8v10.3h-2.8zM133.9 1325.5h2.8v10.3h-2.8zM161.8 1325.5h2.8v10.3h-2.8zM182.1 1335.5h2.8v10.3h-2.8zM184.7 1345.5h2.8v10.3h-2.8zM205 1345.5h2.8v10.3h-2.8zM235.4 1355.5h2.8v10.3h-2.8zM189.7 1375.5h2.8v10.3h-2.8zM232.9 1375.5h2.8v10.3h-2.8zM131.4 1395.4h2.8v10.3h-2.8zM205 1395.4h2.8v10.3h-2.8zM227.8 1395.4h2.8v10.3h-2.8zM207.5 1405.4h2.8v10.3h-2.8zM174.5 1425.4h2.8v10.3h-2.8zM225.3 1425.4h2.8v10.3h-2.8zM182.1 1475.3h2.8v10.3h-2.8zM139 1485.3h2.8v10.3h-2.8zM154.2 1485.3h2.8v10.3h-2.8zM179.6 1495.3h2.8v10.3h-2.8zM232.9 1495.3h2.8v10.3h-2.8z" fill="#00eeff"/>
<path d="M197.4 1265.6h30.7v10.3h-30.7zM179.6 1285.6h2.8v10.3h-2.8zM128.9 1295.6h10.4v10.3h-10.4zM344.5 1295.6h13v10.3h-13zM207.5 1315.5h2.8v10.3h-2.8zM172 1335.5h10.4v10.3h-10.4zM187.2 1345.5h18.1v10.3h-18.1zM207.5 1395.4h20.6v10.3h-20.6zM210 1405.4h7.9v10.3h-7.9zM177.1 1425.4h48.5v10.3h-48.5zM182.1 1455.4h2.8v10.3h-2.8zM220.2 1455.4h2.8v10.3h-2.8zM126.3 1475.3h2.8v10.3h-2.8zM141.5 1485.3h13v10.3h-13zM187.2 1485.3h2.8v10.3h-2.8zM212.6 1485.3h2.8v10.3h-2.8z" fill="#1affe5"/>
<path d="M133.9 1265.6h2.8v10.3h-2.8zM169.5 1275.6h2.8v10.3h-2.8zM182.1 1285.6h2.8v10.3h-2.8zM225.3 1285.6h2.8v10.3h-2.8zM230.3 1315.5h2.8v10.3h-2.8zM194.8 1355.5h2.8v10.3h-2.8zM179.6 1395.4h2.8v10.3h-2.8z" fill="#46ffb9"/>
<path d="M161.8 1265.6h2.8v10.3h-2.8zM184.7 1285.6h2.8v10.3h-2.8zM222.7 1285.6h2.8v10.3h-2.8zM139 1305.5h2.8v10.3h-2.8zM156.8 1305.5h2.8v10.3h-2.8zM212.6 1305.5h2.8v10.3h-2.8zM230.3 1305.5h2.8v10.3h-2.8zM210 1315.5h2.8v10.3h-2.8zM227.8 1315.5h2.8v10.3h-2.8zM192.3 1375.5h2.8v10.3h-2.8zM230.3 1375.5h2.8v10.3h-2.8zM133.9 1395.4h2.8v10.3h-2.8zM169.5 1435.4h2.8v10.3h-2.8zM210 1435.4h2.8v10.3h-2.8zM184.7 1455.4h2.8v10.3h-2.8zM217.7 1455.4h2.8v10.3h-2.8zM179.6 1475.3h2.8v10.3h-2.8zM182.1 1495.3h2.8v10.3h-2.8zM230.3 1495.3h2.8v10.3h-2.8z" fill="#72ff8d"/>
<path d="M131.4 1275.6h2.8v10.3h-2.8zM187.2 1285.6h35.8v10.3h-35.8zM141.5 1305.5h15.5v10.3h-15.5zM215.1 1305.5h15.5v10.3h-15.5zM212.6 1315.5h15.5v10.3h-15.5zM136.5 1325.5h2.8v10.3h-2.8zM159.3 1325.5h2.8v10.3h-2.8zM232.9 1355.5h2.8v10.3h-2.8zM177.1 1395.4h2.8v10.3h-2.8zM128.9 1475.3h2.8v10.3h-2.8z" fill="#9dff62"/>
<path d="M194.8 1375.5h2.8v10.3h-2.8zM187.2 1455.4h2.8v10.3h-2.8zM215.1 1455.4h2.8v10.3h-2.8z" fill="#c9ff36"/>
<path d="M136.5 1265.6h2.8v10.3h-2.8zM166.9 1275.6h2.8v10.3h-2.8zM197.4 1355.5h2.8v10.3h-2.8zM197.4 1375.5h2.8v10.3h-2.8zM136.5 1395.4h2.8v10.3h-2.8zM189.7 1455.4h2.8v10.3h-2.8zM212.6 1455.4h2.8v10.3h-2.8zM177.1 1475.3h2.8v10.3h-2.8zM189.7 1485.3h2.8v10.3h-2.8zM210 1485.3h2.8v10.3h-2.8zM184.7 1495.3h2.8v10.3h-2.8zM227.8 1495.3h2.8v10.3h-2.8z" fill="#f5ff0a"/>
<path d="M139 1325.5h2.8v10.3h-2.8zM156.8 1325.5h2.8v10.3h-2.8zM199.9 1375.5h7.9v10.3h-7.9zM227.8 1375.5h2.8v10.3h-2.8zM174.5 1395.4h2.8v10.3h-2.8zM192.3 1455.4h20.6v10.3h-20.6z" fill="#ffde00"/>
<path d="M159.3 1265.6h2.8v10.3h-2.8zM133.9 1275.6h2.8v10.3h-2.8zM230.3 1355.5h2.8v10.3h-2.8zM139 1395.4h2.8v10.3h-2.8zM172 1395.4h2.8v10.3h-2.8zM172 1435.4h2.8v10.3h-2.8zM207.5 1435.4h2.8v10.3h-2.8zM131.4 1475.3h2.8v10.3h-2.8z" fill="#ffb200"/>
<path d="M164.4 1275.6h2.8v10.3h-2.8zM141.5 1325.5h15.5v10.3h-15.5zM207.5 1375.5h2.8v10.3h-2.8zM141.5 1395.4h2.8v10.3h-2.8zM169.5 1395.4h2.8v10.3h-2.8zM174.5 1475.3h2.8v10.3h-2.8zM187.2 1495.3h2.8v10.3h-2.8zM225.3 1495.3h2.8v10.3h-2.8z" fill="#ff8600"/>
<path d="M139 1265.6h2.8v10.3h-2.8zM136.5 1275.6h2.8v10.3h-2.8zM227.8 1355.5h2.8v10.3h-2.8zM164.4 1395.4h5.4v10.3h-5.4zM192.3 1485.3h2.8v10.3h-2.8zM207.5 1485.3h2.8v10.3h-2.8z" fill="#ff5b00"/>
<path d="M156.8 1265.6h2.8v10.3h-2.8zM161.8 1275.6h2.8v10.3h-2.8zM199.9 1355.5h2.8v10.3h-2.8zM144.1 1395.4h2.8v10.3h-2.8zM161.8 1395.4h2.8v10.3h-2.8zM172 1475.3h2.8v10.3h-2.8zM189.7 1495.3h2.8v10.3h-2.8zM222.7 1495.3h2.8v10.3h-2.8z" fill="#ff2f00"/>
<path d="M141.5 1265.6h15.5v10.3h-15.5zM139 1275.6h2.8v10.3h-2.8zM159.3 1275.6h2.8v10.3h-2.8zM215.1 1355.5h13v10.3h-13zM225.3 1375.5h2.8v10.3h-2.8zM146.6 1395.4h15.5v10.3h-15.5zM133.9 1475.3h2.8v10.3h-2.8zM156.8 1475.3h15.5v10.3h-15.5zM194.8 1485.3h13v10.3h-13zM192.3 1495.3h5.4v10.3h-5.4zM220.2 1495.3h2.8v10.3h-2.8z" fill="#ff0300"/>
<path d="M141.5 1275.6h2.8v10.3h-2.8zM156.8 1275.6h2.8v10.3h-2.8zM210 1375.5h2.8v10.3h-2.8zM174.5 1435.4h2.8v10.3h-2.8zM205 1435.4h2.8v10.3h-2.8zM154.2 1475.3h2.8v10.3h-2.8zM197.4 1495.3h2.8v10.3h-2.8z" fill="#d70000"/>
<path d="M212.6 1355.5h2.8v10.3h-2.8zM151.7 1475.3h2.8v10.3h-2.8zM199.9 1495.3h2.8v10.3h-2.8zM217.7 1495.3h2.8v10.3h-2.8z" fill="#ab0000"/>
<path d="M144.1 1275.6h13v10.3h-13zM202.4 1355.5h10.4v10.3h-10.4zM212.6 1375.5h13v10.3h-13zM177.1 1435.4h28.2v10.3h-28.2zM136.5 1475.3h15.5v10.3h-15.5zM202.4 1495.3h15.5v10.3h-15.5z" fill="#800000"/>
<line x1="111.1" y1="1265.6" x2="364.8" y2="1265.6" stroke="#222" stroke-width="2"/>
<line x1="111.1" y1="1505.3" x2="364.8" y2="1505.3" stroke="#222" stroke-width="2"/>
<line x1="111.1" y1="1265.6" x2="111.1" y2="1505.3" stroke="#222" stroke-width="2"/>
<line x1="364.8" y1="1265.6" x2="364.8" y2="1505.3" stroke="#222" stroke-width="2"/>
<line x1="111.1" y1="1259.1" x2="111.1" y2="1265.6" stroke="#222" stroke-width="2"/>
<line x1="111.1" y1="1505.3" x2="111.1" y2="1511.8" stroke="#222" stroke-width="2"/>
<line x1="161.8" y1="1259.1" x2="161.8" y2="1265.6" stroke="#222" stroke-width="2"/>
<line x1="161.8" y1="1505.3" x2="161.8" y2="1511.8" stroke="#222" stroke-width="2"/>
<line x1="364.8" y1="1259.1" x2="364.8" y2="1265.6" stroke="#222" stroke-width="2"/>
<line x1="364.8" y1="1505.3" x2="364.8" y2="1511.8" stroke="#222" stroke-width="2"/>
<line x1="104.6" y1="1270.6" x2="111.1" y2="1270.6" stroke="#222" stroke-width="2"/>
<line x1="364.8" y1="1270.6" x2="371.3" y2="1270.6" stroke="#222" stroke-width="2"/>
<text x="101.8" y="1280" text-anchor="end">24</text>
<text x="118.4" y="1252.5">Bat 1</text>
<text x="364.5" y="1254.5" text-anchor="end">15.2 Hz</text>
<line x1="161.8" y1="1538.7" x2="161.8" y2="1671" stroke="#a0a0a0" stroke-width="2.6"/>
<polyline points="111,1663.9 112.5,1663.2 114,1662.5 115.5,1661.7 117,1660.6 118.5,1659.3 120,1657.6 121.5,1655.6 123,1653.1 124.5,1650.1 126,1646.6 127.5,1642.6 129,1637.9 130.5,1632.6 132,1626.7 133.5,1620.2 135,1613.2 136.5,1605.7 138,1598.1 139.5,1590.3 141,1582.7 142.5,1575.7 144,1569.6 145.5,1565 147,1562 148.5,1560.7 150,1560.7 151.5,1561.9 153,1564.3 154.5,1567.9 156,1572.5 157.5,1577.5 159,1582.4 160.5,1586.7 162,1590.4 163.5,1593.4 165,1595.6 166.5,1596.9 168,1597.4 169.5,1597 171,1595.7 172.5,1593.6 174,1590.9 175.5,1587.7 177,1583.9 178.5,1579.8 180,1575.4 181.5,1570.8 183,1566.1 184.5,1561.6 186,1557.5 187.5,1553.9 189,1550.9 190.5,1548.5 192,1546.6 193.5,1545.3 195,1544.6 196.5,1544.2 198,1544.1 199.5,1544.3 201,1544.6 202.5,1544.9 204,1545.2 205.5,1545.3 207,1545.1 208.5,1544.8 210,1544.3 211.5,1543.6 213,1543 214.5,1542.7 216,1542.8 217.5,1543.6 219,1545.4 220.5,1548.4 222,1552.6 223.5,1557.9 225,1564.1 226.5,1570.9 228,1578.3 229.5,1586 231,1594 232.5,1602.1 234,1610.3 235.5,1618.4 237,1626.4 238.5,1633.9 240,1640.8 241.5,1647 243,1652.3 244.5,1656.8 246,1660.5 247.5,1663.4 249,1665.6 250.5,1667.4 252,1668.6 253.5,1669.5 255,1670 256.5,1670 258,1670 259.5,1670 261,1670 262.5,1670 264,1670 265.5,1670 267,1670 268.5,1670 270,1670 271.5,1670 273,1670 274.5,1670 276,1670 277.5,1670 279,1669.9 280.5,1669.7 282,1669.4 283.5,1669.2 285,1669 286.5,1668.8 288,1668.6 289.5,1668.5 291,1668.5 292.5,1668.5 294,1668.7 295.5,1668.8 297,1669.1 298.5,1669.3 300,1669.6 301.5,1669.8 303,1670 304.5,1670 306,1670 307.5,1670 309,1670 310.5,1670 312,1670 313.5,1670 315,1670 316.5,1670 318,1670 319.5,1670 321,1670 322.5,1670 324,1670 325.5,1670 327,1670 328.5,1670 330,1670 331.5,1670 333,1669.5 334.5,1668.1 336,1666.4 337.5,1664.5 339,1662.6 340.5,1660.6 342,1658.9 343.5,1657.2 345,1655.7 346.5,1654.4 348,1653.2 349.5,1652.1 351,1651.3 352.5,1650.6 354,1650.2 355.5,1650.1 357,1650.3 358.5,1650.8 360,1651.5 361.5,1652.4 363,1653.4 364.5,1654.5 364.8,1654.7" fill="none" stroke="#000" stroke-width="2.4" stroke-linejoin="round"/>
<rect x="185.7" y="1538.7" width="38" height="132.3" fill="#00ff00" fill-opacity="0.2"/>
<line x1="111.1" y1="1538.7" x2="111.1" y2="1672" stroke="#222" stroke-width="2"/>
<line x1="110.1" y1="1671" x2="364.8" y2="1671" stroke="#222" stroke-width="2"/>
<line x1="111.1" y1="1671" x2="111.1" y2="1674.5" stroke="#222" stroke-width="2"/>
<line x1="161.8" y1="1671" x2="161.8" y2="1674.5" stroke="#222" stroke-width="2"/>
<line x1="364.8" y1="1671" x2="364.8" y2="1674.5" stroke="#222" stroke-width="2"/>
<line x1="107.6" y1="1538.7" x2="111.1" y2="1538.7" stroke="#222" stroke-width="2"/>
<text x="102.1" y="1548.1" text-anchor="end">3</text>
<line x1="161.8" y1="1704.3" x2="161.8" y2="1836.6" stroke="#a0a0a0" stroke-width="2"/>
<polygon points="111.1,1821.7 111.9,1821.7 112.7,1821.6 113.5,1820.9 114.3,1823 115.1,1824.1 115.9,1822.8 116.7,1823 117.5,1820.8 118.3,1819.3 119.1,1818.5 119.9,1819.2 120.7,1819.1 121.5,1817.4 122.3,1817.9 123.1,1818.5 123.9,1816.7 124.7,1811.7 125.5,1806.7 126.3,1799.8 127.1,1792 127.9,1781.5 128.7,1769.1 129.5,1757.9 130.3,1750 131.1,1742.4 131.9,1743.6 132.7,1744.7 133.5,1748.5 134.3,1762.8 135.1,1777.2 135.9,1784.7 136.7,1783.5 137.5,1784.6 138.3,1787 139.1,1783.4 139.9,1780.3 140.7,1778.8 141.5,1779.4 142.3,1781.5 143.1,1782.8 143.9,1783.7 144.7,1783.2 145.5,1783.8 146.3,1783.8 147.1,1783.6 147.9,1785.2 148.7,1786.9 149.5,1784.4 150.3,1781.8 151.1,1781.4 151.9,1779.3 152.7,1778.7 153.5,1777.8 154.3,1772.8 155.1,1768.8 155.9,1765.1 156.7,1766.2 157.5,1775.2 158.3,1784.3 159.1,1775.5 159.9,1758.4 160.7,1743 161.5,1724.8 162.3,1706.5 163.1,1704 163.9,1701.4 164.7,1702.5 165.5,1708 166.3,1736.9 167.1,1766.5 167.9,1785.2 168.7,1799.1 169.5,1813 170.3,1812.7 171.1,1813.5 171.9,1814 172.7,1812.6 173.5,1810.5 174.3,1808.6 175.1,1807.6 175.9,1807.1 176.7,1810.4 177.5,1814 178.3,1818 179.1,1817.4 179.9,1819.5 180.7,1822.4 181.5,1824.5 182.3,1822.3 183.1,1820 183.9,1818.7 184.7,1819.2 185.5,1820.8 186.3,1822 187.1,1824.5 187.9,1822.9 188.7,1819.9 189.5,1819.8 190.3,1820.9 191.1,1821 191.9,1822.2 192.7,1823.9 193.5,1822.8 194.3,1821.6 195.1,1821 195.9,1820.5 196.7,1820.8 197.5,1821.7 198.3,1821.6 199.1,1819.9 199.9,1820.7 200.7,1821.8 201.5,1822.2 202.3,1822.6 203.1,1822.7 203.9,1821.8 204.7,1822.4 205.5,1823.4 206.3,1823.9 207.1,1823.8 207.9,1823.9 208.7,1822.7 209.5,1821.7 210.3,1820.4 211.1,1817.3 211.9,1816.8 212.7,1818.2 213.5,1820.1 214.3,1821.5 215.1,1821.8 215.9,1821.2 216.7,1822.4 217.5,1824.3 218.3,1823.7 219.1,1823.7 219.9,1823.3 220.7,1824 221.5,1824 222.3,1821.7 223.1,1820.7 223.9,1821.5 224.7,1823.3 225.5,1824.6 226.3,1824.1 227.1,1823.6 227.9,1824.3 228.7,1823.8 229.5,1821.5 230.3,1820 231.1,1819.6 231.9,1819 232.7,1819 233.5,1820.5 234.3,1822 235.1,1823.3 235.9,1822.8 236.7,1820.2 237.5,1819.1 238.3,1819.4 239.1,1819.4 239.9,1819.7 240.7,1819.2 241.5,1820.6 242.3,1821.2 243.1,1820.3 243.9,1819.8 244.7,1820.2 245.5,1820.5 246.3,1820.1 247.1,1820.4 247.9,1820.7 248.7,1821 249.5,1820.8 250.3,1821.1 251.1,1822.6 251.9,1822.3 252.7,1820.5 253.5,1819.7 254.3,1821.4 255.1,1822.2 255.9,1821.1 256.7,1818.7 257.5,1815.9 258.3,1814.3 259.1,1813.8 259.9,1813.5 260.7,1813.6 261.5,1815.1 262.3,1816.2 263.1,1816.2 263.9,1815.8 264.7,1815.9 265.5,1816.6 266.3,1816.4 267.1,1815.5 267.9,1815.7 268.7,1817.5 269.5,1818.6 270.3,1819.4 271.1,1818.8 271.9,1817.3 272.7,1817.5 273.5,1818.9 274.3,1816.3 275.1,1812.8 275.9,1810.9 276.7,1812.2 277.5,1814.6 278.3,1815.2 279.1,1814.1 279.9,1813.8 280.7,1814.9 281.5,1816.5 282.3,1819.2 283.1,1820.6 283.9,1820.3 284.7,1819.7 285.5,1820.7 286.3,1820.3 287.1,1819.9 287.9,1819.2 288.7,1818.1 289.5,1816.7 290.3,1817.8 291.1,1821.7 291.9,1821.4 292.7,1820.2 293.5,1820 294.3,1820.7 295.1,1821.3 295.9,1821.3 296.7,1820.2 297.5,1819.9 298.3,1821.3 299.1,1821.6 299.9,1821.5 300.7,1823.2 301.5,1824.4 302.3,1825 303.1,1822.2 303.9,1821.4 304.7,1823.4 305.5,1825.2 306.3,1825.6 307.1,1826.2 307.9,1826.8 308.7,1827 309.5,1828.9 310.3,1829.7 311.1,1829 311.9,1828.3 312.7,1828.2 313.5,1828.2 314.3,1828.2 315.1,1829.2 315.9,1828.9 316.7,1828.3 317.5,1828.8 318.3,1827.7 319.1,1827.1 319.9,1827.3 320.7,1828.1 321.5,1829.1 322.3,1828.7 323.1,1827.4 323.9,1827.5 324.7,1827.9 325.5,1827.3 326.3,1827.3 327.1,1827.7 327.9,1828.1 328.7,1829.2 329.5,1826.7 330.3,1824.9 331.1,1824.4 331.9,1825.3 332.7,1827.4 333.5,1829.2 334.3,1828.5 335.1,1827.6 335.9,1827.4 336.7,1826.4 337.5,1827.7 338.3,1829.7 339.1,1827.2 339.9,1822.9 340.7,1820.6 341.5,1820.1 342.3,1819.9 343.1,1821.1 343.9,1821.3 344.7,1821.6 345.5,1823.6 346.3,1824.3 347.1,1822.8 347.9,1822.5 348.7,1821.9 349.5,1822.1 350.3,1822.5 351.1,1824 351.9,1825.2 352.7,1822.6 353.5,1820.2 354.3,1821.8 355.1,1824 355.9,1824.1 356.7,1823.1 357.5,1822.7 358.3,1822.4 359.1,1821.6 359.9,1821.5 360.7,1821.9 361.5,1821.3 362.3,1818.4 363.1,1816.3 363.9,1815 364.7,1814.6 364.7,1826.8 363.9,1825.1 363.1,1823.8 362.3,1824.4 361.5,1827.2 360.7,1828.5 359.9,1829.3 359.1,1831.1 358.3,1833.2 357.5,1833.5 356.7,1832.3 355.9,1831.2 355.1,1829.4 354.3,1827.8 353.5,1826.7 352.7,1828.9 351.9,1832 351.1,1832.1 350.3,1830.8 349.5,1828.7 348.7,1827.9 347.9,1830.2 347.1,1830.2 346.3,1829.9 345.5,1830.3 344.7,1828.8 343.9,1827.1 343.1,1827.9 342.3,1829.9 341.5,1833.3 340.7,1835 339.9,1835.3 339.1,1835.7 338.3,1834.8 337.5,1834.8 336.7,1834.4 335.9,1835.2 335.1,1834.6 334.3,1834.3 333.5,1834.3 332.7,1833.2 331.9,1833.5 331.1,1834.9 330.3,1835.4 329.5,1834.9 328.7,1834.3 327.9,1835.3 327.1,1836.3 326.3,1836.5 325.5,1836.1 324.7,1834.9 323.9,1833 323.1,1834.8 322.3,1836.7 321.5,1835.6 320.7,1834.7 319.9,1836.2 319.1,1835.9 318.3,1834.7 317.5,1833.9 316.7,1834.1 315.9,1834.4 315.1,1834.5 314.3,1834.2 313.5,1834.6 312.7,1834.9 311.9,1835.5 311.1,1836.2 310.3,1835.9 309.5,1834.1 308.7,1832.7 307.9,1832 307.1,1831.7 306.3,1830.7 305.5,1831.9 304.7,1831.9 303.9,1830.2 303.1,1829.3 302.3,1830.1 301.5,1830.2 300.7,1828.6 299.9,1827.8 299.1,1829.8 298.3,1830.7 297.5,1829.4 296.7,1829.6 295.9,1830.4 295.1,1829.3 294.3,1826.7 293.5,1827 292.7,1829.7 291.9,1830 291.1,1826.9 290.3,1827 289.5,1827.4 288.7,1827.8 287.9,1826 287.1,1826 286.3,1826.8 285.5,1826.3 284.7,1826.9 283.9,1826.2 283.1,1827.8 282.3,1829.1 281.5,1827.7 280.7,1827.1 279.9,1827.9 279.1,1829.8 278.3,1830.2 277.5,1828.1 276.7,1825.2 275.9,1824.2 275.1,1824.7 274.3,1824.9 273.5,1824.3 272.7,1823.9 271.9,1824.4 271.1,1826.5 270.3,1827.2 269.5,1825.9 268.7,1824.5 267.9,1823.1 267.1,1823.5 266.3,1825 265.5,1825.4 264.7,1824.9 263.9,1824.8 263.1,1824.2 262.3,1822.2 261.5,1821.4 260.7,1822.1 259.9,1823.6 259.1,1825 258.3,1825.8 257.5,1826.8 256.7,1828.2 255.9,1829.9 255.1,1831.6 254.3,1831.2 253.5,1828.1 252.7,1826.4 251.9,1827.9 251.1,1828 250.3,1826.8 249.5,1826.5 248.7,1827.1 247.9,1828.7 247.1,1829.3 246.3,1829.4 245.5,1830.2 244.7,1829.7 243.9,1828.4 243.1,1827.6 242.3,1827.3 241.5,1826.4 240.7,1825.3 239.9,1825 239.1,1826 238.3,1826.9 237.5,1825.7 236.7,1825.6 235.9,1828.1 235.1,1829.3 234.3,1829 233.5,1828.7 232.7,1829 231.9,1830.1 231.1,1829.9 230.3,1828.2 229.5,1828 228.7,1829.3 227.9,1830.4 227.1,1831.1 226.3,1830.8 225.5,1830.7 224.7,1831.6 223.9,1829.6 223.1,1827.2 222.3,1827.5 221.5,1830.4 220.7,1830.8 219.9,1829.3 219.1,1829.1 218.3,1829.7 217.5,1830.3 216.7,1828.2 215.9,1826.3 215.1,1828.9 214.3,1830.7 213.5,1831.4 212.7,1830.3 211.9,1827.8 211.1,1825.2 210.3,1825.9 209.5,1828.7 208.7,1829.2 207.9,1829.3 207.1,1831.3 206.3,1832.2 205.5,1831.4 204.7,1829.7 203.9,1828.1 203.1,1827.7 202.3,1828.3 201.5,1827.4 200.7,1827.1 199.9,1826 199.1,1825.9 198.3,1827 197.5,1828 196.7,1828.4 195.9,1828.4 195.1,1829.1 194.3,1830.1 193.5,1830.7 192.7,1829.5 191.9,1829.3 191.1,1828.9 190.3,1827.2 189.5,1826.4 188.7,1827.9 187.9,1829.8 187.1,1829.6 186.3,1828 185.5,1826.2 184.7,1826 183.9,1828.4 183.1,1830.8 182.3,1831.3 181.5,1830 180.7,1830 179.9,1828.4 179.1,1825.3 178.3,1823.1 177.5,1821.3 176.7,1819.4 175.9,1816.9 175.1,1816.7 174.3,1815.1 173.5,1816.5 172.7,1819.4 171.9,1820.1 171.1,1819 170.3,1818.9 169.5,1820.8 168.7,1807.7 167.9,1792.4 167.1,1772.2 166.3,1742.7 165.5,1715.2 164.7,1709.9 163.9,1707.2 163.1,1710.5 162.3,1715 161.5,1734.5 160.7,1752.6 159.9,1766.5 159.1,1781.3 158.3,1790.3 157.5,1782.3 156.7,1774.2 155.9,1774.6 155.1,1779.3 154.3,1782.2 153.5,1783.8 152.7,1786 151.9,1786.9 151.1,1786.7 150.3,1789.9 149.5,1792.5 148.7,1792.6 147.9,1792.1 147.1,1791.9 146.3,1792 145.5,1791.2 144.7,1789.7 143.9,1788.8 143.1,1790 142.3,1792.1 141.5,1794.6 140.7,1796.9 139.9,1796.7 139.1,1794.4 138.3,1792.4 137.5,1792.8 136.7,1792.6 135.9,1792.4 135.1,1782.9 134.3,1768.4 133.5,1754.4 132.7,1750.1 131.9,1748.9 131.1,1748.9 130.3,1757.5 129.5,1765.2 128.7,1774.6 127.9,1788.1 127.1,1799.4 126.3,1806.7 125.5,1812.7 124.7,1817.3 123.9,1822.2 123.1,1825.3 122.3,1825 121.5,1823.7 120.7,1824.3 119.9,1825.7 119.1,1827.2 118.3,1829.1 117.5,1828.9 116.7,1828.3 115.9,1830.1 115.1,1830.2 114.3,1829.7 113.5,1828.8 112.7,1828.7 111.9,1827.9 111.1,1827.8" fill="#b0b0b0"/>
<polyline points="111.1,1824.8 111.9,1824.8 112.7,1825.2 113.5,1824.9 114.3,1826.3 115.1,1827.2 115.9,1826.5 116.7,1825.6 117.5,1824.8 118.3,1824.2 119.1,1822.9 119.9,1822.5 120.7,1821.7 121.5,1820.6 122.3,1821.4 123.1,1821.9 123.9,1819.5 124.7,1814.5 125.5,1809.7 126.3,1803.3 127.1,1795.7 127.9,1784.8 128.7,1771.9 129.5,1761.6 130.3,1753.7 131.1,1745.7 131.9,1746.2 132.7,1747.4 133.5,1751.4 134.3,1765.6 135.1,1780 135.9,1788.6 136.7,1788 137.5,1788.7 138.3,1789.7 139.1,1788.9 139.9,1788.5 140.7,1787.9 141.5,1787 142.3,1786.8 143.1,1786.4 143.9,1786.3 144.7,1786.5 145.5,1787.5 146.3,1787.9 147.1,1787.8 147.9,1788.7 148.7,1789.8 149.5,1788.4 150.3,1785.9 151.1,1784 151.9,1783.1 152.7,1782.4 153.5,1780.8 154.3,1777.5 155.1,1774 155.9,1769.8 156.7,1770.2 157.5,1778.7 158.3,1787.3 159.1,1778.4 159.9,1762.5 160.7,1747.8 161.5,1729.6 162.3,1710.7 163.1,1707.3 163.9,1704.3 164.7,1706.2 165.5,1711.6 166.3,1739.8 167.1,1769.3 167.9,1788.8 168.7,1803.4 169.5,1816.9 170.3,1815.8 171.1,1816.2 171.9,1817.1 172.7,1816 173.5,1813.5 174.3,1811.9 175.1,1812.1 175.9,1812 176.7,1814.9 177.5,1817.6 178.3,1820.6 179.1,1821.4 179.9,1824 180.7,1826.2 181.5,1827.3 182.3,1826.8 183.1,1825.4 183.9,1823.5 184.7,1822.6 185.5,1823.5 186.3,1825 187.1,1827 187.9,1826.3 188.7,1823.9 189.5,1823.1 190.3,1824.1 191.1,1825 191.9,1825.7 192.7,1826.7 193.5,1826.7 194.3,1825.8 195.1,1825 195.9,1824.4 196.7,1824.6 197.5,1824.8 198.3,1824.3 199.1,1822.9 199.9,1823.4 200.7,1824.5 201.5,1824.8 202.3,1825.4 203.1,1825.2 203.9,1825 204.7,1826 205.5,1827.4 206.3,1828.1 207.1,1827.5 207.9,1826.6 208.7,1825.9 209.5,1825.2 210.3,1823.2 211.1,1821.2 211.9,1822.3 212.7,1824.2 213.5,1825.7 214.3,1826.1 215.1,1825.3 215.9,1823.8 216.7,1825.3 217.5,1827.3 218.3,1826.7 219.1,1826.4 219.9,1826.3 220.7,1827.4 221.5,1827.2 222.3,1824.6 223.1,1823.9 223.9,1825.6 224.7,1827.4 225.5,1827.6 226.3,1827.4 227.1,1827.3 227.9,1827.3 228.7,1826.6 229.5,1824.8 230.3,1824.1 231.1,1824.8 231.9,1824.6 232.7,1824 233.5,1824.6 234.3,1825.5 235.1,1826.3 235.9,1825.5 236.7,1822.9 237.5,1822.4 238.3,1823.1 239.1,1822.7 239.9,1822.4 240.7,1822.3 241.5,1823.5 242.3,1824.2 243.1,1824 243.9,1824.1 244.7,1825 245.5,1825.4 246.3,1824.8 247.1,1824.8 247.9,1824.7 248.7,1824 249.5,1823.6 250.3,1823.9 251.1,1825.3 251.9,1825.1 252.7,1823.5 253.5,1823.9 254.3,1826.3 255.1,1826.9 255.9,1825.5 256.7,1823.4 257.5,1821.4 258.3,1820.1 259.1,1819.4 259.9,1818.6 260.7,1817.8 261.5,1818.2 262.3,1819.2 263.1,1820.2 263.9,1820.3 264.7,1820.4 265.5,1821 266.3,1820.7 267.1,1819.5 267.9,1819.4 268.7,1821 269.5,1822.3 270.3,1823.3 271.1,1822.6 271.9,1820.8 272.7,1820.7 273.5,1821.6 274.3,1820.6 275.1,1818.8 275.9,1817.6 276.7,1818.7 277.5,1821.3 278.3,1822.7 279.1,1822 279.9,1820.9 280.7,1821 281.5,1822.1 282.3,1824.2 283.1,1824.2 283.9,1823.3 284.7,1823.3 285.5,1823.5 286.3,1823.5 287.1,1822.9 287.9,1822.6 288.7,1822.9 289.5,1822 290.3,1822.4 291.1,1824.3 291.9,1825.7 292.7,1825 293.5,1823.5 294.3,1823.7 295.1,1825.3 295.9,1825.9 296.7,1824.9 297.5,1824.7 298.3,1826 299.1,1825.7 299.9,1824.6 300.7,1825.9 301.5,1827.3 302.3,1827.5 303.1,1825.7 303.9,1825.8 304.7,1827.7 305.5,1828.5 306.3,1828.2 307.1,1828.9 307.9,1829.4 308.7,1829.9 309.5,1831.5 310.3,1832.8 311.1,1832.6 311.9,1831.9 312.7,1831.5 313.5,1831.4 314.3,1831.2 315.1,1831.8 315.9,1831.6 316.7,1831.2 317.5,1831.4 318.3,1831.2 319.1,1831.5 319.9,1831.7 320.7,1831.4 321.5,1832.4 322.3,1832.7 323.1,1831.1 323.9,1830.2 324.7,1831.4 325.5,1831.7 326.3,1831.9 327.1,1832 327.9,1831.7 328.7,1831.7 329.5,1830.8 330.3,1830.2 331.1,1829.6 331.9,1829.4 332.7,1830.3 333.5,1831.7 334.3,1831.4 335.1,1831.1 335.9,1831.3 336.7,1830.4 337.5,1831.2 338.3,1832.3 339.1,1831.5 339.9,1829.1 340.7,1827.8 341.5,1826.7 342.3,1824.9 343.1,1824.5 343.9,1824.2 344.7,1825.2 345.5,1827 346.3,1827.1 347.1,1826.5 347.9,1826.4 348.7,1824.9 349.5,1825.4 350.3,1826.6 351.1,1828.1 351.9,1828.6 352.7,1825.8 353.5,1823.4 354.3,1824.8 355.1,1826.7 355.9,1827.7 356.7,1827.7 357.5,1828.1 358.3,1827.8 359.1,1826.3 359.9,1825.4 360.7,1825.2 361.5,1824.3 362.3,1821.4 363.1,1820 363.9,1820 364.7,1820.7" fill="none" stroke="#000" stroke-width="2.4" stroke-linejoin="round"/>
<rect x="185.7" y="1704.3" width="38" height="132.3" fill="#00ff00" fill-opacity="0.2"/>
<line x1="111.1" y1="1704.3" x2="111.1" y2="1837.6" stroke="#222" stroke-width="2"/>
<line x1="110.1" y1="1836.6" x2="364.8" y2="1836.6" stroke="#222" stroke-width="2"/>
<line x1="111.1" y1="1836.6" x2="111.1" y2="1840.1" stroke="#222" stroke-width="2"/>
<line x1="161.8" y1="1836.6" x2="161.8" y2="1840.1" stroke="#222" stroke-width="2"/>
<line x1="364.8" y1="1836.6" x2="364.8" y2="1840.1" stroke="#222" stroke-width="2"/>
<line x1="107.6" y1="1725.5" x2="111.1" y2="1725.5" stroke="#222" stroke-width="2"/>
<text x="102.1" y="1734.9" text-anchor="end">1</text>
<line x1="107.6" y1="1836.6" x2="111.1" y2="1836.6" stroke="#222" stroke-width="2"/>
<text x="102.1" y="1846" text-anchor="end">0</text>
<text x="109.6" y="1873.8" text-anchor="middle">-2</text>
<text x="161.8" y="1873.8" text-anchor="middle">0</text>
<text x="365.3" y="1873.8" text-anchor="middle">8</text>
<text x="262.6" y="1881.5" text-anchor="middle">Time from</text>
<text x="262.6" y="1917.6" text-anchor="middle">landing (s)</text>
<text x="97.6" y="1385.5" text-anchor="middle" transform="rotate(-90 97.6 1385.5)">Trials</text>
<text x="57.6" y="1604.8" text-anchor="middle" transform="rotate(-90 57.6 1604.8)">Firing rate</text>
<text x="93.7" y="1604.8" text-anchor="middle" transform="rotate(-90 93.7 1604.8)">(Hz)</text>
<text x="58.8" y="1770.5" text-anchor="middle" transform="rotate(-90 58.8 1770.5)">Acceleration</text>
<text x="95.7" y="1770.5" text-anchor="middle" transform="rotate(-90 95.7 1770.5)">(g)</text>
<path d="M442.9 1265.6H694.7v6.7H442.9zM442.9 1271.9H694.7v6.7H442.9zM442.9 1278.2H694.7v6.7H442.9zM442.9 1284.5H694.7v6.7H442.9zM442.9 1290.8H694.7v6.7H442.9zM442.9 1297.1H694.7v6.7H442.9zM442.9 1303.4H694.7v6.7H442.9zM442.9 1309.8H694.7v6.7H442.9zM442.9 1316.1H694.7v6.7H442.9zM442.9 1322.4H694.7v6.7H442.9zM442.9 1328.7H694.7v6.7H442.9zM442.9 1335H694.7v6.7H442.9zM442.9 1341.3H694.7v6.7H442.9zM442.9 1347.6H693.2v6.7H442.9zM442.9 1353.9H690.2v6.7H442.9zM442.9 1360.2H687.3v6.7H442.9zM442.9 1366.5H684.7v6.7H442.9zM442.9 1372.8H676.5v6.7H442.9zM442.9 1379.1H662.7v6.7H442.9zM442.9 1385.4H658.3v6.7H442.9zM442.9 1391.8H655.9v6.7H442.9zM442.9 1398.1H654.4v6.7H442.9zM442.9 1404.4H652.9v6.7H442.9zM442.9 1410.7H646.9v6.7H442.9zM442.9 1417H643.8v6.7H442.9zM442.9 1423.3H642v6.7H442.9zM442.9 1429.6H640.1v6.7H442.9zM442.9 1435.9H638.3v6.7H442.9zM442.9 1442.2H633.3v6.7H442.9zM442.9 1448.5H628v6.7H442.9zM442.9 1454.8H622.4v6.7H442.9zM442.9 1461.1H619v6.7H442.9zM442.9 1467.5H609.2v6.7H442.9zM442.9 1473.8H595v6.7H442.9zM442.9 1480.1H590.8v6.7H442.9zM442.9 1486.4H588.9v6.7H442.9zM442.9 1492.7H583.6v6.7H442.9zM442.9 1499H569.3v6.7H442.9z" fill="#00008f"/>
<path d="M463 1265.6h2.8v6.6h-2.8zM485.7 1265.6h7.9v6.6h-7.9zM581.4 1265.6h7.9v6.6h-7.9zM599 1265.6h20.4v6.6h-20.4zM468.1 1271.9h5.3v6.6h-5.3zM568.8 1271.9h25.5v6.6h-25.5zM442.9 1278.2h5.3v6.6h-5.3zM470.6 1278.2h2.8v6.6h-2.8zM518.4 1278.2h5.3v6.6h-5.3zM573.8 1278.2h2.8v6.6h-2.8zM583.9 1278.2h20.4v6.6h-20.4zM644.3 1278.2h17.9v6.6h-17.9zM510.9 1284.5h2.8v6.6h-2.8zM548.7 1284.5h7.9v6.6h-7.9zM576.4 1284.5h2.8v6.6h-2.8zM631.8 1284.5h20.4v6.6h-20.4zM536.1 1290.8h5.3v6.6h-5.3zM654.4 1290.8h2.8v6.6h-2.8zM548.7 1297.1h7.9v6.6h-7.9zM573.8 1297.1h2.8v6.6h-2.8zM614.1 1297.1h38.1v6.6h-38.1zM442.9 1303.4h7.9v6.6h-7.9zM510.9 1303.4h38.1v6.6h-38.1zM621.7 1303.4h2.8v6.6h-2.8zM649.4 1303.4h2.8v6.6h-2.8zM672 1303.4h12.9v6.6h-12.9zM447.9 1309.8h15.4v6.6h-15.4zM510.9 1309.8h7.9v6.6h-7.9zM551.2 1309.8h35.6v6.6h-35.6zM636.8 1309.8h40.6v6.6h-40.6zM463 1316.1h2.8v6.6h-2.8zM498.3 1316.1h17.9v6.6h-17.9zM548.7 1316.1h12.9v6.6h-12.9zM473.1 1322.4h17.9v6.6h-17.9zM526 1322.4h2.8v6.6h-2.8zM563.8 1322.4h20.4v6.6h-20.4zM629.2 1328.7h2.8v6.6h-2.8zM656.9 1328.7h2.8v6.6h-2.8zM490.7 1335h2.8v6.6h-2.8zM546.1 1335h20.4v6.6h-20.4zM576.4 1335h2.8v6.6h-2.8zM609.1 1335h2.8v6.6h-2.8zM463 1341.3h2.8v6.6h-2.8zM541.1 1341.3h38.1v6.6h-38.1zM498.3 1347.6h5.3v6.6h-5.3zM563.8 1347.6h5.3v6.6h-5.3zM455.5 1353.9h2.8v6.6h-2.8zM505.9 1360.2h5.3v6.6h-5.3zM556.2 1360.2h2.8v6.6h-2.8zM478.2 1366.5h17.9v6.6h-17.9zM505.9 1372.8h2.8v6.6h-2.8zM583.9 1372.8h5.3v6.6h-5.3zM601.5 1372.8h2.8v6.6h-2.8zM621.7 1372.8h2.8v6.6h-2.8zM515.9 1379.1h2.8v6.6h-2.8zM548.7 1379.1h2.8v6.6h-2.8zM624.2 1379.1h35.6v6.6h-35.6zM510.9 1385.4h2.8v6.6h-2.8zM553.7 1385.4h2.8v6.6h-2.8zM445.4 1391.8h5.3v6.6h-5.3zM500.8 1391.8h5.3v6.6h-5.3zM644.3 1391.8h12.9v6.6h-12.9zM458 1398.1h12.9v6.6h-12.9zM495.8 1398.1h2.8v6.6h-2.8zM518.4 1398.1h2.8v6.6h-2.8zM548.7 1398.1h2.8v6.6h-2.8zM468.1 1404.4h30.5v6.6h-30.5zM521 1404.4h2.8v6.6h-2.8zM548.7 1404.4h2.8v6.6h-2.8zM573.8 1404.4h2.8v6.6h-2.8zM601.5 1404.4h5.3v6.6h-5.3zM445.4 1410.7h5.3v6.6h-5.3zM485.7 1410.7h5.3v6.6h-5.3zM453 1417h7.9v6.6h-7.9zM510.9 1417h5.3v6.6h-5.3zM460.5 1423.3h5.3v6.6h-5.3zM571.3 1423.3h5.3v6.6h-5.3zM442.9 1429.6h12.9v6.6h-12.9zM515.9 1429.6h2.8v6.6h-2.8zM566.3 1429.6h2.8v6.6h-2.8zM508.4 1435.9h2.8v6.6h-2.8zM538.6 1435.9h2.8v6.6h-2.8zM591.5 1435.9h28v6.6h-28zM453 1442.2h30.5v6.6h-30.5zM563.8 1442.2h5.3v6.6h-5.3zM616.6 1442.2h5.3v6.6h-5.3zM445.4 1448.5h23v6.6h-23zM500.8 1448.5h2.8v6.6h-2.8zM533.5 1448.5h2.8v6.6h-2.8zM551.2 1448.5h15.4v6.6h-15.4zM463 1454.8h2.8v6.6h-2.8zM488.2 1454.8h5.3v6.6h-5.3zM561.2 1454.8h5.3v6.6h-5.3zM445.4 1461.1h5.3v6.6h-5.3zM463 1461.1h2.8v6.6h-2.8zM463 1467.5h2.8v6.6h-2.8zM503.3 1467.5h5.3v6.6h-5.3zM521 1467.5h2.8v6.6h-2.8zM551.2 1467.5h2.8v6.6h-2.8zM488.2 1473.8h5.3v6.6h-5.3zM558.7 1473.8h7.9v6.6h-7.9zM447.9 1480.1h2.8v6.6h-2.8zM475.6 1480.1h5.3v6.6h-5.3zM483.2 1480.1h28v6.6h-28zM508.4 1486.4h2.8v6.6h-2.8zM538.6 1486.4h2.8v6.6h-2.8zM551.2 1486.4h17.9v6.6h-17.9zM455.5 1492.7h5.3v6.6h-5.3zM503.3 1492.7h2.8v6.6h-2.8zM573.8 1492.7h2.8v6.6h-2.8zM478.2 1499h17.9v6.6h-17.9z" fill="#0000bb"/>
<path d="M442.9 1265.6h2.8v6.6h-2.8zM460.5 1265.6h2.8v6.6h-2.8zM493.3 1265.6h2.8v6.6h-2.8zM578.9 1265.6h2.8v6.6h-2.8zM442.9 1271.9h2.8v6.6h-2.8zM447.9 1278.2h2.8v6.6h-2.8zM468.1 1278.2h2.8v6.6h-2.8zM523.5 1278.2h2.8v6.6h-2.8zM571.3 1278.2h2.8v6.6h-2.8zM513.4 1284.5h2.8v6.6h-2.8zM546.1 1284.5h2.8v6.6h-2.8zM556.2 1284.5h2.8v6.6h-2.8zM573.8 1284.5h2.8v6.6h-2.8zM541.1 1290.8h2.8v6.6h-2.8zM651.9 1290.8h2.8v6.6h-2.8zM556.2 1297.1h2.8v6.6h-2.8zM571.3 1297.1h2.8v6.6h-2.8zM450.5 1303.4h5.3v6.6h-5.3zM505.9 1303.4h5.3v6.6h-5.3zM624.2 1303.4h2.8v6.6h-2.8zM646.9 1303.4h2.8v6.6h-2.8zM518.4 1309.8h2.8v6.6h-2.8zM548.7 1309.8h2.8v6.6h-2.8zM460.5 1316.1h2.8v6.6h-2.8zM470.6 1322.4h2.8v6.6h-2.8zM528.5 1322.4h2.8v6.6h-2.8zM561.2 1322.4h2.8v6.6h-2.8zM631.8 1328.7h2.8v6.6h-2.8zM654.4 1328.7h2.8v6.6h-2.8zM493.3 1335h2.8v6.6h-2.8zM543.6 1335h2.8v6.6h-2.8zM442.9 1341.3h2.8v6.6h-2.8zM460.5 1341.3h2.8v6.6h-2.8zM503.3 1347.6h2.8v6.6h-2.8zM561.2 1347.6h2.8v6.6h-2.8zM453 1353.9h2.8v6.6h-2.8zM510.9 1360.2h2.8v6.6h-2.8zM553.7 1360.2h2.8v6.6h-2.8zM508.4 1372.8h2.8v6.6h-2.8zM581.4 1372.8h2.8v6.6h-2.8zM604.1 1372.8h2.8v6.6h-2.8zM619.2 1372.8h2.8v6.6h-2.8zM518.4 1379.1h2.8v6.6h-2.8zM546.1 1379.1h2.8v6.6h-2.8zM513.4 1385.4h2.8v6.6h-2.8zM551.2 1385.4h2.8v6.6h-2.8zM450.5 1391.8h5.3v6.6h-5.3zM495.8 1391.8h5.3v6.6h-5.3zM470.6 1398.1h2.8v6.6h-2.8zM493.3 1398.1h2.8v6.6h-2.8zM521 1398.1h2.8v6.6h-2.8zM546.1 1398.1h2.8v6.6h-2.8zM523.5 1404.4h2.8v6.6h-2.8zM546.1 1404.4h2.8v6.6h-2.8zM576.4 1404.4h2.8v6.6h-2.8zM599 1404.4h2.8v6.6h-2.8zM450.5 1410.7h2.8v6.6h-2.8zM483.2 1410.7h2.8v6.6h-2.8zM460.5 1417h2.8v6.6h-2.8zM508.4 1417h2.8v6.6h-2.8zM465.6 1423.3h5.3v6.6h-5.3zM566.3 1423.3h5.3v6.6h-5.3zM510.9 1435.9h2.8v6.6h-2.8zM536.1 1435.9h2.8v6.6h-2.8zM503.3 1448.5h2.8v6.6h-2.8zM531 1448.5h2.8v6.6h-2.8zM460.5 1454.8h2.8v6.6h-2.8zM493.3 1454.8h5.3v6.6h-5.3zM556.2 1454.8h5.3v6.6h-5.3zM450.5 1461.1h2.8v6.6h-2.8zM460.5 1461.1h2.8v6.6h-2.8zM460.5 1467.5h2.8v6.6h-2.8zM523.5 1467.5h2.8v6.6h-2.8zM548.7 1467.5h2.8v6.6h-2.8zM493.3 1473.8h2.8v6.6h-2.8zM556.2 1473.8h2.8v6.6h-2.8zM450.5 1480.1h2.8v6.6h-2.8zM473.1 1480.1h2.8v6.6h-2.8zM510.9 1486.4h2.8v6.6h-2.8zM536.1 1486.4h2.8v6.6h-2.8zM505.9 1492.7h2.8v6.6h-2.8zM571.3 1492.7h2.8v6.6h-2.8zM475.6 1499h2.8v6.6h-2.8z" fill="#0000e7"/>
<path d="M445.4 1265.6h2.8v6.6h-2.8zM458 1265.6h2.8v6.6h-2.8zM495.8 1265.6h2.8v6.6h-2.8zM573.8 1265.6h5.3v6.6h-5.3zM445.4 1271.9h2.8v6.6h-2.8zM465.6 1271.9h2.8v6.6h-2.8zM450.5 1278.2h2.8v6.6h-2.8zM465.6 1278.2h2.8v6.6h-2.8zM568.8 1278.2h2.8v6.6h-2.8zM558.7 1284.5h2.8v6.6h-2.8zM571.3 1284.5h2.8v6.6h-2.8zM543.6 1290.8h2.8v6.6h-2.8zM566.3 1290.8h5.3v6.6h-5.3zM619.2 1290.8h5.3v6.6h-5.3zM558.7 1297.1h2.8v6.6h-2.8zM568.8 1297.1h2.8v6.6h-2.8zM455.5 1303.4h2.8v6.6h-2.8zM503.3 1303.4h2.8v6.6h-2.8zM626.7 1303.4h2.8v6.6h-2.8zM644.3 1303.4h2.8v6.6h-2.8zM515.9 1316.1h2.8v6.6h-2.8zM546.1 1316.1h2.8v6.6h-2.8zM634.3 1328.7h2.8v6.6h-2.8zM651.9 1328.7h2.8v6.6h-2.8zM495.8 1335h2.8v6.6h-2.8zM541.1 1335h2.8v6.6h-2.8zM578.9 1335h2.8v6.6h-2.8zM606.6 1335h2.8v6.6h-2.8zM445.4 1341.3h2.8v6.6h-2.8zM458 1341.3h2.8v6.6h-2.8zM505.9 1347.6h5.3v6.6h-5.3zM556.2 1347.6h5.3v6.6h-5.3zM442.9 1353.9h2.8v6.6h-2.8zM551.2 1360.2h2.8v6.6h-2.8zM475.6 1366.5h2.8v6.6h-2.8zM606.6 1372.8h2.8v6.6h-2.8zM616.6 1372.8h2.8v6.6h-2.8zM455.5 1391.8h2.8v6.6h-2.8zM493.3 1391.8h2.8v6.6h-2.8zM473.1 1398.1h2.8v6.6h-2.8zM490.7 1398.1h2.8v6.6h-2.8zM578.9 1404.4h2.8v6.6h-2.8zM596.5 1404.4h2.8v6.6h-2.8zM453 1410.7h2.8v6.6h-2.8zM480.7 1410.7h2.8v6.6h-2.8zM463 1417h2.8v6.6h-2.8zM518.4 1429.6h2.8v6.6h-2.8zM563.8 1429.6h2.8v6.6h-2.8zM568.8 1442.2h2.8v6.6h-2.8zM614.1 1442.2h2.8v6.6h-2.8zM505.9 1448.5h2.8v6.6h-2.8zM528.5 1448.5h2.8v6.6h-2.8zM453 1480.1h2.8v6.6h-2.8zM470.6 1480.1h2.8v6.6h-2.8zM508.4 1492.7h2.8v6.6h-2.8z" fill="#0013ff"/>
<path d="M447.9 1265.6h10.4v6.6h-10.4zM498.3 1265.6h2.8v6.6h-2.8zM447.9 1271.9h17.9v6.6h-17.9zM453 1278.2h12.9v6.6h-12.9zM526 1278.2h2.8v6.6h-2.8zM515.9 1284.5h2.8v6.6h-2.8zM543.6 1284.5h2.8v6.6h-2.8zM561.2 1284.5h10.4v6.6h-10.4zM546.1 1290.8h20.4v6.6h-20.4zM571.3 1290.8h2.8v6.6h-2.8zM616.6 1290.8h2.8v6.6h-2.8zM624.2 1290.8h2.8v6.6h-2.8zM649.4 1290.8h2.8v6.6h-2.8zM561.2 1297.1h7.9v6.6h-7.9zM458 1303.4h45.6v6.6h-45.6zM629.2 1303.4h15.4v6.6h-15.4zM521 1309.8h2.8v6.6h-2.8zM546.1 1309.8h2.8v6.6h-2.8zM468.1 1322.4h2.8v6.6h-2.8zM531 1322.4h2.8v6.6h-2.8zM558.7 1322.4h2.8v6.6h-2.8zM636.8 1328.7h15.4v6.6h-15.4zM498.3 1335h2.8v6.6h-2.8zM447.9 1341.3h10.4v6.6h-10.4zM445.4 1353.9h7.9v6.6h-7.9zM513.4 1360.2h2.8v6.6h-2.8zM510.9 1372.8h2.8v6.6h-2.8zM578.9 1372.8h2.8v6.6h-2.8zM609.1 1372.8h7.9v6.6h-7.9zM521 1379.1h2.8v6.6h-2.8zM543.6 1379.1h2.8v6.6h-2.8zM515.9 1385.4h2.8v6.6h-2.8zM548.7 1385.4h2.8v6.6h-2.8zM458 1391.8h35.6v6.6h-35.6zM475.6 1398.1h15.4v6.6h-15.4zM581.4 1404.4h15.4v6.6h-15.4zM455.5 1410.7h25.5v6.6h-25.5zM505.9 1417h2.8v6.6h-2.8zM470.6 1423.3h2.8v6.6h-2.8zM563.8 1423.3h2.8v6.6h-2.8zM508.4 1448.5h20.4v6.6h-20.4zM498.3 1454.8h2.8v6.6h-2.8zM553.7 1454.8h2.8v6.6h-2.8zM453 1461.1h7.9v6.6h-7.9zM495.8 1473.8h2.8v6.6h-2.8zM553.7 1473.8h2.8v6.6h-2.8zM455.5 1480.1h15.4v6.6h-15.4zM510.9 1492.7h17.9v6.6h-17.9zM568.8 1492.7h2.8v6.6h-2.8zM473.1 1499h2.8v6.6h-2.8z" fill="#003fff"/>
<path d="M500.8 1265.6h2.8v6.6h-2.8zM571.3 1265.6h2.8v6.6h-2.8zM566.3 1278.2h2.8v6.6h-2.8zM458 1316.1h2.8v6.6h-2.8zM518.4 1316.1h2.8v6.6h-2.8zM543.6 1316.1h2.8v6.6h-2.8zM442.9 1322.4h2.8v6.6h-2.8zM538.6 1335h2.8v6.6h-2.8zM510.9 1347.6h5.3v6.6h-5.3zM551.2 1347.6h5.3v6.6h-5.3zM548.7 1360.2h2.8v6.6h-2.8zM442.9 1366.5h2.8v6.6h-2.8zM473.1 1366.5h2.8v6.6h-2.8zM523.5 1398.1h2.8v6.6h-2.8zM543.6 1398.1h2.8v6.6h-2.8zM526 1404.4h2.8v6.6h-2.8zM543.6 1404.4h2.8v6.6h-2.8zM465.6 1417h2.8v6.6h-2.8zM473.1 1423.3h2.8v6.6h-2.8zM561.2 1423.3h2.8v6.6h-2.8zM513.4 1435.9h2.8v6.6h-2.8zM533.5 1435.9h2.8v6.6h-2.8zM458 1454.8h2.8v6.6h-2.8zM500.8 1454.8h2.8v6.6h-2.8zM551.2 1454.8h2.8v6.6h-2.8zM458 1467.5h2.8v6.6h-2.8zM526 1467.5h2.8v6.6h-2.8zM546.1 1467.5h2.8v6.6h-2.8zM513.4 1486.4h2.8v6.6h-2.8zM533.5 1486.4h2.8v6.6h-2.8zM528.5 1492.7h2.8v6.6h-2.8z" fill="#006bff"/>
<path d="M503.3 1265.6h2.8v6.6h-2.8zM568.8 1265.6h2.8v6.6h-2.8zM528.5 1278.2h2.8v6.6h-2.8zM518.4 1284.5h2.8v6.6h-2.8zM541.1 1284.5h2.8v6.6h-2.8zM442.9 1316.1h2.8v6.6h-2.8zM533.5 1322.4h2.8v6.6h-2.8zM556.2 1322.4h2.8v6.6h-2.8zM500.8 1335h2.8v6.6h-2.8zM536.1 1335h2.8v6.6h-2.8zM581.4 1335h2.8v6.6h-2.8zM604.1 1335h2.8v6.6h-2.8zM515.9 1347.6h35.6v6.6h-35.6zM515.9 1360.2h2.8v6.6h-2.8zM513.4 1372.8h2.8v6.6h-2.8zM576.4 1372.8h2.8v6.6h-2.8zM518.4 1385.4h2.8v6.6h-2.8zM546.1 1385.4h2.8v6.6h-2.8zM468.1 1417h2.8v6.6h-2.8zM503.3 1417h2.8v6.6h-2.8zM561.2 1429.6h2.8v6.6h-2.8zM442.9 1454.8h2.8v6.6h-2.8zM503.3 1454.8h2.8v6.6h-2.8zM548.7 1454.8h2.8v6.6h-2.8zM442.9 1467.5h2.8v6.6h-2.8zM498.3 1473.8h2.8v6.6h-2.8zM551.2 1473.8h2.8v6.6h-2.8zM566.3 1492.7h2.8v6.6h-2.8zM442.9 1499h2.8v6.6h-2.8z" fill="#0096ff"/>
<path d="M505.9 1265.6h2.8v6.6h-2.8zM566.3 1265.6h2.8v6.6h-2.8zM563.8 1278.2h2.8v6.6h-2.8zM573.8 1290.8h2.8v6.6h-2.8zM614.1 1290.8h2.8v6.6h-2.8zM626.7 1290.8h2.8v6.6h-2.8zM646.9 1290.8h2.8v6.6h-2.8zM523.5 1309.8h2.8v6.6h-2.8zM543.6 1309.8h2.8v6.6h-2.8zM445.4 1322.4h2.8v6.6h-2.8zM465.6 1322.4h2.8v6.6h-2.8zM546.1 1360.2h2.8v6.6h-2.8zM445.4 1366.5h2.8v6.6h-2.8zM523.5 1379.1h2.8v6.6h-2.8zM541.1 1379.1h2.8v6.6h-2.8zM526 1398.1h2.8v6.6h-2.8zM541.1 1398.1h2.8v6.6h-2.8zM528.5 1404.4h2.8v6.6h-2.8zM541.1 1404.4h2.8v6.6h-2.8zM500.8 1417h2.8v6.6h-2.8zM475.6 1423.3h2.8v6.6h-2.8zM558.7 1423.3h2.8v6.6h-2.8zM521 1429.6h2.8v6.6h-2.8zM515.9 1435.9h2.8v6.6h-2.8zM531 1435.9h2.8v6.6h-2.8zM571.3 1442.2h2.8v6.6h-2.8zM611.6 1442.2h2.8v6.6h-2.8zM528.5 1467.5h2.8v6.6h-2.8zM543.6 1467.5h2.8v6.6h-2.8zM515.9 1486.4h2.8v6.6h-2.8zM531 1486.4h2.8v6.6h-2.8zM531 1492.7h2.8v6.6h-2.8zM470.6 1499h2.8v6.6h-2.8z" fill="#00c2ff"/>
<path d="M508.4 1265.6h2.8v6.6h-2.8zM563.8 1265.6h2.8v6.6h-2.8zM531 1278.2h2.8v6.6h-2.8zM521 1284.5h2.8v6.6h-2.8zM538.6 1284.5h2.8v6.6h-2.8zM629.2 1290.8h2.8v6.6h-2.8zM644.3 1290.8h2.8v6.6h-2.8zM526 1309.8h2.8v6.6h-2.8zM541.1 1309.8h2.8v6.6h-2.8zM445.4 1316.1h2.8v6.6h-2.8zM455.5 1316.1h2.8v6.6h-2.8zM521 1316.1h2.8v6.6h-2.8zM541.1 1316.1h2.8v6.6h-2.8zM447.9 1322.4h2.8v6.6h-2.8zM463 1322.4h2.8v6.6h-2.8zM536.1 1322.4h2.8v6.6h-2.8zM553.7 1322.4h2.8v6.6h-2.8zM503.3 1335h2.8v6.6h-2.8zM533.5 1335h2.8v6.6h-2.8zM518.4 1360.2h2.8v6.6h-2.8zM543.6 1360.2h2.8v6.6h-2.8zM470.6 1366.5h2.8v6.6h-2.8zM543.6 1372.8h5.3v6.6h-5.3zM573.8 1372.8h2.8v6.6h-2.8zM521 1385.4h2.8v6.6h-2.8zM543.6 1385.4h2.8v6.6h-2.8zM470.6 1417h2.8v6.6h-2.8zM445.4 1454.8h2.8v6.6h-2.8zM455.5 1454.8h2.8v6.6h-2.8zM505.9 1454.8h2.8v6.6h-2.8zM546.1 1454.8h2.8v6.6h-2.8zM445.4 1467.5h2.8v6.6h-2.8zM455.5 1467.5h2.8v6.6h-2.8zM500.8 1473.8h2.8v6.6h-2.8zM548.7 1473.8h2.8v6.6h-2.8z" fill="#00eeff"/>
<path d="M510.9 1265.6h53.2v6.6h-53.2zM561.2 1278.2h2.8v6.6h-2.8zM523.5 1284.5h15.4v6.6h-15.4zM631.8 1290.8h12.9v6.6h-12.9zM528.5 1309.8h12.9v6.6h-12.9zM447.9 1316.1h7.9v6.6h-7.9zM450.5 1322.4h12.9v6.6h-12.9zM538.6 1322.4h15.4v6.6h-15.4zM505.9 1335h28v6.6h-28zM583.9 1335h2.8v6.6h-2.8zM601.5 1335h2.8v6.6h-2.8zM521 1360.2h23v6.6h-23zM447.9 1366.5h2.8v6.6h-2.8zM548.7 1372.8h25.5v6.6h-25.5zM526 1379.1h15.4v6.6h-15.4zM523.5 1385.4h20.4v6.6h-20.4zM528.5 1398.1h12.9v6.6h-12.9zM531 1404.4h10.4v6.6h-10.4zM473.1 1417h28v6.6h-28zM518.4 1435.9h12.9v6.6h-12.9zM447.9 1454.8h7.9v6.6h-7.9zM508.4 1454.8h38.1v6.6h-38.1zM447.9 1467.5h7.9v6.6h-7.9zM531 1467.5h12.9v6.6h-12.9zM518.4 1486.4h12.9v6.6h-12.9zM533.5 1492.7h2.8v6.6h-2.8zM563.8 1492.7h2.8v6.6h-2.8zM445.4 1499h2.8v6.6h-2.8z" fill="#1affe5"/>
<path d="M533.5 1278.2h2.8v6.6h-2.8zM576.4 1290.8h2.8v6.6h-2.8zM611.6 1290.8h2.8v6.6h-2.8zM468.1 1366.5h2.8v6.6h-2.8zM515.9 1372.8h2.8v6.6h-2.8zM541.1 1372.8h2.8v6.6h-2.8zM478.2 1423.3h2.8v6.6h-2.8zM556.2 1423.3h2.8v6.6h-2.8zM503.3 1473.8h2.8v6.6h-2.8zM546.1 1473.8h2.8v6.6h-2.8zM468.1 1499h2.8v6.6h-2.8z" fill="#46ffb9"/>
<path d="M558.7 1278.2h2.8v6.6h-2.8zM523.5 1316.1h2.8v6.6h-2.8zM538.6 1316.1h2.8v6.6h-2.8zM586.4 1335h2.8v6.6h-2.8zM599 1335h2.8v6.6h-2.8zM450.5 1366.5h2.8v6.6h-2.8zM523.5 1429.6h2.8v6.6h-2.8zM573.8 1442.2h2.8v6.6h-2.8zM609.1 1442.2h2.8v6.6h-2.8z" fill="#72ff8d"/>
<path d="M536.1 1278.2h23v6.6h-23zM526 1316.1h12.9v6.6h-12.9zM588.9 1335h10.4v6.6h-10.4zM453 1366.5h15.4v6.6h-15.4zM558.7 1429.6h2.8v6.6h-2.8zM505.9 1473.8h2.8v6.6h-2.8zM543.6 1473.8h2.8v6.6h-2.8zM536.1 1492.7h2.8v6.6h-2.8zM561.2 1492.7h2.8v6.6h-2.8zM447.9 1499h2.8v6.6h-2.8z" fill="#9dff62"/>
<path d="M518.4 1372.8h2.8v6.6h-2.8zM538.6 1372.8h2.8v6.6h-2.8zM480.7 1423.3h2.8v6.6h-2.8zM553.7 1423.3h2.8v6.6h-2.8zM465.6 1499h2.8v6.6h-2.8z" fill="#c9ff36"/>
<path d="M578.9 1290.8h2.8v6.6h-2.8zM609.1 1290.8h2.8v6.6h-2.8zM521 1372.8h2.8v6.6h-2.8zM536.1 1372.8h2.8v6.6h-2.8zM526 1429.6h2.8v6.6h-2.8zM508.4 1473.8h2.8v6.6h-2.8zM541.1 1473.8h2.8v6.6h-2.8zM538.6 1492.7h2.8v6.6h-2.8zM558.7 1492.7h2.8v6.6h-2.8zM450.5 1499h2.8v6.6h-2.8zM463 1499h2.8v6.6h-2.8z" fill="#f5ff0a"/>
<path d="M523.5 1372.8h12.9v6.6h-12.9zM528.5 1429.6h5.3v6.6h-5.3zM510.9 1473.8h17.9v6.6h-17.9zM541.1 1492.7h17.9v6.6h-17.9zM453 1499h10.4v6.6h-10.4z" fill="#ffde00"/>
<path d="M581.4 1290.8h2.8v6.6h-2.8zM606.6 1290.8h2.8v6.6h-2.8zM483.2 1423.3h2.8v6.6h-2.8zM551.2 1423.3h2.8v6.6h-2.8zM533.5 1429.6h2.8v6.6h-2.8zM528.5 1473.8h2.8v6.6h-2.8zM538.6 1473.8h2.8v6.6h-2.8z" fill="#ffb200"/>
<path d="M583.9 1290.8h23v6.6h-23zM576.4 1442.2h2.8v6.6h-2.8zM606.6 1442.2h2.8v6.6h-2.8zM531 1473.8h7.9v6.6h-7.9z" fill="#ff8600"/>
<path d="M485.7 1423.3h2.8v6.6h-2.8zM548.7 1423.3h2.8v6.6h-2.8zM556.2 1429.6h2.8v6.6h-2.8z" fill="#ff2f00"/>
<path d="M536.1 1429.6h2.8v6.6h-2.8z" fill="#ff0300"/>
<path d="M488.2 1423.3h2.8v6.6h-2.8zM546.1 1423.3h2.8v6.6h-2.8z" fill="#d70000"/>
<path d="M578.9 1442.2h2.8v6.6h-2.8zM604.1 1442.2h2.8v6.6h-2.8z" fill="#ab0000"/>
<path d="M490.7 1423.3h55.7v6.6h-55.7zM538.6 1429.6h17.9v6.6h-17.9zM581.4 1442.2h23v6.6h-23z" fill="#800000"/>
<line x1="442.9" y1="1265.6" x2="694.7" y2="1265.6" stroke="#222" stroke-width="2"/>
<line x1="442.9" y1="1505.3" x2="694.7" y2="1505.3" stroke="#222" stroke-width="2"/>
<line x1="442.9" y1="1265.6" x2="442.9" y2="1505.3" stroke="#222" stroke-width="2"/>
<line x1="694.7" y1="1265.6" x2="694.7" y2="1505.3" stroke="#222" stroke-width="2"/>
<line x1="442.9" y1="1259.1" x2="442.9" y2="1265.6" stroke="#222" stroke-width="2"/>
<line x1="442.9" y1="1505.3" x2="442.9" y2="1511.8" stroke="#222" stroke-width="2"/>
<line x1="493.3" y1="1259.1" x2="493.3" y2="1265.6" stroke="#222" stroke-width="2"/>
<line x1="493.3" y1="1505.3" x2="493.3" y2="1511.8" stroke="#222" stroke-width="2"/>
<line x1="694.7" y1="1259.1" x2="694.7" y2="1265.6" stroke="#222" stroke-width="2"/>
<line x1="694.7" y1="1505.3" x2="694.7" y2="1511.8" stroke="#222" stroke-width="2"/>
<line x1="436.4" y1="1268.8" x2="442.9" y2="1268.8" stroke="#222" stroke-width="2"/>
<line x1="694.7" y1="1268.8" x2="701.2" y2="1268.8" stroke="#222" stroke-width="2"/>
<text x="433.6" y="1278.2" text-anchor="end">38</text>
<text x="450.2" y="1252.5">Bat 1</text>
<text x="694.4" y="1254.5" text-anchor="end">17.2 Hz</text>
<line x1="493.3" y1="1538.7" x2="493.3" y2="1671" stroke="#a0a0a0" stroke-width="2.6"/>
<polyline points="442.9,1635.2 444.4,1633.1 445.9,1631.1 447.4,1629.2 448.9,1627.6 450.4,1626.2 451.9,1625.3 453.4,1624.6 454.9,1624.3 456.4,1624.4 457.9,1624.8 459.4,1625.6 460.9,1626.9 462.4,1628.5 463.9,1630.6 465.4,1633 466.9,1635.6 468.4,1638.4 469.9,1641.3 471.4,1644 472.9,1646.6 474.4,1649 475.9,1651.1 477.4,1652.8 478.9,1654.1 480.4,1654.8 481.9,1654.9 483.4,1654.4 484.9,1653.2 486.4,1651.2 487.9,1648.6 489.4,1645.4 490.9,1641.9 492.4,1638.5 493.9,1635.3 495.4,1632.7 496.9,1630.5 498.4,1628.8 499.9,1627.6 501.4,1626.8 502.9,1626.4 504.4,1626.2 505.9,1626.2 507.4,1626.3 508.9,1626.3 510.4,1626.1 511.9,1625.4 513.4,1624.1 514.9,1621.9 516.4,1618.9 517.9,1615 519.4,1610.5 520.9,1605.2 522.4,1599.4 523.9,1593.3 525.4,1586.9 526.9,1580.5 528.4,1574.3 529.9,1568.6 531.4,1563.7 532.9,1559.7 534.4,1556.8 535.9,1554.9 537.4,1554.4 538.9,1555 540.4,1556.9 541.9,1559.8 543.4,1563.6 544.9,1568.1 546.4,1573.2 547.9,1578.7 549.4,1584.2 550.9,1589.8 552.4,1595.2 553.9,1600.5 555.4,1605.7 556.9,1610.7 558.4,1615.5 559.9,1620.1 561.4,1624.6 562.9,1628.8 564.4,1632.8 565.9,1636.7 567.4,1640.3 568.9,1643.7 570.4,1646.7 571.9,1649.3 573.4,1651.3 574.9,1652.7 576.4,1653.3 577.9,1653.1 579.4,1652 580.9,1650.2 582.4,1647.6 583.9,1644.6 585.4,1641.4 586.9,1638.3 588.4,1635.7 589.9,1633.6 591.4,1632.4 592.9,1632.2 594.4,1632.9 595.9,1634.2 597.4,1636.1 598.9,1638.2 600.4,1640.5 601.9,1642.7 603.4,1645 604.9,1647.2 606.4,1649.5 607.9,1651.7 609.4,1653.9 610.9,1656 612.4,1658.1 613.9,1660 615.4,1661.7 616.9,1663.3 618.4,1664.6 619.9,1665.5 621.4,1666.1 622.9,1666.1 624.4,1665.7 625.9,1665 627.4,1664 628.9,1662.9 630.4,1661.8 631.9,1660.9 633.4,1660.3 634.9,1660 636.4,1660 637.9,1660.1 639.4,1660.5 640.9,1661 642.4,1661.6 643.9,1662.4 645.4,1663.2 646.9,1664 648.4,1664.9 649.9,1665.8 651.4,1666.8 652.9,1667.6 654.4,1668.5 655.9,1669.2 657.4,1669.9 658.9,1670 660.4,1670 661.9,1670 663.4,1670 664.9,1670 666.4,1670 667.9,1670 669.4,1670 670.9,1670 672.4,1670 673.9,1670 675.4,1670 676.9,1670 678.4,1670 679.9,1670 681.4,1670 682.9,1670 684.4,1670 685.9,1670 687.4,1670 688.9,1670 690.4,1670 691.9,1670 693.4,1670 694.9,1670 695.3,1670" fill="none" stroke="#000" stroke-width="2.4" stroke-linejoin="round"/>
<rect x="525" y="1538.7" width="24.6" height="132.3" fill="#00ff00" fill-opacity="0.2"/>
<line x1="442.9" y1="1538.7" x2="442.9" y2="1672" stroke="#222" stroke-width="2"/>
<line x1="441.9" y1="1671" x2="694.7" y2="1671" stroke="#222" stroke-width="2"/>
<line x1="442.9" y1="1671" x2="442.9" y2="1674.5" stroke="#222" stroke-width="2"/>
<line x1="493.3" y1="1671" x2="493.3" y2="1674.5" stroke="#222" stroke-width="2"/>
<line x1="694.7" y1="1671" x2="694.7" y2="1674.5" stroke="#222" stroke-width="2"/>
<line x1="439.4" y1="1538.7" x2="442.9" y2="1538.7" stroke="#222" stroke-width="2"/>
<text x="433.9" y="1548.1" text-anchor="end">2</text>
<line x1="493.3" y1="1704.3" x2="493.3" y2="1836.6" stroke="#a0a0a0" stroke-width="2"/>
<polygon points="442.9,1818.7 443.7,1820.7 444.5,1821.6 445.3,1820.2 446.1,1819.5 446.9,1819.7 447.7,1819.3 448.5,1818.3 449.3,1817 450.1,1816.7 450.9,1817.5 451.7,1816.5 452.5,1814.9 453.3,1814 454.1,1812.6 454.9,1812.6 455.7,1813.2 456.5,1813.3 457.3,1811.8 458.1,1806 458.9,1799.5 459.7,1793.5 460.5,1784.7 461.3,1771.5 462.1,1760.1 462.9,1753 463.7,1749.6 464.5,1753.3 465.3,1760.1 466.1,1768.2 466.9,1773.6 467.7,1774.5 468.5,1776.8 469.3,1781.2 470.1,1786.4 470.9,1788.1 471.7,1786.1 472.5,1784.4 473.3,1782.1 474.1,1780 474.9,1779.4 475.7,1779.7 476.5,1779.4 477.3,1778.9 478.1,1779.5 478.9,1780.6 479.7,1780.3 480.5,1779.7 481.3,1778.2 482.1,1775.9 482.9,1776.4 483.7,1779.1 484.5,1778.8 485.3,1775.1 486.1,1772.3 486.9,1768.9 487.7,1765.9 488.5,1762.5 489.3,1762.9 490.1,1764.8 490.9,1768 491.7,1759.6 492.5,1752 493.3,1736.6 494.1,1712.5 494.9,1699.2 495.7,1699.1 496.5,1700.4 497.3,1710.7 498.1,1740.9 498.9,1768.7 499.7,1794.4 500.5,1813 501.3,1811.4 502.1,1811.2 502.9,1811.7 503.7,1813 504.5,1814.2 505.3,1811.5 506.1,1808.8 506.9,1808.6 507.7,1811.8 508.5,1812.7 509.3,1814.3 510.1,1816.7 510.9,1818.4 511.7,1820.9 512.5,1822.8 513.3,1822.7 514.1,1820.8 514.9,1820.6 515.7,1819.7 516.5,1817.1 517.3,1817.2 518.1,1818.5 518.9,1818.8 519.7,1817.1 520.5,1815.4 521.3,1814.3 522.1,1814.8 522.9,1816.5 523.7,1817.5 524.5,1817.9 525.3,1816.1 526.1,1815.5 526.9,1815.9 527.7,1814.9 528.5,1814.2 529.3,1814.3 530.1,1815.8 530.9,1818.9 531.7,1821 532.5,1820.9 533.3,1819.8 534.1,1820.1 534.9,1819.5 535.7,1818.7 536.5,1819.3 537.3,1819.8 538.1,1819.6 538.9,1818.6 539.7,1819.3 540.5,1819.7 541.3,1821.7 542.1,1822 542.9,1821.7 543.7,1822.1 544.5,1820.4 545.3,1820 546.1,1820.3 546.9,1821.1 547.7,1823.2 548.5,1824.7 549.3,1824.3 550.1,1822 550.9,1820.8 551.7,1822.4 552.5,1822.9 553.3,1820.8 554.1,1819.7 554.9,1820.5 555.7,1823.3 556.5,1825.3 557.3,1824.7 558.1,1823.9 558.9,1822.7 559.7,1821 560.5,1820.8 561.3,1823 562.1,1823.6 562.9,1821.9 563.7,1821.5 564.5,1822.2 565.3,1821 566.1,1820.3 566.9,1819.4 567.7,1818.3 568.5,1818.5 569.3,1820.8 570.1,1822.2 570.9,1823.3 571.7,1825 572.5,1823.9 573.3,1821.2 574.1,1818.8 574.9,1817.2 575.7,1817 576.5,1819.1 577.3,1821.1 578.1,1821.1 578.9,1820.1 579.7,1819.4 580.5,1820.1 581.3,1819.5 582.1,1818.5 582.9,1818.4 583.7,1818.6 584.5,1819.6 585.3,1819.7 586.1,1819 586.9,1818.6 587.7,1820.8 588.5,1821.7 589.3,1820.7 590.1,1818.8 590.9,1817.6 591.7,1817 592.5,1817.5 593.3,1819.5 594.1,1820.7 594.9,1820.2 595.7,1820.3 596.5,1821.1 597.3,1821.8 598.1,1822.6 598.9,1821.1 599.7,1819.4 600.5,1819.2 601.3,1819.2 602.1,1817.4 602.9,1815.3 603.7,1815.2 604.5,1817.2 605.3,1819.7 606.1,1819.9 606.9,1819.8 607.7,1819.5 608.5,1818.4 609.3,1818.9 610.1,1820.2 610.9,1819.5 611.7,1819.4 612.5,1821.1 613.3,1823.8 614.1,1823.9 614.9,1823.5 615.7,1823 616.5,1822.7 617.3,1823.1 618.1,1821.9 618.9,1821.1 619.7,1822 620.5,1822.9 621.3,1823.5 622.1,1823.5 622.9,1822.1 623.7,1820.3 624.5,1820.1 625.3,1821.2 626.1,1822.1 626.9,1823.3 627.7,1823 628.5,1821.8 629.3,1820.2 630.1,1818.8 630.9,1818.4 631.7,1817.9 632.5,1818.9 633.3,1821.7 634.1,1822.4 634.9,1820.5 635.7,1819.8 636.5,1820.5 637.3,1820.9 638.1,1820.5 638.9,1820.6 639.7,1821.8 640.5,1822 641.3,1820.9 642.1,1819.6 642.9,1818.7 643.7,1821 644.5,1823.6 645.3,1823.2 646.1,1824.4 646.9,1824.3 647.7,1823.2 648.5,1822.9 649.3,1823.6 650.1,1824.1 650.9,1823 651.7,1822.4 652.5,1822.3 653.3,1821.3 654.1,1820.5 654.9,1819.9 655.7,1819.8 656.5,1819.1 657.3,1818.8 658.1,1820.6 658.9,1823.1 659.7,1821.2 660.5,1820.7 661.3,1821.1 662.1,1821.4 662.9,1820.2 663.7,1818.7 664.5,1818.1 665.3,1818.4 666.1,1820.3 666.9,1822.7 667.7,1824.2 668.5,1823.7 669.3,1823.5 670.1,1823 670.9,1821.9 671.7,1821.2 672.5,1821.9 673.3,1822.6 674.1,1824.5 674.9,1826 675.7,1825.6 676.5,1824.5 677.3,1823.2 678.1,1823.1 678.9,1821.5 679.7,1821 680.5,1822.4 681.3,1823.2 682.1,1821.2 682.9,1820.3 683.7,1822.2 684.5,1823.8 685.3,1822.6 686.1,1821.2 686.9,1821.1 687.7,1822.3 688.5,1822.8 689.3,1823.5 690.1,1823.1 690.9,1820.8 691.7,1820.1 692.5,1820.7 693.3,1822.1 694.1,1822.5 694.9,1821.6 694.9,1829.4 694.1,1829.3 693.3,1827.9 692.5,1829 691.7,1828.5 690.9,1827.2 690.1,1828.3 689.3,1829.3 688.5,1829.2 687.7,1827.9 686.9,1827 686.1,1827.7 685.3,1828.4 684.5,1829.2 683.7,1829.1 682.9,1828.5 682.1,1829.9 681.3,1832.1 680.5,1831.9 679.7,1830.5 678.9,1829.3 678.1,1828.2 677.3,1829.7 676.5,1830.3 675.7,1830.8 674.9,1831.9 674.1,1831.2 673.3,1828.6 672.5,1827.9 671.7,1828.5 670.9,1828.6 670.1,1828.7 669.3,1829.2 668.5,1829.9 667.7,1829.6 666.9,1830 666.1,1830.7 665.3,1830.4 664.5,1829.9 663.7,1829.5 662.9,1830.3 662.1,1831.5 661.3,1831.6 660.5,1831.2 659.7,1830.5 658.9,1828.4 658.1,1830.8 657.3,1832 656.5,1831.4 655.7,1829.3 654.9,1826.8 654.1,1825.6 653.3,1826.9 652.5,1827.6 651.7,1827.6 650.9,1828.9 650.1,1830.2 649.3,1829.1 648.5,1828 647.7,1828.7 646.9,1829.7 646.1,1830.3 645.3,1829.9 644.5,1829.3 643.7,1827.6 642.9,1826.7 642.1,1827.1 641.3,1826.6 640.5,1827.8 639.7,1828.4 638.9,1827.4 638.1,1827.4 637.3,1828.2 636.5,1829.1 635.7,1830.3 634.9,1831.7 634.1,1832.4 633.3,1830.5 632.5,1828 631.7,1827.7 630.9,1828.3 630.1,1827.9 629.3,1828.1 628.5,1828.3 627.7,1828.5 626.9,1829 626.1,1829.3 625.3,1830 624.5,1829.2 623.7,1828.4 622.9,1828.9 622.1,1829.1 621.3,1828.9 620.5,1828.1 619.7,1828.1 618.9,1828.3 618.1,1829.1 617.3,1829.3 616.5,1828.2 615.7,1828.3 614.9,1828.8 614.1,1829.6 613.3,1829 612.5,1827.7 611.7,1826.3 610.9,1825.5 610.1,1825.9 609.3,1826 608.5,1825.8 607.7,1825.8 606.9,1825.2 606.1,1826.3 605.3,1825.6 604.5,1823.1 603.7,1822.9 602.9,1823.7 602.1,1824.7 601.3,1824.4 600.5,1825.9 599.7,1827.1 598.9,1829.2 598.1,1830.2 597.3,1828.4 596.5,1826.4 595.7,1826.3 594.9,1827.7 594.1,1830.3 593.3,1831.3 592.5,1831.2 591.7,1830.6 590.9,1829.1 590.1,1827.2 589.3,1827 588.5,1828.6 587.7,1830.6 586.9,1830.8 586.1,1830.3 585.3,1827.5 584.5,1825.3 583.7,1825.8 582.9,1825.4 582.1,1824.7 581.3,1825.4 580.5,1826.9 579.7,1827.4 578.9,1828.1 578.1,1827.8 577.3,1826.6 576.5,1826.6 575.7,1825.7 574.9,1826.3 574.1,1827.4 573.3,1828.6 572.5,1829.9 571.7,1830.3 570.9,1829.3 570.1,1827.8 569.3,1826.4 568.5,1825.8 567.7,1827.6 566.9,1829.8 566.1,1830.1 565.3,1829 564.5,1827.7 563.7,1828.2 562.9,1829 562.1,1829.6 561.3,1828.2 560.5,1826.9 559.7,1828.1 558.9,1831.2 558.1,1833 557.3,1833.1 556.5,1832.6 555.7,1830.6 554.9,1829 554.1,1829.1 553.3,1829.2 552.5,1828.6 551.7,1829.2 550.9,1828.9 550.1,1829.9 549.3,1831.1 548.5,1830.6 547.7,1829.3 546.9,1828.6 546.1,1829.6 545.3,1829.6 544.5,1828.2 543.7,1827.2 542.9,1828.8 542.1,1828.9 541.3,1826.7 540.5,1826.3 539.7,1825.4 538.9,1824 538.1,1824.8 537.3,1826.8 536.5,1828.3 535.7,1827.4 534.9,1825.9 534.1,1825.6 533.3,1825.6 532.5,1825.9 531.7,1827.7 530.9,1828.3 530.1,1828 529.3,1828.1 528.5,1826.9 527.7,1825.2 526.9,1824.6 526.1,1823.3 525.3,1822.6 524.5,1822.9 523.7,1823.1 522.9,1822.1 522.1,1820.7 521.3,1820.2 520.5,1820.8 519.7,1822.2 518.9,1824.1 518.1,1823.6 517.3,1824 516.5,1825.4 515.7,1827.7 514.9,1826.9 514.1,1826.3 513.3,1828.2 512.5,1828 511.7,1826.3 510.9,1825.4 510.1,1825.5 509.3,1823.8 508.5,1820.9 507.7,1816.9 506.9,1816.5 506.1,1817.6 505.3,1818.8 504.5,1819.5 503.7,1820.1 502.9,1819.5 502.1,1818.9 501.3,1819.1 500.5,1820 499.7,1800 498.9,1777.3 498.1,1750 497.3,1716.9 496.5,1708.2 495.7,1709.5 494.9,1709.4 494.1,1720.6 493.3,1742.5 492.5,1758.2 491.7,1768 490.9,1779.4 490.1,1779.2 489.3,1778.1 488.5,1776 487.7,1776.9 486.9,1777.4 486.1,1777.6 485.3,1782.4 484.5,1786.2 483.7,1784.4 482.9,1784.9 482.1,1786 481.3,1788.1 480.5,1788.5 479.7,1788 478.9,1787.7 478.1,1786.6 477.3,1786.5 476.5,1787.6 475.7,1788.2 474.9,1788 474.1,1788 473.3,1788.2 472.5,1791 471.7,1793.5 470.9,1793.1 470.1,1795 469.3,1791.8 468.5,1787.7 467.7,1785.1 466.9,1782.9 466.1,1775.3 465.3,1765.2 464.5,1760.2 463.7,1758.7 462.9,1764.3 462.1,1771.9 461.3,1780.9 460.5,1790.1 459.7,1800.3 458.9,1806.2 458.1,1812.6 457.3,1819.3 456.5,1821.9 455.7,1822.9 454.9,1823.9 454.1,1825.3 453.3,1826.6 452.5,1826.4 451.7,1827.5 450.9,1828.8 450.1,1828.1 449.3,1827.5 448.5,1827.4 447.7,1826.9 446.9,1825.6 446.1,1825.3 445.3,1826.7 444.5,1827.9 443.7,1826.7 442.9,1824.7" fill="#b0b0b0"/>
<polyline points="442.9,1821.7 443.7,1823.7 444.5,1824.7 445.3,1823.5 446.1,1822.4 446.9,1822.6 447.7,1823.1 448.5,1822.8 449.3,1822.3 450.1,1822.4 450.9,1823.2 451.7,1822 452.5,1820.7 453.3,1820.3 454.1,1819 454.9,1818.2 455.7,1818.1 456.5,1817.6 457.3,1815.5 458.1,1809.3 458.9,1802.8 459.7,1796.9 460.5,1787.4 461.3,1776.2 462.1,1766 462.9,1758.7 463.7,1754.1 464.5,1756.8 465.3,1762.7 466.1,1771.7 466.9,1778.3 467.7,1779.8 468.5,1782.3 469.3,1786.5 470.1,1790.7 470.9,1790.6 471.7,1789.8 472.5,1787.7 473.3,1785.2 474.1,1784 474.9,1783.7 475.7,1784 476.5,1783.5 477.3,1782.7 478.1,1783.1 478.9,1784.1 479.7,1784.1 480.5,1784.1 481.3,1783.2 482.1,1780.9 482.9,1780.7 483.7,1781.8 484.5,1782.5 485.3,1778.8 486.1,1775 486.9,1773.1 487.7,1771.4 488.5,1769.3 489.3,1770.5 490.1,1772 490.9,1773.7 491.7,1763.8 492.5,1755.1 493.3,1739.5 494.1,1716.5 494.9,1704.3 495.7,1704.3 496.5,1704.3 497.3,1713.8 498.1,1745.4 498.9,1773 499.7,1797.2 500.5,1816.5 501.3,1815.2 502.1,1815.1 502.9,1815.6 503.7,1816.5 504.5,1816.9 505.3,1815.1 506.1,1813.2 506.9,1812.6 507.7,1814.3 508.5,1816.8 509.3,1819 510.1,1821.1 510.9,1821.9 511.7,1823.6 512.5,1825.4 513.3,1825.4 514.1,1823.6 514.9,1823.8 515.7,1823.7 516.5,1821.3 517.3,1820.6 518.1,1821.1 518.9,1821.4 519.7,1819.6 520.5,1818.1 521.3,1817.2 522.1,1817.8 522.9,1819.3 523.7,1820.3 524.5,1820.4 525.3,1819.4 526.1,1819.4 526.9,1820.3 527.7,1820.1 528.5,1820.5 529.3,1821.2 530.1,1821.9 530.9,1823.6 531.7,1824.4 532.5,1823.4 533.3,1822.7 534.1,1822.8 534.9,1822.7 535.7,1823.1 536.5,1823.8 537.3,1823.3 538.1,1822.2 538.9,1821.3 539.7,1822.3 540.5,1823 541.3,1824.2 542.1,1825.5 542.9,1825.2 543.7,1824.6 544.5,1824.3 545.3,1824.8 546.1,1825 546.9,1824.9 547.7,1826.2 548.5,1827.6 549.3,1827.7 550.1,1825.9 550.9,1824.9 551.7,1825.8 552.5,1825.8 553.3,1825 554.1,1824.4 554.9,1824.7 555.7,1826.9 556.5,1828.9 557.3,1828.9 558.1,1828.4 558.9,1827 559.7,1824.5 560.5,1823.8 561.3,1825.6 562.1,1826.6 562.9,1825.4 563.7,1824.9 564.5,1824.9 565.3,1825 566.1,1825.2 566.9,1824.6 567.7,1822.9 568.5,1822.1 569.3,1823.6 570.1,1825 570.9,1826.3 571.7,1827.7 572.5,1826.9 573.3,1824.9 574.1,1823.1 574.9,1821.8 575.7,1821.4 576.5,1822.9 577.3,1823.9 578.1,1824.4 578.9,1824.1 579.7,1823.4 580.5,1823.5 581.3,1822.5 582.1,1821.6 582.9,1821.9 583.7,1822.2 584.5,1822.5 585.3,1823.6 586.1,1824.7 586.9,1824.7 587.7,1825.7 588.5,1825.2 589.3,1823.8 590.1,1823 590.9,1823.3 591.7,1823.8 592.5,1824.3 593.3,1825.4 594.1,1825.5 594.9,1823.9 595.7,1823.3 596.5,1823.8 597.3,1825.1 598.1,1826.4 598.9,1825.2 599.7,1823.2 600.5,1822.6 601.3,1821.8 602.1,1821 602.9,1819.5 603.7,1819 604.5,1820.2 605.3,1822.7 606.1,1823.1 606.9,1822.5 607.7,1822.7 608.5,1822.1 609.3,1822.4 610.1,1823.1 610.9,1822.5 611.7,1822.8 612.5,1824.4 613.3,1826.4 614.1,1826.7 614.9,1826.1 615.7,1825.6 616.5,1825.4 617.3,1826.2 618.1,1825.5 618.9,1824.7 619.7,1825.1 620.5,1825.5 621.3,1826.2 622.1,1826.3 622.9,1825.5 623.7,1824.3 624.5,1824.6 625.3,1825.6 626.1,1825.7 626.9,1826.2 627.7,1825.7 628.5,1825 629.3,1824.1 630.1,1823.4 630.9,1823.3 631.7,1822.8 632.5,1823.5 633.3,1826.1 634.1,1827.4 634.9,1826.1 635.7,1825.1 636.5,1824.8 637.3,1824.6 638.1,1823.9 638.9,1824 639.7,1825.1 640.5,1824.9 641.3,1823.8 642.1,1823.3 642.9,1822.7 643.7,1824.3 644.5,1826.4 645.3,1826.6 646.1,1827.3 646.9,1827 647.7,1825.9 648.5,1825.5 649.3,1826.3 650.1,1827.1 650.9,1826 651.7,1825 652.5,1825 653.3,1824.1 654.1,1823 654.9,1823.4 655.7,1824.6 656.5,1825.3 657.3,1825.4 658.1,1825.7 658.9,1825.8 659.7,1825.9 660.5,1826 661.3,1826.3 662.1,1826.4 662.9,1825.3 663.7,1824.1 664.5,1824 665.3,1824.4 666.1,1825.5 666.9,1826.3 667.7,1826.9 668.5,1826.8 669.3,1826.3 670.1,1825.9 670.9,1825.3 671.7,1824.8 672.5,1824.9 673.3,1825.6 674.1,1827.8 674.9,1828.9 675.7,1828.2 676.5,1827.4 677.3,1826.5 678.1,1825.6 678.9,1825.4 679.7,1825.8 680.5,1827.2 681.3,1827.7 682.1,1825.6 682.9,1824.4 683.7,1825.7 684.5,1826.5 685.3,1825.5 686.1,1824.4 686.9,1824.1 687.7,1825.1 688.5,1826 689.3,1826.4 690.1,1825.7 690.9,1824 691.7,1824.3 692.5,1824.9 693.3,1825 694.1,1825.9 694.9,1825.5" fill="none" stroke="#000" stroke-width="2.4" stroke-linejoin="round"/>
<rect x="525" y="1704.3" width="24.6" height="132.3" fill="#00ff00" fill-opacity="0.2"/>
<line x1="442.9" y1="1704.3" x2="442.9" y2="1837.6" stroke="#222" stroke-width="2"/>
<line x1="441.9" y1="1836.6" x2="694.7" y2="1836.6" stroke="#222" stroke-width="2"/>
<line x1="442.9" y1="1836.6" x2="442.9" y2="1840.1" stroke="#222" stroke-width="2"/>
<line x1="493.3" y1="1836.6" x2="493.3" y2="1840.1" stroke="#222" stroke-width="2"/>
<line x1="694.7" y1="1836.6" x2="694.7" y2="1840.1" stroke="#222" stroke-width="2"/>
<line x1="439.4" y1="1725.5" x2="442.9" y2="1725.5" stroke="#222" stroke-width="2"/>
<text x="433.9" y="1734.9" text-anchor="end">1</text>
<line x1="439.4" y1="1836.6" x2="442.9" y2="1836.6" stroke="#222" stroke-width="2"/>
<text x="433.9" y="1846" text-anchor="end">0</text>
<text x="441.4" y="1873.8" text-anchor="middle">-2</text>
<text x="493.3" y="1873.8" text-anchor="middle">0</text>
<text x="695.2" y="1873.8" text-anchor="middle">8</text>
<text x="594.4" y="1881.5" text-anchor="middle">Time from</text>
<text x="594.4" y="1917.6" text-anchor="middle">landing (s)</text>
<line x1="138.2" y1="777.3" x2="138.2" y2="978.9" stroke="#222" stroke-width="2"/>
<line x1="137.2" y1="977.9" x2="338.7" y2="977.9" stroke="#222" stroke-width="2"/>
<line x1="138.2" y1="777.3" x2="141.7" y2="777.3" stroke="#222" stroke-width="2"/>
<line x1="338.7" y1="977.9" x2="338.7" y2="974.4" stroke="#222" stroke-width="2"/>
<text x="128.9" y="787.1" text-anchor="end">0.7</text>
<text x="128.9" y="987.7" text-anchor="end">0</text>
<text x="138.2" y="1008.7" text-anchor="middle">0</text>
<text x="338.7" y="1008.7" text-anchor="middle">9</text>
<text x="246.6" y="1048.3" text-anchor="middle">Peak firing rate (Hz)</text>
<text x="238.2" y="770" text-anchor="middle">r = -0.15</text>
<text x="238.2" y="807.3" text-anchor="middle">P = 0.85</text>
<g fill="#e8100f" stroke="#000" stroke-width="1.4"><circle cx="171" cy="831.4" r="6"/><circle cx="165.6" cy="942.9" r="6"/><circle cx="184.4" cy="956" r="6"/><circle cx="198.4" cy="958.9" r="6"/><circle cx="194" cy="936.3" r="6"/><circle cx="199" cy="929.1" r="6"/><circle cx="202.3" cy="948.8" r="6"/><circle cx="208.9" cy="932" r="6"/><circle cx="212.6" cy="934.1" r="6"/><circle cx="215.4" cy="942.9" r="6"/><circle cx="221.3" cy="952.7" r="6"/><circle cx="223.1" cy="948.8" r="6"/><circle cx="223.5" cy="932" r="6"/><circle cx="229.6" cy="933.1" r="6"/><circle cx="233.6" cy="952.7" r="6"/><circle cx="234" cy="924.7" r="6"/><circle cx="238.4" cy="948.4" r="6"/><circle cx="240.6" cy="934.1" r="6"/><circle cx="241.7" cy="918.2" r="6"/><circle cx="244.9" cy="941.8" r="6"/><circle cx="248.2" cy="930.9" r="6"/><circle cx="253.7" cy="941.8" r="6"/><circle cx="258.1" cy="938.5" r="6"/><circle cx="259.2" cy="927.6" r="6"/><circle cx="261.8" cy="951.6" r="6"/><circle cx="266.4" cy="932" r="6"/><circle cx="267.2" cy="916.7" r="6"/><circle cx="271.2" cy="934.1" r="6"/><circle cx="272.9" cy="963.7" r="6"/><circle cx="276" cy="937" r="6"/><circle cx="279.9" cy="913.4" r="6"/><circle cx="284.3" cy="932" r="6"/><circle cx="290.4" cy="936.3" r="6"/><circle cx="290.9" cy="950.6" r="6"/><circle cx="295.2" cy="959.3" r="6"/><circle cx="297" cy="948.4" r="6"/><circle cx="302.9" cy="911.6" r="6"/><circle cx="308.4" cy="945.7" r="6"/><circle cx="320.4" cy="937.4" r="6"/></g>
<text x="71" y="877.6" text-anchor="middle" transform="rotate(-90 71 877.6)">Peak acceleration</text>
<text x="107" y="877.6" text-anchor="middle" transform="rotate(-90 107 877.6)">(g)</text>
<line x1="468.9" y1="777.3" x2="468.9" y2="978.9" stroke="#222" stroke-width="2"/>
<line x1="467.9" y1="977.9" x2="669.4" y2="977.9" stroke="#222" stroke-width="2"/>
<line x1="468.9" y1="777.3" x2="472.4" y2="777.3" stroke="#222" stroke-width="2"/>
<line x1="669.4" y1="977.9" x2="669.4" y2="974.4" stroke="#222" stroke-width="2"/>
<text x="459.6" y="787.1" text-anchor="end">0.7</text>
<text x="459.6" y="987.7" text-anchor="end">0</text>
<text x="468.9" y="1008.7" text-anchor="middle">0</text>
<text x="669.4" y="1008.7" text-anchor="middle">20</text>
<text x="573" y="1048.3" text-anchor="middle">Peak firing rate (Hz)</text>
<text x="568.9" y="770" text-anchor="middle">r = -0.33</text>
<text x="568.9" y="807.3" text-anchor="middle">P = 0.87</text>
<g fill="#e8100f" stroke="#000" stroke-width="1.4"><circle cx="529.4" cy="915.3" r="6"/><circle cx="555" cy="878.9" r="6"/><circle cx="544.3" cy="919.9" r="6"/><circle cx="555" cy="923.7" r="6"/><circle cx="540.5" cy="934" r="6"/><circle cx="567.2" cy="908.4" r="6"/><circle cx="577.2" cy="914.1" r="6"/><circle cx="586.8" cy="914.9" r="6"/><circle cx="603.6" cy="919.9" r="6"/><circle cx="606.7" cy="918" r="6"/><circle cx="599" cy="935.9" r="6"/><circle cx="643.8" cy="925.6" r="6"/><circle cx="656.4" cy="927.5" r="6"/></g>
<line x1="799.9" y1="777.3" x2="799.9" y2="978.9" stroke="#222" stroke-width="2"/>
<line x1="798.9" y1="977.9" x2="1000.4" y2="977.9" stroke="#222" stroke-width="2"/>
<line x1="799.9" y1="777.3" x2="803.4" y2="777.3" stroke="#222" stroke-width="2"/>
<line x1="1000.4" y1="977.9" x2="1000.4" y2="974.4" stroke="#222" stroke-width="2"/>
<text x="790.6" y="787.1" text-anchor="end">0.7</text>
<text x="790.6" y="987.7" text-anchor="end">0</text>
<text x="799.9" y="1008.7" text-anchor="middle">0</text>
<text x="1000.4" y="1008.7" text-anchor="middle">12</text>
<text x="905.6" y="1048.3" text-anchor="middle">Peak firing rate (Hz)</text>
<text x="899.9" y="770" text-anchor="middle">r = -0.29</text>
<text x="899.9" y="807.3" text-anchor="middle">P = 0.95</text>
<g fill="#e8100f" stroke="#000" stroke-width="1.4"><circle cx="826.7" cy="939" r="6"/><circle cx="831.7" cy="931.4" r="6"/><circle cx="836.3" cy="940.9" r="6"/><circle cx="843.9" cy="935.9" r="6"/><circle cx="845.8" cy="923.7" r="6"/><circle cx="847" cy="931.4" r="6"/><circle cx="850.8" cy="940.9" r="6"/><circle cx="853.5" cy="946.7" r="6"/><circle cx="857.3" cy="939.8" r="6"/><circle cx="861.2" cy="925.6" r="6"/><circle cx="863.1" cy="922.9" r="6"/><circle cx="865" cy="947.4" r="6"/><circle cx="868.8" cy="937.1" r="6"/><circle cx="874.6" cy="941.7" r="6"/><circle cx="876.5" cy="935.9" r="6"/><circle cx="886" cy="930.2" r="6"/><circle cx="897.5" cy="952.4" r="6"/><circle cx="893.7" cy="963.9" r="6"/><circle cx="899.4" cy="962" r="6"/><circle cx="902.1" cy="924.5" r="6"/><circle cx="912.8" cy="946.7" r="6"/><circle cx="916.6" cy="948.6" r="6"/><circle cx="925.1" cy="946.7" r="6"/><circle cx="927.4" cy="944.7" r="6"/><circle cx="928.1" cy="933.3" r="6"/><circle cx="939.6" cy="957.4" r="6"/><circle cx="964.5" cy="962.7" r="6"/><circle cx="982.9" cy="924.8" r="6"/></g>
<line x1="1130.2" y1="777.3" x2="1130.2" y2="978.9" stroke="#222" stroke-width="2"/>
<line x1="1129.2" y1="977.9" x2="1330.7" y2="977.9" stroke="#222" stroke-width="2"/>
<line x1="1130.2" y1="777.3" x2="1133.7" y2="777.3" stroke="#222" stroke-width="2"/>
<line x1="1330.7" y1="977.9" x2="1330.7" y2="974.4" stroke="#222" stroke-width="2"/>
<text x="1120.9" y="787.1" text-anchor="end">0.7</text>
<text x="1120.9" y="987.7" text-anchor="end">0</text>
<text x="1130.2" y="1008.7" text-anchor="middle">0</text>
<text x="1330.7" y="1008.7" text-anchor="middle">13</text>
<text x="1236.2" y="1048.3" text-anchor="middle">Peak firing rate (Hz)</text>
<text x="1230.2" y="770" text-anchor="middle">r = 0.19</text>
<text x="1230.2" y="807.3" text-anchor="middle">P = 0.11</text>
<g fill="#e8100f" stroke="#000" stroke-width="1.4"><circle cx="1148.6" cy="952.8" r="6"/><circle cx="1149.3" cy="968.5" r="6"/><circle cx="1176.1" cy="951.3" r="6"/><circle cx="1185.7" cy="927.5" r="6"/><circle cx="1187.6" cy="951.3" r="6"/><circle cx="1197.2" cy="941.7" r="6"/><circle cx="1199.1" cy="946.7" r="6"/><circle cx="1203.7" cy="922.5" r="6"/><circle cx="1204.8" cy="942.8" r="6"/><circle cx="1212.5" cy="927.5" r="6"/><circle cx="1216.3" cy="913" r="6"/><circle cx="1218.2" cy="940.9" r="6"/><circle cx="1220.1" cy="948.6" r="6"/><circle cx="1225.9" cy="929.4" r="6"/><circle cx="1227.8" cy="939" r="6"/><circle cx="1231.6" cy="958.1" r="6"/><circle cx="1235.4" cy="919.9" r="6"/><circle cx="1237.3" cy="946.7" r="6"/><circle cx="1241.2" cy="931.4" r="6"/><circle cx="1243.1" cy="949.7" r="6"/><circle cx="1246.9" cy="928.3" r="6"/><circle cx="1248.8" cy="935.9" r="6"/><circle cx="1258.4" cy="941.7" r="6"/><circle cx="1259.2" cy="963.9" r="6"/><circle cx="1264.1" cy="920.6" r="6"/><circle cx="1269.9" cy="946.7" r="6"/><circle cx="1279.4" cy="945.5" r="6"/><circle cx="1292.8" cy="944.7" r="6"/><circle cx="1294.7" cy="935.9" r="6"/><circle cx="1298.6" cy="934.4" r="6"/><circle cx="1296.7" cy="942.1" r="6"/><circle cx="1306.2" cy="962.7" r="6"/><circle cx="1308.1" cy="939" r="6"/><circle cx="1312" cy="939" r="6"/><circle cx="1315.8" cy="934" r="6"/><circle cx="1320.4" cy="918" r="6"/></g>
<line x1="1460.5" y1="777.3" x2="1460.5" y2="978.9" stroke="#222" stroke-width="2"/>
<line x1="1459.5" y1="977.9" x2="1661" y2="977.9" stroke="#222" stroke-width="2"/>
<line x1="1460.5" y1="777.3" x2="1464" y2="777.3" stroke="#222" stroke-width="2"/>
<line x1="1661" y1="977.9" x2="1661" y2="974.4" stroke="#222" stroke-width="2"/>
<text x="1451.2" y="787.1" text-anchor="end">0.7</text>
<text x="1451.2" y="987.7" text-anchor="end">0</text>
<text x="1460.5" y="1008.7" text-anchor="middle">0</text>
<text x="1661" y="1008.7" text-anchor="middle">10</text>
<text x="1568" y="1048.3" text-anchor="middle">Peak firing rate (Hz)</text>
<text x="1560.5" y="770" text-anchor="middle">r = -0.15</text>
<text x="1560.5" y="807.3" text-anchor="middle">P = 0.84</text>
<g fill="#e8100f" stroke="#000" stroke-width="1.4"><circle cx="1460.5" cy="935.2" r="6"/><circle cx="1460.5" cy="939" r="6"/><circle cx="1460.5" cy="942.8" r="6"/><circle cx="1460.5" cy="950.5" r="6"/><circle cx="1460.5" cy="960.1" r="6"/><circle cx="1462" cy="900" r="6"/><circle cx="1463.1" cy="887.3" r="6"/><circle cx="1482.3" cy="864.4" r="6"/><circle cx="1482.3" cy="942.8" r="6"/><circle cx="1486.1" cy="954.3" r="6"/><circle cx="1488" cy="971.5" r="6"/><circle cx="1491.8" cy="926.8" r="6"/><circle cx="1491.8" cy="945.5" r="6"/><circle cx="1508.3" cy="937.1" r="6"/><circle cx="1513.7" cy="916" r="6"/><circle cx="1516.7" cy="938.2" r="6"/><circle cx="1518.6" cy="950.5" r="6"/><circle cx="1525.5" cy="909.2" r="6"/><circle cx="1526.3" cy="940.9" r="6"/><circle cx="1528.2" cy="932.1" r="6"/><circle cx="1539.7" cy="940.9" r="6"/><circle cx="1541.6" cy="926.8" r="6"/><circle cx="1544.6" cy="946.7" r="6"/><circle cx="1545.4" cy="937.1" r="6"/><circle cx="1549.2" cy="935.2" r="6"/><circle cx="1570.3" cy="946.7" r="6"/><circle cx="1572.2" cy="952.4" r="6"/><circle cx="1575.3" cy="923.7" r="6"/><circle cx="1592.1" cy="931.4" r="6"/><circle cx="1600.9" cy="922.9" r="6"/><circle cx="1600.9" cy="928.3" r="6"/><circle cx="1613.5" cy="945.5" r="6"/><circle cx="1620" cy="944" r="6"/><circle cx="1624.6" cy="946.7" r="6"/><circle cx="1624.6" cy="883.5" r="6"/></g>
<line x1="1791.6" y1="777.3" x2="1791.6" y2="978.9" stroke="#222" stroke-width="2"/>
<line x1="1790.6" y1="977.9" x2="1992.1" y2="977.9" stroke="#222" stroke-width="2"/>
<line x1="1791.6" y1="777.3" x2="1795.1" y2="777.3" stroke="#222" stroke-width="2"/>
<line x1="1992.1" y1="977.9" x2="1992.1" y2="974.4" stroke="#222" stroke-width="2"/>
<text x="1782.3" y="787.1" text-anchor="end">0.7</text>
<text x="1782.3" y="987.7" text-anchor="end">0</text>
<text x="1791.6" y="1008.7" text-anchor="middle">0</text>
<text x="1992.1" y="1008.7" text-anchor="middle">13</text>
<text x="1897.2" y="1048.3" text-anchor="middle">Peak firing rate (Hz)</text>
<text x="1891.6" y="770" text-anchor="middle">r = 0.22</text>
<text x="1891.6" y="807.3" text-anchor="middle">P = 0.20</text>
<g fill="#e8100f" stroke="#000" stroke-width="1.4"><circle cx="1823.7" cy="952" r="6"/><circle cx="1843.5" cy="932.7" r="6"/><circle cx="1890.7" cy="949" r="6"/><circle cx="1892.7" cy="940.3" r="6"/><circle cx="1894.7" cy="931.2" r="6"/><circle cx="1915.8" cy="942" r="6"/><circle cx="1919.1" cy="950.3" r="6"/><circle cx="1921.3" cy="933.7" r="6"/><circle cx="1925.1" cy="934.5" r="6"/><circle cx="1925.8" cy="944.5" r="6"/><circle cx="1924.1" cy="823.6" r="6"/><circle cx="1927.6" cy="901.1" r="6"/><circle cx="1940.4" cy="922.7" r="6"/><circle cx="1944.2" cy="908.6" r="6"/><circle cx="1945.9" cy="930.2" r="6"/><circle cx="1961" cy="934.5" r="6"/><circle cx="1989.1" cy="932" r="6"/></g>
<line x1="138.2" y1="1989.3" x2="138.2" y2="2190.9" stroke="#222" stroke-width="2"/>
<line x1="137.2" y1="2189.9" x2="338.7" y2="2189.9" stroke="#222" stroke-width="2"/>
<line x1="138.2" y1="1989.3" x2="141.7" y2="1989.3" stroke="#222" stroke-width="2"/>
<line x1="338.7" y1="2189.9" x2="338.7" y2="2186.4" stroke="#222" stroke-width="2"/>
<text x="128.9" y="1999.1" text-anchor="end">0.7</text>
<text x="128.9" y="2199.7" text-anchor="end">0</text>
<text x="138.2" y="2220.7" text-anchor="middle">0</text>
<text x="338.7" y="2220.7" text-anchor="middle">16</text>
<text x="242.7" y="2260.3" text-anchor="middle">Peak firing rate (Hz)</text>
<text x="238.2" y="1982" text-anchor="middle">r = 0.39</text>
<text x="238.2" y="2019.3" text-anchor="middle">P = 2.9e-02</text>
<g fill="#e8100f" stroke="#000" stroke-width="1.4"><circle cx="138.2" cy="2152.1" r="6"/><circle cx="140" cy="2171.8" r="6"/><circle cx="147.6" cy="2175.1" r="6"/><circle cx="150.9" cy="2170.7" r="6"/><circle cx="161.8" cy="2176.2" r="6"/><circle cx="166.2" cy="2148.9" r="6"/><circle cx="168.4" cy="2155.4" r="6"/><circle cx="170.6" cy="2151.7" r="6"/><circle cx="172.8" cy="2172.9" r="6"/><circle cx="175" cy="2146.7" r="6"/><circle cx="179.3" cy="2130.3" r="6"/><circle cx="179.3" cy="2140.1" r="6"/><circle cx="181.5" cy="2173.6" r="6"/><circle cx="182.6" cy="2147.8" r="6"/><circle cx="191.4" cy="2137.9" r="6"/><circle cx="196.8" cy="2147.8" r="6"/><circle cx="199" cy="2152.1" r="6"/><circle cx="212.1" cy="2145.1" r="6"/><circle cx="240.6" cy="2156.5" r="6"/><circle cx="241.7" cy="2158.7" r="6"/><circle cx="265.7" cy="2146.7" r="6"/><circle cx="265.7" cy="2159.1" r="6"/><circle cx="327.4" cy="2135.1" r="6"/></g>
<text x="71" y="2089.6" text-anchor="middle" transform="rotate(-90 71 2089.6)">Peak acceleration</text>
<text x="107" y="2089.6" text-anchor="middle" transform="rotate(-90 107 2089.6)">(g)</text>
<line x1="468.9" y1="1989.3" x2="468.9" y2="2190.9" stroke="#222" stroke-width="2"/>
<line x1="467.9" y1="2189.9" x2="669.4" y2="2189.9" stroke="#222" stroke-width="2"/>
<line x1="468.9" y1="1989.3" x2="472.4" y2="1989.3" stroke="#222" stroke-width="2"/>
<line x1="669.4" y1="2189.9" x2="669.4" y2="2186.4" stroke="#222" stroke-width="2"/>
<text x="459.6" y="1999.1" text-anchor="end">0.7</text>
<text x="459.6" y="2199.7" text-anchor="end">0</text>
<text x="468.9" y="2220.7" text-anchor="middle">0</text>
<text x="669.4" y="2220.7" text-anchor="middle">16</text>
<text x="573.4" y="2260.3" text-anchor="middle">Peak firing rate (Hz)</text>
<text x="568.9" y="1982" text-anchor="middle">r = 0.67</text>
<text x="568.9" y="2019.3" text-anchor="middle">P = 2.3e-06</text>
<g fill="#e8100f" stroke="#000" stroke-width="1.4"><circle cx="666.7" cy="2025.6" r="6"/><circle cx="482.3" cy="2108.3" r="6"/><circle cx="489.6" cy="2110.9" r="6"/><circle cx="516.1" cy="2120.1" r="6"/><circle cx="488.2" cy="2123.5" r="6"/><circle cx="498.4" cy="2125" r="6"/><circle cx="472.4" cy="2125.4" r="6"/><circle cx="470.9" cy="2133.3" r="6"/><circle cx="466.9" cy="2138.8" r="6"/><circle cx="494.5" cy="2136.9" r="6"/><circle cx="502.4" cy="2136.9" r="6"/><circle cx="508.3" cy="2136.9" r="6"/><circle cx="530.9" cy="2141.8" r="6"/><circle cx="496.5" cy="2144.7" r="6"/><circle cx="471.9" cy="2146.3" r="6"/><circle cx="467.9" cy="2150.2" r="6"/><circle cx="482.7" cy="2150.2" r="6"/><circle cx="508.3" cy="2150.2" r="6"/><circle cx="547.2" cy="2151" r="6"/><circle cx="515.2" cy="2156.5" r="6"/><circle cx="523" cy="2159.5" r="6"/><circle cx="497.4" cy="2158.9" r="6"/><circle cx="468.9" cy="2160.1" r="6"/><circle cx="507.3" cy="2163.4" r="6"/><circle cx="494.1" cy="2167.4" r="6"/><circle cx="468.9" cy="2172.3" r="6"/><circle cx="468.9" cy="2178.2" r="6"/><circle cx="496.1" cy="2179.8" r="6"/><circle cx="468.9" cy="2181.1" r="6"/><circle cx="468.5" cy="2183.1" r="6"/></g>
<line x1="904.8" y1="1262.7" x2="904.8" y2="1429.4" stroke="#222" stroke-width="2"/>
<line x1="903.8" y1="1428.4" x2="1345.4" y2="1428.4" stroke="#222" stroke-width="2"/>
<line x1="904.8" y1="1345.6" x2="909.8" y2="1345.6" stroke="#222" stroke-width="2"/>
<line x1="904.8" y1="1262.7" x2="909.8" y2="1262.7" stroke="#222" stroke-width="2"/>
<line x1="904.8" y1="1428.4" x2="904.8" y2="1423.4" stroke="#222" stroke-width="2"/>
<text x="904.8" y="1459" text-anchor="middle">0</text>
<line x1="1015" y1="1428.4" x2="1015" y2="1423.4" stroke="#222" stroke-width="2"/>
<text x="1015" y="1459" text-anchor="middle">2</text>
<line x1="1125.1" y1="1428.4" x2="1125.1" y2="1423.4" stroke="#222" stroke-width="2"/>
<text x="1125.1" y="1459" text-anchor="middle">4</text>
<line x1="1235.2" y1="1428.4" x2="1235.2" y2="1423.4" stroke="#222" stroke-width="2"/>
<text x="1235.2" y="1459" text-anchor="middle">6</text>
<line x1="1345.4" y1="1428.4" x2="1345.4" y2="1423.4" stroke="#222" stroke-width="2"/>
<text x="1345.4" y="1459" text-anchor="middle">8</text>
<text x="895.5" y="1273" text-anchor="end">0.1</text>
<text x="895.5" y="1438.7" text-anchor="end">0</text>
<text x="1125" y="1489.2" text-anchor="middle">Time from landing (s)</text>
<text x="834.3" y="1346.5" text-anchor="middle" transform="rotate(-90 834.3 1346.5)">Acceleration (g)</text>
<polyline points="937.6,1375.2 939.6,1379.1 941.6,1382.7 943.6,1385.9 945.6,1388.4 947.6,1390.1 949.6,1391.3 951.6,1392.3 953.6,1393.3 955.6,1394 957.6,1394.6 959.6,1394.9 961.6,1394.8 963.6,1394.4 965.6,1393.7 967.6,1392.8 969.6,1391.9 971.6,1390.9 973.6,1390 975.6,1389.1 977.6,1388.1 979.6,1387.1 981.6,1386 983.6,1385.1 985.6,1384.5 987.6,1384.1 989.6,1384.1 991.6,1384.5 993.6,1385 995.6,1385.7 997.6,1386.5 999.6,1387.2 1001.6,1388 1003.6,1388.8 1005.6,1389.7 1007.6,1390.6 1009.6,1391.4 1011.6,1392.2 1013.6,1392.7 1015.6,1393.2 1017.6,1393.6 1019.6,1394 1021.6,1394.3 1023.6,1394.7 1025.6,1395.1 1027.6,1395.6 1029.6,1396.1 1031.6,1396.7 1033.6,1397.4 1035.6,1398 1037.6,1398.6 1039.6,1399.2 1041.6,1399.9 1043.6,1400.7 1045.6,1401.4 1047.6,1402 1049.6,1402.4 1051.6,1402.4 1053.6,1401.9 1055.6,1401 1057.6,1399.9 1059.6,1398.8 1061.6,1397.4 1063.6,1395.6 1065.6,1393.7 1067.6,1391.5 1069.6,1389.4 1071.6,1387.2 1073.6,1385.1 1075.6,1382.8 1077.6,1380.4 1079.6,1378 1081.6,1375.7 1083.6,1373.5 1085.6,1371.6 1087.6,1369.5 1089.6,1367.5 1091.6,1365.9 1093.6,1365.4 1095.6,1365.8 1097.6,1366.9 1099.6,1368.3 1101.6,1370.4 1103.6,1373.9 1105.6,1377.7 1107.6,1381 1109.6,1383.4 1111.6,1385.6 1113.6,1387.7 1115.6,1389.2 1117.6,1389.9 1119.6,1389.9 1121.6,1389.8 1123.6,1389.5 1125.6,1389.2 1127.6,1388.9 1129.6,1388.6 1131.6,1388.3 1133.6,1388 1135.6,1387.6 1137.6,1387.3 1139.6,1386.9 1141.6,1386.6 1143.6,1386.3 1145.6,1385.9 1147.6,1385.6 1149.6,1385.3 1151.6,1384.9 1153.6,1384.4 1155.6,1383.9 1157.6,1383.4 1159.6,1383 1161.6,1382.8 1163.6,1382.9 1165.6,1383.7 1167.6,1384.8 1169.6,1386.1 1171.6,1387.3 1173.6,1388.7 1175.6,1390.3 1177.6,1391.9 1179.6,1393.5 1181.6,1395.1 1183.6,1396.5 1185.6,1397.8 1187.6,1399.1 1189.6,1400.4 1191.6,1401.7 1193.6,1402.9 1195.6,1404 1197.6,1405.1 1199.6,1406.2 1201.6,1407.1 1203.6,1408.2 1205.6,1409.3 1207.6,1410.3 1209.6,1411.3 1211.6,1412 1213.6,1412.6 1215.6,1412.9 1217.6,1412.9 1219.6,1412.7 1221.6,1412.4 1223.6,1412 1225.6,1411.5 1227.6,1410.9 1229.6,1410.4 1231.6,1409.9 1233.6,1409.5 1235.6,1409 1237.6,1408.5 1239.6,1408 1241.6,1407.5 1243.6,1407.2 1245.6,1407 1247.6,1407.2 1249.6,1407.8 1251.6,1408.7 1253.6,1409.7 1255.6,1410.5 1257.6,1411.1 1259.6,1411.3 1261.6,1411 1263.6,1410.5 1265.6,1409.8 1267.6,1409.1 1269.6,1408.3 1271.6,1407.7 1273.6,1407.2 1275.6,1407 1277.6,1407.1 1279.6,1407.2 1281.6,1407.3 1283.6,1407.5 1285.6,1407.7 1287.6,1407.9 1289.6,1408.1 1291.6,1408.3 1293.6,1408.6 1295.6,1408.8 1297.6,1409.1 1299.6,1409.4 1301.6,1409.6 1303.6,1409.9 1305.6,1410.1 1307.6,1410.4 1309.6,1410.6 1311.6,1410.9 1313.6,1411.1 1315.6,1411.4 1317.6,1411.7 1319.6,1412 1321.6,1412.3 1323.6,1412.6 1325.6,1412.8 1327.6,1412.9 1329.6,1412.9 1331.6,1412.9 1333.6,1412.8 1335.6,1412.6 1337.6,1412.4 1339.6,1412.2 1341.6,1411.9 1343.6,1411.5 1344.5,1411.3" fill="none" stroke="#0072bd" stroke-width="4.6" stroke-linejoin="round" stroke-linecap="butt"/>
<polyline points="937.6,1401.5 939.6,1400 941.6,1398.8 943.6,1397.7 945.6,1396.9 947.6,1396.3 949.6,1395.9 951.6,1395.9 953.6,1396 955.6,1396.3 957.6,1396.6 959.6,1397 961.6,1397.5 963.6,1398.4 965.6,1399.5 967.6,1400.8 969.6,1402 971.6,1402.9 973.6,1403.6 975.6,1404.2 977.6,1404.8 979.6,1405.3 981.6,1405.6 983.6,1405.7 985.6,1405.6 987.6,1405.2 989.6,1404.7 991.6,1404.2 993.6,1403.7 995.6,1403.2 997.6,1402.6 999.6,1402 1001.6,1401.6 1003.6,1401.5 1005.6,1401.7 1007.6,1402.1 1009.6,1402.7 1011.6,1403.3 1013.6,1403.9 1015.6,1404.3 1017.6,1404.6 1019.6,1404.8 1021.6,1405 1023.6,1405.2 1025.6,1405.4 1027.6,1405.5 1029.6,1405.7 1031.6,1405.7 1033.6,1405.7 1035.6,1405.7 1037.6,1405.7 1039.6,1405.7 1041.6,1405.7 1043.6,1405.7 1045.6,1405.7 1047.6,1405.7 1049.6,1405.7 1051.6,1405.8 1053.6,1405.8 1055.6,1405.9 1057.6,1406.1 1059.6,1406.2 1061.6,1406.3 1063.6,1406.4 1065.6,1406.4 1067.6,1406.4 1069.6,1406.4 1071.6,1406.4 1073.6,1406.4 1075.6,1406.4 1077.6,1406.4 1079.6,1406.3 1081.6,1406 1083.6,1405.5 1085.6,1404.9 1087.6,1404.2 1089.6,1403.6 1091.6,1403.1 1093.6,1402.9 1095.6,1402.6 1097.6,1402.4 1099.6,1402.3 1101.6,1402.1 1103.6,1401.9 1105.6,1401.7 1107.6,1401.5 1109.6,1401.3 1111.6,1401 1113.6,1400.7 1115.6,1400.5 1117.6,1400.2 1119.6,1399.9 1121.6,1399.6 1123.6,1399.3 1125.6,1399 1127.6,1398.7 1129.6,1398.4 1131.6,1398.1 1133.6,1397.8 1135.6,1397.5 1137.6,1397.3 1139.6,1397.2 1141.6,1397.2 1143.6,1397.6 1145.6,1398.2 1147.6,1399.1 1149.6,1400 1151.6,1400.8 1153.6,1401.8 1155.6,1403 1157.6,1404 1159.6,1404.6 1161.6,1404.7 1163.6,1404.6 1165.6,1404.4 1167.6,1404.2 1169.6,1404 1171.6,1403.8 1173.6,1403.8 1175.6,1403.8 1177.6,1403.8 1179.6,1403.8 1181.6,1403.8 1183.6,1403.8 1185.6,1403.8 1187.6,1403.8 1189.6,1403.7 1191.6,1403.6 1193.6,1403.5 1195.6,1403.4 1197.6,1403.3 1199.6,1403.2 1201.6,1403.1 1203.6,1403.1 1205.6,1403.3 1207.6,1403.6 1209.6,1404.1 1211.6,1404.6 1213.6,1405.2 1215.6,1405.6 1217.6,1405.9 1219.6,1406.2 1221.6,1406.4 1223.6,1406.7 1225.6,1406.9 1227.6,1407 1229.6,1407 1231.6,1407 1233.6,1406.9 1235.6,1406.7 1237.6,1406.5 1239.6,1406.2 1241.6,1405.9 1243.6,1405.6 1245.6,1405.1 1247.6,1404.5 1249.6,1403.8 1251.6,1403 1253.6,1402.2 1255.6,1401.5 1257.6,1400.8 1259.6,1400 1261.6,1399.1 1263.6,1398.3 1265.6,1397.7 1267.6,1397.3 1269.6,1397.2 1271.6,1397.5 1273.6,1397.9 1275.6,1398.5 1277.6,1399 1279.6,1399.3 1281.6,1399.5 1283.6,1399.8 1285.6,1400.1 1287.6,1400.3 1289.6,1400.4 1291.6,1400.5 1293.6,1400.1 1295.6,1399 1297.6,1397.3 1299.6,1395.4 1301.6,1393.4 1303.6,1391.4 1305.6,1389.1 1307.6,1386.6 1309.6,1383.9 1311.6,1381.2 1313.6,1378.5 1315.6,1376 1317.6,1373.2 1319.6,1370.4 1321.6,1367.5 1323.6,1364.9 1325.6,1362.6 1327.6,1360.8 1329.6,1359.3 1331.6,1358 1333.6,1356.8 1335.6,1355.9 1337.6,1355.5 1339.6,1355.6 1341.6,1356 1343.6,1356.7 1344.5,1357.2" fill="none" stroke="#d95319" stroke-width="4.6" stroke-linejoin="round" stroke-linecap="butt"/>
<polyline points="937.6,1335.8 939.6,1338.9 941.6,1340.6 943.6,1340.5 945.6,1339.2 947.6,1337.3 949.6,1333.8 951.6,1328.9 953.6,1324.9 955.6,1322.5 957.6,1320.4 959.6,1318.7 961.6,1317.8 963.6,1318.3 965.6,1320.2 967.6,1322.9 969.6,1325.4 971.6,1328.3 973.6,1331.6 975.6,1334.8 977.6,1337.8 979.6,1340.3 981.6,1342.3 983.6,1344.1 985.6,1345.9 987.6,1347.8 989.6,1350 991.6,1352.6 993.6,1355.7 995.6,1359.1 997.6,1362.7 999.6,1366.4 1001.6,1370.2 1003.6,1374.5 1005.6,1378.7 1007.6,1382.5 1009.6,1385.8 1011.6,1389 1013.6,1391.8 1015.6,1394.2 1017.6,1396 1019.6,1397.6 1021.6,1399.1 1023.6,1400.3 1025.6,1401.2 1027.6,1402 1029.6,1402.6 1031.6,1403.1 1033.6,1403.6 1035.6,1404.1 1037.6,1404.4 1039.6,1404.8 1041.6,1405.1 1043.6,1405.5 1045.6,1405.8 1047.6,1406.1 1049.6,1406.3 1051.6,1406.4 1053.6,1406.4 1055.6,1406.4 1057.6,1406.4 1059.6,1406.4 1061.6,1406.4 1063.6,1406.4 1065.6,1406.4 1067.6,1406.4 1069.6,1406.4 1071.6,1406.5 1073.6,1406.6 1075.6,1406.8 1077.6,1407 1079.6,1407.3 1081.6,1407.5 1083.6,1407.8 1085.6,1408.1 1087.6,1408.4 1089.6,1408.8 1091.6,1409.2 1093.6,1409.6 1095.6,1410 1097.6,1410.3 1099.6,1410.6 1101.6,1410.6 1103.6,1410.5 1105.6,1410.3 1107.6,1409.9 1109.6,1409.4 1111.6,1408.9 1113.6,1408.5 1115.6,1408.2 1117.6,1408 1119.6,1408.1 1121.6,1408.2 1123.6,1408.5 1125.6,1408.8 1127.6,1409.1 1129.6,1409.4 1131.6,1409.7 1133.6,1410.1 1135.6,1410.5 1137.6,1411 1139.6,1411.2 1141.6,1411.3 1143.6,1410.8 1145.6,1409.8 1147.6,1408.6 1149.6,1407.2 1151.6,1405.8 1153.6,1404.1 1155.6,1402 1157.6,1399.7 1159.6,1397.4 1161.6,1395.3 1163.6,1393.5 1165.6,1392.1 1167.6,1390.6 1169.6,1389.1 1171.6,1387.8 1173.6,1386.8 1175.6,1386.2 1177.6,1386 1179.6,1386.2 1181.6,1386.4 1183.6,1386.7 1185.6,1387.1 1187.6,1387.5 1189.6,1388.2 1191.6,1389.1 1193.6,1390.1 1195.6,1391.2 1197.6,1392.2 1199.6,1393.1 1201.6,1393.8 1203.6,1394.5 1205.6,1395.1 1207.6,1395.8 1209.6,1396.4 1211.6,1396.9 1213.6,1397.5 1215.6,1398 1217.6,1398.5 1219.6,1399 1221.6,1399.5 1223.6,1400 1225.6,1400.5 1227.6,1400.9 1229.6,1401.2 1231.6,1401.4 1233.6,1401.5 1235.6,1401.5 1237.6,1401.5 1239.6,1401.5 1241.6,1401.5 1243.6,1401.5 1245.6,1401.5 1247.6,1401.5 1249.6,1401.5 1251.6,1401.4 1253.6,1401.2 1255.6,1401 1257.6,1400.8 1259.6,1400.6 1261.6,1400.5 1263.6,1400.5 1265.6,1400.6 1267.6,1400.9 1269.6,1401.2 1271.6,1401.5 1273.6,1401.8 1275.6,1402.1 1277.6,1402.4 1279.6,1402.7 1281.6,1403 1283.6,1403.3 1285.6,1403.6 1287.6,1403.9 1289.6,1404.2 1291.6,1404.4 1293.6,1404.7 1295.6,1404.9 1297.6,1405.1 1299.6,1405.4 1301.6,1405.7 1303.6,1406.1 1305.6,1406.6 1307.6,1407.2 1309.6,1407.9 1311.6,1408.6 1313.6,1409.2 1315.6,1409.9 1317.6,1410.7 1319.6,1411.6 1321.6,1412.4 1323.6,1412.9 1325.6,1412.9 1327.6,1412.9 1329.6,1412.9 1331.6,1412.9 1333.6,1412.9 1335.6,1412.9 1337.6,1412.7 1339.6,1412.4 1341.6,1412 1343.6,1411.5 1344.5,1411.3" fill="none" stroke="#edb120" stroke-width="4.6" stroke-linejoin="round" stroke-linecap="butt"/>
<g fill="#808080" stroke="#000" stroke-width="1.3"><rect x="1488.9" y="1517.4" width="8.8" height="0.5"/><rect x="1497.7" y="1516.8" width="8.8" height="1.1"/><rect x="1506.6" y="1516.8" width="8.8" height="1.1"/><rect x="1515.4" y="1516.8" width="8.8" height="1.1"/><rect x="1524.2" y="1516.8" width="8.8" height="1.1"/><rect x="1533" y="1516.8" width="8.8" height="1.1"/><rect x="1541.9" y="1516.6" width="8.8" height="1.3"/><rect x="1550.7" y="1516.6" width="8.8" height="1.3"/><rect x="1559.5" y="1516.3" width="8.8" height="1.6"/><rect x="1568.3" y="1516" width="8.8" height="1.9"/><rect x="1577.2" y="1515" width="8.8" height="2.9"/><rect x="1586" y="1513.6" width="8.8" height="4.3"/><rect x="1594.8" y="1512.8" width="8.8" height="5.1"/><rect x="1603.6" y="1508.8" width="8.8" height="9.1"/><rect x="1612.5" y="1501.9" width="8.8" height="16"/><rect x="1621.3" y="1490.2" width="8.8" height="27.7"/><rect x="1630.1" y="1469.4" width="8.8" height="48.5"/><rect x="1638.9" y="1446.2" width="8.8" height="71.7"/><rect x="1647.8" y="1408.4" width="8.8" height="109.5"/><rect x="1656.6" y="1361.8" width="8.8" height="156.1"/><rect x="1665.4" y="1331.4" width="8.8" height="186.5"/><rect x="1674.2" y="1284.5" width="8.8" height="233.4"/><rect x="1683.1" y="1269.1" width="8.8" height="248.8"/><rect x="1691.9" y="1251.5" width="8.8" height="266.4"/><rect x="1700.7" y="1255.5" width="8.8" height="262.4"/><rect x="1709.6" y="1269.1" width="8.8" height="248.8"/><rect x="1718.4" y="1279.5" width="8.8" height="238.4"/><rect x="1727.2" y="1294.9" width="8.8" height="223"/><rect x="1736" y="1321" width="8.8" height="196.9"/><rect x="1744.9" y="1350.1" width="8.8" height="167.8"/><rect x="1753.7" y="1375.4" width="8.8" height="142.5"/><rect x="1762.5" y="1391.6" width="8.8" height="126.3"/><rect x="1771.3" y="1419.6" width="8.8" height="98.3"/><rect x="1780.2" y="1434.3" width="8.8" height="83.6"/><rect x="1789" y="1455" width="8.8" height="62.9"/><rect x="1797.8" y="1465.4" width="8.8" height="52.5"/><rect x="1806.6" y="1473.9" width="8.8" height="44"/><rect x="1815.5" y="1489.9" width="8.8" height="28"/><rect x="1824.3" y="1495" width="8.8" height="22.9"/><rect x="1833.1" y="1501.4" width="8.8" height="16.5"/><rect x="1841.9" y="1505.1" width="8.8" height="12.8"/><rect x="1850.8" y="1506.7" width="8.8" height="11.2"/><rect x="1859.6" y="1509.1" width="8.8" height="8.8"/><rect x="1868.4" y="1510.2" width="8.8" height="7.7"/><rect x="1877.2" y="1513.6" width="8.8" height="4.3"/><rect x="1886.1" y="1514.7" width="8.8" height="3.2"/><rect x="1894.9" y="1515.8" width="8.8" height="2.1"/><rect x="1903.7" y="1516.8" width="8.8" height="1.1"/><rect x="1912.5" y="1517.1" width="8.8" height="0.8"/><rect x="1921.4" y="1517.4" width="8.8" height="0.5"/></g>
<line x1="1488.9" y1="1251.5" x2="1488.9" y2="1518.9" stroke="#222" stroke-width="2"/>
<line x1="1487.9" y1="1517.9" x2="1930.2" y2="1517.9" stroke="#222" stroke-width="2"/>
<line x1="1483.9" y1="1251.5" x2="1488.9" y2="1251.5" stroke="#222" stroke-width="2"/>
<line x1="1483.9" y1="1517.9" x2="1488.9" y2="1517.9" stroke="#222" stroke-width="2"/>
<line x1="1488.9" y1="1517.9" x2="1488.9" y2="1522.9" stroke="#222" stroke-width="2"/>
<text x="1486.4" y="1554" text-anchor="middle">-1</text>
<line x1="1709.6" y1="1517.9" x2="1709.6" y2="1522.9" stroke="#222" stroke-width="2"/>
<text x="1709.6" y="1554" text-anchor="middle">0</text>
<line x1="1930.2" y1="1517.9" x2="1930.2" y2="1522.9" stroke="#222" stroke-width="2"/>
<text x="1930.2" y="1554" text-anchor="middle">1</text>
<text x="1475.5" y="1262" text-anchor="end">100</text>
<text x="1475.5" y="1527.8" text-anchor="end">0</text>
<text x="1709.8" y="1581.6" text-anchor="middle">r</text>
<text x="1465" y="1384.7" text-anchor="middle" transform="rotate(-90 1465 1384.7)">Percentage</text>
<text x="1786.2" y="1270.2">&lt; r &gt; = 0.052</text>
<line x1="939.1" y1="1892" x2="1136.3" y2="1694.5" stroke="#858585" stroke-width="2"/>
<line x1="939.1" y1="1694.5" x2="939.1" y2="1893" stroke="#222" stroke-width="2"/>
<line x1="938.1" y1="1892" x2="1136.3" y2="1892" stroke="#222" stroke-width="2"/>
<line x1="939.1" y1="1694.5" x2="943.1" y2="1694.5" stroke="#222" stroke-width="2"/>
<text x="925.2" y="1704.3" text-anchor="end">8</text>
<line x1="939.1" y1="1892" x2="943.1" y2="1892" stroke="#222" stroke-width="2"/>
<text x="925.2" y="1901.8" text-anchor="end">0</text>
<line x1="939.1" y1="1892" x2="939.1" y2="1888" stroke="#222" stroke-width="2"/>
<text x="937.8" y="1923" text-anchor="middle">0</text>
<line x1="1136.3" y1="1892" x2="1136.3" y2="1888" stroke="#222" stroke-width="2"/>
<text x="1135.3" y="1923" text-anchor="middle">8</text>
<text x="1048.7" y="1960.2" text-anchor="middle">Neural firing time (s)</text>
<text x="1049" y="1663" text-anchor="middle" style="font-size:30.8px;">Example</text>
<text x="900.1" y="1782" text-anchor="middle" transform="rotate(-90 900.1 1782)">Time of reward (s)</text>
<text x="1160.5" y="1729">r = 0.23</text>
<text x="1160.3" y="1765.8">P = 0.16</text>
<g fill="#f5a933" stroke="#000" stroke-width="2.1"><circle cx="994.2" cy="1764" r="4"/><circle cx="996.2" cy="1773.9" r="4"/><circle cx="1010" cy="1781.4" r="4"/><circle cx="1007.7" cy="1787" r="4"/><circle cx="1001.1" cy="1786.4" r="4"/><circle cx="1000.8" cy="1793.6" r="4"/><circle cx="1002.8" cy="1798.5" r="4"/><circle cx="998.5" cy="1803.4" r="4"/><circle cx="1002.8" cy="1804.1" r="4"/><circle cx="996.9" cy="1810" r="4"/><circle cx="1005.1" cy="1813.3" r="4"/><circle cx="997.8" cy="1813.9" r="4"/><circle cx="993.6" cy="1818.2" r="4"/><circle cx="990.3" cy="1823.1" r="4"/><circle cx="986.4" cy="1825.7" r="4"/><circle cx="996.2" cy="1824.7" r="4"/><circle cx="1006.7" cy="1823.8" r="4"/><circle cx="1014.2" cy="1823.8" r="4"/><circle cx="1000.8" cy="1827" r="4"/><circle cx="991.9" cy="1829.7" r="4"/><circle cx="999.5" cy="1831.3" r="4"/><circle cx="1006" cy="1833.6" r="4"/><circle cx="993.6" cy="1836.2" r="4"/><circle cx="999.5" cy="1836.9" r="4"/><circle cx="991.9" cy="1841.1" r="4"/><circle cx="989.6" cy="1846.1" r="4"/><circle cx="1002.8" cy="1846.7" r="4"/><circle cx="1003.4" cy="1848.7" r="4"/></g>
<line x1="1407.2" y1="1889.9" x2="1605.3" y2="1692.7" stroke="#858585" stroke-width="2"/>
<line x1="1407.2" y1="1692.7" x2="1407.2" y2="1890.9" stroke="#222" stroke-width="2"/>
<line x1="1406.2" y1="1889.9" x2="1605.3" y2="1889.9" stroke="#222" stroke-width="2"/>
<line x1="1407.2" y1="1692.7" x2="1411.2" y2="1692.7" stroke="#222" stroke-width="2"/>
<text x="1399.5" y="1702.5" text-anchor="end">8</text>
<line x1="1407.2" y1="1889.9" x2="1411.2" y2="1889.9" stroke="#222" stroke-width="2"/>
<text x="1399.5" y="1899.7" text-anchor="end">0</text>
<line x1="1407.2" y1="1889.9" x2="1407.2" y2="1885.9" stroke="#222" stroke-width="2"/>
<text x="1406" y="1922.5" text-anchor="middle">0</text>
<line x1="1605.3" y1="1889.9" x2="1605.3" y2="1885.9" stroke="#222" stroke-width="2"/>
<text x="1604.4" y="1922.5" text-anchor="middle">8</text>
<text x="1495.6" y="1962.4" text-anchor="middle">Neural firing time (s)</text>
<text x="1493" y="1664.2" text-anchor="middle" style="font-size:30.8px;">Population</text>
<text x="1368.1" y="1792.7" text-anchor="middle" transform="rotate(-90 1368.1 1792.7)">Time of reward (s)</text>
<text x="1604.1" y="1729.2">r = -0.09</text>
<text x="1603.9" y="1766.2">P = 0.19</text>
<g fill="#f5a933" stroke="#000" stroke-width="2.1"><circle cx="1479.2" cy="1852.7" r="4"/><circle cx="1465.7" cy="1830.1" r="4"/><circle cx="1458.9" cy="1840.5" r="4"/><circle cx="1465.4" cy="1881.3" r="4"/><circle cx="1473.7" cy="1825.1" r="4"/><circle cx="1460.3" cy="1845" r="4"/><circle cx="1469.5" cy="1847.4" r="4"/><circle cx="1463.4" cy="1878.2" r="4"/><circle cx="1469.9" cy="1837.4" r="4"/><circle cx="1467.6" cy="1880.1" r="4"/><circle cx="1478.9" cy="1836.6" r="4"/><circle cx="1462.2" cy="1788.1" r="4"/><circle cx="1465" cy="1878.1" r="4"/><circle cx="1462.1" cy="1881.3" r="4"/><circle cx="1474" cy="1851.4" r="4"/><circle cx="1459.3" cy="1812.8" r="4"/><circle cx="1451.9" cy="1826.7" r="4"/><circle cx="1448.5" cy="1857.7" r="4"/><circle cx="1455.6" cy="1802.8" r="4"/><circle cx="1479.8" cy="1849.1" r="4"/><circle cx="1472.3" cy="1845.3" r="4"/><circle cx="1470" cy="1860.1" r="4"/><circle cx="1451.4" cy="1881.3" r="4"/><circle cx="1468.5" cy="1782.4" r="4"/><circle cx="1467.6" cy="1854.2" r="4"/><circle cx="1481" cy="1834.5" r="4"/><circle cx="1466.2" cy="1834.1" r="4"/><circle cx="1464.3" cy="1848.6" r="4"/><circle cx="1453.7" cy="1827.6" r="4"/><circle cx="1464.6" cy="1809.7" r="4"/><circle cx="1462.4" cy="1881.3" r="4"/><circle cx="1464.6" cy="1796.6" r="4"/><circle cx="1462.3" cy="1863.6" r="4"/><circle cx="1455.6" cy="1867.8" r="4"/><circle cx="1462.9" cy="1871.1" r="4"/><circle cx="1477.6" cy="1847.9" r="4"/><circle cx="1466.3" cy="1803.4" r="4"/><circle cx="1477.7" cy="1846.1" r="4"/><circle cx="1468.1" cy="1821.6" r="4"/><circle cx="1463.8" cy="1881.3" r="4"/><circle cx="1470.7" cy="1817.5" r="4"/><circle cx="1468.8" cy="1864.5" r="4"/><circle cx="1463.8" cy="1855.9" r="4"/><circle cx="1462.9" cy="1807" r="4"/><circle cx="1477.9" cy="1823.3" r="4"/><circle cx="1469.9" cy="1823.1" r="4"/><circle cx="1465.3" cy="1842.6" r="4"/><circle cx="1459.9" cy="1842" r="4"/><circle cx="1483.9" cy="1818.1" r="4"/><circle cx="1462.6" cy="1852.8" r="4"/><circle cx="1458.3" cy="1830.9" r="4"/><circle cx="1468.6" cy="1878" r="4"/><circle cx="1469.4" cy="1855.3" r="4"/><circle cx="1477.1" cy="1836.5" r="4"/><circle cx="1479.4" cy="1852.5" r="4"/><circle cx="1463" cy="1832.8" r="4"/><circle cx="1474" cy="1826" r="4"/><circle cx="1455.3" cy="1835.9" r="4"/><circle cx="1465.6" cy="1851.7" r="4"/><circle cx="1460.1" cy="1795.4" r="4"/><circle cx="1462.2" cy="1862.5" r="4"/><circle cx="1470.6" cy="1837.2" r="4"/><circle cx="1464.8" cy="1820.4" r="4"/><circle cx="1469.4" cy="1831.2" r="4"/><circle cx="1473.3" cy="1833.3" r="4"/><circle cx="1460.4" cy="1850" r="4"/><circle cx="1461.1" cy="1835.2" r="4"/><circle cx="1456.6" cy="1881.3" r="4"/><circle cx="1466.1" cy="1875.2" r="4"/><circle cx="1449.4" cy="1830.9" r="4"/><circle cx="1459.6" cy="1827.8" r="4"/><circle cx="1461.1" cy="1869.6" r="4"/><circle cx="1455.2" cy="1853.9" r="4"/><circle cx="1463.2" cy="1861.9" r="4"/><circle cx="1463.1" cy="1880.4" r="4"/><circle cx="1465.5" cy="1881.3" r="4"/><circle cx="1463.8" cy="1822.6" r="4"/><circle cx="1474.3" cy="1796.2" r="4"/><circle cx="1452.7" cy="1821" r="4"/><circle cx="1475.2" cy="1815.2" r="4"/><circle cx="1457.8" cy="1829.9" r="4"/><circle cx="1480.6" cy="1879.4" r="4"/><circle cx="1469.3" cy="1811.8" r="4"/><circle cx="1459.7" cy="1825.5" r="4"/><circle cx="1456.6" cy="1861.6" r="4"/><circle cx="1458.7" cy="1835.6" r="4"/><circle cx="1464.6" cy="1815.9" r="4"/><circle cx="1457.7" cy="1844" r="4"/><circle cx="1473.2" cy="1826.1" r="4"/><circle cx="1454.6" cy="1823.4" r="4"/><circle cx="1461.5" cy="1830.6" r="4"/><circle cx="1467.8" cy="1809" r="4"/><circle cx="1466.3" cy="1881.3" r="4"/><circle cx="1454.2" cy="1821.7" r="4"/><circle cx="1463.3" cy="1811.1" r="4"/><circle cx="1467.6" cy="1860" r="4"/><circle cx="1474.2" cy="1861.5" r="4"/><circle cx="1448.6" cy="1787.2" r="4"/><circle cx="1449.8" cy="1824.1" r="4"/><circle cx="1473.1" cy="1836.8" r="4"/><circle cx="1451.6" cy="1814.3" r="4"/><circle cx="1453.6" cy="1875.4" r="4"/><circle cx="1462.4" cy="1820.2" r="4"/><circle cx="1467.8" cy="1819.6" r="4"/><circle cx="1461.8" cy="1845.1" r="4"/><circle cx="1456.1" cy="1848.8" r="4"/><circle cx="1470.2" cy="1848.4" r="4"/><circle cx="1469.3" cy="1855.4" r="4"/><circle cx="1460.6" cy="1839.6" r="4"/><circle cx="1463.8" cy="1825.3" r="4"/><circle cx="1466.8" cy="1795.6" r="4"/><circle cx="1463.6" cy="1846.5" r="4"/><circle cx="1456.9" cy="1840" r="4"/><circle cx="1471" cy="1859.8" r="4"/><circle cx="1465" cy="1822" r="4"/><circle cx="1464.4" cy="1854" r="4"/><circle cx="1473.3" cy="1838.1" r="4"/><circle cx="1468.6" cy="1810.3" r="4"/><circle cx="1474.8" cy="1849.6" r="4"/><circle cx="1461.1" cy="1833.2" r="4"/><circle cx="1464.3" cy="1881.3" r="4"/><circle cx="1475.8" cy="1840.1" r="4"/><circle cx="1471.4" cy="1871" r="4"/><circle cx="1475.9" cy="1855.8" r="4"/><circle cx="1464.5" cy="1876.9" r="4"/><circle cx="1464" cy="1846.5" r="4"/><circle cx="1463.9" cy="1829.3" r="4"/><circle cx="1465.9" cy="1815.3" r="4"/><circle cx="1461.6" cy="1866.4" r="4"/><circle cx="1465.2" cy="1824.3" r="4"/><circle cx="1475.6" cy="1819.5" r="4"/><circle cx="1451" cy="1830.8" r="4"/><circle cx="1477.3" cy="1839" r="4"/><circle cx="1461.2" cy="1832.6" r="4"/><circle cx="1461.3" cy="1824.1" r="4"/><circle cx="1465.3" cy="1804.5" r="4"/><circle cx="1469.5" cy="1859.3" r="4"/><circle cx="1470.3" cy="1816.4" r="4"/><circle cx="1460.7" cy="1851.6" r="4"/><circle cx="1446.6" cy="1817.2" r="4"/><circle cx="1460.6" cy="1881.3" r="4"/><circle cx="1450.9" cy="1846.4" r="4"/><circle cx="1471.6" cy="1842.9" r="4"/><circle cx="1469.2" cy="1869.1" r="4"/><circle cx="1454.4" cy="1817.7" r="4"/><circle cx="1469.4" cy="1841.4" r="4"/><circle cx="1475.9" cy="1865.2" r="4"/><circle cx="1462" cy="1814" r="4"/><circle cx="1480.4" cy="1840.4" r="4"/><circle cx="1479.1" cy="1856.2" r="4"/><circle cx="1435.6" cy="1880.7" r="4"/><circle cx="1493.4" cy="1772" r="4"/><circle cx="1496.6" cy="1813.3" r="4"/><circle cx="1496.6" cy="1851.4" r="4"/><circle cx="1516.3" cy="1836.2" r="4"/><circle cx="1518.6" cy="1880.7" r="4"/><circle cx="1520.5" cy="1870.6" r="4"/><circle cx="1533.3" cy="1872.9" r="4"/><circle cx="1540.2" cy="1872.9" r="4"/><circle cx="1557.6" cy="1866.1" r="4"/><circle cx="1576" cy="1868.3" r="4"/><circle cx="1478.3" cy="1778.9" r="4"/><circle cx="1482.8" cy="1822.5" r="4"/><circle cx="1464.5" cy="1749.1" r="4"/><circle cx="1463.1" cy="1761.5" r="4"/><circle cx="1464.5" cy="1773.4" r="4"/><circle cx="1457.6" cy="1788.1" r="4"/><circle cx="1478.3" cy="1785.8" r="4"/><circle cx="1440.2" cy="1847.7" r="4"/><circle cx="1442.9" cy="1850" r="4"/><circle cx="1453" cy="1875.2" r="4"/></g>
<line x1="1843" y1="1889.9" x2="2041" y2="1692.7" stroke="#858585" stroke-width="2"/>
<line x1="1843" y1="1692.7" x2="1843" y2="1890.9" stroke="#222" stroke-width="2"/>
<line x1="1842" y1="1889.9" x2="2041" y2="1889.9" stroke="#222" stroke-width="2"/>
<line x1="1843" y1="1692.7" x2="1847" y2="1692.7" stroke="#222" stroke-width="2"/>
<text x="1833.5" y="1702.5" text-anchor="end">2.5</text>
<line x1="1843" y1="1811" x2="1847" y2="1811" stroke="#222" stroke-width="2"/>
<text x="1833.5" y="1820.8" text-anchor="end">1</text>
<line x1="1843" y1="1889.9" x2="1847" y2="1889.9" stroke="#222" stroke-width="2"/>
<text x="1833.5" y="1899.7" text-anchor="end">0</text>
<line x1="1922.2" y1="1889.9" x2="1922.2" y2="1885.9" stroke="#222" stroke-width="2"/>
<text x="1921.8" y="1924.5" text-anchor="middle">1</text>
<line x1="2041" y1="1889.9" x2="2041" y2="1885.9" stroke="#222" stroke-width="2"/>
<text x="2039.3" y="1924.5" text-anchor="middle">2.5</text>
<text x="1842" y="1924.5" text-anchor="middle">0</text>
<text x="1953.8" y="1962.4" text-anchor="middle">Neural firing time (norm.)</text>
<text x="1941.5" y="1664" text-anchor="middle" style="font-size:30.8px;">Population (norm.)</text>
<text x="1774.6" y="1792" text-anchor="middle" transform="rotate(-90 1774.6 1792)">Time of reward (norm.)</text>
<text x="2058.2" y="1729.2">r = 0.02</text>
<text x="2058" y="1766.2">P = 0.75</text>
<g fill="#f5a933" stroke="#000" stroke-width="2.1"><circle cx="1920.6" cy="1818.8" r="4"/><circle cx="1913.1" cy="1812.9" r="4"/><circle cx="1918.1" cy="1822.8" r="4"/><circle cx="1910.4" cy="1823.1" r="4"/><circle cx="1919" cy="1826.4" r="4"/><circle cx="1924.9" cy="1775.5" r="4"/><circle cx="1922.6" cy="1797.5" r="4"/><circle cx="1932.9" cy="1803.4" r="4"/><circle cx="1931" cy="1831.8" r="4"/><circle cx="1919.7" cy="1785" r="4"/><circle cx="1925.2" cy="1811.9" r="4"/><circle cx="1926.8" cy="1804.5" r="4"/><circle cx="1924.1" cy="1820.2" r="4"/><circle cx="1922" cy="1805.6" r="4"/><circle cx="1917.3" cy="1854.4" r="4"/><circle cx="1920.1" cy="1760.3" r="4"/><circle cx="1902.6" cy="1832" r="4"/><circle cx="1919.1" cy="1806.9" r="4"/><circle cx="1928.2" cy="1790.4" r="4"/><circle cx="1929.4" cy="1783" r="4"/><circle cx="1916.2" cy="1813.8" r="4"/><circle cx="1917.3" cy="1803.3" r="4"/><circle cx="1918.1" cy="1832.3" r="4"/><circle cx="1933.5" cy="1815.8" r="4"/><circle cx="1916.3" cy="1795" r="4"/><circle cx="1912.5" cy="1823.3" r="4"/><circle cx="1915.9" cy="1854.4" r="4"/><circle cx="1902.7" cy="1813.8" r="4"/><circle cx="1916.2" cy="1826.7" r="4"/><circle cx="1925.8" cy="1831.7" r="4"/><circle cx="1932" cy="1848.7" r="4"/><circle cx="1901.8" cy="1817.4" r="4"/><circle cx="1923.3" cy="1777.2" r="4"/><circle cx="1917.3" cy="1820.6" r="4"/><circle cx="1919.5" cy="1761.1" r="4"/><circle cx="1908.4" cy="1805.4" r="4"/><circle cx="1920.5" cy="1833" r="4"/><circle cx="1918" cy="1810.3" r="4"/><circle cx="1914.9" cy="1812.6" r="4"/><circle cx="1925.1" cy="1796.6" r="4"/><circle cx="1917.5" cy="1818.5" r="4"/><circle cx="1920.9" cy="1794.5" r="4"/><circle cx="1921.7" cy="1786.9" r="4"/><circle cx="1924" cy="1846.3" r="4"/><circle cx="1927.5" cy="1826.5" r="4"/><circle cx="1924.2" cy="1812.8" r="4"/><circle cx="1926.8" cy="1811.6" r="4"/><circle cx="1921.6" cy="1847.8" r="4"/><circle cx="1929.8" cy="1812.1" r="4"/><circle cx="1918" cy="1785.2" r="4"/><circle cx="1924.4" cy="1807.5" r="4"/><circle cx="1923.8" cy="1811.3" r="4"/><circle cx="1913.4" cy="1839.7" r="4"/><circle cx="1926.8" cy="1790.1" r="4"/><circle cx="1924.3" cy="1806" r="4"/><circle cx="1927.2" cy="1788" r="4"/><circle cx="1923.5" cy="1791.3" r="4"/><circle cx="1926.6" cy="1823.9" r="4"/><circle cx="1926.1" cy="1834.3" r="4"/><circle cx="1905.4" cy="1798.1" r="4"/><circle cx="1917.9" cy="1771.3" r="4"/><circle cx="1912.2" cy="1792.6" r="4"/><circle cx="1919" cy="1806.8" r="4"/><circle cx="1913.2" cy="1761.5" r="4"/><circle cx="1918.7" cy="1769.3" r="4"/><circle cx="1920.1" cy="1838.6" r="4"/><circle cx="1915.2" cy="1784.5" r="4"/><circle cx="1916.7" cy="1810.9" r="4"/><circle cx="1930" cy="1789.6" r="4"/><circle cx="1913.8" cy="1818.8" r="4"/><circle cx="1931.1" cy="1824.2" r="4"/><circle cx="1927.1" cy="1808.1" r="4"/><circle cx="1912.2" cy="1806.1" r="4"/><circle cx="1916.6" cy="1810" r="4"/><circle cx="1915.3" cy="1798.9" r="4"/><circle cx="1920.2" cy="1793.1" r="4"/><circle cx="1913.3" cy="1816.3" r="4"/><circle cx="1927.8" cy="1786.2" r="4"/><circle cx="1927.5" cy="1794.3" r="4"/><circle cx="1915.7" cy="1803.2" r="4"/><circle cx="1925" cy="1807" r="4"/><circle cx="1925.4" cy="1821.9" r="4"/><circle cx="1926" cy="1818.1" r="4"/><circle cx="1915" cy="1844.1" r="4"/><circle cx="1928.1" cy="1838.1" r="4"/><circle cx="1913.7" cy="1846.1" r="4"/><circle cx="1934.4" cy="1772.3" r="4"/><circle cx="1915.2" cy="1851.5" r="4"/><circle cx="1915.4" cy="1826.4" r="4"/><circle cx="1917.3" cy="1804.6" r="4"/><circle cx="1913.6" cy="1815.4" r="4"/><circle cx="1923.2" cy="1805" r="4"/><circle cx="1922.9" cy="1825.3" r="4"/><circle cx="1919.3" cy="1797.7" r="4"/><circle cx="1911.7" cy="1792.6" r="4"/><circle cx="1917.6" cy="1792.8" r="4"/><circle cx="1908.5" cy="1803.4" r="4"/><circle cx="1916.8" cy="1789.8" r="4"/><circle cx="1919.8" cy="1834.6" r="4"/><circle cx="1926.2" cy="1830.7" r="4"/><circle cx="1912.6" cy="1834.6" r="4"/><circle cx="1914.5" cy="1830.2" r="4"/><circle cx="1915.7" cy="1794.3" r="4"/><circle cx="1927" cy="1787.1" r="4"/><circle cx="1933.4" cy="1801.4" r="4"/><circle cx="1919.7" cy="1840.1" r="4"/><circle cx="1917.4" cy="1812.7" r="4"/><circle cx="1929.4" cy="1826.5" r="4"/><circle cx="1931.4" cy="1779.3" r="4"/><circle cx="1918.9" cy="1820.2" r="4"/><circle cx="1920.7" cy="1829.4" r="4"/><circle cx="1913.2" cy="1824.6" r="4"/><circle cx="1923.9" cy="1854.4" r="4"/><circle cx="1925.3" cy="1778" r="4"/><circle cx="1928.9" cy="1777.5" r="4"/><circle cx="1910.6" cy="1835.5" r="4"/><circle cx="1931.3" cy="1804.3" r="4"/><circle cx="1929.2" cy="1808.1" r="4"/><circle cx="1924.8" cy="1833.9" r="4"/><circle cx="1917" cy="1792.7" r="4"/><circle cx="1921.8" cy="1813.4" r="4"/><circle cx="1926.3" cy="1829.9" r="4"/><circle cx="1909.4" cy="1830.7" r="4"/><circle cx="1918.7" cy="1780.2" r="4"/><circle cx="1914.2" cy="1797.1" r="4"/><circle cx="1924.4" cy="1794.9" r="4"/><circle cx="1930.5" cy="1812.7" r="4"/><circle cx="1927.7" cy="1833.5" r="4"/><circle cx="1927.9" cy="1804.8" r="4"/><circle cx="1913.3" cy="1854.4" r="4"/><circle cx="1919.8" cy="1816.4" r="4"/><circle cx="1935.5" cy="1764.6" r="4"/><circle cx="1913.8" cy="1791.2" r="4"/><circle cx="1919.8" cy="1815.8" r="4"/><circle cx="1911.9" cy="1818.4" r="4"/><circle cx="1923.1" cy="1825.8" r="4"/><circle cx="1925.1" cy="1810" r="4"/><circle cx="1932.4" cy="1795.6" r="4"/><circle cx="1923.8" cy="1809.2" r="4"/><circle cx="1918.1" cy="1792.1" r="4"/><circle cx="1916.9" cy="1796.5" r="4"/><circle cx="1920.4" cy="1809" r="4"/><circle cx="1934.2" cy="1796.8" r="4"/><circle cx="1925.8" cy="1820.9" r="4"/><circle cx="1920.8" cy="1808.2" r="4"/><circle cx="1915.7" cy="1832.7" r="4"/><circle cx="1922.3" cy="1785" r="4"/><circle cx="1912.7" cy="1809.6" r="4"/><circle cx="1916" cy="1802.3" r="4"/><circle cx="1923" cy="1839.6" r="4"/><circle cx="1879.6" cy="1849.1" r="4"/><circle cx="1959.9" cy="1757.3" r="4"/><circle cx="1957.6" cy="1779.8" r="4"/><circle cx="1955.3" cy="1800.5" r="4"/><circle cx="1962.2" cy="1834.9" r="4"/><circle cx="1980.6" cy="1837.2" r="4"/><circle cx="1988.8" cy="1849.1" r="4"/><circle cx="2002.6" cy="1843.1" r="4"/><circle cx="2006.7" cy="1830.3" r="4"/><circle cx="2009.4" cy="1817.9" r="4"/><circle cx="2026.4" cy="1836.2" r="4"/><circle cx="1933.8" cy="1856.9" r="4"/><circle cx="1920.9" cy="1749.1" r="4"/><circle cx="1930.1" cy="1756" r="4"/><circle cx="1943.9" cy="1785.8" r="4"/><circle cx="1950.7" cy="1783.5" r="4"/><circle cx="1916.3" cy="1753.7" r="4"/><circle cx="1892.5" cy="1828" r="4"/><circle cx="1898.9" cy="1819.3" r="4"/><circle cx="1940.2" cy="1816.5" r="4"/></g>
<g fill="#0072bd" stroke="#000" stroke-width="1.6"><rect x="973.9" y="2222.3" width="29.5" height="88.1"/><rect x="1010" y="2222.3" width="29.5" height="88.1"/><rect x="1046.1" y="2134.2" width="29.5" height="176.2"/><rect x="1082.2" y="2266.3" width="29.5" height="44"/></g>
<line x1="916.5" y1="2112.9" x2="916.5" y2="2311.4" stroke="#222" stroke-width="2"/>
<line x1="915.5" y1="2310.4" x2="1169.1" y2="2310.4" stroke="#222" stroke-width="2"/>
<line x1="913" y1="2134.2" x2="916.5" y2="2134.2" stroke="#222" stroke-width="2"/>
<text x="902.2" y="2144.4" text-anchor="end">4</text>
<line x1="913" y1="2310.4" x2="916.5" y2="2310.4" stroke="#222" stroke-width="2"/>
<text x="902.2" y="2320.6" text-anchor="end">0</text>
<line x1="916.5" y1="2310.4" x2="916.5" y2="2313.9" stroke="#222" stroke-width="2"/>
<text x="914.5" y="2342.5" text-anchor="middle">-1</text>
<line x1="1042.8" y1="2310.4" x2="1042.8" y2="2313.9" stroke="#222" stroke-width="2"/>
<text x="1042.8" y="2342.5" text-anchor="middle">0</text>
<line x1="1169.1" y1="2310.4" x2="1169.1" y2="2313.9" stroke="#222" stroke-width="2"/>
<text x="1169.1" y="2342.5" text-anchor="middle">1</text>
<text x="1043.3" y="2373.5" text-anchor="middle">r (Neural firing time, Time of reward)</text>
<text x="1042" y="2100.7" text-anchor="middle">&lt; r &gt; = 0.11</text>
<text x="867.3" y="2224.4" text-anchor="middle" transform="rotate(-90 867.3 2224.4)">Cells × positions</text>
<path d="M1470.2 2118.2v12M1495.4 2118.2v12M1513.2 2118.2v12M1521.4 2118.2v12M1530.9 2118.2v12M1545.4 2118.2v12M1553.6 2118.2v12M1570.6 2118.2v12M1593.3 2118.2v12M1604.2 2118.2v12M1620.3 2118.2v12M1630.7 2118.2v12M1650.4 2118.2v12M1662.1 2118.2v12M1721.7 2118.2v12M1762.5 2118.2v12M1473.5 2138v12M1499.5 2138v12M1528.2 2138v12M1567.8 2138v12M1604.7 2138v12M1622 2138v12M1638.9 2138v12M1662.1 2138v12M1686.8 2138v12M1708.1 2138v12M1718.2 2138v12M1729.1 2138v12M1466.1 2157.8v12M1495.9 2157.8v12M1511.8 2157.8v12M1533.1 2157.8v12M1548.2 2157.8v12M1571.7 2157.8v12M1597.9 2157.8v12M1616.5 2157.8v12M1631.5 2157.8v12M1669 2157.8v12M1670.6 2157.8v12M1684 2157.8v12M1730.8 2157.8v12M1449.5 2177.6v12M1464 2177.6v12M1491.8 2177.6v12M1500.9 2177.6v12M1524.9 2177.6v12M1552.3 2177.6v12M1586.2 2177.6v12M1604.2 2177.6v12M1632.9 2177.6v12M1658 2177.6v12M1465.9 2197.4v12M1496.2 2197.4v12M1520 2197.4v12M1540.5 2197.4v12M1555 2197.4v12M1566.7 2197.4v12M1584.2 2197.4v12M1611.6 2197.4v12M1644.9 2197.4v12M1673.1 2197.4v12M1737.3 2197.4v12M1464 2217.2v12M1485.8 2217.2v12M1512.3 2217.2v12M1529.6 2217.2v12M1559.1 2217.2v12M1592.4 2217.2v12M1608.3 2217.2v12M1629.3 2217.2v12M1659.4 2217.2v12M1669 2217.2v12M1736 2217.2v12M1766 2217.2v12M1467.2 2237v12M1492.7 2237v12M1556.4 2237v12M1563.7 2237v12M1577.4 2237v12M1614.3 2237v12M1643.6 2237v12M1656.1 2237v12M1489.4 2256.8v12M1520 2256.8v12M1541 2256.8v12M1584.8 2256.8v12M1620.3 2256.8v12M1669.8 2256.8v12M1712.2 2256.8v12M1763.3 2256.8v12M1488.6 2276.6v12M1513.2 2276.6v12M1526.3 2276.6v12M1541.3 2276.6v12M1561 2276.6v12M1572.8 2276.6v12M1597.9 2276.6v12M1613.8 2276.6v12M1629.9 2276.6v12M1646.6 2276.6v12M1474.9 2296.4v12M1487.7 2296.4v12M1494 2296.4v12M1503 2296.4v12M1522.7 2296.4v12M1533.1 2296.4v12M1561.8 2296.4v12M1602 2296.4v12M1628 2296.4v12M1675.8 2296.4v12" stroke="#000" stroke-width="2.4" fill="none"/>
<line x1="1442.6" y1="2112.4" x2="1442.6" y2="2311.6" stroke="#222" stroke-width="2"/>
<line x1="1441.6" y1="2310.6" x2="1774.2" y2="2310.6" stroke="#222" stroke-width="2"/>
<line x1="1435.6" y1="2124.2" x2="1442.6" y2="2124.2" stroke="#222" stroke-width="2"/>
<text x="1423.5" y="2135.3" text-anchor="end">10</text>
<line x1="1442.6" y1="2310.6" x2="1442.6" y2="2315.6" stroke="#222" stroke-width="2"/>
<text x="1442.6" y="2342" text-anchor="middle">0</text>
<line x1="1774.2" y1="2310.6" x2="1774.2" y2="2315.6" stroke="#222" stroke-width="2"/>
<text x="1774.2" y="2342" text-anchor="middle">8</text>
<text x="1608" y="2364" text-anchor="middle">Time from landing (s)</text>
<text x="1607.8" y="2090.6" text-anchor="middle" style="font-size:30.8px;">Ear movements</text>
<text x="1411.2" y="2223.7" text-anchor="middle" transform="rotate(-90 1411.2 2223.7)">Trials</text>
<text x="-1" y="18.9" style="font-size:35px;font-weight:bold;fill:#000;">a</text>
<text x="-1" y="743.9" style="font-size:35px;font-weight:bold;fill:#000;">b</text>
<text x="6" y="1212.8" style="font-size:35px;font-weight:bold;fill:#000;">c</text>
<text x="-1" y="1968" style="font-size:35px;font-weight:bold;fill:#000;">d</text>
<text x="805" y="1211.2" style="font-size:35px;font-weight:bold;fill:#000;">e</text>
<text x="1401.5" y="1212.8" style="font-size:35px;font-weight:bold;fill:#000;">f</text>
<text x="841.5" y="1637.7" style="font-size:35px;font-weight:bold;fill:#000;">g</text>
<text x="1322.5" y="1638.7" style="font-size:35px;font-weight:bold;fill:#000;">h</text>
<text x="824.5" y="2093" style="font-size:35px;font-weight:bold;fill:#000;">i</text>
<text x="1340.5" y="2098.8" style="font-size:35px;font-weight:bold;fill:#000;">j</text>
</svg>
</body></html>
